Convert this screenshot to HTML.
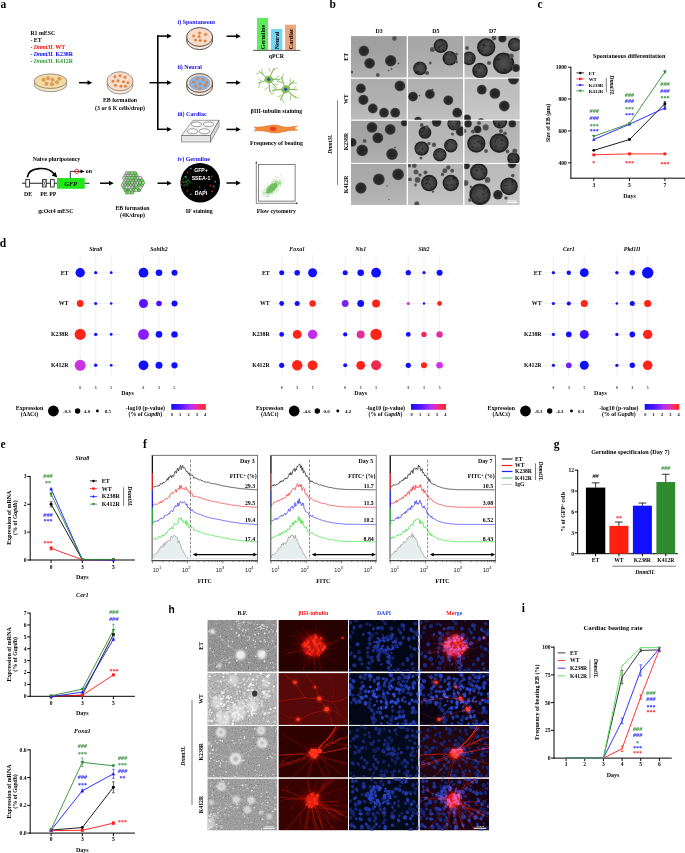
<!DOCTYPE html>
<html><head><meta charset="utf-8"><title>Figure</title>
<style>
html,body{margin:0;padding:0;background:#fff;}
body{width:685px;height:853px;overflow:hidden;font-family:"Liberation Serif",serif;}
svg{display:block;}
text{font-family:"Liberation Serif",serif;}
</style></head>
<body>
<svg width="685" height="853" viewBox="0 0 685 853">
<defs>
<filter id="bblur" x="-20%" y="-20%" width="140%" height="140%"><feGaussianBlur stdDeviation="0.55"/></filter>
<filter id="bblur2" x="-20%" y="-20%" width="140%" height="140%"><feGaussianBlur stdDeviation="0.75"/></filter>
<radialGradient id="sphS" cx="50%" cy="50%" r="50%"><stop offset="0" stop-color="#222"/><stop offset="0.75" stop-color="#2b2b2b"/><stop offset="1" stop-color="#4a4a4a"/></radialGradient>
<radialGradient id="sphL" cx="50%" cy="50%" r="50%"><stop offset="0" stop-color="#3e3e3e"/><stop offset="0.7" stop-color="#303030"/><stop offset="0.9" stop-color="#1c1c1c"/><stop offset="1" stop-color="#3a3a3a"/></radialGradient>
<radialGradient id="sphXL" cx="50%" cy="50%" r="50%"><stop offset="0" stop-color="#505050"/><stop offset="0.7" stop-color="#3c3c3c"/><stop offset="0.9" stop-color="#1e1e1e"/><stop offset="1" stop-color="#3a3a3a"/></radialGradient>
<radialGradient id="sphT" cx="50%" cy="50%" r="50%"><stop offset="0" stop-color="#484848"/><stop offset="1" stop-color="#5c5c5c"/></radialGradient>
<linearGradient id="bgv" x1="0" y1="0" x2="0" y2="1"><stop offset="0" stop-color="#000" stop-opacity="0.05"/><stop offset="1" stop-color="#fff" stop-opacity="0.10"/></linearGradient>
<clipPath id="bc00"><rect x="351.00" y="36.10" width="55.80" height="41.60"/></clipPath>
<clipPath id="bc01"><rect x="407.90" y="36.10" width="55.30" height="41.60"/></clipPath>
<clipPath id="bc02"><rect x="464.30" y="36.10" width="55.50" height="41.60"/></clipPath>
<clipPath id="bc10"><rect x="351.00" y="78.60" width="55.80" height="41.10"/></clipPath>
<clipPath id="bc11"><rect x="407.90" y="78.60" width="55.30" height="41.10"/></clipPath>
<clipPath id="bc12"><rect x="464.30" y="78.60" width="55.50" height="41.10"/></clipPath>
<clipPath id="bc20"><rect x="351.00" y="120.60" width="55.80" height="42.30"/></clipPath>
<clipPath id="bc21"><rect x="407.90" y="120.60" width="55.30" height="42.30"/></clipPath>
<clipPath id="bc22"><rect x="464.30" y="120.60" width="55.50" height="42.30"/></clipPath>
<clipPath id="bc30"><rect x="351.00" y="163.80" width="55.80" height="41.30"/></clipPath>
<clipPath id="bc31"><rect x="407.90" y="163.80" width="55.30" height="41.30"/></clipPath>
<clipPath id="bc32"><rect x="464.30" y="163.80" width="55.50" height="41.30"/></clipPath>
<linearGradient id="pgrad" x1="0" y1="0" x2="1" y2="0"><stop offset="0" stop-color="#1010ff"/><stop offset="0.3" stop-color="#5a18ff"/><stop offset="0.55" stop-color="#b030f8"/><stop offset="0.72" stop-color="#e030b0"/><stop offset="0.88" stop-color="#ff2848"/><stop offset="1" stop-color="#ff2418"/></linearGradient>
<filter id="hblur0" x="-30%" y="-30%" width="160%" height="160%"><feGaussianBlur stdDeviation="0.5"/></filter>
<filter id="hblur3" x="-30%" y="-30%" width="160%" height="160%"><feGaussianBlur stdDeviation="0.8"/></filter>
<filter id="hblur1" x="-40%" y="-40%" width="180%" height="180%"><feGaussianBlur stdDeviation="1.1"/></filter>
<filter id="hblur2" x="-50%" y="-50%" width="200%" height="200%"><feGaussianBlur stdDeviation="3"/></filter>
<filter id="hsoft" x="-5%" y="-5%" width="110%" height="110%"><feGaussianBlur stdDeviation="0.45"/></filter>
<filter id="grain" x="0" y="0" width="100%" height="100%"><feTurbulence type="fractalNoise" baseFrequency="0.85" numOctaves="2" seed="4" result="n"/><feColorMatrix in="n" type="matrix" values="1.7 0 0 0 -0.32  1.7 0 0 0 -0.32  1.7 0 0 0 -0.32  0 0 0 0 1"/></filter>
<filter id="rgrain" x="0" y="0" width="100%" height="100%"><feTurbulence type="fractalNoise" baseFrequency="0.9" numOctaves="1" seed="9" result="n"/><feColorMatrix in="n" type="matrix" values="0.5 0 0 0 0  0 0 0 0 0  0 0 0 0 0  0 0 0 0 0.55"/></filter>
<clipPath id="hclip"><rect x="0" y="0" width="69.6" height="51.8"/></clipPath>
<g id="hred0" filter="url(#hsoft)"><g fill="none" stroke="#f02412" stroke-linecap="round" stroke-linejoin="round" opacity="0.6"><path d="M16.9 31.7 L15.4 33.7 L13.6 35.4 L11.7 37.0 L9.8 38.7" stroke-width="0.13"/><path d="M9.6 33.6 L7.3 32.6 L5.0 31.8" stroke-width="0.13"/><path d="M26.3 28.3 L24.0 29.2 L21.6 29.9 L19.2 30.7 L16.9 31.7 L14.5 32.3 L12.0 32.9 L9.6 33.6 L7.2 34.1 L4.7 34.3" stroke-width="0.22"/><path d="M22.8 19.1 L21.6 17.0 L20.3 14.8 L19.6 12.4 L18.6 10.1" stroke-width="0.20"/><path d="M15.9 16.3 L13.8 17.7 L11.7 19.0" stroke-width="0.20"/><path d="M27.3 21.4 L25.0 20.4 L22.8 19.1 L20.5 18.1 L18.3 17.0 L15.9 16.3 L13.5 15.7 L11.0 15.2" stroke-width="0.33"/><path d="M35.5 35.0 L35.4 37.5 L35.6 40.0 L36.1 42.4 L37.0 44.7 L38.2 46.9" stroke-width="0.39"/><path d="M21.2 24.4 L19.7 22.4 L18.5 20.1 L17.7 17.8" stroke-width="0.22"/><path d="M26.0 25.7 L23.6 25.0 L21.2 24.4 L18.7 23.8 L16.3 23.4 L13.8 23.4" stroke-width="0.36"/><path d="M22.6 15.2 L21.9 12.8 L21.2 10.4" stroke-width="0.19"/><path d="M28.4 19.9 L26.7 18.1 L24.6 16.7 L22.6 15.2 L21.0 13.3 L19.1 11.6" stroke-width="0.32"/><path d="M37.5 9.7 L36.4 7.5 L35.2 5.2 L34.5 2.8" stroke-width="0.13"/><path d="M36.1 17.1 L36.8 14.7 L37.2 12.2 L37.5 9.7 L37.7 7.2 L37.7 4.7 L38.2 2.3 L38.9 -0.1" stroke-width="0.22"/><path d="M43.9 27.3 L46.3 27.9 L48.8 28.4 L51.3 28.6 L53.7 28.3 L56.2 28.2 L58.7 27.9" stroke-width="0.30"/><path d="M44.0 25.6 L46.4 24.9 L48.9 24.7 L51.3 24.2 L53.8 23.7 L56.2 22.9 L58.3 21.6" stroke-width="0.39"/><path d="M32.2 34.5 L31.8 37.0 L31.0 39.4 L30.6 41.9 L30.1 44.3 L29.7 46.8" stroke-width="0.30"/><path d="M44.0 25.1 L46.4 25.0 L48.9 24.4 L51.3 23.9 L53.8 23.6" stroke-width="0.35"/><path d="M53.7 40.8 L56.2 40.5 L58.7 40.7" stroke-width="0.15"/><path d="M41.4 32.3 L43.4 33.8 L45.4 35.3 L47.2 37.0 L49.3 38.4 L51.4 39.8 L53.7 40.8 L56.0 41.8" stroke-width="0.24"/><path d="M30.9 34.0 L29.9 36.3 L28.7 38.5 L27.7 40.8 L26.6 43.0 L25.8 45.4 L25.3 47.9 L24.7 50.3 L24.0 52.7" stroke-width="0.42"/><path d="M26.1 27.0 L23.6 27.2 L21.1 27.7 L18.6 27.9 L16.2 28.5 L13.8 29.2 L11.4 29.8 L8.9 30.4 L6.5 31.0 L4.2 31.8" stroke-width="0.26"/><path d="M30.8 18.1 L30.0 15.7 L28.8 13.5 L27.4 11.4 L25.8 9.5 L23.9 7.9" stroke-width="0.26"/><path d="M29.2 32.9 L27.4 34.6 L25.8 36.5 L24.4 38.6 L23.2 40.8 L22.4 43.1 L21.9 45.6" stroke-width="0.25"/><path d="M36.4 34.9 L36.5 37.4 L36.6 39.9 L36.6 42.4 L36.3 44.9 L36.4 47.4 L36.0 49.8 L35.6 52.3 L35.3 54.8" stroke-width="0.39"/><path d="M27.0 30.0 L24.5 30.3 L22.0 30.6 L19.6 31.0 L17.1 31.5 L14.6 31.9 L12.2 32.5 L9.8 32.9" stroke-width="0.43"/><path d="M40.0 35.0 L40.6 37.4 L41.1 39.9 L41.5 42.3 L41.6 44.8 L41.9 47.3 L41.9 49.8" stroke-width="0.43"/><path d="M44.0 24.0 L46.5 23.7 L49.0 23.5 L51.4 22.9 L53.8 22.2 L56.1 21.3 L58.5 20.4 L60.8 19.5 L63.2 18.9" stroke-width="0.31"/></g><circle cx="35.0" cy="26.0" r="13.5" fill="#a00c04" opacity="0.55" filter="url(#hblur2)"/><circle cx="35.0" cy="26.0" r="10.5" fill="#c8160a" opacity="0.8" filter="url(#hblur1)"/><circle cx="27.8" cy="23.7" r="1.0" fill="#c81408" opacity="0.8"/><circle cx="26.4" cy="25.9" r="1.4" fill="#ff2a14" opacity="0.8"/><circle cx="25.0" cy="26.5" r="1.5" fill="#c81408" opacity="0.8"/><circle cx="29.4" cy="23.4" r="1.3" fill="#ff3a20" opacity="0.8"/><circle cx="36.5" cy="27.0" r="1.4" fill="#ff2a14" opacity="0.8"/><circle cx="34.5" cy="23.1" r="1.3" fill="#c81408" opacity="0.8"/><circle cx="45.3" cy="27.6" r="1.6" fill="#c81408" opacity="0.8"/><circle cx="39.8" cy="20.5" r="1.2" fill="#e81c0c" opacity="0.8"/><circle cx="46.3" cy="26.1" r="1.3" fill="#ff3a20" opacity="0.8"/><circle cx="37.2" cy="28.7" r="1.5" fill="#c81408" opacity="0.8"/><circle cx="30.8" cy="25.9" r="1.1" fill="#e81c0c" opacity="0.8"/><circle cx="28.1" cy="26.7" r="1.2" fill="#ff3a20" opacity="0.8"/><circle cx="26.1" cy="30.9" r="1.3" fill="#c81408" opacity="0.8"/><circle cx="33.0" cy="30.6" r="1.4" fill="#c81408" opacity="0.8"/><circle cx="36.4" cy="20.8" r="1.4" fill="#c81408" opacity="0.8"/><circle cx="35.9" cy="33.6" r="1.2" fill="#c81408" opacity="0.8"/><circle cx="40.0" cy="35.0" r="1.8" fill="#e81c0c" opacity="0.8"/><circle cx="24.4" cy="24.9" r="1.7" fill="#e81c0c" opacity="0.8"/><circle cx="31.2" cy="33.7" r="1.3" fill="#ff3a20" opacity="0.8"/><circle cx="30.9" cy="27.0" r="1.4" fill="#ff3a20" opacity="0.8"/><circle cx="31.4" cy="29.4" r="1.4" fill="#ff3a20" opacity="0.8"/><circle cx="42.3" cy="26.6" r="0.8" fill="#ff3a20" opacity="0.8"/><circle cx="46.0" cy="27.2" r="0.8" fill="#c81408" opacity="0.8"/><circle cx="28.9" cy="32.7" r="1.6" fill="#e81c0c" opacity="0.8"/><circle cx="36.8" cy="15.6" r="1.8" fill="#e81c0c" opacity="0.8"/><circle cx="29.4" cy="21.6" r="1.2" fill="#ff2a14" opacity="0.8"/><circle cx="41.9" cy="17.5" r="0.8" fill="#ff2a14" opacity="0.8"/><circle cx="39.1" cy="33.2" r="1.3" fill="#ff2a14" opacity="0.8"/><circle cx="43.0" cy="32.5" r="0.9" fill="#ff2a14" opacity="0.8"/><circle cx="43.5" cy="31.9" r="0.8" fill="#c81408" opacity="0.8"/><circle cx="29.8" cy="22.0" r="1.4" fill="#ff2a14" opacity="0.8"/><circle cx="44.5" cy="29.6" r="1.9" fill="#ff3a20" opacity="0.8"/><circle cx="38.7" cy="27.4" r="0.9" fill="#ff3a20" opacity="0.8"/><circle cx="42.1" cy="19.8" r="1.2" fill="#c81408" opacity="0.8"/><circle cx="35.8" cy="29.6" r="1.6" fill="#ff2a14" opacity="0.8"/><circle cx="43.2" cy="24.3" r="1.6" fill="#e81c0c" opacity="0.8"/><circle cx="33.0" cy="21.0" r="1.7" fill="#c81408" opacity="0.8"/><circle cx="35.1" cy="20.4" r="1.7" fill="#ff2a14" opacity="0.8"/><circle cx="35.8" cy="26.9" r="0.9" fill="#c81408" opacity="0.8"/><circle cx="26.5" cy="23.4" r="1.0" fill="#ff2a14" opacity="0.8"/><circle cx="42.9" cy="18.3" r="1.3" fill="#ff2a14" opacity="0.8"/><circle cx="32.5" cy="31.8" r="1.5" fill="#c81408" opacity="0.8"/><circle cx="46.3" cy="27.5" r="1.9" fill="#ff2a14" opacity="0.8"/><circle cx="38.5" cy="25.4" r="1.3" fill="#ff3a20" opacity="0.8"/><circle cx="26.7" cy="25.8" r="0.9" fill="#ff2a14" opacity="0.8"/><circle cx="33.0" cy="34.6" r="1.6" fill="#e81c0c" opacity="0.8"/><circle cx="36.1" cy="21.3" r="1.8" fill="#ff3a20" opacity="0.8"/><circle cx="35.3" cy="22.8" r="1.0" fill="#ff3a20" opacity="0.8"/><circle cx="29.1" cy="32.7" r="1.8" fill="#e81c0c" opacity="0.8"/><circle cx="38.1" cy="16.3" r="1.2" fill="#e81c0c" opacity="0.8"/><circle cx="42.1" cy="32.6" r="1.7" fill="#c81408" opacity="0.8"/><circle cx="34.2" cy="17.5" r="1.4" fill="#c81408" opacity="0.8"/><circle cx="38.9" cy="29.8" r="1.4" fill="#c81408" opacity="0.8"/><circle cx="36.4" cy="24.1" r="1.7" fill="#ff2a14" opacity="0.8"/><circle cx="32.7" cy="18.6" r="0.8" fill="#ff2a14" opacity="0.8"/><circle cx="39.6" cy="19.6" r="1.5" fill="#c81408" opacity="0.8"/><circle cx="37.3" cy="29.4" r="1.9" fill="#c81408" opacity="0.8"/><circle cx="27.7" cy="24.9" r="1.9" fill="#ff2a14" opacity="0.8"/><circle cx="37.4" cy="17.8" r="1.7" fill="#ff3a20" opacity="0.8"/><circle cx="32.4" cy="24.4" r="0.8" fill="#e81c0c" opacity="0.8"/><circle cx="40.4" cy="31.0" r="1.4" fill="#ff2a14" opacity="0.8"/><circle cx="26.0" cy="22.5" r="0.9" fill="#ff3a20" opacity="0.8"/><circle cx="32.5" cy="17.5" r="1.7" fill="#c81408" opacity="0.8"/><circle cx="27.5" cy="24.8" r="1.8" fill="#ff2a14" opacity="0.8"/><circle cx="45.5" cy="23.1" r="0.8" fill="#e81c0c" opacity="0.8"/><circle cx="28.1" cy="33.6" r="1.2" fill="#e81c0c" opacity="0.8"/><circle cx="41.0" cy="23.4" r="1.7" fill="#ff2a14" opacity="0.8"/><circle cx="39.7" cy="28.7" r="1.6" fill="#ff2a14" opacity="0.8"/><circle cx="33.9" cy="31.5" r="1.5" fill="#ff2a14" opacity="0.8"/><circle cx="38.3" cy="23.8" r="1.0" fill="#ff2a14" opacity="0.8"/><circle cx="64.2" cy="18" r="1.3" fill="#e02010"/></g>
<g id="hdapi0" filter="url(#hsoft)"><ellipse cx="18.9" cy="28.1" rx="2.2" ry="1.8" fill="rgb(20,33,103)" transform="rotate(164 18.9 28.1)"/><ellipse cx="49.3" cy="49.7" rx="2.1" ry="2.1" fill="rgb(20,34,106)" transform="rotate(169 49.3 49.7)"/><ellipse cx="25.7" cy="27.6" rx="2.4" ry="2.3" fill="rgb(19,33,101)" transform="rotate(155 25.7 27.6)"/><ellipse cx="58.6" cy="51.4" rx="2.3" ry="2.3" fill="rgb(19,32,101)" transform="rotate(119 58.6 51.4)"/><ellipse cx="64.6" cy="48.6" rx="1.6" ry="1.2" fill="rgb(29,48,142)" transform="rotate(91 64.6 48.6)"/><ellipse cx="3.8" cy="12.5" rx="2.0" ry="1.5" fill="rgb(16,28,87)" transform="rotate(56 3.8 12.5)"/><ellipse cx="65.8" cy="29.2" rx="2.1" ry="1.8" fill="rgb(31,50,149)" transform="rotate(15 65.8 29.2)"/><ellipse cx="10.1" cy="32.2" rx="2.2" ry="2.2" fill="rgb(18,30,94)" transform="rotate(4 10.1 32.2)"/><ellipse cx="65.1" cy="12.0" rx="1.6" ry="1.3" fill="rgb(26,44,131)" transform="rotate(23 65.1 12.0)"/><ellipse cx="24.6" cy="9.0" rx="1.7" ry="1.5" fill="rgb(28,45,136)" transform="rotate(141 24.6 9.0)"/><ellipse cx="68.0" cy="10.6" rx="1.6" ry="1.3" fill="rgb(19,32,100)" transform="rotate(14 68.0 10.6)"/><ellipse cx="18.0" cy="4.1" rx="1.9" ry="1.3" fill="rgb(20,34,104)" transform="rotate(151 18.0 4.1)"/><ellipse cx="7.1" cy="0.8" rx="2.4" ry="1.8" fill="rgb(18,30,94)" transform="rotate(7 7.1 0.8)"/><ellipse cx="0.3" cy="27.3" rx="1.6" ry="1.6" fill="rgb(18,30,95)" transform="rotate(127 0.3 27.3)"/><ellipse cx="20.7" cy="19.0" rx="2.4" ry="2.0" fill="rgb(22,37,113)" transform="rotate(95 20.7 19.0)"/><ellipse cx="40.3" cy="16.3" rx="2.3" ry="1.5" fill="rgb(21,35,106)" transform="rotate(179 40.3 16.3)"/><ellipse cx="51.6" cy="12.6" rx="2.1" ry="1.4" fill="rgb(28,45,136)" transform="rotate(46 51.6 12.6)"/><ellipse cx="34.6" cy="19.1" rx="1.7" ry="1.1" fill="rgb(17,30,93)" transform="rotate(153 34.6 19.1)"/><ellipse cx="51.5" cy="23.4" rx="2.3" ry="2.2" fill="rgb(27,45,135)" transform="rotate(58 51.5 23.4)"/><ellipse cx="19.3" cy="48.2" rx="2.4" ry="1.7" fill="rgb(23,38,116)" transform="rotate(10 19.3 48.2)"/><ellipse cx="54.3" cy="17.9" rx="1.8" ry="1.5" fill="rgb(30,49,145)" transform="rotate(82 54.3 17.9)"/><ellipse cx="47.0" cy="26.1" rx="2.3" ry="1.7" fill="rgb(19,32,99)" transform="rotate(103 47.0 26.1)"/><ellipse cx="45.7" cy="0.6" rx="1.6" ry="1.1" fill="rgb(17,28,89)" transform="rotate(141 45.7 0.6)"/><ellipse cx="33.5" cy="0.1" rx="1.8" ry="1.5" fill="rgb(25,42,127)" transform="rotate(88 33.5 0.1)"/><ellipse cx="68.1" cy="51.2" rx="2.3" ry="1.6" fill="rgb(20,33,102)" transform="rotate(25 68.1 51.2)"/><ellipse cx="54.1" cy="44.3" rx="1.9" ry="1.7" fill="rgb(22,37,113)" transform="rotate(114 54.1 44.3)"/><ellipse cx="63.4" cy="43.8" rx="2.1" ry="1.5" fill="rgb(28,46,139)" transform="rotate(134 63.4 43.8)"/><ellipse cx="29.2" cy="8.2" rx="2.2" ry="1.7" fill="rgb(29,48,144)" transform="rotate(172 29.2 8.2)"/><ellipse cx="30.4" cy="33.4" rx="2.5" ry="2.1" fill="rgb(18,31,97)" transform="rotate(115 30.4 33.4)"/><ellipse cx="58.6" cy="39.4" rx="2.5" ry="1.9" fill="rgb(27,45,135)" transform="rotate(79 58.6 39.4)"/><ellipse cx="5.1" cy="7.8" rx="2.3" ry="1.6" fill="rgb(23,38,116)" transform="rotate(98 5.1 7.8)"/><ellipse cx="27.6" cy="13.5" rx="1.8" ry="1.7" fill="rgb(18,30,94)" transform="rotate(173 27.6 13.5)"/><ellipse cx="23.6" cy="40.9" rx="1.9" ry="1.6" fill="rgb(24,40,121)" transform="rotate(93 23.6 40.9)"/><ellipse cx="37.1" cy="33.5" rx="2.0" ry="1.5" fill="rgb(22,36,111)" transform="rotate(92 37.1 33.5)"/><ellipse cx="69.3" cy="23.9" rx="1.8" ry="1.4" fill="rgb(19,32,98)" transform="rotate(115 69.3 23.9)"/><ellipse cx="40.6" cy="51.2" rx="1.8" ry="1.5" fill="rgb(29,47,142)" transform="rotate(49 40.6 51.2)"/><ellipse cx="39.4" cy="41.9" rx="2.4" ry="2.4" fill="rgb(31,50,150)" transform="rotate(156 39.4 41.9)"/><ellipse cx="0.7" cy="50.3" rx="1.7" ry="1.7" fill="rgb(29,47,141)" transform="rotate(102 0.7 50.3)"/><ellipse cx="66.3" cy="3.7" rx="2.0" ry="1.7" fill="rgb(24,40,122)" transform="rotate(19 66.3 3.7)"/><ellipse cx="14.4" cy="14.5" rx="1.6" ry="1.2" fill="rgb(29,48,143)" transform="rotate(122 14.4 14.5)"/><ellipse cx="22.4" cy="15.3" rx="2.5" ry="2.4" fill="rgb(17,29,92)" transform="rotate(65 22.4 15.3)"/><ellipse cx="24.4" cy="30.8" rx="2.0" ry="1.5" fill="rgb(23,39,117)" transform="rotate(79 24.4 30.8)"/><ellipse cx="11.5" cy="6.2" rx="2.2" ry="2.1" fill="rgb(22,37,114)" transform="rotate(156 11.5 6.2)"/><ellipse cx="49.7" cy="9.6" rx="2.0" ry="2.0" fill="rgb(17,29,91)" transform="rotate(140 49.7 9.6)"/><ellipse cx="55.1" cy="9.0" rx="1.8" ry="1.4" fill="rgb(21,36,110)" transform="rotate(58 55.1 9.0)"/><ellipse cx="32.5" cy="44.5" rx="1.6" ry="1.1" fill="rgb(29,47,141)" transform="rotate(130 32.5 44.5)"/><ellipse cx="13.0" cy="44.1" rx="1.7" ry="1.7" fill="rgb(21,35,107)" transform="rotate(26 13.0 44.1)"/><ellipse cx="41.9" cy="45.1" rx="1.8" ry="1.4" fill="rgb(30,50,148)" transform="rotate(78 41.9 45.1)"/><ellipse cx="19.1" cy="36.6" rx="1.8" ry="1.6" fill="rgb(22,37,112)" transform="rotate(86 19.1 36.6)"/><ellipse cx="44.1" cy="28.2" rx="2.1" ry="1.8" fill="rgb(23,39,118)" transform="rotate(69 44.1 28.2)"/><ellipse cx="55.2" cy="51.6" rx="2.2" ry="1.9" fill="rgb(17,29,92)" transform="rotate(10 55.2 51.6)"/><ellipse cx="28.8" cy="30.5" rx="2.1" ry="1.6" fill="rgb(23,38,116)" transform="rotate(153 28.8 30.5)"/><ellipse cx="2.0" cy="33.7" rx="2.2" ry="1.7" fill="rgb(22,36,111)" transform="rotate(115 2.0 33.7)"/><ellipse cx="1.0" cy="16.7" rx="2.4" ry="2.0" fill="rgb(22,37,112)" transform="rotate(75 1.0 16.7)"/><ellipse cx="44.9" cy="50.9" rx="2.4" ry="1.5" fill="rgb(23,38,116)" transform="rotate(128 44.9 50.9)"/><ellipse cx="43.4" cy="15.3" rx="2.4" ry="2.0" fill="rgb(29,47,142)" transform="rotate(73 43.4 15.3)"/><ellipse cx="22.5" cy="37.9" rx="2.3" ry="1.9" fill="rgb(23,39,118)" transform="rotate(160 22.5 37.9)"/><ellipse cx="11.2" cy="39.0" rx="2.4" ry="2.4" fill="rgb(22,37,114)" transform="rotate(22 11.2 39.0)"/><ellipse cx="20.4" cy="43.1" rx="2.2" ry="1.8" fill="rgb(22,37,112)" transform="rotate(35 20.4 43.1)"/><ellipse cx="40.5" cy="38.8" rx="2.1" ry="1.5" fill="rgb(24,40,120)" transform="rotate(110 40.5 38.8)"/><ellipse cx="5.8" cy="36.6" rx="1.9" ry="1.7" fill="rgb(30,49,145)" transform="rotate(15 5.8 36.6)"/><ellipse cx="33.0" cy="8.3" rx="2.2" ry="2.2" fill="rgb(22,37,113)" transform="rotate(123 33.0 8.3)"/><ellipse cx="8.7" cy="24.3" rx="2.2" ry="2.0" fill="rgb(27,45,135)" transform="rotate(166 8.7 24.3)"/><ellipse cx="18.7" cy="32.7" rx="1.7" ry="1.4" fill="rgb(26,43,130)" transform="rotate(88 18.7 32.7)"/><ellipse cx="29.3" cy="37.0" rx="2.2" ry="1.9" fill="rgb(30,50,148)" transform="rotate(102 29.3 37.0)"/><ellipse cx="46.7" cy="21.8" rx="1.9" ry="1.3" fill="rgb(21,36,110)" transform="rotate(12 46.7 21.8)"/><ellipse cx="54.0" cy="5.6" rx="2.5" ry="2.1" fill="rgb(29,47,141)" transform="rotate(21 54.0 5.6)"/><ellipse cx="59.9" cy="18.9" rx="2.4" ry="1.7" fill="rgb(30,50,148)" transform="rotate(95 59.9 18.9)"/><ellipse cx="39.7" cy="47.9" rx="1.8" ry="1.7" fill="rgb(30,50,149)" transform="rotate(167 39.7 47.9)"/><ellipse cx="62.8" cy="35.8" rx="2.2" ry="2.1" fill="rgb(17,29,90)" transform="rotate(5 62.8 35.8)"/><ellipse cx="68.3" cy="14.1" rx="2.4" ry="2.3" fill="rgb(26,43,129)" transform="rotate(144 68.3 14.1)"/><ellipse cx="36.1" cy="3.3" rx="2.3" ry="1.6" fill="rgb(22,36,111)" transform="rotate(52 36.1 3.3)"/><ellipse cx="42.4" cy="8.6" rx="2.1" ry="2.1" fill="rgb(23,38,115)" transform="rotate(58 42.4 8.6)"/><ellipse cx="43.5" cy="38.3" rx="2.4" ry="1.9" fill="rgb(18,31,97)" transform="rotate(175 43.5 38.3)"/><ellipse cx="69.6" cy="31.3" rx="1.9" ry="1.3" fill="rgb(21,35,107)" transform="rotate(153 69.6 31.3)"/><ellipse cx="62.2" cy="9.8" rx="2.2" ry="1.7" fill="rgb(31,50,149)" transform="rotate(63 62.2 9.8)"/><ellipse cx="21.1" cy="5.2" rx="1.8" ry="1.2" fill="rgb(23,39,117)" transform="rotate(43 21.1 5.2)"/><ellipse cx="61.6" cy="27.2" rx="2.0" ry="1.4" fill="rgb(21,36,110)" transform="rotate(70 61.6 27.2)"/><ellipse cx="47.8" cy="18.6" rx="1.9" ry="1.5" fill="rgb(17,30,93)" transform="rotate(44 47.8 18.6)"/><ellipse cx="29.8" cy="40.1" rx="2.0" ry="1.5" fill="rgb(29,48,142)" transform="rotate(32 29.8 40.1)"/><ellipse cx="20.3" cy="13.0" rx="1.9" ry="1.5" fill="rgb(29,48,143)" transform="rotate(6 20.3 13.0)"/><ellipse cx="0.9" cy="2.8" rx="2.4" ry="2.3" fill="rgb(21,35,107)" transform="rotate(159 0.9 2.8)"/><ellipse cx="5.4" cy="45.4" rx="2.2" ry="2.0" fill="rgb(26,42,128)" transform="rotate(12 5.4 45.4)"/><ellipse cx="21.0" cy="23.7" rx="2.2" ry="2.1" fill="rgb(22,37,113)" transform="rotate(18 21.0 23.7)"/><ellipse cx="64.8" cy="17.9" rx="2.0" ry="2.0" fill="rgb(23,38,115)" transform="rotate(49 64.8 17.9)"/><ellipse cx="36.4" cy="30.5" rx="1.3" ry="1.3" fill="rgb(28,46,138)" transform="rotate(107 36.4 30.5)"/><ellipse cx="30.2" cy="20.0" rx="1.2" ry="0.9" fill="rgb(34,55,162)" transform="rotate(163 30.2 20.0)"/><ellipse cx="40.6" cy="29.1" rx="1.3" ry="0.9" fill="rgb(32,53,157)" transform="rotate(172 40.6 29.1)"/><ellipse cx="37.1" cy="17.4" rx="1.4" ry="1.3" fill="rgb(29,48,142)" transform="rotate(98 37.1 17.4)"/><ellipse cx="33.1" cy="29.4" rx="1.8" ry="1.4" fill="rgb(29,47,141)" transform="rotate(50 33.1 29.4)"/><ellipse cx="35.8" cy="21.0" rx="1.4" ry="1.0" fill="rgb(34,56,165)" transform="rotate(87 35.8 21.0)"/><ellipse cx="38.8" cy="27.3" rx="1.8" ry="1.5" fill="rgb(27,45,136)" transform="rotate(85 38.8 27.3)"/><ellipse cx="29.0" cy="26.1" rx="1.5" ry="1.5" fill="rgb(36,59,174)" transform="rotate(133 29.0 26.1)"/><ellipse cx="36.9" cy="29.9" rx="1.8" ry="1.5" fill="rgb(29,48,144)" transform="rotate(114 36.9 29.9)"/><ellipse cx="42.5" cy="29.7" rx="1.3" ry="1.0" fill="rgb(35,57,169)" transform="rotate(167 42.5 29.7)"/><ellipse cx="34.4" cy="18.1" rx="1.6" ry="1.2" fill="rgb(37,60,175)" transform="rotate(16 34.4 18.1)"/><ellipse cx="42.3" cy="18.4" rx="1.4" ry="1.0" fill="rgb(29,47,140)" transform="rotate(42 42.3 18.4)"/><ellipse cx="30.0" cy="21.9" rx="1.8" ry="1.4" fill="rgb(30,49,147)" transform="rotate(72 30.0 21.9)"/><ellipse cx="26.2" cy="26.6" rx="1.8" ry="1.7" fill="rgb(35,57,168)" transform="rotate(100 26.2 26.6)"/><ellipse cx="39.2" cy="28.6" rx="1.4" ry="1.4" fill="rgb(31,51,151)" transform="rotate(87 39.2 28.6)"/><ellipse cx="39.8" cy="29.2" rx="1.2" ry="1.2" fill="rgb(37,60,175)" transform="rotate(102 39.8 29.2)"/><ellipse cx="47.1" cy="22.5" rx="1.5" ry="1.2" fill="rgb(32,52,154)" transform="rotate(1 47.1 22.5)"/><ellipse cx="34.4" cy="20.9" rx="1.3" ry="1.2" fill="rgb(36,59,173)" transform="rotate(7 34.4 20.9)"/><ellipse cx="45.4" cy="22.2" rx="1.6" ry="1.5" fill="rgb(36,59,173)" transform="rotate(164 45.4 22.2)"/><ellipse cx="28.6" cy="27.0" rx="1.4" ry="1.2" fill="rgb(37,59,174)" transform="rotate(101 28.6 27.0)"/><ellipse cx="48.9" cy="27.5" rx="1.3" ry="0.9" fill="rgb(36,59,174)" transform="rotate(13 48.9 27.5)"/><ellipse cx="44.0" cy="28.5" rx="1.7" ry="1.2" fill="rgb(37,60,175)" transform="rotate(104 44.0 28.5)"/><ellipse cx="31.3" cy="20.6" rx="1.6" ry="1.5" fill="rgb(35,57,167)" transform="rotate(149 31.3 20.6)"/><ellipse cx="43.5" cy="25.7" rx="1.4" ry="1.0" fill="rgb(29,48,142)" transform="rotate(21 43.5 25.7)"/><ellipse cx="38.8" cy="30.6" rx="1.2" ry="1.0" fill="rgb(31,51,151)" transform="rotate(174 38.8 30.6)"/><ellipse cx="42.7" cy="33.0" rx="1.2" ry="1.1" fill="rgb(28,47,139)" transform="rotate(125 42.7 33.0)"/><ellipse cx="34.9" cy="31.9" rx="1.7" ry="1.6" fill="rgb(26,44,131)" transform="rotate(123 34.9 31.9)"/><ellipse cx="37.3" cy="30.7" rx="1.2" ry="1.0" fill="rgb(37,61,178)" transform="rotate(51 37.3 30.7)"/><ellipse cx="34.9" cy="30.0" rx="1.2" ry="1.2" fill="rgb(31,51,151)" transform="rotate(9 34.9 30.0)"/><ellipse cx="39.1" cy="33.8" rx="1.4" ry="1.0" fill="rgb(32,52,155)" transform="rotate(141 39.1 33.8)"/><ellipse cx="25.5" cy="22.2" rx="1.4" ry="1.1" fill="rgb(29,47,141)" transform="rotate(158 25.5 22.2)"/><ellipse cx="31.3" cy="32.3" rx="1.7" ry="1.7" fill="rgb(27,44,133)" transform="rotate(142 31.3 32.3)"/><ellipse cx="32.3" cy="29.0" rx="1.5" ry="1.1" fill="rgb(34,56,164)" transform="rotate(175 32.3 29.0)"/><ellipse cx="42.5" cy="18.4" rx="1.7" ry="1.4" fill="rgb(31,51,151)" transform="rotate(162 42.5 18.4)"/><ellipse cx="40.6" cy="36.0" rx="1.6" ry="1.2" fill="rgb(34,56,164)" transform="rotate(154 40.6 36.0)"/><ellipse cx="30.7" cy="35.4" rx="1.2" ry="1.0" fill="rgb(27,44,133)" transform="rotate(45 30.7 35.4)"/><ellipse cx="48.1" cy="25.9" rx="1.2" ry="1.1" fill="rgb(28,46,139)" transform="rotate(128 48.1 25.9)"/><ellipse cx="26.1" cy="27.1" rx="1.3" ry="1.3" fill="rgb(29,48,144)" transform="rotate(103 26.1 27.1)"/><ellipse cx="27.5" cy="28.8" rx="1.3" ry="1.0" fill="rgb(29,47,141)" transform="rotate(120 27.5 28.8)"/><ellipse cx="46.1" cy="20.8" rx="1.7" ry="1.1" fill="rgb(34,55,162)" transform="rotate(156 46.1 20.8)"/><ellipse cx="34.2" cy="15.3" rx="1.3" ry="0.9" fill="rgb(27,44,133)" transform="rotate(63 34.2 15.3)"/><ellipse cx="29.1" cy="18.3" rx="1.6" ry="1.1" fill="rgb(38,61,179)" transform="rotate(24 29.1 18.3)"/><ellipse cx="33.7" cy="26.2" rx="1.2" ry="0.9" fill="rgb(31,50,149)" transform="rotate(0 33.7 26.2)"/><ellipse cx="32.7" cy="28.6" rx="1.2" ry="1.0" fill="rgb(37,60,177)" transform="rotate(69 32.7 28.6)"/><ellipse cx="33.6" cy="26.4" rx="1.7" ry="1.1" fill="rgb(36,59,173)" transform="rotate(119 33.6 26.4)"/><ellipse cx="28.6" cy="22.6" rx="1.5" ry="1.4" fill="rgb(26,44,131)" transform="rotate(39 28.6 22.6)"/><ellipse cx="39.0" cy="36.9" rx="1.6" ry="1.3" fill="rgb(36,59,173)" transform="rotate(174 39.0 36.9)"/><ellipse cx="39.4" cy="19.3" rx="1.5" ry="1.2" fill="rgb(26,43,128)" transform="rotate(127 39.4 19.3)"/><ellipse cx="29.3" cy="25.0" rx="1.8" ry="1.4" fill="rgb(33,54,158)" transform="rotate(136 29.3 25.0)"/><ellipse cx="29.3" cy="35.2" rx="1.4" ry="1.0" fill="rgb(38,61,179)" transform="rotate(85 29.3 35.2)"/><ellipse cx="43.6" cy="22.3" rx="1.3" ry="0.9" fill="rgb(35,56,166)" transform="rotate(80 43.6 22.3)"/><ellipse cx="29.5" cy="35.9" rx="1.6" ry="1.3" fill="rgb(31,51,153)" transform="rotate(131 29.5 35.9)"/><ellipse cx="30.6" cy="29.8" rx="1.7" ry="1.5" fill="rgb(30,49,145)" transform="rotate(85 30.6 29.8)"/><ellipse cx="27.6" cy="22.2" rx="1.3" ry="1.2" fill="rgb(38,61,179)" transform="rotate(177 27.6 22.2)"/><ellipse cx="39.0" cy="20.0" rx="1.8" ry="1.7" fill="rgb(34,55,163)" transform="rotate(58 39.0 20.0)"/></g>
<g id="hred1" filter="url(#hsoft)"><g fill="none" stroke="#f02412" stroke-linecap="round" stroke-linejoin="round" opacity="0.8"><path d="M6.9 1.8 L11.7 6.3 L16.7 9.4" stroke-width="0.50"/><path d="M16.6 9.1 L20.2 15.1 L24.2 21.1 L26.4 24.4" stroke-width="0.43"/><path d="M-0.3 28.3 L10.2 26.7 L20.1 25.6 L25.7 24.6 L33.6 25.3 L41.2 25.3" stroke-width="0.50"/><path d="M41.1 25.7 L46.7 27.1 L53.3 29.0 L62.2 27.4 L69.2 23.9" stroke-width="0.43"/><path d="M41.0 25.6 L38.2 19.3 L36.9 13.8 L32.1 7.6 L27.9 2.1" stroke-width="0.37"/><path d="M40.9 25.4 L44.6 30.7 L48.3 36.3" stroke-width="0.62"/><path d="M48.2 36.3 L51.0 42.3 L53.7 49.7 L54.7 51.5" stroke-width="0.43"/><path d="M19.3 46.5 L27.3 43.2 L36.3 39.4 L43.7 37.8 L48.4 36.3" stroke-width="0.43"/><path d="M19.8 46.1 L15.3 49.4 L11.1 51.7" stroke-width="0.37"/><path d="M48.5 36.2 L55.9 38.0 L63.4 42.8 L69.4 47.1" stroke-width="0.31"/><path d="M53.4 29.0 L57.9 34.3 L59.9 40.3" stroke-width="0.25"/><path d="M3.2 40.2 L9.8 43.7 L19.3 45.9" stroke-width="0.25"/><path d="M50.1 -0.3 L51.8 8.1 L55.7 15.9 L53.4 28.8" stroke-width="0.22"/></g><circle cx="16.6" cy="9.2" r="2.8" fill="#ff3018" opacity="0.5" filter="url(#hblur1)"/><circle cx="16.6" cy="9.2" r="1.6" fill="#ff3a20"/><circle cx="40.9" cy="25.5" r="3.2" fill="#ff3018" opacity="0.5" filter="url(#hblur1)"/><circle cx="40.9" cy="25.5" r="2.0" fill="#ff3a20"/><circle cx="48.3" cy="36.1" r="3.5" fill="#ff3018" opacity="0.5" filter="url(#hblur1)"/><circle cx="48.3" cy="36.1" r="2.3" fill="#ff3a20"/><circle cx="19.7" cy="46.2" r="2.8" fill="#ff3018" opacity="0.5" filter="url(#hblur1)"/><circle cx="19.7" cy="46.2" r="1.6" fill="#ff3a20"/><circle cx="36.6" cy="14" r="2.2" fill="#ff3018" opacity="0.5" filter="url(#hblur1)"/><circle cx="36.6" cy="14" r="1.0" fill="#ff3a20"/></g>
<g id="hdapi1" filter="url(#hsoft)"><ellipse cx="35.2" cy="23.5" rx="2.4" ry="2.4" fill="rgb(27,45,135)" transform="rotate(47 35.2 23.5)"/><ellipse cx="38.8" cy="19.9" rx="2.0" ry="1.6" fill="rgb(36,58,170)" transform="rotate(40 38.8 19.9)"/><ellipse cx="58.1" cy="8.3" rx="1.8" ry="1.2" fill="rgb(28,46,139)" transform="rotate(136 58.1 8.3)"/><ellipse cx="31.3" cy="39.5" rx="2.2" ry="1.6" fill="rgb(34,55,162)" transform="rotate(66 31.3 39.5)"/><ellipse cx="42.2" cy="46.9" rx="1.9" ry="1.8" fill="rgb(25,42,127)" transform="rotate(29 42.2 46.9)"/><ellipse cx="20.1" cy="18.5" rx="1.7" ry="1.4" fill="rgb(43,70,203)" transform="rotate(86 20.1 18.5)"/><ellipse cx="21.2" cy="6.8" rx="1.7" ry="1.3" fill="rgb(24,40,121)" transform="rotate(118 21.2 6.8)"/><ellipse cx="5.2" cy="26.6" rx="2.4" ry="2.0" fill="rgb(28,46,137)" transform="rotate(94 5.2 26.6)"/><ellipse cx="20.7" cy="30.0" rx="2.3" ry="1.6" fill="rgb(20,34,104)" transform="rotate(70 20.7 30.0)"/><ellipse cx="66.9" cy="51.5" rx="1.7" ry="1.3" fill="rgb(38,62,182)" transform="rotate(38 66.9 51.5)"/><ellipse cx="54.2" cy="17.1" rx="2.4" ry="2.1" fill="rgb(29,47,141)" transform="rotate(59 54.2 17.1)"/><ellipse cx="26.7" cy="46.5" rx="1.8" ry="1.3" fill="rgb(24,40,122)" transform="rotate(54 26.7 46.5)"/><ellipse cx="17.1" cy="23.2" rx="1.9" ry="1.7" fill="rgb(41,67,194)" transform="rotate(17 17.1 23.2)"/><ellipse cx="38.8" cy="49.7" rx="1.7" ry="1.2" fill="rgb(28,46,137)" transform="rotate(28 38.8 49.7)"/><ellipse cx="50.9" cy="43.5" rx="2.1" ry="1.9" fill="rgb(38,62,182)" transform="rotate(75 50.9 43.5)"/><ellipse cx="24.3" cy="18.1" rx="2.2" ry="1.5" fill="rgb(33,55,161)" transform="rotate(163 24.3 18.1)"/><ellipse cx="60.5" cy="30.3" rx="1.8" ry="1.6" fill="rgb(39,63,184)" transform="rotate(78 60.5 30.3)"/><ellipse cx="50.1" cy="5.1" rx="2.3" ry="2.1" fill="rgb(27,45,136)" transform="rotate(92 50.1 5.1)"/><ellipse cx="4.3" cy="22.1" rx="1.6" ry="1.4" fill="rgb(23,38,115)" transform="rotate(174 4.3 22.1)"/><ellipse cx="21.4" cy="13.8" rx="1.7" ry="1.3" fill="rgb(40,66,191)" transform="rotate(2 21.4 13.8)"/><ellipse cx="56.8" cy="47.7" rx="1.8" ry="1.6" fill="rgb(27,45,134)" transform="rotate(20 56.8 47.7)"/><ellipse cx="15.6" cy="5.2" rx="2.2" ry="1.8" fill="rgb(23,38,115)" transform="rotate(174 15.6 5.2)"/><ellipse cx="13.1" cy="9.5" rx="1.8" ry="1.6" fill="rgb(20,33,102)" transform="rotate(1 13.1 9.5)"/><ellipse cx="50.4" cy="19.8" rx="2.1" ry="1.6" fill="rgb(26,43,129)" transform="rotate(78 50.4 19.8)"/><ellipse cx="68.1" cy="1.0" rx="2.4" ry="1.9" fill="rgb(23,38,117)" transform="rotate(28 68.1 1.0)"/><ellipse cx="37.3" cy="6.9" rx="2.3" ry="1.7" fill="rgb(30,50,148)" transform="rotate(122 37.3 6.9)"/><ellipse cx="59.1" cy="19.7" rx="2.1" ry="1.5" fill="rgb(25,42,127)" transform="rotate(151 59.1 19.7)"/><ellipse cx="16.7" cy="30.2" rx="2.4" ry="2.1" fill="rgb(37,60,175)" transform="rotate(117 16.7 30.2)"/><ellipse cx="60.7" cy="0.8" rx="2.0" ry="1.7" fill="rgb(27,45,134)" transform="rotate(89 60.7 0.8)"/><ellipse cx="29.2" cy="5.0" rx="2.4" ry="1.9" fill="rgb(31,51,152)" transform="rotate(171 29.2 5.0)"/><ellipse cx="64.8" cy="49.1" rx="1.9" ry="1.9" fill="rgb(37,60,175)" transform="rotate(10 64.8 49.1)"/><ellipse cx="29.7" cy="10.1" rx="2.3" ry="1.5" fill="rgb(26,43,131)" transform="rotate(100 29.7 10.1)"/><ellipse cx="53.7" cy="38.2" rx="2.1" ry="1.8" fill="rgb(22,36,111)" transform="rotate(154 53.7 38.2)"/><ellipse cx="55.2" cy="24.4" rx="1.7" ry="1.2" fill="rgb(31,51,151)" transform="rotate(8 55.2 24.4)"/><ellipse cx="37.8" cy="30.6" rx="2.2" ry="2.0" fill="rgb(22,37,113)" transform="rotate(73 37.8 30.6)"/><ellipse cx="49.0" cy="26.9" rx="2.4" ry="1.6" fill="rgb(35,56,166)" transform="rotate(94 49.0 26.9)"/><ellipse cx="11.6" cy="3.9" rx="1.9" ry="1.8" fill="rgb(34,56,166)" transform="rotate(155 11.6 3.9)"/><ellipse cx="57.1" cy="13.2" rx="2.4" ry="1.9" fill="rgb(34,56,165)" transform="rotate(52 57.1 13.2)"/><ellipse cx="47.4" cy="15.8" rx="1.9" ry="1.6" fill="rgb(38,61,179)" transform="rotate(94 47.4 15.8)"/><ellipse cx="69.3" cy="20.7" rx="2.2" ry="1.9" fill="rgb(43,70,204)" transform="rotate(157 69.3 20.7)"/><ellipse cx="25.1" cy="40.9" rx="1.9" ry="1.7" fill="rgb(23,39,118)" transform="rotate(134 25.1 40.9)"/><ellipse cx="4.6" cy="8.0" rx="2.2" ry="2.1" fill="rgb(33,54,159)" transform="rotate(26 4.6 8.0)"/><ellipse cx="36.2" cy="34.4" rx="2.1" ry="1.9" fill="rgb(22,37,113)" transform="rotate(5 36.2 34.4)"/><ellipse cx="43.7" cy="37.7" rx="1.9" ry="1.5" fill="rgb(23,39,118)" transform="rotate(68 43.7 37.7)"/><ellipse cx="49.8" cy="9.8" rx="2.0" ry="1.8" fill="rgb(24,40,121)" transform="rotate(150 49.8 9.8)"/><ellipse cx="11.6" cy="19.7" rx="2.0" ry="1.4" fill="rgb(20,34,105)" transform="rotate(76 11.6 19.7)"/><ellipse cx="29.8" cy="22.9" rx="2.0" ry="1.4" fill="rgb(22,37,114)" transform="rotate(154 29.8 22.9)"/><ellipse cx="52.0" cy="12.8" rx="2.3" ry="1.5" fill="rgb(23,39,118)" transform="rotate(27 52.0 12.8)"/><ellipse cx="25.4" cy="7.6" rx="2.2" ry="1.6" fill="rgb(31,52,153)" transform="rotate(89 25.4 7.6)"/><ellipse cx="66.6" cy="39.0" rx="2.3" ry="2.1" fill="rgb(23,38,115)" transform="rotate(57 66.6 39.0)"/><ellipse cx="32.3" cy="28.5" rx="1.9" ry="1.5" fill="rgb(39,64,187)" transform="rotate(83 32.3 28.5)"/><ellipse cx="3.7" cy="14.6" rx="1.9" ry="1.8" fill="rgb(28,47,140)" transform="rotate(161 3.7 14.6)"/><ellipse cx="34.2" cy="17.7" rx="1.6" ry="1.6" fill="rgb(20,33,103)" transform="rotate(67 34.2 17.7)"/><ellipse cx="20.3" cy="33.8" rx="2.1" ry="1.9" fill="rgb(22,37,112)" transform="rotate(67 20.3 33.8)"/><ellipse cx="44.3" cy="6.2" rx="2.0" ry="1.8" fill="rgb(31,51,152)" transform="rotate(92 44.3 6.2)"/><ellipse cx="16.7" cy="1.7" rx="2.2" ry="1.5" fill="rgb(30,49,146)" transform="rotate(1 16.7 1.7)"/><ellipse cx="23.9" cy="45.1" rx="2.4" ry="2.4" fill="rgb(26,43,129)" transform="rotate(46 23.9 45.1)"/><ellipse cx="0.0" cy="1.3" rx="1.8" ry="1.5" fill="rgb(41,66,192)" transform="rotate(149 0.0 1.3)"/><ellipse cx="10.6" cy="28.3" rx="2.4" ry="2.3" fill="rgb(31,51,151)" transform="rotate(70 10.6 28.3)"/><ellipse cx="22.8" cy="37.0" rx="2.4" ry="2.1" fill="rgb(25,42,127)" transform="rotate(53 22.8 37.0)"/><ellipse cx="50.9" cy="33.9" rx="1.8" ry="1.4" fill="rgb(34,55,162)" transform="rotate(82 50.9 33.9)"/><ellipse cx="33.5" cy="44.5" rx="2.1" ry="1.6" fill="rgb(35,57,168)" transform="rotate(69 33.5 44.5)"/><ellipse cx="68.8" cy="6.7" rx="1.6" ry="1.2" fill="rgb(27,44,133)" transform="rotate(160 68.8 6.7)"/><ellipse cx="45.1" cy="20.9" rx="1.8" ry="1.3" fill="rgb(39,63,184)" transform="rotate(156 45.1 20.9)"/><ellipse cx="59.5" cy="4.4" rx="2.1" ry="1.9" fill="rgb(43,69,202)" transform="rotate(101 59.5 4.4)"/><ellipse cx="63.5" cy="38.9" rx="2.4" ry="1.7" fill="rgb(28,46,138)" transform="rotate(137 63.5 38.9)"/><ellipse cx="35.4" cy="12.3" rx="2.1" ry="2.1" fill="rgb(27,44,133)" transform="rotate(7 35.4 12.3)"/><ellipse cx="57.3" cy="51.4" rx="2.4" ry="2.1" fill="rgb(35,56,166)" transform="rotate(12 57.3 51.4)"/><ellipse cx="21.3" cy="2.9" rx="2.5" ry="2.1" fill="rgb(39,63,184)" transform="rotate(38 21.3 2.9)"/><ellipse cx="53.9" cy="51.3" rx="2.1" ry="1.7" fill="rgb(21,36,110)" transform="rotate(86 53.9 51.3)"/><ellipse cx="41.9" cy="1.8" rx="2.4" ry="2.1" fill="rgb(38,62,180)" transform="rotate(35 41.9 1.8)"/><ellipse cx="37.7" cy="43.1" rx="2.4" ry="1.7" fill="rgb(27,44,132)" transform="rotate(32 37.7 43.1)"/><ellipse cx="1.0" cy="17.1" rx="2.1" ry="1.4" fill="rgb(43,69,201)" transform="rotate(113 1.0 17.1)"/><ellipse cx="54.8" cy="43.2" rx="2.5" ry="1.6" fill="rgb(40,64,187)" transform="rotate(117 54.8 43.2)"/><ellipse cx="56.3" cy="28.6" rx="1.7" ry="1.5" fill="rgb(28,46,137)" transform="rotate(145 56.3 28.6)"/><ellipse cx="32.4" cy="50.7" rx="1.9" ry="1.6" fill="rgb(29,47,141)" transform="rotate(102 32.4 50.7)"/><ellipse cx="63.0" cy="27.0" rx="1.6" ry="1.4" fill="rgb(43,70,203)" transform="rotate(83 63.0 27.0)"/><ellipse cx="24.8" cy="49.1" rx="2.2" ry="2.1" fill="rgb(24,40,122)" transform="rotate(43 24.8 49.1)"/><ellipse cx="48.8" cy="50.8" rx="1.8" ry="1.2" fill="rgb(41,66,191)" transform="rotate(115 48.8 50.8)"/><ellipse cx="1.6" cy="12.5" rx="2.4" ry="2.3" fill="rgb(35,57,168)" transform="rotate(120 1.6 12.5)"/><ellipse cx="25.7" cy="32.0" rx="1.7" ry="1.1" fill="rgb(41,66,194)" transform="rotate(152 25.7 32.0)"/><ellipse cx="65.8" cy="28.2" rx="2.0" ry="1.9" fill="rgb(28,46,138)" transform="rotate(164 65.8 28.2)"/><ellipse cx="43.8" cy="14.3" rx="1.6" ry="1.3" fill="rgb(38,62,181)" transform="rotate(177 43.8 14.3)"/><ellipse cx="49.9" cy="39.0" rx="2.0" ry="1.9" fill="rgb(25,41,125)" transform="rotate(91 49.9 39.0)"/><ellipse cx="0.9" cy="20.8" rx="2.0" ry="1.8" fill="rgb(42,68,197)" transform="rotate(104 0.9 20.8)"/><ellipse cx="2.5" cy="29.7" rx="1.7" ry="1.4" fill="rgb(23,38,115)" transform="rotate(66 2.5 29.7)"/><ellipse cx="40.0" cy="13.5" rx="1.7" ry="1.4" fill="rgb(31,52,153)" transform="rotate(138 40.0 13.5)"/><ellipse cx="63.9" cy="3.2" rx="1.8" ry="1.2" fill="rgb(42,68,198)" transform="rotate(161 63.9 3.2)"/><ellipse cx="61.5" cy="51.5" rx="2.3" ry="1.7" fill="rgb(40,65,191)" transform="rotate(139 61.5 51.5)"/><ellipse cx="54.2" cy="8.0" rx="2.1" ry="1.6" fill="rgb(25,41,124)" transform="rotate(26 54.2 8.0)"/><ellipse cx="7.4" cy="28.9" rx="2.5" ry="1.7" fill="rgb(27,44,132)" transform="rotate(96 7.4 28.9)"/><ellipse cx="43.3" cy="44.0" rx="2.0" ry="1.5" fill="rgb(20,34,106)" transform="rotate(108 43.3 44.0)"/><ellipse cx="12.1" cy="15.8" rx="1.9" ry="1.6" fill="rgb(33,53,157)" transform="rotate(12 12.1 15.8)"/><ellipse cx="28.0" cy="28.0" rx="1.6" ry="1.1" fill="rgb(31,50,149)" transform="rotate(87 28.0 28.0)"/><ellipse cx="53.4" cy="26.9" rx="2.0" ry="1.4" fill="rgb(38,62,182)" transform="rotate(92 53.4 26.9)"/><ellipse cx="56.4" cy="4.0" rx="2.5" ry="2.2" fill="rgb(28,46,139)" transform="rotate(1 56.4 4.0)"/><ellipse cx="65.0" cy="10.1" rx="2.4" ry="2.3" fill="rgb(33,53,158)" transform="rotate(158 65.0 10.1)"/><ellipse cx="64.3" cy="14.3" rx="2.5" ry="1.7" fill="rgb(36,59,174)" transform="rotate(70 64.3 14.3)"/><ellipse cx="16.8" cy="18.2" rx="2.1" ry="1.8" fill="rgb(33,54,160)" transform="rotate(152 16.8 18.2)"/><ellipse cx="43.5" cy="33.5" rx="1.6" ry="1.2" fill="rgb(32,52,155)" transform="rotate(122 43.5 33.5)"/><ellipse cx="64.2" cy="35.0" rx="2.2" ry="2.0" fill="rgb(35,57,169)" transform="rotate(154 64.2 35.0)"/><ellipse cx="30.1" cy="35.3" rx="1.8" ry="1.2" fill="rgb(33,54,160)" transform="rotate(169 30.1 35.3)"/><ellipse cx="43.1" cy="28.4" rx="2.2" ry="1.8" fill="rgb(42,68,198)" transform="rotate(13 43.1 28.4)"/><ellipse cx="40.5" cy="10.1" rx="1.7" ry="1.7" fill="rgb(26,43,128)" transform="rotate(86 40.5 10.1)"/><ellipse cx="28.1" cy="38.8" rx="1.6" ry="1.5" fill="rgb(27,45,134)" transform="rotate(41 28.1 38.8)"/><ellipse cx="25.0" cy="21.1" rx="1.8" ry="1.8" fill="rgb(39,63,185)" transform="rotate(106 25.0 21.1)"/><ellipse cx="61.9" cy="21.1" rx="2.0" ry="1.8" fill="rgb(29,48,144)" transform="rotate(110 61.9 21.1)"/><ellipse cx="9.5" cy="22.1" rx="1.7" ry="1.5" fill="rgb(25,42,127)" transform="rotate(33 9.5 22.1)"/><ellipse cx="47.2" cy="45.2" rx="2.1" ry="1.7" fill="rgb(36,58,170)" transform="rotate(163 47.2 45.2)"/><ellipse cx="30.2" cy="14.8" rx="2.3" ry="2.1" fill="rgb(29,47,141)" transform="rotate(89 30.2 14.8)"/><ellipse cx="69.5" cy="23.8" rx="1.8" ry="1.2" fill="rgb(27,45,134)" transform="rotate(7 69.5 23.8)"/><ellipse cx="12.9" cy="24.5" rx="2.4" ry="1.9" fill="rgb(41,67,195)" transform="rotate(34 12.9 24.5)"/><ellipse cx="0.4" cy="5.6" rx="1.8" ry="1.7" fill="rgb(32,53,156)" transform="rotate(5 0.4 5.6)"/><ellipse cx="53.5" cy="0.9" rx="2.0" ry="1.9" fill="rgb(29,48,144)" transform="rotate(81 53.5 0.9)"/><ellipse cx="41.6" cy="51.1" rx="2.2" ry="1.8" fill="rgb(27,45,135)" transform="rotate(177 41.6 51.1)"/><ellipse cx="69.1" cy="28.4" rx="2.4" ry="2.4" fill="rgb(33,54,159)" transform="rotate(75 69.1 28.4)"/><ellipse cx="14.1" cy="13.4" rx="2.2" ry="1.8" fill="rgb(36,58,170)" transform="rotate(153 14.1 13.4)"/><ellipse cx="21.5" cy="25.9" rx="2.0" ry="1.7" fill="rgb(21,35,108)" transform="rotate(28 21.5 25.9)"/><ellipse cx="34.5" cy="5.5" rx="1.7" ry="1.2" fill="rgb(39,64,186)" transform="rotate(163 34.5 5.5)"/><ellipse cx="59.9" cy="15.1" rx="2.3" ry="1.6" fill="rgb(39,63,184)" transform="rotate(116 59.9 15.1)"/><ellipse cx="42.2" cy="12.6" rx="1.5" ry="1.2" fill="rgb(50,80,230)" transform="rotate(119 42.2 12.6)"/><ellipse cx="35.7" cy="9.6" rx="1.5" ry="1.2" fill="rgb(36,58,171)" transform="rotate(31 35.7 9.6)"/><ellipse cx="25.4" cy="21.1" rx="1.6" ry="1.1" fill="rgb(46,75,216)" transform="rotate(99 25.4 21.1)"/><ellipse cx="37.8" cy="31.4" rx="1.3" ry="1.1" fill="rgb(47,76,220)" transform="rotate(118 37.8 31.4)"/><ellipse cx="45.3" cy="22.8" rx="1.6" ry="1.4" fill="rgb(48,77,223)" transform="rotate(77 45.3 22.8)"/><ellipse cx="25.8" cy="23.4" rx="1.3" ry="1.3" fill="rgb(50,80,230)" transform="rotate(120 25.8 23.4)"/><ellipse cx="46.6" cy="29.6" rx="1.6" ry="1.6" fill="rgb(46,74,214)" transform="rotate(54 46.6 29.6)"/><ellipse cx="42.3" cy="7.9" rx="1.5" ry="1.1" fill="rgb(35,57,168)" transform="rotate(1 42.3 7.9)"/><ellipse cx="43.8" cy="21.1" rx="1.3" ry="1.0" fill="rgb(43,69,201)" transform="rotate(137 43.8 21.1)"/><ellipse cx="41.0" cy="15.9" rx="1.7" ry="1.4" fill="rgb(38,62,181)" transform="rotate(60 41.0 15.9)"/><ellipse cx="32.3" cy="34.0" rx="1.3" ry="1.0" fill="rgb(50,80,230)" transform="rotate(17 32.3 34.0)"/><ellipse cx="29.2" cy="11.0" rx="1.7" ry="1.4" fill="rgb(50,80,230)" transform="rotate(152 29.2 11.0)"/><ellipse cx="34.7" cy="20.4" rx="1.6" ry="1.2" fill="rgb(50,80,230)" transform="rotate(156 34.7 20.4)"/><ellipse cx="37.4" cy="29.4" rx="1.6" ry="1.4" fill="rgb(50,80,230)" transform="rotate(146 37.4 29.4)"/><ellipse cx="53.1" cy="12.7" rx="1.3" ry="1.1" fill="rgb(38,62,180)" transform="rotate(80 53.1 12.7)"/><ellipse cx="49.5" cy="15.8" rx="1.4" ry="0.9" fill="rgb(37,60,177)" transform="rotate(94 49.5 15.8)"/><ellipse cx="29.4" cy="10.9" rx="1.3" ry="1.1" fill="rgb(44,71,207)" transform="rotate(127 29.4 10.9)"/><ellipse cx="36.9" cy="26.4" rx="1.3" ry="1.2" fill="rgb(39,63,183)" transform="rotate(110 36.9 26.4)"/><ellipse cx="28.1" cy="16.5" rx="1.6" ry="1.3" fill="rgb(48,77,223)" transform="rotate(70 28.1 16.5)"/><ellipse cx="52.0" cy="11.1" rx="1.1" ry="0.8" fill="rgb(38,62,180)" transform="rotate(168 52.0 11.1)"/><ellipse cx="32.6" cy="35.8" rx="1.2" ry="0.9" fill="rgb(47,75,217)" transform="rotate(20 32.6 35.8)"/><ellipse cx="47.0" cy="30.1" rx="1.5" ry="1.2" fill="rgb(45,73,212)" transform="rotate(76 47.0 30.1)"/><ellipse cx="37.3" cy="34.2" rx="1.5" ry="1.3" fill="rgb(49,79,229)" transform="rotate(134 37.3 34.2)"/><ellipse cx="48.2" cy="29.9" rx="1.3" ry="1.0" fill="rgb(40,64,188)" transform="rotate(46 48.2 29.9)"/><ellipse cx="48.3" cy="16.1" rx="1.4" ry="1.1" fill="rgb(50,80,230)" transform="rotate(49 48.3 16.1)"/><ellipse cx="49.5" cy="27.8" rx="1.5" ry="1.3" fill="rgb(42,68,199)" transform="rotate(61 49.5 27.8)"/><ellipse cx="27.4" cy="23.9" rx="1.6" ry="1.3" fill="rgb(50,80,230)" transform="rotate(25 27.4 23.9)"/><ellipse cx="50.8" cy="16.8" rx="1.7" ry="1.2" fill="rgb(49,79,228)" transform="rotate(113 50.8 16.8)"/><ellipse cx="23.8" cy="22.7" rx="1.3" ry="1.0" fill="rgb(44,71,206)" transform="rotate(73 23.8 22.7)"/><ellipse cx="41.7" cy="29.4" rx="1.3" ry="1.1" fill="rgb(48,77,223)" transform="rotate(155 41.7 29.4)"/></g>
<g id="hred2" filter="url(#hsoft)"><g fill="none" stroke="#f02412" stroke-linecap="round" stroke-linejoin="round" opacity="0.95"><path d="M47.5 19.5 L49.4 17.2 L51.0 14.7 L52.5 12.1 L54.1 9.5 L55.7 7.0" stroke-width="0.37"/><path d="M53.0 17.1 L54.2 14.4 L55.2 11.6 L56.4 8.8" stroke-width="0.37"/><path d="M39.3 23.1 L42.0 21.8 L44.7 20.7 L47.5 19.5 L50.2 18.2 L53.0 17.1 L55.7 15.9 L58.4 14.5 L61.1 13.1 L63.8 11.9" stroke-width="0.61"/><path d="M37.4 25.5 L39.3 23.1 L41.3 21.0 L43.4 18.8 L45.6 16.7 L47.7 14.7 L49.7 12.4 L51.6 10.1 L53.4 7.7 L55.0 5.1 L56.6 2.6 L58.0 -0.0 L59.7 -2.5 L61.4 -5.0" stroke-width="1.02"/><path d="M37.5 25.6 L39.5 23.4 L41.5 21.1 L43.5 18.9 L45.6 16.7 L47.8 14.7 L49.9 12.5 L51.8 10.2 L53.9 8.1 L55.9 5.9 L57.9 3.6 L59.9 1.3 L61.7 -1.0 L63.5 -3.5" stroke-width="0.68"/><path d="M65.1 22.9 L67.0 20.6 L69.0 18.3" stroke-width="0.46"/><path d="M38.6 27.5 L41.6 27.2 L44.5 26.9 L47.5 26.5 L50.4 25.8 L53.4 25.3 L56.3 24.7 L59.2 24.0 L62.2 23.3 L65.1 22.9 L68.1 22.4 L71.1 22.2 L74.1 21.8" stroke-width="0.77"/><path d="M53.9 17.6 L56.9 17.7 L59.9 18.2 L62.8 18.5 L65.8 18.8 L68.8 19.2" stroke-width="0.31"/><path d="M38.2 26.5 L40.8 24.9 L43.4 23.4 L46.1 22.1 L48.7 20.6 L51.3 19.1 L53.9 17.6 L56.6 16.4 L59.3 14.9 L62.0 13.7 L64.8 12.6 L67.6 11.7 L70.5 10.9" stroke-width="0.51"/><path d="M14.6 28.6 L12.0 30.0 L9.5 31.6 L6.9 33.2 L4.5 35.0 L2.0 36.7" stroke-width="0.41"/><path d="M32.6 28.2 L29.6 28.3 L26.6 28.4 L23.6 28.2 L20.6 28.1 L17.6 28.4 L14.6 28.6 L11.6 28.6 L8.6 28.8 L5.7 29.0 L2.7 29.3 L-0.3 29.5 L-3.3 29.9" stroke-width="0.68"/><path d="M32.7 28.8 L29.9 29.7 L27.1 30.8 L24.3 31.9 L21.6 33.2 L18.8 34.2 L15.9 35.0 L13.1 36.1 L10.2 36.9 L7.3 37.6 L4.4 38.4 L1.5 39.4 L-1.2 40.6" stroke-width="0.59"/><path d="M10.9 38.4 L8.1 37.1 L5.5 35.6 L2.9 34.3" stroke-width="0.26"/><path d="M33.1 29.6 L30.5 31.0 L27.8 32.3 L25.1 33.6 L22.2 34.6 L19.4 35.5 L16.6 36.6 L13.7 37.6 L10.9 38.4 L7.9 39.1 L5.1 40.1 L2.3 41.2 L-0.5 42.3" stroke-width="0.42"/><path d="M33.8 30.3 L32.0 32.7 L30.0 35.0 L27.9 37.1 L25.9 39.3 L23.9 41.5 L21.8 43.7 L19.8 45.9 L17.5 47.8 L15.3 49.9 L13.0 51.8 L10.6 53.6" stroke-width="0.38"/><path d="M34.9 30.8 L34.4 33.8 L33.8 36.7 L33.0 39.6 L32.4 42.5 L31.9 45.5 L31.1 48.4 L30.6 51.4 L30.1 54.3" stroke-width="0.34"/><path d="M44.1 47.1 L47.0 48.0 L49.8 48.9" stroke-width="0.20"/><path d="M36.7 30.7 L37.7 33.5 L38.9 36.3 L40.2 39.0 L41.3 41.8 L42.7 44.4 L44.1 47.1 L45.8 49.6 L47.3 52.2" stroke-width="0.34"/><path d="M38.1 29.6 L40.5 31.3 L43.0 33.1 L45.5 34.6 L47.9 36.4 L50.2 38.3 L52.6 40.2 L55.2 41.8 L57.6 43.6 L59.9 45.4 L62.1 47.5" stroke-width="0.30"/><path d="M44.1 30.9 L45.2 33.7 L46.1 36.5 L47.3 39.3 L48.5 42.0 L49.8 44.8 L50.8 47.6 L51.6 50.5" stroke-width="0.23"/><path d="M61.3 35.9 L63.4 38.1 L65.6 40.1 L67.7 42.2" stroke-width="0.23"/><path d="M38.5 28.6 L41.3 29.7 L44.1 30.9 L46.9 32.0 L49.7 33.0 L52.6 33.7 L55.5 34.4 L58.4 35.2 L61.3 35.9 L64.2 36.7 L67.2 37.3 L70.1 37.9 L73.1 38.1" stroke-width="0.38"/><path d="M33.0 26.4 L30.5 24.8 L28.0 23.1 L25.5 21.5 L23.0 19.8 L20.5 18.2 L18.0 16.4 L15.5 14.8 L12.9 13.3 L10.3 11.9 L7.7 10.3 L5.3 8.5" stroke-width="0.26"/><path d="M34.4 30.6 L33.2 33.4 L32.4 36.3 L31.5 39.2 L30.6 42.0 L29.8 44.9 L28.9 47.8 L27.9 50.6 L27.1 53.5 L26.2 56.4" stroke-width="0.26"/></g><circle cx="35.6" cy="27.9" r="7" fill="#a00c04" opacity="0.6" filter="url(#hblur2)"/><circle cx="35.6" cy="27.9" r="4.6" fill="#ff2c18" filter="url(#hblur1)"/><circle cx="37.3" cy="24.1" r="1.2" fill="#ff3a22"/><circle cx="35.9" cy="30.0" r="0.7" fill="#ff3a22"/><circle cx="35.7" cy="31.2" r="1.3" fill="#ff3a22"/><circle cx="38.4" cy="29.3" r="1.1" fill="#ff3a22"/><circle cx="37.0" cy="31.7" r="1.0" fill="#ff3a22"/><circle cx="35.7" cy="31.8" r="0.7" fill="#ff3a22"/><circle cx="35.6" cy="23.7" r="0.8" fill="#ff3a22"/><circle cx="33.8" cy="28.8" r="1.4" fill="#ff3a22"/><circle cx="34.5" cy="27.8" r="0.9" fill="#ff3a22"/><circle cx="37.5" cy="25.3" r="1.3" fill="#ff3a22"/><circle cx="33.2" cy="23.8" r="1.1" fill="#ff3a22"/><circle cx="39.9" cy="26.5" r="1.1" fill="#ff3a22"/><circle cx="34.9" cy="24.6" r="1.3" fill="#ff3a22"/><circle cx="31.3" cy="26.6" r="1.2" fill="#ff3a22"/><circle cx="33.2" cy="28.3" r="0.9" fill="#ff3a22"/><circle cx="32.9" cy="24.7" r="1.1" fill="#ff3a22"/><circle cx="41.5" cy="25" r="2.2" fill="#ff3018"/></g>
<g id="hdapi2" filter="url(#hsoft)"><ellipse cx="10.1" cy="25.4" rx="2.3" ry="2.1" fill="rgb(21,35,108)" transform="rotate(109 10.1 25.4)"/><ellipse cx="35.2" cy="50.2" rx="2.4" ry="2.1" fill="rgb(25,42,126)" transform="rotate(87 35.2 50.2)"/><ellipse cx="56.5" cy="40.9" rx="2.0" ry="1.6" fill="rgb(23,38,116)" transform="rotate(138 56.5 40.9)"/><ellipse cx="47.3" cy="8.1" rx="1.9" ry="1.5" fill="rgb(18,31,96)" transform="rotate(73 47.3 8.1)"/><ellipse cx="63.6" cy="22.5" rx="2.2" ry="1.8" fill="rgb(27,44,133)" transform="rotate(19 63.6 22.5)"/><ellipse cx="40.6" cy="5.2" rx="1.8" ry="1.5" fill="rgb(23,38,116)" transform="rotate(71 40.6 5.2)"/><ellipse cx="21.4" cy="43.6" rx="2.0" ry="1.4" fill="rgb(21,35,107)" transform="rotate(171 21.4 43.6)"/><ellipse cx="8.6" cy="4.4" rx="2.2" ry="1.8" fill="rgb(18,31,95)" transform="rotate(139 8.6 4.4)"/><ellipse cx="22.7" cy="18.1" rx="2.5" ry="2.0" fill="rgb(20,33,103)" transform="rotate(29 22.7 18.1)"/><ellipse cx="34.2" cy="25.1" rx="2.3" ry="2.0" fill="rgb(24,40,122)" transform="rotate(119 34.2 25.1)"/><ellipse cx="12.6" cy="0.1" rx="2.4" ry="1.8" fill="rgb(16,27,86)" transform="rotate(105 12.6 0.1)"/><ellipse cx="24.9" cy="15.7" rx="1.7" ry="1.4" fill="rgb(23,38,116)" transform="rotate(85 24.9 15.7)"/><ellipse cx="37.5" cy="29.0" rx="1.9" ry="1.7" fill="rgb(16,28,89)" transform="rotate(62 37.5 29.0)"/><ellipse cx="49.8" cy="22.9" rx="1.6" ry="1.3" fill="rgb(23,38,116)" transform="rotate(66 49.8 22.9)"/><ellipse cx="26.7" cy="33.5" rx="1.7" ry="1.7" fill="rgb(27,44,133)" transform="rotate(40 26.7 33.5)"/><ellipse cx="63.1" cy="34.3" rx="1.9" ry="1.4" fill="rgb(21,35,107)" transform="rotate(49 63.1 34.3)"/><ellipse cx="1.9" cy="15.5" rx="1.6" ry="1.4" fill="rgb(16,28,88)" transform="rotate(31 1.9 15.5)"/><ellipse cx="67.1" cy="49.9" rx="1.8" ry="1.3" fill="rgb(25,41,124)" transform="rotate(119 67.1 49.9)"/><ellipse cx="20.8" cy="11.0" rx="1.9" ry="1.5" fill="rgb(18,30,94)" transform="rotate(44 20.8 11.0)"/><ellipse cx="0.4" cy="6.4" rx="2.1" ry="2.0" fill="rgb(23,38,116)" transform="rotate(5 0.4 6.4)"/><ellipse cx="5.0" cy="50.9" rx="2.3" ry="1.7" fill="rgb(20,34,104)" transform="rotate(112 5.0 50.9)"/><ellipse cx="65.9" cy="17.5" rx="1.6" ry="1.6" fill="rgb(24,41,123)" transform="rotate(144 65.9 17.5)"/><ellipse cx="1.9" cy="47.4" rx="1.8" ry="1.2" fill="rgb(16,28,88)" transform="rotate(93 1.9 47.4)"/><ellipse cx="43.2" cy="46.8" rx="2.2" ry="1.8" fill="rgb(16,27,86)" transform="rotate(34 43.2 46.8)"/><ellipse cx="56.0" cy="34.8" rx="2.0" ry="1.7" fill="rgb(26,44,131)" transform="rotate(49 56.0 34.8)"/><ellipse cx="46.6" cy="36.3" rx="2.2" ry="2.1" fill="rgb(15,26,82)" transform="rotate(146 46.6 36.3)"/><ellipse cx="32.1" cy="49.4" rx="1.7" ry="1.5" fill="rgb(25,42,126)" transform="rotate(34 32.1 49.4)"/><ellipse cx="6.9" cy="21.1" rx="2.4" ry="1.7" fill="rgb(20,33,102)" transform="rotate(28 6.9 21.1)"/><ellipse cx="25.8" cy="25.1" rx="2.5" ry="2.4" fill="rgb(17,30,93)" transform="rotate(28 25.8 25.1)"/><ellipse cx="58.5" cy="3.9" rx="2.2" ry="2.1" fill="rgb(19,32,100)" transform="rotate(86 58.5 3.9)"/><ellipse cx="28.8" cy="23.1" rx="2.3" ry="2.3" fill="rgb(17,30,93)" transform="rotate(17 28.8 23.1)"/><ellipse cx="48.6" cy="32.4" rx="2.4" ry="1.7" fill="rgb(20,34,104)" transform="rotate(6 48.6 32.4)"/><ellipse cx="35.2" cy="19.0" rx="1.8" ry="1.4" fill="rgb(25,41,124)" transform="rotate(94 35.2 19.0)"/><ellipse cx="68.8" cy="42.2" rx="2.3" ry="2.3" fill="rgb(22,37,113)" transform="rotate(101 68.8 42.2)"/><ellipse cx="46.3" cy="4.3" rx="2.2" ry="1.9" fill="rgb(19,32,99)" transform="rotate(127 46.3 4.3)"/><ellipse cx="13.2" cy="22.2" rx="2.2" ry="1.7" fill="rgb(24,41,123)" transform="rotate(148 13.2 22.2)"/><ellipse cx="30.2" cy="7.2" rx="2.2" ry="2.1" fill="rgb(19,32,100)" transform="rotate(118 30.2 7.2)"/><ellipse cx="58.6" cy="46.0" rx="2.5" ry="2.0" fill="rgb(20,34,106)" transform="rotate(94 58.6 46.0)"/><ellipse cx="17.9" cy="37.1" rx="2.0" ry="1.8" fill="rgb(22,36,111)" transform="rotate(126 17.9 37.1)"/><ellipse cx="63.5" cy="4.7" rx="1.9" ry="1.3" fill="rgb(24,40,121)" transform="rotate(56 63.5 4.7)"/><ellipse cx="43.2" cy="33.9" rx="1.8" ry="1.4" fill="rgb(21,35,107)" transform="rotate(64 43.2 33.9)"/><ellipse cx="20.1" cy="7.2" rx="1.9" ry="1.5" fill="rgb(19,33,101)" transform="rotate(90 20.1 7.2)"/><ellipse cx="63.5" cy="9.5" rx="1.9" ry="1.6" fill="rgb(23,39,118)" transform="rotate(134 63.5 9.5)"/><ellipse cx="63.6" cy="41.5" rx="1.7" ry="1.2" fill="rgb(23,38,115)" transform="rotate(65 63.6 41.5)"/><ellipse cx="14.4" cy="50.4" rx="1.9" ry="1.3" fill="rgb(20,33,102)" transform="rotate(171 14.4 50.4)"/><ellipse cx="24.8" cy="30.5" rx="1.7" ry="1.4" fill="rgb(19,32,98)" transform="rotate(122 24.8 30.5)"/><ellipse cx="69.0" cy="47.1" rx="1.6" ry="1.5" fill="rgb(17,29,92)" transform="rotate(113 69.0 47.1)"/><ellipse cx="29.9" cy="14.8" rx="1.7" ry="1.3" fill="rgb(20,34,105)" transform="rotate(73 29.9 14.8)"/><ellipse cx="27.3" cy="42.6" rx="2.1" ry="1.6" fill="rgb(24,40,120)" transform="rotate(130 27.3 42.6)"/><ellipse cx="15.9" cy="2.1" rx="2.1" ry="1.7" fill="rgb(17,29,90)" transform="rotate(13 15.9 2.1)"/><ellipse cx="7.6" cy="10.8" rx="2.4" ry="2.2" fill="rgb(20,34,104)" transform="rotate(147 7.6 10.8)"/><ellipse cx="9.5" cy="38.2" rx="2.4" ry="1.6" fill="rgb(20,33,103)" transform="rotate(48 9.5 38.2)"/><ellipse cx="61.8" cy="50.5" rx="2.2" ry="2.0" fill="rgb(20,34,105)" transform="rotate(95 61.8 50.5)"/><ellipse cx="57.8" cy="49.3" rx="2.3" ry="1.6" fill="rgb(26,43,130)" transform="rotate(55 57.8 49.3)"/><ellipse cx="32.7" cy="45.4" rx="2.2" ry="1.7" fill="rgb(17,29,92)" transform="rotate(139 32.7 45.4)"/><ellipse cx="4.6" cy="13.0" rx="1.9" ry="1.4" fill="rgb(25,41,124)" transform="rotate(71 4.6 13.0)"/><ellipse cx="35.0" cy="35.9" rx="2.3" ry="2.0" fill="rgb(15,26,84)" transform="rotate(102 35.0 35.9)"/><ellipse cx="27.3" cy="2.8" rx="2.1" ry="2.0" fill="rgb(22,37,113)" transform="rotate(20 27.3 2.8)"/><ellipse cx="58.0" cy="10.9" rx="2.3" ry="1.9" fill="rgb(26,44,132)" transform="rotate(133 58.0 10.9)"/><ellipse cx="62.4" cy="29.1" rx="2.3" ry="2.1" fill="rgb(25,42,126)" transform="rotate(29 62.4 29.1)"/><ellipse cx="24.8" cy="39.6" rx="2.4" ry="1.6" fill="rgb(21,36,109)" transform="rotate(70 24.8 39.6)"/><ellipse cx="15.0" cy="41.2" rx="2.2" ry="1.8" fill="rgb(26,42,128)" transform="rotate(32 15.0 41.2)"/><ellipse cx="23.5" cy="50.9" rx="1.7" ry="1.5" fill="rgb(19,32,100)" transform="rotate(24 23.5 50.9)"/><ellipse cx="30.8" cy="4.2" rx="2.3" ry="2.1" fill="rgb(20,34,104)" transform="rotate(70 30.8 4.2)"/><ellipse cx="17.2" cy="22.2" rx="2.0" ry="1.4" fill="rgb(17,30,93)" transform="rotate(77 17.2 22.2)"/><ellipse cx="66.7" cy="11.0" rx="2.3" ry="2.2" fill="rgb(17,29,91)" transform="rotate(22 66.7 11.0)"/><ellipse cx="53.4" cy="37.3" rx="2.1" ry="2.0" fill="rgb(16,28,88)" transform="rotate(17 53.4 37.3)"/><ellipse cx="24.7" cy="47.3" rx="1.8" ry="1.5" fill="rgb(16,28,87)" transform="rotate(129 24.7 47.3)"/><ellipse cx="67.7" cy="25.8" rx="1.6" ry="1.2" fill="rgb(23,38,115)" transform="rotate(87 67.7 25.8)"/><ellipse cx="15.8" cy="34.4" rx="1.7" ry="1.3" fill="rgb(25,42,127)" transform="rotate(49 15.8 34.4)"/><ellipse cx="14.8" cy="15.8" rx="2.2" ry="1.6" fill="rgb(22,36,111)" transform="rotate(53 14.8 15.8)"/><ellipse cx="48.5" cy="28.4" rx="2.3" ry="1.7" fill="rgb(18,31,97)" transform="rotate(123 48.5 28.4)"/><ellipse cx="69.5" cy="21.3" rx="2.0" ry="1.6" fill="rgb(17,30,93)" transform="rotate(85 69.5 21.3)"/><ellipse cx="35.6" cy="3.3" rx="1.8" ry="1.4" fill="rgb(17,29,90)" transform="rotate(118 35.6 3.3)"/><ellipse cx="63.6" cy="26.3" rx="2.1" ry="1.5" fill="rgb(19,32,99)" transform="rotate(129 63.6 26.3)"/><ellipse cx="39.9" cy="39.9" rx="1.7" ry="1.2" fill="rgb(24,41,123)" transform="rotate(41 39.9 39.9)"/><ellipse cx="52.0" cy="0.9" rx="2.4" ry="2.3" fill="rgb(25,42,126)" transform="rotate(17 52.0 0.9)"/><ellipse cx="50.2" cy="45.3" rx="1.7" ry="1.4" fill="rgb(24,40,121)" transform="rotate(98 50.2 45.3)"/><ellipse cx="58.8" cy="21.9" rx="1.8" ry="1.7" fill="rgb(20,34,105)" transform="rotate(44 58.8 21.9)"/><ellipse cx="16.0" cy="9.0" rx="1.8" ry="1.4" fill="rgb(19,32,100)" transform="rotate(134 16.0 9.0)"/><ellipse cx="52.5" cy="26.8" rx="1.8" ry="1.6" fill="rgb(26,43,129)" transform="rotate(108 52.5 26.8)"/><ellipse cx="6.2" cy="27.0" rx="2.0" ry="1.8" fill="rgb(22,37,112)" transform="rotate(27 6.2 27.0)"/><ellipse cx="12.8" cy="32.2" rx="1.7" ry="1.4" fill="rgb(25,41,125)" transform="rotate(114 12.8 32.2)"/><ellipse cx="60.9" cy="14.9" rx="1.9" ry="1.4" fill="rgb(20,33,103)" transform="rotate(11 60.9 14.9)"/><ellipse cx="54.9" cy="2.0" rx="1.7" ry="1.3" fill="rgb(22,37,114)" transform="rotate(22 54.9 2.0)"/><ellipse cx="55.5" cy="47.2" rx="1.7" ry="1.5" fill="rgb(16,28,89)" transform="rotate(7 55.5 47.2)"/><ellipse cx="0.1" cy="33.9" rx="1.9" ry="1.5" fill="rgb(15,26,82)" transform="rotate(89 0.1 33.9)"/><ellipse cx="65.2" cy="30.1" rx="1.9" ry="1.5" fill="rgb(18,30,94)" transform="rotate(2 65.2 30.1)"/><ellipse cx="40.3" cy="11.9" rx="2.0" ry="1.9" fill="rgb(17,30,93)" transform="rotate(0 40.3 11.9)"/><ellipse cx="45.7" cy="45.0" rx="1.6" ry="1.6" fill="rgb(21,36,110)" transform="rotate(92 45.7 45.0)"/><ellipse cx="0.3" cy="20.9" rx="2.3" ry="1.7" fill="rgb(21,36,110)" transform="rotate(159 0.3 20.9)"/><ellipse cx="3.8" cy="37.6" rx="2.2" ry="1.8" fill="rgb(24,40,122)" transform="rotate(40 3.8 37.6)"/><ellipse cx="43.9" cy="49.9" rx="1.7" ry="1.3" fill="rgb(26,43,131)" transform="rotate(155 43.9 49.9)"/><ellipse cx="58.6" cy="37.1" rx="1.9" ry="1.7" fill="rgb(24,40,120)" transform="rotate(72 58.6 37.1)"/><ellipse cx="68.5" cy="6.1" rx="2.0" ry="1.8" fill="rgb(27,44,133)" transform="rotate(35 68.5 6.1)"/><ellipse cx="36.3" cy="14.7" rx="1.7" ry="1.7" fill="rgb(20,34,104)" transform="rotate(74 36.3 14.7)"/><ellipse cx="37.2" cy="45.5" rx="2.3" ry="2.1" fill="rgb(17,30,93)" transform="rotate(174 37.2 45.5)"/><ellipse cx="38.7" cy="18.6" rx="2.5" ry="2.4" fill="rgb(18,31,96)" transform="rotate(157 38.7 18.6)"/><ellipse cx="29.1" cy="36.4" rx="1.6" ry="1.6" fill="rgb(26,44,131)" transform="rotate(66 29.1 36.4)"/><ellipse cx="42.9" cy="14.6" rx="2.5" ry="1.9" fill="rgb(17,29,91)" transform="rotate(89 42.9 14.6)"/><ellipse cx="40.3" cy="23.4" rx="1.2" ry="0.8" fill="rgb(23,38,115)" transform="rotate(73 40.3 23.4)"/><ellipse cx="35.3" cy="26.1" rx="1.4" ry="1.2" fill="rgb(30,49,146)" transform="rotate(118 35.3 26.1)"/><ellipse cx="41.0" cy="22.7" rx="1.5" ry="1.1" fill="rgb(27,45,134)" transform="rotate(152 41.0 22.7)"/><ellipse cx="38.6" cy="22.2" rx="1.1" ry="0.9" fill="rgb(25,42,126)" transform="rotate(0 38.6 22.2)"/><ellipse cx="44.6" cy="29.4" rx="1.4" ry="1.3" fill="rgb(24,40,121)" transform="rotate(7 44.6 29.4)"/><ellipse cx="38.3" cy="23.0" rx="1.4" ry="1.2" fill="rgb(27,45,134)" transform="rotate(76 38.3 23.0)"/><ellipse cx="39.5" cy="23.6" rx="1.6" ry="1.1" fill="rgb(29,48,144)" transform="rotate(100 39.5 23.6)"/><ellipse cx="45.9" cy="24.7" rx="1.5" ry="1.0" fill="rgb(30,50,147)" transform="rotate(41 45.9 24.7)"/><ellipse cx="40.2" cy="22.6" rx="1.3" ry="0.9" fill="rgb(25,41,123)" transform="rotate(64 40.2 22.6)"/><ellipse cx="40.6" cy="28.6" rx="1.2" ry="1.1" fill="rgb(26,44,131)" transform="rotate(19 40.6 28.6)"/><ellipse cx="39.7" cy="21.7" rx="1.2" ry="1.2" fill="rgb(31,50,150)" transform="rotate(132 39.7 21.7)"/><ellipse cx="45.4" cy="24.4" rx="1.1" ry="0.9" fill="rgb(30,49,147)" transform="rotate(47 45.4 24.4)"/><ellipse cx="40.5" cy="27.8" rx="1.5" ry="1.4" fill="rgb(25,41,125)" transform="rotate(142 40.5 27.8)"/><ellipse cx="38.8" cy="23.6" rx="1.7" ry="1.4" fill="rgb(31,50,149)" transform="rotate(33 38.8 23.6)"/><ellipse cx="43.2" cy="28.9" rx="1.2" ry="1.1" fill="rgb(27,45,136)" transform="rotate(60 43.2 28.9)"/><ellipse cx="40.9" cy="23.0" rx="1.4" ry="1.2" fill="rgb(30,49,146)" transform="rotate(35 40.9 23.0)"/><ellipse cx="44.1" cy="23.3" rx="1.4" ry="1.3" fill="rgb(29,48,143)" transform="rotate(123 44.1 23.3)"/><ellipse cx="43.3" cy="29.8" rx="1.1" ry="0.9" fill="rgb(28,47,140)" transform="rotate(13 43.3 29.8)"/><ellipse cx="45.2" cy="28.1" rx="1.7" ry="1.2" fill="rgb(31,51,150)" transform="rotate(162 45.2 28.1)"/><ellipse cx="43.1" cy="27.3" rx="1.7" ry="1.5" fill="rgb(29,48,144)" transform="rotate(2 43.1 27.3)"/><ellipse cx="42.6" cy="28.4" rx="1.3" ry="1.1" fill="rgb(30,49,146)" transform="rotate(142 42.6 28.4)"/><ellipse cx="44.1" cy="21.7" rx="1.2" ry="1.1" fill="rgb(27,44,132)" transform="rotate(46 44.1 21.7)"/></g>
<g id="hred3" filter="url(#hsoft)"><g fill="none" stroke="#f02412" stroke-linecap="round" stroke-linejoin="round" opacity="0.9"><path d="M47.1 25.5 L48.6 28.1 L49.7 30.9 L51.0 33.6 L52.5 36.1 L54.4 38.5 L56.0 41.0 L57.7 43.5" stroke-width="0.15"/><path d="M56.0 26.6 L58.7 25.4 L61.3 23.9 L63.9 22.4 L66.6 21.1 L69.3 19.8" stroke-width="0.15"/><path d="M67.9 28.0 L70.3 29.7 L72.5 31.8" stroke-width="0.15"/><path d="M38.5 22.9 L41.4 23.6 L44.2 24.5 L47.1 25.5 L50.0 26.2 L53.0 26.6 L56.0 26.6 L58.9 27.0 L61.9 27.5 L64.9 27.6 L67.9 28.0 L70.9 28.0 L73.8 28.3" stroke-width="0.26"/><path d="M28.6 -0.7 L26.2 -2.5 L24.0 -4.6" stroke-width="0.29"/><path d="M32.5 16.8 L32.0 13.9 L31.1 11.0 L30.3 8.1 L29.8 5.1 L29.4 2.2 L28.6 -0.7 L27.4 -3.4" stroke-width="0.49"/><path d="M33.7 32.7 L36.0 34.5 L38.1 36.7 L40.1 39.0 L41.8 41.4 L43.9 43.5 L45.8 45.9 L47.5 48.3 L49.5 50.6" stroke-width="0.21"/><path d="M34.5 41.6 L36.3 44.0 L37.8 46.5 L39.4 49.1 L41.3 51.5 L43.3 53.6 L45.5 55.7" stroke-width="0.21"/><path d="M33.3 26.7 L33.3 29.7 L33.7 32.7 L34.2 35.6 L34.3 38.6 L34.5 41.6 L35.0 44.6 L35.5 47.5 L36.1 50.5 L37.0 53.3 L38.0 56.1 L39.1 59.0 L40.3 61.7" stroke-width="0.34"/><path d="M44.9 29.9 L47.9 29.9 L50.9 30.2 L53.9 30.4 L56.9 31.0 L59.8 31.6 L62.7 32.4" stroke-width="0.29"/><path d="M55.0 36.5 L57.9 36.0 L60.9 35.8 L63.9 35.4" stroke-width="0.29"/><path d="M37.8 24.4 L40.1 26.3 L42.5 28.1 L44.9 29.9 L47.4 31.6 L50.0 33.1 L52.5 34.8 L55.0 36.5 L57.3 38.4 L59.8 40.0 L62.0 42.0" stroke-width="0.48"/><path d="M38.2 23.7 L41.0 24.8 L43.8 25.9 L46.7 26.5 L49.5 27.6 L52.2 29.0 L54.7 30.6 L57.3 32.1 L59.7 33.8 L62.1 35.7 L64.6 37.4" stroke-width="0.41"/><path d="M36.4 25.9 L37.9 28.4 L39.3 31.1 L40.3 33.9 L41.3 36.7 L42.0 39.7 L42.5 42.6 L43.3 45.5 L44.1 48.4" stroke-width="0.41"/><path d="M37.7 24.5 L40.4 25.9 L43.0 27.3 L45.7 28.8 L48.5 29.8 L51.3 30.8 L54.2 31.5 L57.2 32.1 L60.0 32.9 L63.0 33.4 L66.0 33.3 L69.0 33.7" stroke-width="0.36"/><path d="M28.9 20.0 L26.0 19.1 L23.1 18.5 L20.1 18.4 L17.1 18.6 L14.1 19.1 L11.3 20.0 L8.3 20.5 L5.5 21.4 L2.6 22.4" stroke-width="0.22"/><path d="M35.1 16.9 L35.9 14.0 L36.4 11.1 L36.9 8.1 L37.8 5.3 L38.6 2.4 L39.3 -0.5 L40.0 -3.5 L41.0 -6.3 L42.0 -9.1 L43.0 -11.9 L43.7 -14.9 L44.0 -17.8" stroke-width="0.29"/><path d="M37.6 24.8 L39.6 26.9 L41.5 29.3 L43.3 31.7 L45.3 33.9 L47.5 36.0 L49.3 38.4 L51.0 40.9" stroke-width="0.45"/><path d="M59.4 22.7 L61.4 20.5 L63.2 18.1" stroke-width="0.25"/><path d="M38.5 22.9 L41.4 23.2 L44.4 23.5 L47.4 23.3 L50.4 23.2 L53.4 23.2 L56.4 23.2 L59.4 22.7" stroke-width="0.42"/><path d="M31.8 26.4 L31.0 29.3 L30.3 32.2 L29.3 35.0 L28.7 37.9 L28.0 40.9 L27.7 43.8 L26.9 46.8 L26.2 49.7" stroke-width="0.40"/><path d="M52.6 47.2 L55.3 48.6 L58.0 50.0" stroke-width="0.25"/><path d="M35.9 26.1 L37.5 28.7 L39.4 31.0 L41.4 33.2 L43.4 35.5 L45.4 37.7 L47.5 39.9 L49.2 42.3 L51.1 44.7 L52.6 47.2 L54.1 49.8 L55.3 52.6 L56.6 55.3" stroke-width="0.42"/><path d="M23.1 18.5 L20.7 20.3 L18.4 22.2 L16.3 24.3 L14.5 26.7 L12.6 29.1" stroke-width="0.25"/><path d="M9.3 12.8 L8.5 9.9 L7.6 7.0" stroke-width="0.25"/><path d="M28.9 20.0 L26.0 19.4 L23.1 18.5 L20.4 17.2 L17.5 16.3 L14.7 15.2 L11.9 14.1 L9.3 12.8 L6.4 11.8 L3.6 10.9" stroke-width="0.42"/><path d="M38.2 23.6 L41.0 24.8 L43.5 26.4 L45.7 28.4 L47.7 30.7 L49.3 33.2 L51.1 35.6 L53.2 37.7 L55.6 39.6" stroke-width="0.49"/><path d="M38.3 20.0 L41.1 18.8 L43.7 17.4 L46.3 16.0 L49.1 14.9 L51.8 13.5 L54.7 12.6 L57.6 12.0 L60.6 11.6 L63.5 10.8 L66.3 9.8 L69.1 8.7 L72.0 7.9" stroke-width="0.22"/><path d="M48.7 4.6 L48.5 1.6 L48.6 -1.4" stroke-width="0.20"/><path d="M36.6 17.7 L38.2 15.1 L40.0 12.8 L42.1 10.6 L44.3 8.6 L46.6 6.7 L48.7 4.6 L51.1 2.7" stroke-width="0.33"/><path d="M36.9 18.0 L39.2 16.0 L41.4 14.0 L43.5 11.8 L45.6 9.7 L47.9 7.8 L50.0 5.6 L51.9 3.3 L54.0 1.1 L56.2 -0.8" stroke-width="0.32"/><path d="M14.0 30.2 L11.0 30.6 L8.1 30.9" stroke-width="0.11"/><path d="M25.7 20.9 L23.1 22.4 L20.7 24.3 L18.4 26.1 L16.1 28.0 L14.0 30.2" stroke-width="0.19"/><path d="M28.6 21.3 L25.7 20.9 L22.7 20.7 L19.7 20.9 L16.7 21.1 L13.7 21.3 L10.7 21.0 L7.7 20.7" stroke-width="0.31"/><path d="M43.6 8.8 L46.1 7.1 L48.5 5.4 L50.9 3.6 L53.2 1.6 L55.3 -0.5" stroke-width="0.11"/><path d="M43.5 11.8 L43.6 8.8 L44.2 5.9 L44.9 3.0 L45.1 -0.0 L45.2 -3.0 L44.9 -6.0 L44.3 -9.0 L43.8 -11.9" stroke-width="0.19"/><path d="M45.6 9.6 L44.9 6.7 L43.8 3.9 L42.9 1.1 L41.5 -1.6 L40.3 -4.3 L39.5 -7.2 L38.4 -10.0" stroke-width="0.19"/><path d="M52.5 3.9 L52.9 0.9 L53.8 -1.9 L54.6 -4.8 L55.5 -7.7 L56.8 -10.4" stroke-width="0.19"/><path d="M57.1 0.1 L60.1 0.2 L63.1 0.2 L66.1 -0.2 L69.1 -0.3" stroke-width="0.19"/><path d="M60.7 -9.6 L62.1 -12.3 L63.7 -14.8" stroke-width="0.11"/><path d="M61.7 -3.7 L61.4 -6.7 L60.7 -9.6" stroke-width="0.19"/><path d="M37.4 18.4 L39.4 16.2 L41.4 14.0 L43.5 11.8 L45.6 9.6 L47.8 7.7 L50.0 5.7 L52.5 3.9 L54.7 1.9 L57.1 0.1 L59.5 -1.7 L61.7 -3.7 L63.8 -5.9 L65.6 -8.3 L67.2 -10.8" stroke-width="0.32"/><path d="M34.2 26.7 L34.5 29.7 L34.7 32.6 L35.0 35.6 L35.5 38.6 L36.3 41.5 L37.0 44.4 L37.7 47.3 L38.6 50.2 L39.5 53.0 L40.6 55.8" stroke-width="0.50"/><path d="M35.4 26.4 L36.5 29.2 L37.8 31.9 L38.9 34.6 L39.9 37.5 L40.8 40.4 L41.8 43.2 L42.8 46.0 L43.9 48.8 L45.0 51.6 L46.2 54.3 L47.6 57.0" stroke-width="0.50"/><path d="M32.7 26.6 L32.1 29.6 L31.5 32.5 L30.7 35.4 L30.1 38.3 L29.4 41.3 L28.8 44.2 L28.3 47.1 L27.9 50.1 L27.4 53.1 L26.9 56.0" stroke-width="0.43"/><path d="M38.1 23.9 L40.8 25.2 L43.4 26.6 L46.2 27.9 L48.8 29.3 L51.5 30.5 L54.2 31.8 L57.0 33.0 L59.7 34.3 L62.5 35.5 L65.2 36.8 L67.8 38.3 L70.5 39.6 L73.2 40.8" stroke-width="0.43"/><path d="M22.1 34.2 L22.0 37.2 L22.2 40.1 L22.4 43.1 L22.4 46.1 L22.3 49.1 L22.4 52.1" stroke-width="0.26"/><path d="M30.3 25.4 L28.2 27.6 L26.0 29.6 L24.0 31.8 L22.1 34.2 L20.1 36.5 L18.4 38.9 L16.5 41.2 L14.5 43.5 L12.6 45.8 L10.7 48.1 L8.9 50.5 L7.2 53.0" stroke-width="0.43"/><path d="M52.3 -4.2 L54.9 -5.7 L57.5 -7.2" stroke-width="0.22"/><path d="M54.1 -6.6 L57.1 -7.0 L60.0 -7.5" stroke-width="0.22"/><path d="M36.7 17.8 L38.5 15.4 L40.3 13.0 L42.3 10.7 L44.1 8.3 L45.8 5.9 L47.5 3.4 L49.0 0.8 L50.7 -1.7 L52.3 -4.2 L54.1 -6.6" stroke-width="0.37"/><path d="M28.7 20.9 L25.7 20.4 L22.7 20.0 L19.7 19.8 L16.7 19.7 L13.7 19.6 L10.8 19.4 L7.8 19.2 L4.8 18.8 L1.8 18.6 L-1.2 18.4 L-4.2 18.5 L-7.2 18.6" stroke-width="0.37"/></g><circle cx="33.6" cy="21.7" r="10" fill="#a00c04" opacity="0.6" filter="url(#hblur2)"/><circle cx="33.6" cy="21.7" r="6.3" fill="#f02412" opacity="0.9" filter="url(#hblur1)"/><circle cx="33.1" cy="23.8" r="0.8" fill="#ff2a14" opacity="0.85"/><circle cx="31.5" cy="26.1" r="0.8" fill="#ff2a14" opacity="0.85"/><circle cx="30.1" cy="23.0" r="1.1" fill="#e01c0c" opacity="0.85"/><circle cx="30.6" cy="19.2" r="1.0" fill="#e01c0c" opacity="0.85"/><circle cx="32.7" cy="29.1" r="0.7" fill="#ff3a22" opacity="0.85"/><circle cx="34.1" cy="27.3" r="1.1" fill="#ff3a22" opacity="0.85"/><circle cx="38.7" cy="17.1" r="1.4" fill="#e01c0c" opacity="0.85"/><circle cx="30.5" cy="28.3" r="1.0" fill="#ff3a22" opacity="0.85"/><circle cx="38.4" cy="25.5" r="1.3" fill="#ff3a22" opacity="0.85"/><circle cx="33.1" cy="28.1" r="1.1" fill="#ff3a22" opacity="0.85"/><circle cx="33.5" cy="26.3" r="0.7" fill="#ff2a14" opacity="0.85"/><circle cx="31.2" cy="23.1" r="1.3" fill="#ff3a22" opacity="0.85"/><circle cx="31.0" cy="17.4" r="1.2" fill="#e01c0c" opacity="0.85"/><circle cx="29.7" cy="18.0" r="1.1" fill="#e01c0c" opacity="0.85"/><circle cx="33.3" cy="26.0" r="0.9" fill="#e01c0c" opacity="0.85"/><circle cx="32.6" cy="21.5" r="0.7" fill="#ff2a14" opacity="0.85"/><circle cx="32.4" cy="23.9" r="0.8" fill="#ff2a14" opacity="0.85"/><circle cx="36.8" cy="24.0" r="1.3" fill="#ff2a14" opacity="0.85"/><circle cx="33.4" cy="15.5" r="1.3" fill="#ff2a14" opacity="0.85"/><circle cx="30.1" cy="25.7" r="1.3" fill="#e01c0c" opacity="0.85"/><circle cx="31.9" cy="22.0" r="1.1" fill="#e01c0c" opacity="0.85"/><circle cx="34.4" cy="15.8" r="1.2" fill="#ff2a14" opacity="0.85"/><circle cx="38.9" cy="16.6" r="0.9" fill="#ff3a22" opacity="0.85"/><circle cx="35.6" cy="20.8" r="0.8" fill="#ff3a22" opacity="0.85"/><circle cx="38.2" cy="19.5" r="1.2" fill="#e01c0c" opacity="0.85"/><circle cx="28.3" cy="26.0" r="1.2" fill="#ff2a14" opacity="0.85"/><circle cx="37.0" cy="23.6" r="1.4" fill="#ff2a14" opacity="0.85"/><circle cx="36.1" cy="24.8" r="1.0" fill="#ff3a22" opacity="0.85"/><circle cx="32.9" cy="27.8" r="1.2" fill="#e01c0c" opacity="0.85"/><circle cx="36.8" cy="20.8" r="1.2" fill="#ff3a22" opacity="0.85"/><circle cx="39.2" cy="19.3" r="0.8" fill="#ff2a14" opacity="0.85"/><circle cx="33.4" cy="17.4" r="0.7" fill="#e01c0c" opacity="0.85"/><circle cx="35.5" cy="20.2" r="1.1" fill="#ff2a14" opacity="0.85"/><circle cx="34.7" cy="18.5" r="0.8" fill="#e01c0c" opacity="0.85"/><circle cx="34.0" cy="26.6" r="0.9" fill="#e01c0c" opacity="0.85"/><circle cx="31.5" cy="27.2" r="1.0" fill="#ff3a22" opacity="0.85"/><circle cx="35.2" cy="14.6" r="1.1" fill="#e01c0c" opacity="0.85"/><circle cx="32.1" cy="17.7" r="1.1" fill="#e01c0c" opacity="0.85"/><circle cx="39.4" cy="17.0" r="1.3" fill="#ff3a22" opacity="0.85"/><circle cx="38.6" cy="22.3" r="1.1" fill="#e01c0c" opacity="0.85"/></g>
<g id="hdapi3" filter="url(#hsoft)"><ellipse cx="34.5" cy="44.4" rx="1.7" ry="1.4" fill="rgb(26,42,128)" transform="rotate(14 34.5 44.4)"/><ellipse cx="6.2" cy="19.6" rx="2.3" ry="1.6" fill="rgb(31,52,153)" transform="rotate(156 6.2 19.6)"/><ellipse cx="3.4" cy="33.7" rx="2.5" ry="2.4" fill="rgb(20,34,104)" transform="rotate(100 3.4 33.7)"/><ellipse cx="13.2" cy="16.0" rx="1.7" ry="1.3" fill="rgb(24,40,121)" transform="rotate(60 13.2 16.0)"/><ellipse cx="57.0" cy="2.8" rx="2.3" ry="1.7" fill="rgb(35,57,168)" transform="rotate(98 57.0 2.8)"/><ellipse cx="56.5" cy="24.6" rx="2.0" ry="1.6" fill="rgb(22,36,111)" transform="rotate(20 56.5 24.6)"/><ellipse cx="43.6" cy="46.7" rx="1.8" ry="1.7" fill="rgb(31,51,152)" transform="rotate(14 43.6 46.7)"/><ellipse cx="16.0" cy="23.1" rx="1.8" ry="1.6" fill="rgb(23,39,118)" transform="rotate(50 16.0 23.1)"/><ellipse cx="11.6" cy="40.5" rx="2.4" ry="1.6" fill="rgb(34,56,165)" transform="rotate(16 11.6 40.5)"/><ellipse cx="1.4" cy="39.2" rx="2.1" ry="1.8" fill="rgb(21,36,109)" transform="rotate(72 1.4 39.2)"/><ellipse cx="24.3" cy="29.7" rx="1.9" ry="1.9" fill="rgb(24,39,119)" transform="rotate(151 24.3 29.7)"/><ellipse cx="13.0" cy="48.3" rx="2.4" ry="2.1" fill="rgb(31,51,151)" transform="rotate(98 13.0 48.3)"/><ellipse cx="22.1" cy="23.6" rx="2.0" ry="1.8" fill="rgb(22,38,115)" transform="rotate(112 22.1 23.6)"/><ellipse cx="65.3" cy="30.9" rx="1.8" ry="1.5" fill="rgb(18,30,94)" transform="rotate(5 65.3 30.9)"/><ellipse cx="22.4" cy="11.9" rx="2.5" ry="1.8" fill="rgb(26,43,130)" transform="rotate(154 22.4 11.9)"/><ellipse cx="63.4" cy="37.2" rx="1.7" ry="1.5" fill="rgb(32,52,153)" transform="rotate(130 63.4 37.2)"/><ellipse cx="43.8" cy="28.7" rx="1.8" ry="1.4" fill="rgb(27,44,133)" transform="rotate(51 43.8 28.7)"/><ellipse cx="64.2" cy="6.6" rx="2.3" ry="2.1" fill="rgb(20,34,105)" transform="rotate(129 64.2 6.6)"/><ellipse cx="25.7" cy="42.1" rx="2.3" ry="1.7" fill="rgb(20,34,104)" transform="rotate(140 25.7 42.1)"/><ellipse cx="45.7" cy="32.1" rx="1.8" ry="1.5" fill="rgb(18,30,94)" transform="rotate(73 45.7 32.1)"/><ellipse cx="45.7" cy="24.5" rx="1.6" ry="1.5" fill="rgb(28,47,139)" transform="rotate(73 45.7 24.5)"/><ellipse cx="38.9" cy="22.2" rx="1.9" ry="1.5" fill="rgb(30,49,146)" transform="rotate(135 38.9 22.2)"/><ellipse cx="66.0" cy="14.1" rx="2.1" ry="1.5" fill="rgb(21,36,110)" transform="rotate(68 66.0 14.1)"/><ellipse cx="17.8" cy="16.3" rx="2.4" ry="2.4" fill="rgb(30,49,145)" transform="rotate(106 17.8 16.3)"/><ellipse cx="11.0" cy="31.9" rx="1.8" ry="1.7" fill="rgb(23,39,118)" transform="rotate(24 11.0 31.9)"/><ellipse cx="40.2" cy="3.5" rx="2.0" ry="1.9" fill="rgb(32,53,156)" transform="rotate(13 40.2 3.5)"/><ellipse cx="17.5" cy="45.8" rx="2.1" ry="1.5" fill="rgb(31,51,152)" transform="rotate(55 17.5 45.8)"/><ellipse cx="18.8" cy="34.7" rx="2.3" ry="2.3" fill="rgb(19,32,99)" transform="rotate(163 18.8 34.7)"/><ellipse cx="28.7" cy="8.3" rx="2.2" ry="1.8" fill="rgb(35,57,167)" transform="rotate(50 28.7 8.3)"/><ellipse cx="17.3" cy="30.0" rx="2.4" ry="2.1" fill="rgb(30,50,149)" transform="rotate(171 17.3 30.0)"/><ellipse cx="20.7" cy="41.0" rx="2.4" ry="1.9" fill="rgb(25,42,126)" transform="rotate(47 20.7 41.0)"/><ellipse cx="1.5" cy="22.5" rx="1.8" ry="1.4" fill="rgb(22,36,111)" transform="rotate(114 1.5 22.5)"/><ellipse cx="44.0" cy="38.1" rx="2.5" ry="2.3" fill="rgb(33,54,159)" transform="rotate(65 44.0 38.1)"/><ellipse cx="7.2" cy="2.6" rx="1.8" ry="1.5" fill="rgb(27,45,136)" transform="rotate(144 7.2 2.6)"/><ellipse cx="31.6" cy="30.6" rx="1.9" ry="1.6" fill="rgb(23,39,119)" transform="rotate(82 31.6 30.6)"/><ellipse cx="32.2" cy="3.1" rx="2.1" ry="1.4" fill="rgb(23,38,115)" transform="rotate(126 32.2 3.1)"/><ellipse cx="36.3" cy="48.9" rx="2.5" ry="1.9" fill="rgb(35,58,170)" transform="rotate(99 36.3 48.9)"/><ellipse cx="22.0" cy="8.6" rx="2.4" ry="2.2" fill="rgb(18,31,97)" transform="rotate(68 22.0 8.6)"/><ellipse cx="2.6" cy="46.6" rx="2.4" ry="2.2" fill="rgb(26,43,130)" transform="rotate(9 2.6 46.6)"/><ellipse cx="35.3" cy="37.0" rx="1.9" ry="1.3" fill="rgb(20,35,106)" transform="rotate(156 35.3 37.0)"/><ellipse cx="3.7" cy="13.2" rx="1.8" ry="1.6" fill="rgb(30,49,147)" transform="rotate(107 3.7 13.2)"/><ellipse cx="34.2" cy="6.0" rx="1.8" ry="1.2" fill="rgb(26,43,129)" transform="rotate(125 34.2 6.0)"/><ellipse cx="61.6" cy="30.5" rx="2.1" ry="2.1" fill="rgb(18,31,96)" transform="rotate(14 61.6 30.5)"/><ellipse cx="58.5" cy="33.6" rx="2.0" ry="1.9" fill="rgb(27,44,133)" transform="rotate(89 58.5 33.6)"/><ellipse cx="61.6" cy="39.9" rx="1.7" ry="1.6" fill="rgb(34,56,164)" transform="rotate(54 61.6 39.9)"/><ellipse cx="61.4" cy="14.7" rx="2.4" ry="1.7" fill="rgb(25,42,127)" transform="rotate(57 61.4 14.7)"/><ellipse cx="14.9" cy="8.0" rx="2.2" ry="2.1" fill="rgb(31,51,150)" transform="rotate(74 14.9 8.0)"/><ellipse cx="49.7" cy="41.9" rx="2.1" ry="1.7" fill="rgb(33,54,159)" transform="rotate(61 49.7 41.9)"/><ellipse cx="24.6" cy="35.6" rx="2.3" ry="1.9" fill="rgb(23,38,115)" transform="rotate(39 24.6 35.6)"/><ellipse cx="31.0" cy="47.8" rx="2.0" ry="1.4" fill="rgb(18,30,94)" transform="rotate(109 31.0 47.8)"/><ellipse cx="49.7" cy="27.2" rx="1.9" ry="1.6" fill="rgb(21,36,109)" transform="rotate(49 49.7 27.2)"/><ellipse cx="68.2" cy="35.0" rx="2.0" ry="1.6" fill="rgb(26,42,128)" transform="rotate(97 68.2 35.0)"/><ellipse cx="61.8" cy="51.3" rx="2.3" ry="2.2" fill="rgb(27,45,136)" transform="rotate(110 61.8 51.3)"/><ellipse cx="49.4" cy="22.6" rx="1.7" ry="1.5" fill="rgb(18,31,97)" transform="rotate(64 49.4 22.6)"/><ellipse cx="19.7" cy="48.7" rx="2.3" ry="2.0" fill="rgb(25,42,126)" transform="rotate(77 19.7 48.7)"/><ellipse cx="25.0" cy="48.5" rx="2.0" ry="1.7" fill="rgb(22,37,112)" transform="rotate(126 25.0 48.5)"/><ellipse cx="64.8" cy="34.1" rx="2.3" ry="1.7" fill="rgb(19,32,99)" transform="rotate(26 64.8 34.1)"/><ellipse cx="10.5" cy="23.7" rx="2.4" ry="2.4" fill="rgb(28,47,140)" transform="rotate(129 10.5 23.7)"/><ellipse cx="22.1" cy="16.6" rx="2.5" ry="2.2" fill="rgb(19,33,102)" transform="rotate(106 22.1 16.6)"/><ellipse cx="68.6" cy="27.6" rx="2.0" ry="1.4" fill="rgb(33,54,160)" transform="rotate(80 68.6 27.6)"/><ellipse cx="51.3" cy="7.4" rx="1.7" ry="1.4" fill="rgb(19,32,101)" transform="rotate(15 51.3 7.4)"/><ellipse cx="29.4" cy="23.0" rx="1.7" ry="1.5" fill="rgb(35,58,169)" transform="rotate(19 29.4 23.0)"/><ellipse cx="68.8" cy="49.3" rx="2.0" ry="1.4" fill="rgb(22,37,113)" transform="rotate(159 68.8 49.3)"/><ellipse cx="3.7" cy="8.2" rx="1.8" ry="1.5" fill="rgb(29,47,142)" transform="rotate(84 3.7 8.2)"/><ellipse cx="46.7" cy="0.8" rx="2.0" ry="1.5" fill="rgb(30,50,148)" transform="rotate(19 46.7 0.8)"/><ellipse cx="64.3" cy="45.0" rx="1.7" ry="1.1" fill="rgb(21,36,109)" transform="rotate(78 64.3 45.0)"/><ellipse cx="57.9" cy="45.7" rx="1.6" ry="1.5" fill="rgb(34,56,164)" transform="rotate(84 57.9 45.7)"/><ellipse cx="47.0" cy="10.3" rx="2.2" ry="1.7" fill="rgb(30,49,146)" transform="rotate(162 47.0 10.3)"/><ellipse cx="58.8" cy="21.7" rx="2.5" ry="1.7" fill="rgb(33,53,158)" transform="rotate(76 58.8 21.7)"/><ellipse cx="54.1" cy="13.4" rx="1.8" ry="1.5" fill="rgb(27,44,133)" transform="rotate(126 54.1 13.4)"/><ellipse cx="46.1" cy="18.1" rx="2.2" ry="1.6" fill="rgb(19,32,98)" transform="rotate(5 46.1 18.1)"/><ellipse cx="3.6" cy="2.5" rx="1.8" ry="1.8" fill="rgb(31,51,151)" transform="rotate(121 3.6 2.5)"/><ellipse cx="20.3" cy="30.9" rx="2.0" ry="1.7" fill="rgb(35,56,166)" transform="rotate(41 20.3 30.9)"/><ellipse cx="55.1" cy="0.4" rx="2.1" ry="1.9" fill="rgb(21,36,110)" transform="rotate(75 55.1 0.4)"/><ellipse cx="26.8" cy="39.1" rx="1.8" ry="1.3" fill="rgb(27,45,134)" transform="rotate(56 26.8 39.1)"/><ellipse cx="14.7" cy="4.9" rx="1.7" ry="1.7" fill="rgb(28,46,137)" transform="rotate(21 14.7 4.9)"/><ellipse cx="65.1" cy="23.0" rx="2.2" ry="1.7" fill="rgb(19,32,99)" transform="rotate(30 65.1 23.0)"/><ellipse cx="34.9" cy="33.9" rx="2.4" ry="2.3" fill="rgb(31,50,149)" transform="rotate(3 34.9 33.9)"/><ellipse cx="7.3" cy="40.1" rx="1.7" ry="1.1" fill="rgb(32,52,155)" transform="rotate(109 7.3 40.1)"/><ellipse cx="35.9" cy="41.5" rx="2.5" ry="1.8" fill="rgb(18,30,94)" transform="rotate(104 35.9 41.5)"/><ellipse cx="68.5" cy="5.1" rx="1.7" ry="1.3" fill="rgb(22,37,112)" transform="rotate(57 68.5 5.1)"/><ellipse cx="6.9" cy="30.4" rx="1.6" ry="1.5" fill="rgb(24,41,123)" transform="rotate(159 6.9 30.4)"/><ellipse cx="5.6" cy="48.3" rx="2.0" ry="1.5" fill="rgb(32,53,157)" transform="rotate(45 5.6 48.3)"/><ellipse cx="22.9" cy="51.6" rx="2.1" ry="1.7" fill="rgb(30,49,145)" transform="rotate(39 22.9 51.6)"/><ellipse cx="29.0" cy="34.2" rx="2.1" ry="1.8" fill="rgb(19,32,99)" transform="rotate(12 29.0 34.2)"/><ellipse cx="1.5" cy="31.1" rx="2.3" ry="1.8" fill="rgb(21,36,110)" transform="rotate(102 1.5 31.1)"/><ellipse cx="11.8" cy="35.2" rx="2.4" ry="1.6" fill="rgb(34,56,165)" transform="rotate(7 11.8 35.2)"/><ellipse cx="50.8" cy="11.4" rx="2.0" ry="2.0" fill="rgb(31,50,149)" transform="rotate(5 50.8 11.4)"/><ellipse cx="27.5" cy="45.7" rx="1.7" ry="1.5" fill="rgb(33,53,158)" transform="rotate(66 27.5 45.7)"/><ellipse cx="56.1" cy="38.9" rx="2.2" ry="2.2" fill="rgb(36,59,172)" transform="rotate(150 56.1 38.9)"/><ellipse cx="53.0" cy="3.8" rx="1.8" ry="1.4" fill="rgb(32,52,154)" transform="rotate(37 53.0 3.8)"/><ellipse cx="34.1" cy="20.0" rx="2.3" ry="1.8" fill="rgb(22,37,112)" transform="rotate(72 34.1 20.0)"/><ellipse cx="43.5" cy="13.6" rx="2.1" ry="2.1" fill="rgb(32,52,155)" transform="rotate(25 43.5 13.6)"/><ellipse cx="22.8" cy="1.1" rx="2.1" ry="1.4" fill="rgb(20,34,104)" transform="rotate(113 22.8 1.1)"/><ellipse cx="50.3" cy="37.1" rx="1.7" ry="1.3" fill="rgb(24,39,119)" transform="rotate(86 50.3 37.1)"/><ellipse cx="6.7" cy="25.9" rx="2.3" ry="1.9" fill="rgb(23,39,118)" transform="rotate(69 6.7 25.9)"/><ellipse cx="50.1" cy="0.7" rx="2.1" ry="2.1" fill="rgb(29,47,142)" transform="rotate(12 50.1 0.7)"/><ellipse cx="40.8" cy="25.0" rx="1.7" ry="1.4" fill="rgb(22,37,114)" transform="rotate(18 40.8 25.0)"/><ellipse cx="43.2" cy="35.0" rx="1.8" ry="1.7" fill="rgb(19,32,99)" transform="rotate(94 43.2 35.0)"/><ellipse cx="25.8" cy="15.7" rx="2.2" ry="2.0" fill="rgb(26,44,131)" transform="rotate(73 25.8 15.7)"/><ellipse cx="26.6" cy="4.2" rx="2.2" ry="1.5" fill="rgb(18,30,94)" transform="rotate(30 26.6 4.2)"/><ellipse cx="57.2" cy="14.8" rx="2.4" ry="2.1" fill="rgb(33,55,161)" transform="rotate(114 57.2 14.8)"/><ellipse cx="67.0" cy="10.3" rx="2.0" ry="1.8" fill="rgb(18,30,94)" transform="rotate(168 67.0 10.3)"/><ellipse cx="62.6" cy="25.5" rx="2.0" ry="1.9" fill="rgb(32,52,155)" transform="rotate(168 62.6 25.5)"/><ellipse cx="4.8" cy="36.5" rx="1.8" ry="1.4" fill="rgb(19,33,101)" transform="rotate(67 4.8 36.5)"/><ellipse cx="7.8" cy="11.0" rx="2.4" ry="1.7" fill="rgb(26,43,130)" transform="rotate(64 7.8 11.0)"/><ellipse cx="35.6" cy="30.4" rx="1.9" ry="1.4" fill="rgb(31,51,153)" transform="rotate(109 35.6 30.4)"/><ellipse cx="25.2" cy="20.1" rx="1.9" ry="1.9" fill="rgb(19,32,99)" transform="rotate(81 25.2 20.1)"/><ellipse cx="52.9" cy="34.8" rx="1.6" ry="1.2" fill="rgb(25,41,124)" transform="rotate(128 52.9 34.8)"/><ellipse cx="39.4" cy="16.4" rx="2.5" ry="2.2" fill="rgb(22,37,113)" transform="rotate(75 39.4 16.4)"/><ellipse cx="34.1" cy="24.2" rx="1.5" ry="1.2" fill="rgb(33,53,158)" transform="rotate(119 34.1 24.2)"/><ellipse cx="25.7" cy="23.9" rx="1.2" ry="1.1" fill="rgb(43,70,202)" transform="rotate(35 25.7 23.9)"/><ellipse cx="38.7" cy="14.4" rx="1.6" ry="1.3" fill="rgb(35,57,169)" transform="rotate(76 38.7 14.4)"/><ellipse cx="24.4" cy="10.5" rx="1.8" ry="1.2" fill="rgb(43,69,202)" transform="rotate(12 24.4 10.5)"/><ellipse cx="35.9" cy="12.5" rx="1.1" ry="1.0" fill="rgb(38,61,179)" transform="rotate(147 35.9 12.5)"/><ellipse cx="21.5" cy="20.7" rx="1.6" ry="1.6" fill="rgb(42,68,197)" transform="rotate(112 21.5 20.7)"/><ellipse cx="35.3" cy="19.6" rx="1.5" ry="1.3" fill="rgb(30,50,148)" transform="rotate(139 35.3 19.6)"/><ellipse cx="31.1" cy="25.4" rx="1.5" ry="1.3" fill="rgb(38,61,179)" transform="rotate(25 31.1 25.4)"/><ellipse cx="37.8" cy="12.6" rx="1.2" ry="1.1" fill="rgb(38,62,181)" transform="rotate(101 37.8 12.6)"/><ellipse cx="22.1" cy="17.4" rx="1.6" ry="1.3" fill="rgb(32,52,155)" transform="rotate(122 22.1 17.4)"/><ellipse cx="26.4" cy="12.9" rx="1.4" ry="1.1" fill="rgb(36,58,171)" transform="rotate(84 26.4 12.9)"/><ellipse cx="25.4" cy="10.0" rx="1.2" ry="1.1" fill="rgb(32,52,154)" transform="rotate(152 25.4 10.0)"/><ellipse cx="40.6" cy="19.3" rx="1.4" ry="1.3" fill="rgb(36,59,172)" transform="rotate(86 40.6 19.3)"/><ellipse cx="41.0" cy="18.3" rx="1.6" ry="1.6" fill="rgb(40,64,187)" transform="rotate(157 41.0 18.3)"/><ellipse cx="40.8" cy="16.0" rx="1.2" ry="0.9" fill="rgb(37,60,176)" transform="rotate(44 40.8 16.0)"/><ellipse cx="21.3" cy="17.5" rx="1.7" ry="1.6" fill="rgb(43,70,202)" transform="rotate(90 21.3 17.5)"/><ellipse cx="22.0" cy="13.7" rx="1.2" ry="0.8" fill="rgb(41,66,192)" transform="rotate(14 22.0 13.7)"/><ellipse cx="35.6" cy="17.6" rx="1.7" ry="1.7" fill="rgb(40,64,187)" transform="rotate(53 35.6 17.6)"/><ellipse cx="22.5" cy="15.3" rx="1.7" ry="1.6" fill="rgb(38,62,182)" transform="rotate(115 22.5 15.3)"/><ellipse cx="31.0" cy="11.0" rx="1.4" ry="1.0" fill="rgb(36,59,172)" transform="rotate(74 31.0 11.0)"/><ellipse cx="35.8" cy="16.7" rx="1.7" ry="1.6" fill="rgb(41,66,193)" transform="rotate(10 35.8 16.7)"/><ellipse cx="27.7" cy="24.2" rx="1.7" ry="1.3" fill="rgb(36,58,171)" transform="rotate(92 27.7 24.2)"/><ellipse cx="25.2" cy="8.1" rx="1.4" ry="1.4" fill="rgb(42,67,196)" transform="rotate(60 25.2 8.1)"/><ellipse cx="22.6" cy="13.9" rx="1.5" ry="1.1" fill="rgb(32,53,157)" transform="rotate(102 22.6 13.9)"/><ellipse cx="39.9" cy="12.2" rx="1.6" ry="1.1" fill="rgb(39,64,186)" transform="rotate(178 39.9 12.2)"/><ellipse cx="40.4" cy="17.6" rx="1.1" ry="0.9" fill="rgb(31,51,152)" transform="rotate(50 40.4 17.6)"/><ellipse cx="26.4" cy="24.9" rx="1.2" ry="0.9" fill="rgb(40,65,191)" transform="rotate(159 26.4 24.9)"/><ellipse cx="35.5" cy="23.2" rx="1.1" ry="0.9" fill="rgb(41,67,195)" transform="rotate(175 35.5 23.2)"/><ellipse cx="30.1" cy="11.3" rx="1.6" ry="1.4" fill="rgb(42,67,196)" transform="rotate(56 30.1 11.3)"/><ellipse cx="18.6" cy="17.4" rx="1.3" ry="1.0" fill="rgb(31,51,151)" transform="rotate(93 18.6 17.4)"/><ellipse cx="28.0" cy="9.0" rx="1.3" ry="1.3" fill="rgb(31,51,151)" transform="rotate(122 28.0 9.0)"/><ellipse cx="41.8" cy="19.7" rx="1.2" ry="0.8" fill="rgb(42,67,196)" transform="rotate(55 41.8 19.7)"/><ellipse cx="24.4" cy="12.1" rx="1.4" ry="1.2" fill="rgb(32,52,154)" transform="rotate(77 24.4 12.1)"/><ellipse cx="28.2" cy="21.0" rx="1.1" ry="1.0" fill="rgb(37,61,178)" transform="rotate(21 28.2 21.0)"/><ellipse cx="27.7" cy="25.4" rx="1.7" ry="1.5" fill="rgb(32,52,153)" transform="rotate(123 27.7 25.4)"/><ellipse cx="35.3" cy="17.1" rx="1.3" ry="1.2" fill="rgb(42,67,196)" transform="rotate(178 35.3 17.1)"/><ellipse cx="28.8" cy="21.7" rx="1.7" ry="1.6" fill="rgb(43,70,203)" transform="rotate(169 28.8 21.7)"/><ellipse cx="19.4" cy="14.6" rx="1.7" ry="1.2" fill="rgb(31,50,150)" transform="rotate(31 19.4 14.6)"/><ellipse cx="31.0" cy="8.5" rx="1.5" ry="1.4" fill="rgb(35,57,168)" transform="rotate(23 31.0 8.5)"/><ellipse cx="21.6" cy="18.2" rx="1.5" ry="1.0" fill="rgb(42,68,199)" transform="rotate(149 21.6 18.2)"/><ellipse cx="39.2" cy="15.6" rx="1.3" ry="0.9" fill="rgb(41,66,191)" transform="rotate(136 39.2 15.6)"/><ellipse cx="30.5" cy="27.5" rx="1.4" ry="1.1" fill="rgb(31,50,150)" transform="rotate(4 30.5 27.5)"/><ellipse cx="25.2" cy="9.0" rx="1.6" ry="1.4" fill="rgb(38,62,182)" transform="rotate(50 25.2 9.0)"/><ellipse cx="22.3" cy="12.9" rx="1.7" ry="1.4" fill="rgb(40,64,187)" transform="rotate(116 22.3 12.9)"/><ellipse cx="36.6" cy="10.3" rx="1.1" ry="1.0" fill="rgb(44,70,205)" transform="rotate(133 36.6 10.3)"/><ellipse cx="37.1" cy="22.2" rx="1.3" ry="1.1" fill="rgb(29,48,143)" transform="rotate(58 37.1 22.2)"/><ellipse cx="38.8" cy="24.8" rx="1.7" ry="1.4" fill="rgb(36,58,171)" transform="rotate(54 38.8 24.8)"/><ellipse cx="31.5" cy="9.4" rx="1.6" ry="1.3" fill="rgb(44,70,204)" transform="rotate(32 31.5 9.4)"/><ellipse cx="20.2" cy="19.9" rx="1.5" ry="1.4" fill="rgb(42,68,198)" transform="rotate(76 20.2 19.9)"/><ellipse cx="23.7" cy="19.2" rx="1.6" ry="1.3" fill="rgb(38,62,181)" transform="rotate(56 23.7 19.2)"/><ellipse cx="24.0" cy="22.8" rx="1.1" ry="0.9" fill="rgb(36,58,171)" transform="rotate(55 24.0 22.8)"/><ellipse cx="26.0" cy="28.0" rx="1.4" ry="1.0" fill="rgb(43,69,201)" transform="rotate(53 26.0 28.0)"/><ellipse cx="40.2" cy="14.0" rx="1.3" ry="1.2" fill="rgb(36,58,171)" transform="rotate(103 40.2 14.0)"/><ellipse cx="36.6" cy="19.4" rx="1.2" ry="1.1" fill="rgb(41,66,191)" transform="rotate(54 36.6 19.4)"/><ellipse cx="26.9" cy="17.4" rx="1.4" ry="1.2" fill="rgb(44,70,204)" transform="rotate(77 26.9 17.4)"/></g>
</defs>
<rect x="0" y="0" width="685" height="853" fill="#ffffff"/>
<g opacity="0.999">
<text x="0.6" y="8.0" text-anchor="start" fill="#000" style='font-family:"Liberation Serif",serif;font-size:11.5px;font-weight:bold;' >a</text>
<text x="30.4" y="34.7" text-anchor="start" fill="#000" style='font-family:"Liberation Serif",serif;font-size:5.85px;font-weight:bold;' >R1 mESC</text>
<text x="30.4" y="41.7" text-anchor="start" fill="#000" style='font-family:"Liberation Serif",serif;font-size:5.85px;font-weight:bold;' >- ET</text>
<text x="30.4" y="48.8" style='font-family:"Liberation Serif",serif;font-size:5.85px;font-weight:bold;'><tspan fill="#000">- </tspan><tspan fill="#ff0000" font-style="italic">Dnmt3L</tspan><tspan fill="#ff0000"> WT</tspan></text>
<text x="30.4" y="55.8" style='font-family:"Liberation Serif",serif;font-size:5.85px;font-weight:bold;'><tspan fill="#000">- </tspan><tspan fill="#0000ff" font-style="italic">Dnmt3L</tspan><tspan fill="#0000ff"> K238R</tspan></text>
<text x="30.4" y="62.8" style='font-family:"Liberation Serif",serif;font-size:5.85px;font-weight:bold;'><tspan fill="#000">- </tspan><tspan fill="#2e9a3c" font-style="italic">Dnmt3L</tspan><tspan fill="#2e9a3c"> K412R</tspan></text>
<ellipse cx="50.5" cy="84.4" rx="16.3" ry="7.3" fill="#f7e8c2" stroke="#555" stroke-width="0.6"/>
<ellipse cx="50.5" cy="81.2" rx="16.3" ry="7.3" fill="#f3dba6" stroke="#555" stroke-width="0.6"/>
<circle cx="43.50" cy="79.70" r="1.80" fill="#e0a052" stroke="#c06a28" stroke-width="0.25" />
<circle cx="48.00" cy="78.20" r="1.80" fill="#e0a052" stroke="#c06a28" stroke-width="0.25" />
<circle cx="52.50" cy="79.70" r="1.80" fill="#e0a052" stroke="#c06a28" stroke-width="0.25" />
<circle cx="57.00" cy="82.20" r="1.80" fill="#e0a052" stroke="#c06a28" stroke-width="0.25" />
<circle cx="46.50" cy="83.70" r="1.80" fill="#e0a052" stroke="#c06a28" stroke-width="0.25" />
<circle cx="52.00" cy="84.20" r="1.80" fill="#e0a052" stroke="#c06a28" stroke-width="0.25" />
<circle cx="59.50" cy="78.70" r="1.80" fill="#e0a052" stroke="#c06a28" stroke-width="0.25" />
<line x1="79" y1="82.7" x2="88.0" y2="82.7" stroke="#000" stroke-width="1.5"/>
<polygon points="92.3,82.7 87.5,80.3 87.5,85.10000000000001" fill="#000"/>
<ellipse cx="120" cy="84.5" rx="13" ry="9.6" fill="#fbeadc" stroke="#555" stroke-width="0.6"/>
<ellipse cx="120" cy="81.3" rx="13" ry="9.6" fill="#f8dcc8" stroke="#555" stroke-width="0.6"/>
<circle cx="115.00" cy="76.80" r="1.30" fill="#e58345" stroke="#c06a28" stroke-width="0.25" />
<circle cx="120.00" cy="75.80" r="1.30" fill="#e58345" stroke="#c06a28" stroke-width="0.25" />
<circle cx="125.00" cy="77.30" r="1.30" fill="#e58345" stroke="#c06a28" stroke-width="0.25" />
<circle cx="113.00" cy="81.30" r="1.30" fill="#e58345" stroke="#c06a28" stroke-width="0.25" />
<circle cx="118.00" cy="80.80" r="1.30" fill="#e58345" stroke="#c06a28" stroke-width="0.25" />
<circle cx="123.50" cy="81.80" r="1.30" fill="#e58345" stroke="#c06a28" stroke-width="0.25" />
<circle cx="128.00" cy="82.80" r="1.30" fill="#e58345" stroke="#c06a28" stroke-width="0.25" />
<circle cx="115.50" cy="85.30" r="1.30" fill="#e58345" stroke="#c06a28" stroke-width="0.25" />
<circle cx="121.00" cy="86.30" r="1.30" fill="#e58345" stroke="#c06a28" stroke-width="0.25" />
<circle cx="125.50" cy="86.30" r="1.30" fill="#e58345" stroke="#c06a28" stroke-width="0.25" />
<text x="120" y="101.8" text-anchor="middle" fill="#000" style='font-family:"Liberation Serif",serif;font-size:5.85px;font-weight:bold;' >EB formation</text>
<text x="120" y="109.6" text-anchor="middle" fill="#000" style='font-family:"Liberation Serif",serif;font-size:5.85px;font-weight:bold;' >(3 or 6 K cells/drop)</text>
<line x1="149.5" y1="82.7" x2="157.8" y2="82.7" stroke="#000" stroke-width="1.5" />
<line x1="157.8" y1="35.3" x2="157.8" y2="130.05" stroke="#000" stroke-width="1.6" />
<line x1="157.2" y1="36.1" x2="167.5" y2="36.1" stroke="#000" stroke-width="1.5"/>
<polygon points="171.8,36.1 167.0,33.7 167.0,38.5" fill="#000"/>
<line x1="157.2" y1="82.7" x2="167.5" y2="82.7" stroke="#000" stroke-width="1.5"/>
<polygon points="171.8,82.7 167.0,80.3 167.0,85.10000000000001" fill="#000"/>
<line x1="157.2" y1="129.3" x2="167.5" y2="129.3" stroke="#000" stroke-width="1.5"/>
<polygon points="171.8,129.3 167.0,126.9 167.0,131.70000000000002" fill="#000"/>
<text x="177.5" y="24.4" text-anchor="start" fill="#1a10ee" style='font-family:"Liberation Serif",serif;font-size:6.0px;font-weight:bold;' >i) Spontaneous</text>
<ellipse cx="199.6" cy="40.2" rx="13.0" ry="9.4" fill="#fbeadc" stroke="#1a1a1a" stroke-width="0.75"/>
<ellipse cx="199.6" cy="37.0" rx="13.0" ry="9.4" fill="#f8dcc8" stroke="#1a1a1a" stroke-width="0.75"/>
<circle cx="193.60" cy="36.00" r="1.30" fill="#e58345" stroke="#c06a28" stroke-width="0.25" />
<circle cx="199.60" cy="33.00" r="1.30" fill="#e58345" stroke="#c06a28" stroke-width="0.25" />
<circle cx="205.60" cy="34.50" r="1.30" fill="#e58345" stroke="#c06a28" stroke-width="0.25" />
<circle cx="195.60" cy="40.00" r="1.30" fill="#e58345" stroke="#c06a28" stroke-width="0.25" />
<circle cx="200.10" cy="40.50" r="1.30" fill="#e58345" stroke="#c06a28" stroke-width="0.25" />
<circle cx="205.10" cy="41.00" r="1.30" fill="#e58345" stroke="#c06a28" stroke-width="0.25" />
<circle cx="199.10" cy="36.50" r="1.30" fill="#e58345" stroke="#c06a28" stroke-width="0.25" />
<line x1="226.5" y1="36.2" x2="236.5" y2="36.2" stroke="#000" stroke-width="1.5"/>
<polygon points="240.8,36.2 236.0,33.800000000000004 236.0,38.6" fill="#000"/>
<rect x="257" y="17.9" width="11" height="32.3" fill="#5cec5c" stroke="none" stroke-width="1" />
<rect x="271" y="29" width="11.3" height="21.2" fill="#74d6f2" stroke="none" stroke-width="1" />
<rect x="285.1" y="24.7" width="10.9" height="25.5" fill="#eba67e" stroke="none" stroke-width="1" />
<line x1="253" y1="50.4" x2="300.3" y2="50.4" stroke="#333" stroke-width="0.8" />
<text x="264.6" y="49.2" text-anchor="start" fill="#000" style='font-family:"Liberation Serif",serif;font-size:6.0px;font-weight:bold;' transform="rotate(-90 264.6 49.2)" >Germline</text>
<text x="278.7" y="49.2" text-anchor="start" fill="#000" style='font-family:"Liberation Serif",serif;font-size:6.0px;font-weight:bold;' transform="rotate(-90 278.7 49.2)" >Neural</text>
<text x="292.6" y="49.2" text-anchor="start" fill="#000" style='font-family:"Liberation Serif",serif;font-size:6.0px;font-weight:bold;' transform="rotate(-90 292.6 49.2)" >Cardiac</text>
<text x="276.3" y="58.2" text-anchor="middle" fill="#000" style='font-family:"Liberation Serif",serif;font-size:5.85px;font-weight:bold;' >qPCR</text>
<text x="177.5" y="69.3" text-anchor="start" fill="#1a10ee" style='font-family:"Liberation Serif",serif;font-size:6.0px;font-weight:bold;' >ii) Neural</text>
<ellipse cx="199.6" cy="86.2" rx="13.0" ry="9.4" fill="#fbeadc" stroke="#1a1a1a" stroke-width="0.75"/>
<ellipse cx="199.6" cy="83.0" rx="13.0" ry="9.4" fill="#f8dcc8" stroke="#1a1a1a" stroke-width="0.75"/>
<ellipse cx="199.6" cy="83.0" rx="10.8" ry="7.6000000000000005" fill="#8ab4e0" stroke="none"/>
<circle cx="193.60" cy="82.00" r="1.30" fill="#e58345" stroke="#c06a28" stroke-width="0.25" />
<circle cx="197.60" cy="78.50" r="1.30" fill="#e58345" stroke="#c06a28" stroke-width="0.25" />
<circle cx="203.10" cy="79.50" r="1.30" fill="#e58345" stroke="#c06a28" stroke-width="0.25" />
<circle cx="195.60" cy="86.00" r="1.30" fill="#e58345" stroke="#c06a28" stroke-width="0.25" />
<circle cx="200.10" cy="84.00" r="1.30" fill="#e58345" stroke="#c06a28" stroke-width="0.25" />
<circle cx="205.10" cy="85.50" r="1.30" fill="#e58345" stroke="#c06a28" stroke-width="0.25" />
<circle cx="199.60" cy="88.50" r="1.30" fill="#e58345" stroke="#c06a28" stroke-width="0.25" />
<circle cx="206.60" cy="82.50" r="1.30" fill="#e58345" stroke="#c06a28" stroke-width="0.25" />
<line x1="226.5" y1="82.7" x2="236.5" y2="82.7" stroke="#000" stroke-width="1.5"/>
<polygon points="240.8,82.7 236.0,80.3 236.0,85.10000000000001" fill="#000"/>
<g transform="translate(268.8 79.5) rotate(10) scale(1.1)" stroke="#78b446" fill="none" stroke-linecap="round"><path d="M0 0 L-10 -6" stroke-width="0.8"/><path d="M-6 -3.5 L-8 -8" stroke-width="0.5"/><path d="M-8 -5 L-12 -3" stroke-width="0.5"/><path d="M0 0 L-9 5" stroke-width="0.8"/><path d="M-5 3 L-9 1.5" stroke-width="0.5"/><path d="M-7 4 L-8 9" stroke-width="0.5"/><path d="M0 0 L3 -11" stroke-width="0.8"/><path d="M1.5 -6 L-2 -10" stroke-width="0.5"/><path d="M2.5 -9 L6 -12" stroke-width="0.5"/><path d="M0 0 L10 -2" stroke-width="0.8"/><path d="M5 -1 L9 -5" stroke-width="0.5"/><path d="M7 -1.5 L11 1" stroke-width="0.5"/><path d="M0 0 L3 11" stroke-width="0.8"/><path d="M1.5 6 L-2 10" stroke-width="0.5"/><path d="M2.5 9 L5 13" stroke-width="0.5"/><path d="M0 0 L8 6" stroke-width="0.8"/><path d="M5 4 L9 3" stroke-width="0.5"/><ellipse cx="0" cy="0" rx="3.6" ry="3.0" fill="#8cc65a" stroke="#6aaa3a" stroke-width="0.5"/><circle cx="0" cy="0" r="1.5" fill="#2f4f9a" stroke="none"/></g>
<g transform="translate(285.6 89.3) rotate(-35) scale(1.15)" stroke="#78b446" fill="none" stroke-linecap="round"><path d="M0 0 L-10 -6" stroke-width="0.8"/><path d="M-6 -3.5 L-8 -8" stroke-width="0.5"/><path d="M-8 -5 L-12 -3" stroke-width="0.5"/><path d="M0 0 L-9 5" stroke-width="0.8"/><path d="M-5 3 L-9 1.5" stroke-width="0.5"/><path d="M-7 4 L-8 9" stroke-width="0.5"/><path d="M0 0 L3 -11" stroke-width="0.8"/><path d="M1.5 -6 L-2 -10" stroke-width="0.5"/><path d="M2.5 -9 L6 -12" stroke-width="0.5"/><path d="M0 0 L10 -2" stroke-width="0.8"/><path d="M5 -1 L9 -5" stroke-width="0.5"/><path d="M7 -1.5 L11 1" stroke-width="0.5"/><path d="M0 0 L3 11" stroke-width="0.8"/><path d="M1.5 6 L-2 10" stroke-width="0.5"/><path d="M2.5 9 L5 13" stroke-width="0.5"/><path d="M0 0 L8 6" stroke-width="0.8"/><path d="M5 4 L9 3" stroke-width="0.5"/><ellipse cx="0" cy="0" rx="3.6" ry="3.0" fill="#8cc65a" stroke="#6aaa3a" stroke-width="0.5"/><circle cx="0" cy="0" r="1.5" fill="#2f4f9a" stroke="none"/></g>
<text x="276.5" y="113" text-anchor="middle" fill="#000" style='font-family:"Liberation Serif",serif;font-size:5.85px;font-weight:bold;' >βIII-tubulin staining</text>
<text x="177.5" y="115.7" text-anchor="start" fill="#1a10ee" style='font-family:"Liberation Serif",serif;font-size:6.0px;font-weight:bold;' >iii) Cardiac</text>
<g stroke="#444" stroke-width="0.5" stroke-linejoin="round"><polygon points="181.5,135.5 193,120.3 219,120.3 210.5,135.5" fill="#f2f2f2"/><polygon points="181.5,135.5 210.5,135.5 210.5,142 181.5,142" fill="#e6e6e6"/><polygon points="210.5,135.5 219,120.3 219,126.5 210.5,142" fill="#d8d8d8"/><ellipse cx="196.5" cy="124.3" rx="5" ry="2.3" fill="#fbfbfb"/><ellipse cx="208.5" cy="124.3" rx="5" ry="2.3" fill="#fbfbfb"/><ellipse cx="192.5" cy="131.3" rx="5.3" ry="2.5" fill="#fbfbfb"/><ellipse cx="204.5" cy="131.3" rx="5.3" ry="2.5" fill="#fbfbfb"/></g>
<line x1="226.5" y1="129.4" x2="236.5" y2="129.4" stroke="#000" stroke-width="1.5"/>
<polygon points="240.8,129.4 236.0,127.0 236.0,131.8" fill="#000"/>
<path d="M254,127.2 C260,127.5 264,126.5 268,125.8 C272,124.6 278,124.6 282,126.6 C287,128 292,126.6 297.5,126 C294,127.6 293.5,128.6 297.5,130.2 C291,130 287,131 282,132 C277,133.6 271,133 267,131.6 C262,130.6 258,130.6 254,131 C256.5,129.6 256.5,128.6 254,127.2 Z" fill="#f08a3c" stroke="#e0641e" stroke-width="0.5"/>
<ellipse cx="273" cy="128.8" rx="3.3" ry="2.1" fill="#e8401c"/>
<text x="276.5" y="144.6" text-anchor="middle" fill="#000" style='font-family:"Liberation Serif",serif;font-size:5.85px;font-weight:bold;' >Frequency of beating</text>
<text x="177.5" y="160.5" text-anchor="start" fill="#1a10ee" style='font-family:"Liberation Serif",serif;font-size:6.0px;font-weight:bold;' >iv) Germline</text>
<circle cx="200.20" cy="182.80" r="19.80" fill="#000" stroke="none" stroke-width="1" />
<rect x="186.8" y="171.7" width="1.4" height="1.4" fill="#e02424" stroke="none" stroke-width="1" />
<rect x="210.9" y="175.7" width="1.4" height="1.4" fill="#e02424" stroke="none" stroke-width="1" />
<rect x="198.9" y="186.4" width="1.4" height="1.4" fill="#e02424" stroke="none" stroke-width="1" />
<rect x="186.8" y="190.1" width="1.4" height="1.4" fill="#e02424" stroke="none" stroke-width="1" />
<rect x="210.0" y="184.9" width="1.4" height="1.4" fill="#e02424" stroke="none" stroke-width="1" />
<rect x="211.3" y="190.6" width="1.4" height="1.4" fill="#e02424" stroke="none" stroke-width="1" />
<rect x="182.4" y="181.4" width="1.4" height="1.4" fill="#e02424" stroke="none" stroke-width="1" />
<rect x="202.1" y="194.5" width="1.4" height="1.4" fill="#e02424" stroke="none" stroke-width="1" />
<rect x="195.1" y="178.7" width="1.4" height="1.4" fill="#e02424" stroke="none" stroke-width="1" />
<rect x="185.1" y="176.1" width="1.4" height="1.4" fill="#5aa0e0" stroke="none" stroke-width="1" />
<rect x="214.4" y="180.9" width="1.4" height="1.4" fill="#5aa0e0" stroke="none" stroke-width="1" />
<rect x="190.1" y="193.6" width="1.4" height="1.4" fill="#5aa0e0" stroke="none" stroke-width="1" />
<rect x="204.3" y="189.3" width="1.4" height="1.4" fill="#5aa0e0" stroke="none" stroke-width="1" />
<rect x="196.7" y="190.1" width="1.4" height="1.4" fill="#5aa0e0" stroke="none" stroke-width="1" />
<rect x="213.1" y="185.8" width="1.4" height="1.4" fill="#5aa0e0" stroke="none" stroke-width="1" />
<rect x="190.1" y="167.8" width="1.4" height="1.4" fill="#5aa0e0" stroke="none" stroke-width="1" />
<rect x="186.8" y="185.3" width="0.9" height="0.9" fill="#2fa52f" stroke="none" stroke-width="1" />
<rect x="184.2" y="184.6" width="0.9" height="0.9" fill="#2fa52f" stroke="none" stroke-width="1" />
<rect x="185.9" y="181.3" width="0.9" height="0.9" fill="#2fa52f" stroke="none" stroke-width="1" />
<rect x="191.5" y="182.4" width="0.9" height="0.9" fill="#2fa52f" stroke="none" stroke-width="1" />
<rect x="186.5" y="183.9" width="0.9" height="0.9" fill="#2fa52f" stroke="none" stroke-width="1" />
<rect x="189.5" y="181.9" width="0.9" height="0.9" fill="#2fa52f" stroke="none" stroke-width="1" />
<rect x="188.1" y="179.5" width="0.9" height="0.9" fill="#2fa52f" stroke="none" stroke-width="1" />
<rect x="185.6" y="180.9" width="0.9" height="0.9" fill="#2fa52f" stroke="none" stroke-width="1" />
<rect x="183.1" y="178.1" width="0.9" height="0.9" fill="#2fa52f" stroke="none" stroke-width="1" />
<rect x="182.4" y="181.4" width="0.9" height="0.9" fill="#2fa52f" stroke="none" stroke-width="1" />
<rect x="186.2" y="181.2" width="0.9" height="0.9" fill="#2fa52f" stroke="none" stroke-width="1" />
<rect x="186.8" y="178.5" width="0.9" height="0.9" fill="#2fa52f" stroke="none" stroke-width="1" />
<rect x="186.4" y="182.6" width="0.9" height="0.9" fill="#2fa52f" stroke="none" stroke-width="1" />
<rect x="188.6" y="179.8" width="0.9" height="0.9" fill="#2fa52f" stroke="none" stroke-width="1" />
<rect x="185.6" y="176.8" width="0.9" height="0.9" fill="#2fa52f" stroke="none" stroke-width="1" />
<rect x="185.3" y="176.3" width="0.9" height="0.9" fill="#2fa52f" stroke="none" stroke-width="1" />
<rect x="182.9" y="184.9" width="0.9" height="0.9" fill="#2fa52f" stroke="none" stroke-width="1" />
<rect x="180.9" y="184.1" width="0.9" height="0.9" fill="#2fa52f" stroke="none" stroke-width="1" />
<rect x="187.5" y="181.2" width="0.9" height="0.9" fill="#2fa52f" stroke="none" stroke-width="1" />
<rect x="187.8" y="183.4" width="0.9" height="0.9" fill="#2fa52f" stroke="none" stroke-width="1" />
<rect x="189.3" y="181.4" width="0.9" height="0.9" fill="#2fa52f" stroke="none" stroke-width="1" />
<rect x="185.1" y="180.4" width="0.9" height="0.9" fill="#2fa52f" stroke="none" stroke-width="1" />
<rect x="184.0" y="181.9" width="0.9" height="0.9" fill="#2fa52f" stroke="none" stroke-width="1" />
<rect x="184.6" y="184.8" width="0.9" height="0.9" fill="#2fa52f" stroke="none" stroke-width="1" />
<rect x="181.7" y="179.2" width="0.9" height="0.9" fill="#2fa52f" stroke="none" stroke-width="1" />
<rect x="184.1" y="176.6" width="0.9" height="0.9" fill="#2fa52f" stroke="none" stroke-width="1" />
<text x="201" y="172.3" text-anchor="middle" fill="#fff" style='font-family:"Liberation Sans",serif;font-size:5.2px;font-weight:bold;' >GFP+</text>
<text x="201" y="180.4" text-anchor="middle" fill="#fff" style='font-family:"Liberation Sans",serif;font-size:5.2px;font-weight:bold;' >SSEA-1</text>
<text x="201" y="195.4" text-anchor="middle" fill="#fff" style='font-family:"Liberation Sans",serif;font-size:5.2px;font-weight:bold;' >DAPI</text>
<line x1="226.5" y1="183.0" x2="236.5" y2="183.0" stroke="#000" stroke-width="1.5"/>
<polygon points="240.8,183.0 236.0,180.6 236.0,185.4" fill="#000"/>
<line x1="256.3" y1="162.5" x2="256.3" y2="203.3" stroke="#333" stroke-width="0.6" />
<line x1="256.3" y1="203.3" x2="297" y2="203.3" stroke="#333" stroke-width="0.6" />
<polygon points="256.3,161.2 255.3,163.2 257.3,163.2" fill="#333"/>
<polygon points="298,203.3 296,202.3 296,204.3" fill="#333"/>
<rect x="258.3" y="164.3" width="36.8" height="36.8" fill="#fff" stroke="#333" stroke-width="0.6" />
<ellipse cx="271.8" cy="188.2" rx="7.2" ry="3.4" fill="#6cc05a" opacity="0.9" transform="rotate(-42 271.8 188.2)"/>
<circle cx="272.34" cy="189.29" r="0.42" fill="#6cc05a" stroke="none" stroke-width="1" />
<circle cx="271.22" cy="187.78" r="0.42" fill="#6cc05a" stroke="none" stroke-width="1" />
<circle cx="268.70" cy="190.42" r="0.42" fill="#6cc05a" stroke="none" stroke-width="1" />
<circle cx="277.41" cy="184.35" r="0.42" fill="#6cc05a" stroke="none" stroke-width="1" />
<circle cx="276.86" cy="184.32" r="0.42" fill="#6cc05a" stroke="none" stroke-width="1" />
<circle cx="274.33" cy="186.46" r="0.42" fill="#6cc05a" stroke="none" stroke-width="1" />
<circle cx="267.50" cy="194.81" r="0.42" fill="#6cc05a" stroke="none" stroke-width="1" />
<circle cx="275.22" cy="186.60" r="0.42" fill="#6cc05a" stroke="none" stroke-width="1" />
<circle cx="263.51" cy="190.48" r="0.42" fill="#6cc05a" stroke="none" stroke-width="1" />
<circle cx="268.47" cy="189.84" r="0.42" fill="#6cc05a" stroke="none" stroke-width="1" />
<circle cx="273.64" cy="186.38" r="0.42" fill="#6cc05a" stroke="none" stroke-width="1" />
<circle cx="273.57" cy="184.61" r="0.42" fill="#6cc05a" stroke="none" stroke-width="1" />
<circle cx="274.31" cy="187.11" r="0.42" fill="#6cc05a" stroke="none" stroke-width="1" />
<circle cx="272.61" cy="192.76" r="0.42" fill="#6cc05a" stroke="none" stroke-width="1" />
<circle cx="276.46" cy="187.61" r="0.42" fill="#6cc05a" stroke="none" stroke-width="1" />
<circle cx="269.08" cy="188.44" r="0.42" fill="#6cc05a" stroke="none" stroke-width="1" />
<circle cx="271.08" cy="188.55" r="0.42" fill="#6cc05a" stroke="none" stroke-width="1" />
<circle cx="275.32" cy="185.74" r="0.42" fill="#6cc05a" stroke="none" stroke-width="1" />
<circle cx="269.41" cy="187.46" r="0.42" fill="#6cc05a" stroke="none" stroke-width="1" />
<circle cx="272.40" cy="191.42" r="0.42" fill="#6cc05a" stroke="none" stroke-width="1" />
<circle cx="269.85" cy="190.77" r="0.42" fill="#6cc05a" stroke="none" stroke-width="1" />
<circle cx="271.94" cy="183.50" r="0.42" fill="#6cc05a" stroke="none" stroke-width="1" />
<circle cx="274.69" cy="189.58" r="0.42" fill="#6cc05a" stroke="none" stroke-width="1" />
<circle cx="264.41" cy="194.03" r="0.42" fill="#6cc05a" stroke="none" stroke-width="1" />
<circle cx="270.92" cy="186.51" r="0.42" fill="#6cc05a" stroke="none" stroke-width="1" />
<circle cx="274.35" cy="185.68" r="0.42" fill="#6cc05a" stroke="none" stroke-width="1" />
<circle cx="268.23" cy="194.06" r="0.42" fill="#6cc05a" stroke="none" stroke-width="1" />
<circle cx="276.51" cy="186.79" r="0.42" fill="#6cc05a" stroke="none" stroke-width="1" />
<circle cx="278.57" cy="183.10" r="0.42" fill="#6cc05a" stroke="none" stroke-width="1" />
<circle cx="271.05" cy="184.90" r="0.42" fill="#6cc05a" stroke="none" stroke-width="1" />
<circle cx="273.97" cy="184.33" r="0.42" fill="#6cc05a" stroke="none" stroke-width="1" />
<circle cx="268.93" cy="186.96" r="0.42" fill="#6cc05a" stroke="none" stroke-width="1" />
<circle cx="268.08" cy="190.01" r="0.42" fill="#6cc05a" stroke="none" stroke-width="1" />
<circle cx="274.40" cy="179.56" r="0.42" fill="#6cc05a" stroke="none" stroke-width="1" />
<circle cx="267.37" cy="193.03" r="0.42" fill="#6cc05a" stroke="none" stroke-width="1" />
<circle cx="278.90" cy="183.46" r="0.42" fill="#6cc05a" stroke="none" stroke-width="1" />
<circle cx="261.55" cy="189.89" r="0.42" fill="#6cc05a" stroke="none" stroke-width="1" />
<circle cx="272.80" cy="185.02" r="0.42" fill="#6cc05a" stroke="none" stroke-width="1" />
<circle cx="269.76" cy="193.11" r="0.42" fill="#6cc05a" stroke="none" stroke-width="1" />
<circle cx="276.97" cy="183.94" r="0.42" fill="#6cc05a" stroke="none" stroke-width="1" />
<circle cx="274.14" cy="187.40" r="0.42" fill="#6cc05a" stroke="none" stroke-width="1" />
<circle cx="279.54" cy="183.00" r="0.42" fill="#6cc05a" stroke="none" stroke-width="1" />
<circle cx="275.34" cy="186.64" r="0.42" fill="#6cc05a" stroke="none" stroke-width="1" />
<circle cx="268.51" cy="195.19" r="0.42" fill="#6cc05a" stroke="none" stroke-width="1" />
<circle cx="276.97" cy="185.08" r="0.42" fill="#6cc05a" stroke="none" stroke-width="1" />
<circle cx="264.10" cy="193.36" r="0.42" fill="#6cc05a" stroke="none" stroke-width="1" />
<circle cx="273.03" cy="181.50" r="0.42" fill="#6cc05a" stroke="none" stroke-width="1" />
<circle cx="273.38" cy="189.90" r="0.42" fill="#6cc05a" stroke="none" stroke-width="1" />
<circle cx="269.98" cy="194.85" r="0.42" fill="#6cc05a" stroke="none" stroke-width="1" />
<circle cx="274.42" cy="185.34" r="0.42" fill="#6cc05a" stroke="none" stroke-width="1" />
<circle cx="274.76" cy="187.49" r="0.42" fill="#6cc05a" stroke="none" stroke-width="1" />
<circle cx="274.73" cy="189.05" r="0.42" fill="#6cc05a" stroke="none" stroke-width="1" />
<circle cx="269.41" cy="189.14" r="0.42" fill="#6cc05a" stroke="none" stroke-width="1" />
<circle cx="276.55" cy="183.92" r="0.42" fill="#6cc05a" stroke="none" stroke-width="1" />
<circle cx="270.62" cy="192.22" r="0.42" fill="#6cc05a" stroke="none" stroke-width="1" />
<circle cx="277.45" cy="181.64" r="0.42" fill="#6cc05a" stroke="none" stroke-width="1" />
<circle cx="267.10" cy="192.13" r="0.42" fill="#6cc05a" stroke="none" stroke-width="1" />
<circle cx="271.54" cy="187.54" r="0.42" fill="#6cc05a" stroke="none" stroke-width="1" />
<circle cx="276.35" cy="180.86" r="0.42" fill="#6cc05a" stroke="none" stroke-width="1" />
<circle cx="275.44" cy="180.96" r="0.42" fill="#6cc05a" stroke="none" stroke-width="1" />
<circle cx="270.51" cy="191.35" r="0.42" fill="#6cc05a" stroke="none" stroke-width="1" />
<circle cx="278.13" cy="185.03" r="0.42" fill="#6cc05a" stroke="none" stroke-width="1" />
<circle cx="274.08" cy="186.56" r="0.42" fill="#6cc05a" stroke="none" stroke-width="1" />
<circle cx="273.99" cy="187.97" r="0.42" fill="#6cc05a" stroke="none" stroke-width="1" />
<circle cx="272.30" cy="188.61" r="0.42" fill="#6cc05a" stroke="none" stroke-width="1" />
<circle cx="274.73" cy="185.52" r="0.42" fill="#6cc05a" stroke="none" stroke-width="1" />
<circle cx="276.30" cy="185.81" r="0.42" fill="#6cc05a" stroke="none" stroke-width="1" />
<circle cx="280.68" cy="181.04" r="0.42" fill="#6cc05a" stroke="none" stroke-width="1" />
<circle cx="270.37" cy="188.39" r="0.42" fill="#6cc05a" stroke="none" stroke-width="1" />
<circle cx="273.89" cy="189.14" r="0.42" fill="#6cc05a" stroke="none" stroke-width="1" />
<circle cx="271.85" cy="189.36" r="0.42" fill="#6cc05a" stroke="none" stroke-width="1" />
<circle cx="275.68" cy="176.73" r="0.42" fill="#6cc05a" stroke="none" stroke-width="1" />
<circle cx="268.64" cy="191.87" r="0.42" fill="#6cc05a" stroke="none" stroke-width="1" />
<circle cx="274.42" cy="186.54" r="0.42" fill="#6cc05a" stroke="none" stroke-width="1" />
<circle cx="271.89" cy="190.15" r="0.42" fill="#6cc05a" stroke="none" stroke-width="1" />
<circle cx="272.84" cy="185.65" r="0.42" fill="#6cc05a" stroke="none" stroke-width="1" />
<circle cx="282.32" cy="179.62" r="0.42" fill="#6cc05a" stroke="none" stroke-width="1" />
<circle cx="270.29" cy="189.30" r="0.42" fill="#6cc05a" stroke="none" stroke-width="1" />
<circle cx="271.60" cy="188.21" r="0.42" fill="#6cc05a" stroke="none" stroke-width="1" />
<circle cx="261.45" cy="196.25" r="0.42" fill="#6cc05a" stroke="none" stroke-width="1" />
<circle cx="274.63" cy="182.01" r="0.42" fill="#6cc05a" stroke="none" stroke-width="1" />
<circle cx="273.73" cy="189.38" r="0.42" fill="#6cc05a" stroke="none" stroke-width="1" />
<circle cx="278.04" cy="187.06" r="0.42" fill="#6cc05a" stroke="none" stroke-width="1" />
<circle cx="265.55" cy="192.88" r="0.42" fill="#6cc05a" stroke="none" stroke-width="1" />
<circle cx="272.19" cy="189.78" r="0.42" fill="#6cc05a" stroke="none" stroke-width="1" />
<circle cx="272.67" cy="179.14" r="0.42" fill="#6cc05a" stroke="none" stroke-width="1" />
<circle cx="274.52" cy="181.25" r="0.42" fill="#6cc05a" stroke="none" stroke-width="1" />
<circle cx="272.91" cy="182.60" r="0.42" fill="#6cc05a" stroke="none" stroke-width="1" />
<circle cx="275.01" cy="188.94" r="0.42" fill="#6cc05a" stroke="none" stroke-width="1" />
<circle cx="272.27" cy="188.37" r="0.42" fill="#6cc05a" stroke="none" stroke-width="1" />
<circle cx="275.79" cy="184.98" r="0.42" fill="#6cc05a" stroke="none" stroke-width="1" />
<circle cx="274.51" cy="190.44" r="0.42" fill="#6cc05a" stroke="none" stroke-width="1" />
<circle cx="276.09" cy="183.36" r="0.42" fill="#6cc05a" stroke="none" stroke-width="1" />
<circle cx="281.26" cy="175.97" r="0.42" fill="#6cc05a" stroke="none" stroke-width="1" />
<circle cx="275.63" cy="183.87" r="0.42" fill="#6cc05a" stroke="none" stroke-width="1" />
<circle cx="274.11" cy="188.26" r="0.42" fill="#6cc05a" stroke="none" stroke-width="1" />
<circle cx="274.35" cy="187.83" r="0.42" fill="#6cc05a" stroke="none" stroke-width="1" />
<circle cx="264.48" cy="190.30" r="0.42" fill="#6cc05a" stroke="none" stroke-width="1" />
<circle cx="273.44" cy="183.74" r="0.42" fill="#6cc05a" stroke="none" stroke-width="1" />
<circle cx="266.44" cy="188.62" r="0.42" fill="#6cc05a" stroke="none" stroke-width="1" />
<circle cx="278.48" cy="184.36" r="0.42" fill="#6cc05a" stroke="none" stroke-width="1" />
<circle cx="276.74" cy="180.78" r="0.42" fill="#6cc05a" stroke="none" stroke-width="1" />
<circle cx="270.84" cy="185.58" r="0.42" fill="#6cc05a" stroke="none" stroke-width="1" />
<circle cx="277.85" cy="187.55" r="0.42" fill="#6cc05a" stroke="none" stroke-width="1" />
<circle cx="271.51" cy="193.29" r="0.42" fill="#6cc05a" stroke="none" stroke-width="1" />
<circle cx="276.04" cy="183.76" r="0.42" fill="#6cc05a" stroke="none" stroke-width="1" />
<circle cx="267.17" cy="196.82" r="0.42" fill="#6cc05a" stroke="none" stroke-width="1" />
<circle cx="271.28" cy="186.84" r="0.42" fill="#6cc05a" stroke="none" stroke-width="1" />
<circle cx="274.68" cy="186.82" r="0.42" fill="#6cc05a" stroke="none" stroke-width="1" />
<circle cx="276.71" cy="180.55" r="0.42" fill="#6cc05a" stroke="none" stroke-width="1" />
<circle cx="279.10" cy="186.08" r="0.42" fill="#6cc05a" stroke="none" stroke-width="1" />
<circle cx="277.80" cy="182.14" r="0.42" fill="#6cc05a" stroke="none" stroke-width="1" />
<circle cx="271.25" cy="191.86" r="0.42" fill="#6cc05a" stroke="none" stroke-width="1" />
<circle cx="273.17" cy="187.33" r="0.42" fill="#6cc05a" stroke="none" stroke-width="1" />
<circle cx="277.57" cy="182.09" r="0.42" fill="#6cc05a" stroke="none" stroke-width="1" />
<circle cx="263.24" cy="194.91" r="0.42" fill="#6cc05a" stroke="none" stroke-width="1" />
<circle cx="266.73" cy="195.41" r="0.42" fill="#6cc05a" stroke="none" stroke-width="1" />
<circle cx="272.84" cy="185.38" r="0.42" fill="#6cc05a" stroke="none" stroke-width="1" />
<circle cx="273.76" cy="188.97" r="0.42" fill="#6cc05a" stroke="none" stroke-width="1" />
<circle cx="274.84" cy="189.50" r="0.42" fill="#6cc05a" stroke="none" stroke-width="1" />
<circle cx="273.88" cy="189.51" r="0.42" fill="#6cc05a" stroke="none" stroke-width="1" />
<circle cx="280.63" cy="185.04" r="0.42" fill="#6cc05a" stroke="none" stroke-width="1" />
<circle cx="271.32" cy="191.37" r="0.42" fill="#6cc05a" stroke="none" stroke-width="1" />
<circle cx="263.80" cy="192.25" r="0.42" fill="#6cc05a" stroke="none" stroke-width="1" />
<circle cx="266.69" cy="196.21" r="0.42" fill="#6cc05a" stroke="none" stroke-width="1" />
<circle cx="267.85" cy="191.82" r="0.42" fill="#6cc05a" stroke="none" stroke-width="1" />
<circle cx="271.78" cy="188.15" r="0.42" fill="#6cc05a" stroke="none" stroke-width="1" />
<circle cx="270.65" cy="189.99" r="0.42" fill="#6cc05a" stroke="none" stroke-width="1" />
<circle cx="279.42" cy="181.33" r="0.42" fill="#6cc05a" stroke="none" stroke-width="1" />
<circle cx="276.07" cy="187.37" r="0.42" fill="#6cc05a" stroke="none" stroke-width="1" />
<circle cx="269.91" cy="186.08" r="0.42" fill="#6cc05a" stroke="none" stroke-width="1" />
<circle cx="272.05" cy="191.29" r="0.42" fill="#6cc05a" stroke="none" stroke-width="1" />
<circle cx="265.40" cy="192.27" r="0.42" fill="#6cc05a" stroke="none" stroke-width="1" />
<circle cx="277.57" cy="185.35" r="0.42" fill="#6cc05a" stroke="none" stroke-width="1" />
<circle cx="273.79" cy="188.87" r="0.42" fill="#6cc05a" stroke="none" stroke-width="1" />
<circle cx="271.41" cy="184.94" r="0.42" fill="#6cc05a" stroke="none" stroke-width="1" />
<circle cx="265.65" cy="191.91" r="0.42" fill="#6cc05a" stroke="none" stroke-width="1" />
<circle cx="275.21" cy="183.33" r="0.42" fill="#6cc05a" stroke="none" stroke-width="1" />
<circle cx="267.96" cy="189.37" r="0.42" fill="#6cc05a" stroke="none" stroke-width="1" />
<circle cx="266.55" cy="192.69" r="0.42" fill="#6cc05a" stroke="none" stroke-width="1" />
<circle cx="268.61" cy="192.27" r="0.42" fill="#6cc05a" stroke="none" stroke-width="1" />
<circle cx="264.07" cy="196.34" r="0.42" fill="#6cc05a" stroke="none" stroke-width="1" />
<circle cx="267.20" cy="186.47" r="0.42" fill="#6cc05a" stroke="none" stroke-width="1" />
<circle cx="274.89" cy="184.52" r="0.42" fill="#6cc05a" stroke="none" stroke-width="1" />
<circle cx="262.76" cy="193.84" r="0.42" fill="#6cc05a" stroke="none" stroke-width="1" />
<circle cx="272.97" cy="185.73" r="0.42" fill="#6cc05a" stroke="none" stroke-width="1" />
<circle cx="276.64" cy="186.07" r="0.42" fill="#6cc05a" stroke="none" stroke-width="1" />
<circle cx="275.57" cy="185.75" r="0.42" fill="#6cc05a" stroke="none" stroke-width="1" />
<circle cx="278.61" cy="183.98" r="0.42" fill="#6cc05a" stroke="none" stroke-width="1" />
<circle cx="271.14" cy="182.40" r="0.42" fill="#6cc05a" stroke="none" stroke-width="1" />
<circle cx="277.92" cy="186.61" r="0.42" fill="#6cc05a" stroke="none" stroke-width="1" />
<circle cx="270.72" cy="187.77" r="0.42" fill="#6cc05a" stroke="none" stroke-width="1" />
<circle cx="277.29" cy="177.75" r="0.42" fill="#6cc05a" stroke="none" stroke-width="1" />
<circle cx="277.97" cy="190.00" r="0.42" fill="#6cc05a" stroke="none" stroke-width="1" />
<circle cx="270.06" cy="191.94" r="0.42" fill="#6cc05a" stroke="none" stroke-width="1" />
<circle cx="279.54" cy="180.72" r="0.42" fill="#6cc05a" stroke="none" stroke-width="1" />
<circle cx="276.04" cy="187.10" r="0.42" fill="#6cc05a" stroke="none" stroke-width="1" />
<circle cx="268.97" cy="190.54" r="0.42" fill="#6cc05a" stroke="none" stroke-width="1" />
<circle cx="274.90" cy="187.90" r="0.42" fill="#6cc05a" stroke="none" stroke-width="1" />
<circle cx="272.13" cy="187.31" r="0.42" fill="#6cc05a" stroke="none" stroke-width="1" />
<circle cx="268.15" cy="190.47" r="0.42" fill="#6cc05a" stroke="none" stroke-width="1" />
<circle cx="276.09" cy="184.58" r="0.42" fill="#6cc05a" stroke="none" stroke-width="1" />
<circle cx="268.05" cy="189.08" r="0.42" fill="#6cc05a" stroke="none" stroke-width="1" />
<circle cx="284.39" cy="180.13" r="0.42" fill="#6cc05a" stroke="none" stroke-width="1" />
<circle cx="271.08" cy="180.89" r="0.42" fill="#6cc05a" stroke="none" stroke-width="1" />
<circle cx="275.63" cy="186.17" r="0.42" fill="#6cc05a" stroke="none" stroke-width="1" />
<circle cx="279.59" cy="182.36" r="0.42" fill="#6cc05a" stroke="none" stroke-width="1" />
<circle cx="273.08" cy="188.65" r="0.42" fill="#6cc05a" stroke="none" stroke-width="1" />
<circle cx="266.71" cy="196.09" r="0.42" fill="#6cc05a" stroke="none" stroke-width="1" />
<circle cx="272.73" cy="185.19" r="0.42" fill="#6cc05a" stroke="none" stroke-width="1" />
<circle cx="280.30" cy="185.96" r="0.42" fill="#6cc05a" stroke="none" stroke-width="1" />
<circle cx="266.22" cy="191.30" r="0.42" fill="#6cc05a" stroke="none" stroke-width="1" />
<circle cx="273.93" cy="186.82" r="0.42" fill="#6cc05a" stroke="none" stroke-width="1" />
<circle cx="269.57" cy="187.26" r="0.42" fill="#6cc05a" stroke="none" stroke-width="1" />
<circle cx="282.16" cy="181.87" r="0.42" fill="#6cc05a" stroke="none" stroke-width="1" />
<circle cx="265.99" cy="189.42" r="0.42" fill="#6cc05a" stroke="none" stroke-width="1" />
<circle cx="280.51" cy="183.25" r="0.42" fill="#6cc05a" stroke="none" stroke-width="1" />
<circle cx="280.68" cy="182.53" r="0.42" fill="#6cc05a" stroke="none" stroke-width="1" />
<circle cx="269.63" cy="191.02" r="0.42" fill="#6cc05a" stroke="none" stroke-width="1" />
<circle cx="263.22" cy="193.81" r="0.42" fill="#6cc05a" stroke="none" stroke-width="1" />
<circle cx="273.11" cy="188.62" r="0.42" fill="#6cc05a" stroke="none" stroke-width="1" />
<circle cx="269.60" cy="189.86" r="0.42" fill="#6cc05a" stroke="none" stroke-width="1" />
<circle cx="274.86" cy="186.56" r="0.42" fill="#6cc05a" stroke="none" stroke-width="1" />
<circle cx="275.29" cy="185.65" r="0.42" fill="#6cc05a" stroke="none" stroke-width="1" />
<circle cx="272.50" cy="190.00" r="0.42" fill="#6cc05a" stroke="none" stroke-width="1" />
<circle cx="271.50" cy="185.95" r="0.42" fill="#6cc05a" stroke="none" stroke-width="1" />
<circle cx="270.17" cy="189.72" r="0.42" fill="#6cc05a" stroke="none" stroke-width="1" />
<circle cx="272.37" cy="188.18" r="0.42" fill="#6cc05a" stroke="none" stroke-width="1" />
<circle cx="272.81" cy="187.83" r="0.42" fill="#6cc05a" stroke="none" stroke-width="1" />
<circle cx="270.15" cy="185.86" r="0.42" fill="#6cc05a" stroke="none" stroke-width="1" />
<circle cx="275.73" cy="187.84" r="0.42" fill="#6cc05a" stroke="none" stroke-width="1" />
<circle cx="273.92" cy="185.68" r="0.42" fill="#6cc05a" stroke="none" stroke-width="1" />
<circle cx="272.80" cy="184.32" r="0.42" fill="#6cc05a" stroke="none" stroke-width="1" />
<circle cx="265.43" cy="194.26" r="0.42" fill="#6cc05a" stroke="none" stroke-width="1" />
<circle cx="270.12" cy="192.04" r="0.42" fill="#6cc05a" stroke="none" stroke-width="1" />
<circle cx="264.49" cy="186.85" r="0.42" fill="#6cc05a" stroke="none" stroke-width="1" />
<circle cx="270.97" cy="193.85" r="0.42" fill="#6cc05a" stroke="none" stroke-width="1" />
<circle cx="269.05" cy="186.53" r="0.42" fill="#6cc05a" stroke="none" stroke-width="1" />
<circle cx="270.43" cy="191.08" r="0.42" fill="#6cc05a" stroke="none" stroke-width="1" />
<circle cx="274.70" cy="186.09" r="0.42" fill="#6cc05a" stroke="none" stroke-width="1" />
<circle cx="279.25" cy="183.53" r="0.42" fill="#6cc05a" stroke="none" stroke-width="1" />
<circle cx="273.37" cy="188.61" r="0.42" fill="#6cc05a" stroke="none" stroke-width="1" />
<circle cx="280.29" cy="183.39" r="0.42" fill="#6cc05a" stroke="none" stroke-width="1" />
<circle cx="274.82" cy="182.10" r="0.42" fill="#6cc05a" stroke="none" stroke-width="1" />
<circle cx="273.08" cy="189.29" r="0.42" fill="#6cc05a" stroke="none" stroke-width="1" />
<circle cx="273.03" cy="190.38" r="0.42" fill="#6cc05a" stroke="none" stroke-width="1" />
<circle cx="276.18" cy="186.98" r="0.42" fill="#6cc05a" stroke="none" stroke-width="1" />
<circle cx="275.56" cy="192.60" r="0.42" fill="#6cc05a" stroke="none" stroke-width="1" />
<circle cx="276.94" cy="182.82" r="0.42" fill="#6cc05a" stroke="none" stroke-width="1" />
<circle cx="276.79" cy="191.62" r="0.42" fill="#6cc05a" stroke="none" stroke-width="1" />
<circle cx="272.56" cy="190.21" r="0.42" fill="#6cc05a" stroke="none" stroke-width="1" />
<circle cx="276.29" cy="184.10" r="0.42" fill="#6cc05a" stroke="none" stroke-width="1" />
<circle cx="268.40" cy="191.93" r="0.42" fill="#6cc05a" stroke="none" stroke-width="1" />
<circle cx="275.61" cy="188.19" r="0.42" fill="#6cc05a" stroke="none" stroke-width="1" />
<circle cx="275.56" cy="184.83" r="0.42" fill="#6cc05a" stroke="none" stroke-width="1" />
<circle cx="276.60" cy="185.46" r="0.42" fill="#6cc05a" stroke="none" stroke-width="1" />
<circle cx="273.42" cy="186.90" r="0.42" fill="#6cc05a" stroke="none" stroke-width="1" />
<circle cx="272.65" cy="189.54" r="0.42" fill="#6cc05a" stroke="none" stroke-width="1" />
<circle cx="267.60" cy="190.15" r="0.42" fill="#6cc05a" stroke="none" stroke-width="1" />
<circle cx="270.37" cy="185.02" r="0.42" fill="#6cc05a" stroke="none" stroke-width="1" />
<circle cx="267.88" cy="185.64" r="0.42" fill="#6cc05a" stroke="none" stroke-width="1" />
<circle cx="270.81" cy="190.88" r="0.42" fill="#6cc05a" stroke="none" stroke-width="1" />
<circle cx="274.62" cy="185.45" r="0.42" fill="#6cc05a" stroke="none" stroke-width="1" />
<circle cx="269.54" cy="185.93" r="0.42" fill="#6cc05a" stroke="none" stroke-width="1" />
<circle cx="280.27" cy="182.00" r="0.42" fill="#6cc05a" stroke="none" stroke-width="1" />
<circle cx="275.38" cy="182.20" r="0.42" fill="#6cc05a" stroke="none" stroke-width="1" />
<circle cx="269.12" cy="185.08" r="0.42" fill="#6cc05a" stroke="none" stroke-width="1" />
<circle cx="276.92" cy="186.38" r="0.42" fill="#6cc05a" stroke="none" stroke-width="1" />
<circle cx="265.26" cy="194.08" r="0.42" fill="#6cc05a" stroke="none" stroke-width="1" />
<circle cx="272.30" cy="182.32" r="0.42" fill="#6cc05a" stroke="none" stroke-width="1" />
<circle cx="264.02" cy="192.10" r="0.42" fill="#6cc05a" stroke="none" stroke-width="1" />
<circle cx="268.05" cy="187.34" r="0.42" fill="#6cc05a" stroke="none" stroke-width="1" />
<circle cx="273.04" cy="187.84" r="0.42" fill="#6cc05a" stroke="none" stroke-width="1" />
<circle cx="276.01" cy="186.50" r="0.42" fill="#6cc05a" stroke="none" stroke-width="1" />
<circle cx="280.01" cy="184.25" r="0.42" fill="#6cc05a" stroke="none" stroke-width="1" />
<circle cx="266.81" cy="191.26" r="0.42" fill="#6cc05a" stroke="none" stroke-width="1" />
<circle cx="266.91" cy="189.41" r="0.42" fill="#6cc05a" stroke="none" stroke-width="1" />
<circle cx="272.25" cy="187.82" r="0.42" fill="#6cc05a" stroke="none" stroke-width="1" />
<circle cx="272.03" cy="183.11" r="0.42" fill="#6cc05a" stroke="none" stroke-width="1" />
<circle cx="267.81" cy="191.82" r="0.42" fill="#6cc05a" stroke="none" stroke-width="1" />
<circle cx="271.33" cy="187.69" r="0.42" fill="#6cc05a" stroke="none" stroke-width="1" />
<circle cx="271.17" cy="186.45" r="0.42" fill="#6cc05a" stroke="none" stroke-width="1" />
<circle cx="275.75" cy="185.67" r="0.42" fill="#6cc05a" stroke="none" stroke-width="1" />
<circle cx="271.21" cy="186.69" r="0.42" fill="#6cc05a" stroke="none" stroke-width="1" />
<circle cx="267.81" cy="183.51" r="0.42" fill="#6cc05a" stroke="none" stroke-width="1" />
<circle cx="268.88" cy="191.02" r="0.42" fill="#6cc05a" stroke="none" stroke-width="1" />
<circle cx="267.13" cy="193.13" r="0.42" fill="#6cc05a" stroke="none" stroke-width="1" />
<circle cx="271.04" cy="184.67" r="0.42" fill="#6cc05a" stroke="none" stroke-width="1" />
<circle cx="271.13" cy="187.87" r="0.42" fill="#6cc05a" stroke="none" stroke-width="1" />
<circle cx="275.22" cy="186.96" r="0.42" fill="#6cc05a" stroke="none" stroke-width="1" />
<circle cx="271.14" cy="186.20" r="0.42" fill="#6cc05a" stroke="none" stroke-width="1" />
<circle cx="271.90" cy="187.92" r="0.42" fill="#6cc05a" stroke="none" stroke-width="1" />
<circle cx="275.78" cy="185.45" r="0.42" fill="#6cc05a" stroke="none" stroke-width="1" />
<circle cx="267.77" cy="187.75" r="0.42" fill="#6cc05a" stroke="none" stroke-width="1" />
<circle cx="270.02" cy="187.57" r="0.42" fill="#6cc05a" stroke="none" stroke-width="1" />
<circle cx="268.15" cy="191.22" r="0.42" fill="#6cc05a" stroke="none" stroke-width="1" />
<circle cx="270.84" cy="189.42" r="0.42" fill="#6cc05a" stroke="none" stroke-width="1" />
<circle cx="273.92" cy="184.99" r="0.42" fill="#6cc05a" stroke="none" stroke-width="1" />
<circle cx="280.90" cy="178.84" r="0.42" fill="#6cc05a" stroke="none" stroke-width="1" />
<circle cx="276.92" cy="183.88" r="0.42" fill="#6cc05a" stroke="none" stroke-width="1" />
<circle cx="273.23" cy="179.58" r="0.42" fill="#6cc05a" stroke="none" stroke-width="1" />
<circle cx="270.06" cy="190.58" r="0.42" fill="#6cc05a" stroke="none" stroke-width="1" />
<circle cx="278.34" cy="189.39" r="0.42" fill="#6cc05a" stroke="none" stroke-width="1" />
<circle cx="275.70" cy="188.57" r="0.42" fill="#6cc05a" stroke="none" stroke-width="1" />
<circle cx="276.88" cy="186.45" r="0.42" fill="#6cc05a" stroke="none" stroke-width="1" />
<circle cx="274.25" cy="185.47" r="0.42" fill="#6cc05a" stroke="none" stroke-width="1" />
<circle cx="272.87" cy="183.91" r="0.42" fill="#6cc05a" stroke="none" stroke-width="1" />
<circle cx="275.51" cy="181.66" r="0.42" fill="#6cc05a" stroke="none" stroke-width="1" />
<circle cx="276.68" cy="190.26" r="0.42" fill="#6cc05a" stroke="none" stroke-width="1" />
<circle cx="271.73" cy="188.34" r="0.42" fill="#6cc05a" stroke="none" stroke-width="1" />
<circle cx="277.01" cy="183.50" r="0.42" fill="#6cc05a" stroke="none" stroke-width="1" />
<circle cx="269.87" cy="190.79" r="0.42" fill="#6cc05a" stroke="none" stroke-width="1" />
<circle cx="275.83" cy="186.69" r="0.42" fill="#6cc05a" stroke="none" stroke-width="1" />
<circle cx="272.24" cy="193.21" r="0.42" fill="#6cc05a" stroke="none" stroke-width="1" />
<circle cx="278.91" cy="181.72" r="0.42" fill="#6cc05a" stroke="none" stroke-width="1" />
<circle cx="272.93" cy="185.86" r="0.42" fill="#6cc05a" stroke="none" stroke-width="1" />
<circle cx="276.87" cy="181.38" r="0.42" fill="#6cc05a" stroke="none" stroke-width="1" />
<circle cx="274.39" cy="184.35" r="0.42" fill="#6cc05a" stroke="none" stroke-width="1" />
<circle cx="270.99" cy="191.18" r="0.42" fill="#6cc05a" stroke="none" stroke-width="1" />
<circle cx="277.60" cy="182.84" r="0.42" fill="#6cc05a" stroke="none" stroke-width="1" />
<circle cx="271.19" cy="191.28" r="0.42" fill="#6cc05a" stroke="none" stroke-width="1" />
<circle cx="272.83" cy="188.23" r="0.42" fill="#6cc05a" stroke="none" stroke-width="1" />
<circle cx="280.03" cy="184.12" r="0.42" fill="#6cc05a" stroke="none" stroke-width="1" />
<circle cx="274.00" cy="193.23" r="0.42" fill="#6cc05a" stroke="none" stroke-width="1" />
<circle cx="273.74" cy="188.85" r="0.42" fill="#6cc05a" stroke="none" stroke-width="1" />
<circle cx="270.02" cy="189.71" r="0.42" fill="#6cc05a" stroke="none" stroke-width="1" />
<circle cx="268.58" cy="196.69" r="0.42" fill="#6cc05a" stroke="none" stroke-width="1" />
<circle cx="275.92" cy="180.68" r="0.42" fill="#6cc05a" stroke="none" stroke-width="1" />
<circle cx="264.40" cy="190.04" r="0.42" fill="#6cc05a" stroke="none" stroke-width="1" />
<circle cx="276.33" cy="182.63" r="0.42" fill="#6cc05a" stroke="none" stroke-width="1" />
<circle cx="271.85" cy="187.21" r="0.42" fill="#6cc05a" stroke="none" stroke-width="1" />
<circle cx="270.46" cy="186.10" r="0.42" fill="#6cc05a" stroke="none" stroke-width="1" />
<circle cx="270.48" cy="185.00" r="0.42" fill="#6cc05a" stroke="none" stroke-width="1" />
<circle cx="272.74" cy="188.30" r="0.42" fill="#6cc05a" stroke="none" stroke-width="1" />
<circle cx="273.98" cy="185.49" r="0.42" fill="#6cc05a" stroke="none" stroke-width="1" />
<circle cx="269.36" cy="190.96" r="0.42" fill="#6cc05a" stroke="none" stroke-width="1" />
<circle cx="273.06" cy="191.88" r="0.42" fill="#6cc05a" stroke="none" stroke-width="1" />
<circle cx="275.29" cy="184.64" r="0.42" fill="#6cc05a" stroke="none" stroke-width="1" />
<circle cx="269.71" cy="187.98" r="0.42" fill="#6cc05a" stroke="none" stroke-width="1" />
<circle cx="268.46" cy="190.21" r="0.42" fill="#6cc05a" stroke="none" stroke-width="1" />
<circle cx="274.44" cy="187.37" r="0.42" fill="#6cc05a" stroke="none" stroke-width="1" />
<circle cx="277.86" cy="189.10" r="0.42" fill="#6cc05a" stroke="none" stroke-width="1" />
<circle cx="269.89" cy="190.01" r="0.42" fill="#6cc05a" stroke="none" stroke-width="1" />
<circle cx="280.37" cy="174.57" r="0.42" fill="#6cc05a" stroke="none" stroke-width="1" />
<circle cx="270.82" cy="189.64" r="0.42" fill="#6cc05a" stroke="none" stroke-width="1" />
<circle cx="273.75" cy="187.68" r="0.42" fill="#6cc05a" stroke="none" stroke-width="1" />
<circle cx="272.19" cy="188.98" r="0.42" fill="#6cc05a" stroke="none" stroke-width="1" />
<circle cx="273.91" cy="188.65" r="0.42" fill="#6cc05a" stroke="none" stroke-width="1" />
<circle cx="264.03" cy="192.64" r="0.42" fill="#6cc05a" stroke="none" stroke-width="1" />
<circle cx="270.99" cy="185.78" r="0.42" fill="#6cc05a" stroke="none" stroke-width="1" />
<circle cx="269.52" cy="192.25" r="0.42" fill="#6cc05a" stroke="none" stroke-width="1" />
<circle cx="271.03" cy="190.88" r="0.42" fill="#6cc05a" stroke="none" stroke-width="1" />
<circle cx="275.84" cy="185.44" r="0.42" fill="#6cc05a" stroke="none" stroke-width="1" />
<circle cx="274.32" cy="185.57" r="0.42" fill="#6cc05a" stroke="none" stroke-width="1" />
<circle cx="267.15" cy="192.41" r="0.42" fill="#6cc05a" stroke="none" stroke-width="1" />
<circle cx="273.48" cy="185.04" r="0.42" fill="#6cc05a" stroke="none" stroke-width="1" />
<circle cx="273.30" cy="189.15" r="0.42" fill="#6cc05a" stroke="none" stroke-width="1" />
<circle cx="270.17" cy="191.69" r="0.42" fill="#6cc05a" stroke="none" stroke-width="1" />
<circle cx="278.80" cy="180.06" r="0.42" fill="#6cc05a" stroke="none" stroke-width="1" />
<circle cx="272.88" cy="186.76" r="0.42" fill="#6cc05a" stroke="none" stroke-width="1" />
<circle cx="278.88" cy="182.67" r="0.42" fill="#6cc05a" stroke="none" stroke-width="1" />
<circle cx="274.93" cy="183.21" r="0.42" fill="#6cc05a" stroke="none" stroke-width="1" />
<circle cx="272.47" cy="187.56" r="0.42" fill="#6cc05a" stroke="none" stroke-width="1" />
<circle cx="267.96" cy="196.19" r="0.42" fill="#6cc05a" stroke="none" stroke-width="1" />
<circle cx="273.34" cy="181.40" r="0.42" fill="#6cc05a" stroke="none" stroke-width="1" />
<circle cx="275.18" cy="184.70" r="0.42" fill="#6cc05a" stroke="none" stroke-width="1" />
<circle cx="274.80" cy="186.58" r="0.42" fill="#6cc05a" stroke="none" stroke-width="1" />
<circle cx="266.54" cy="192.41" r="0.42" fill="#6cc05a" stroke="none" stroke-width="1" />
<circle cx="277.36" cy="181.32" r="0.42" fill="#6cc05a" stroke="none" stroke-width="1" />
<circle cx="266.62" cy="188.79" r="0.42" fill="#6cc05a" stroke="none" stroke-width="1" />
<text x="276.3" y="213" text-anchor="middle" fill="#000" style='font-family:"Liberation Serif",serif;font-size:5.85px;font-weight:bold;' >Flow cytometry</text>
<text x="199.3" y="213" text-anchor="middle" fill="#000" style='font-family:"Liberation Serif",serif;font-size:5.85px;font-weight:bold;' >IF staining</text>
<text x="56.5" y="161.3" text-anchor="middle" fill="#000" style='font-family:"Liberation Serif",serif;font-size:5.85px;font-weight:bold;' >Naive pluripotency</text>
<line x1="22" y1="183.2" x2="89.5" y2="183.2" stroke="#222" stroke-width="1.1" />
<rect x="25.8" y="179.4" width="3.6" height="7.6" fill="#fff" stroke="#111" stroke-width="0.8" />
<rect x="42.6" y="179.4" width="3.6" height="7.6" fill="#fff" stroke="#111" stroke-width="0.8" />
<path d="M42.6 179.4 L46.2 187 M46.2 179.4 L42.6 187" stroke="#222" stroke-width="0.5"/>
<rect x="50.6" y="179.4" width="3.6" height="7.6" fill="#fff" stroke="#111" stroke-width="0.8" />
<rect x="57" y="178.0" width="27.7" height="10.8" fill="#22e61a" stroke="none" stroke-width="1" />
<text x="70.8" y="185.6" text-anchor="middle" fill="#000" style='font-family:"Liberation Serif",serif;font-size:6.2px;font-weight:bold;font-style:italic;' >GFP</text>
<path d="M27.3 177.3 C28.5 166.5 48 166 54.3 174.2" fill="none" stroke="#000" stroke-width="1.6"/>
<polygon points="57.3,177.6 51.6,175.6 55.6,171.9" fill="#000"/>
<path d="M70.3 178.0 L70.3 171.4 L81 171.4" fill="none" stroke="#000" stroke-width="0.8"/>
<polygon points="84.6,171.4 80.5,169.6 80.5,173.2" fill="#000"/>
<circle cx="76.70" cy="171.40" r="2.10" fill="none" stroke="#e02020" stroke-width="0.85" />
<text x="85.8" y="173.2" text-anchor="start" fill="#000" style='font-family:"Liberation Serif",serif;font-size:5.85px;font-weight:bold;' >on</text>
<text x="28" y="196.1" text-anchor="middle" fill="#000" style='font-family:"Liberation Serif",serif;font-size:5.85px;font-weight:bold;' >DE</text>
<text x="48.3" y="196.1" text-anchor="middle" fill="#000" style='font-family:"Liberation Serif",serif;font-size:5.85px;font-weight:bold;' >PE PP</text>
<text x="55.8" y="213" text-anchor="middle" fill="#000" style='font-family:"Liberation Serif",serif;font-size:5.85px;font-weight:bold;' >gcOct4 mESC</text>
<line x1="100" y1="183.2" x2="109.5" y2="183.2" stroke="#000" stroke-width="1.5"/>
<polygon points="113.8,183.2 109.0,180.79999999999998 109.0,185.6" fill="#000"/>
<circle cx="122.85" cy="185.20" r="1.75" fill="#d9d9d9" stroke="#3a4a3a" stroke-width="0.45" />
<circle cx="125.55" cy="175.60" r="1.75" fill="#c4c4c4" stroke="#3a4a3a" stroke-width="0.45" />
<circle cx="124.20" cy="178.00" r="1.75" fill="#d9d9d9" stroke="#3a4a3a" stroke-width="0.45" />
<circle cx="125.55" cy="180.40" r="1.75" fill="#d9d9d9" stroke="#3a4a3a" stroke-width="0.45" />
<circle cx="124.20" cy="182.80" r="1.75" fill="#c4c4c4" stroke="#3a4a3a" stroke-width="0.45" />
<circle cx="125.55" cy="185.20" r="1.75" fill="#c4c4c4" stroke="#3a4a3a" stroke-width="0.45" />
<circle cx="124.20" cy="187.60" r="1.75" fill="#6fdc5a" stroke="#3a4a3a" stroke-width="0.45" />
<circle cx="125.55" cy="190.00" r="1.75" fill="#6fdc5a" stroke="#3a4a3a" stroke-width="0.45" />
<circle cx="126.90" cy="173.20" r="1.75" fill="#c4c4c4" stroke="#3a4a3a" stroke-width="0.45" />
<circle cx="128.25" cy="175.60" r="1.75" fill="#d9d9d9" stroke="#3a4a3a" stroke-width="0.45" />
<circle cx="126.90" cy="178.00" r="1.75" fill="#8ee07a" stroke="#3a4a3a" stroke-width="0.45" />
<circle cx="128.25" cy="180.40" r="1.75" fill="#c4c4c4" stroke="#3a4a3a" stroke-width="0.45" />
<circle cx="126.90" cy="182.80" r="1.75" fill="#6fdc5a" stroke="#3a4a3a" stroke-width="0.45" />
<circle cx="128.25" cy="185.20" r="1.75" fill="#6fdc5a" stroke="#3a4a3a" stroke-width="0.45" />
<circle cx="126.90" cy="187.60" r="1.75" fill="#d9d9d9" stroke="#3a4a3a" stroke-width="0.45" />
<circle cx="128.25" cy="190.00" r="1.75" fill="#58c848" stroke="#3a4a3a" stroke-width="0.45" />
<circle cx="126.90" cy="192.40" r="1.75" fill="#6fdc5a" stroke="#3a4a3a" stroke-width="0.45" />
<circle cx="129.60" cy="173.20" r="1.75" fill="#6fdc5a" stroke="#3a4a3a" stroke-width="0.45" />
<circle cx="130.95" cy="175.60" r="1.75" fill="#c4c4c4" stroke="#3a4a3a" stroke-width="0.45" />
<circle cx="129.60" cy="178.00" r="1.75" fill="#8ee07a" stroke="#3a4a3a" stroke-width="0.45" />
<circle cx="130.95" cy="180.40" r="1.75" fill="#8ee07a" stroke="#3a4a3a" stroke-width="0.45" />
<circle cx="129.60" cy="182.80" r="1.75" fill="#6fdc5a" stroke="#3a4a3a" stroke-width="0.45" />
<circle cx="130.95" cy="185.20" r="1.75" fill="#c4c4c4" stroke="#3a4a3a" stroke-width="0.45" />
<circle cx="129.60" cy="187.60" r="1.75" fill="#d9d9d9" stroke="#3a4a3a" stroke-width="0.45" />
<circle cx="130.95" cy="190.00" r="1.75" fill="#d9d9d9" stroke="#3a4a3a" stroke-width="0.45" />
<circle cx="129.60" cy="192.40" r="1.75" fill="#8ee07a" stroke="#3a4a3a" stroke-width="0.45" />
<circle cx="132.30" cy="173.20" r="1.75" fill="#8ee07a" stroke="#3a4a3a" stroke-width="0.45" />
<circle cx="133.65" cy="175.60" r="1.75" fill="#c4c4c4" stroke="#3a4a3a" stroke-width="0.45" />
<circle cx="132.30" cy="178.00" r="1.75" fill="#8ee07a" stroke="#3a4a3a" stroke-width="0.45" />
<circle cx="133.65" cy="180.40" r="1.75" fill="#6fdc5a" stroke="#3a4a3a" stroke-width="0.45" />
<circle cx="132.30" cy="182.80" r="1.75" fill="#c4c4c4" stroke="#3a4a3a" stroke-width="0.45" />
<circle cx="133.65" cy="185.20" r="1.75" fill="#6fdc5a" stroke="#3a4a3a" stroke-width="0.45" />
<circle cx="132.30" cy="187.60" r="1.75" fill="#c4c4c4" stroke="#3a4a3a" stroke-width="0.45" />
<circle cx="133.65" cy="190.00" r="1.75" fill="#6fdc5a" stroke="#3a4a3a" stroke-width="0.45" />
<circle cx="132.30" cy="192.40" r="1.75" fill="#6fdc5a" stroke="#3a4a3a" stroke-width="0.45" />
<circle cx="135.00" cy="173.20" r="1.75" fill="#6fdc5a" stroke="#3a4a3a" stroke-width="0.45" />
<circle cx="136.35" cy="175.60" r="1.75" fill="#6fdc5a" stroke="#3a4a3a" stroke-width="0.45" />
<circle cx="135.00" cy="178.00" r="1.75" fill="#6fdc5a" stroke="#3a4a3a" stroke-width="0.45" />
<circle cx="136.35" cy="180.40" r="1.75" fill="#c4c4c4" stroke="#3a4a3a" stroke-width="0.45" />
<circle cx="135.00" cy="182.80" r="1.75" fill="#6fdc5a" stroke="#3a4a3a" stroke-width="0.45" />
<circle cx="136.35" cy="185.20" r="1.75" fill="#d9d9d9" stroke="#3a4a3a" stroke-width="0.45" />
<circle cx="135.00" cy="187.60" r="1.75" fill="#58c848" stroke="#3a4a3a" stroke-width="0.45" />
<circle cx="136.35" cy="190.00" r="1.75" fill="#d9d9d9" stroke="#3a4a3a" stroke-width="0.45" />
<circle cx="137.70" cy="178.00" r="1.75" fill="#c4c4c4" stroke="#3a4a3a" stroke-width="0.45" />
<circle cx="139.05" cy="180.40" r="1.75" fill="#6fdc5a" stroke="#3a4a3a" stroke-width="0.45" />
<circle cx="137.70" cy="182.80" r="1.75" fill="#c4c4c4" stroke="#3a4a3a" stroke-width="0.45" />
<circle cx="139.05" cy="185.20" r="1.75" fill="#6fdc5a" stroke="#3a4a3a" stroke-width="0.45" />
<circle cx="137.70" cy="187.60" r="1.75" fill="#8ee07a" stroke="#3a4a3a" stroke-width="0.45" />
<circle cx="139.05" cy="190.00" r="1.75" fill="#58c848" stroke="#3a4a3a" stroke-width="0.45" />
<circle cx="140.40" cy="178.00" r="1.75" fill="#d9d9d9" stroke="#3a4a3a" stroke-width="0.45" />
<circle cx="141.75" cy="180.40" r="1.75" fill="#6fdc5a" stroke="#3a4a3a" stroke-width="0.45" />
<circle cx="140.40" cy="182.80" r="1.75" fill="#8ee07a" stroke="#3a4a3a" stroke-width="0.45" />
<circle cx="141.75" cy="185.20" r="1.75" fill="#6fdc5a" stroke="#3a4a3a" stroke-width="0.45" />
<circle cx="140.40" cy="187.60" r="1.75" fill="#d9d9d9" stroke="#3a4a3a" stroke-width="0.45" />
<circle cx="143.10" cy="182.80" r="1.75" fill="#8ee07a" stroke="#3a4a3a" stroke-width="0.45" />
<text x="132.5" y="209.8" text-anchor="middle" fill="#000" style='font-family:"Liberation Serif",serif;font-size:5.85px;font-weight:bold;' >EB formation</text>
<text x="132.5" y="216.8" text-anchor="middle" fill="#000" style='font-family:"Liberation Serif",serif;font-size:5.85px;font-weight:bold;' >(4K/drop)</text>
<line x1="157.5" y1="183.2" x2="167.5" y2="183.2" stroke="#000" stroke-width="1.5"/>
<polygon points="171.8,183.2 167.0,180.79999999999998 167.0,185.6" fill="#000"/>
<text x="329.6" y="8.0" text-anchor="start" fill="#000" style='font-family:"Liberation Serif",serif;font-size:11.5px;font-weight:bold;' >b</text>
<text x="379" y="33.2" text-anchor="middle" fill="#000" style='font-family:"Liberation Serif",serif;font-size:5.85px;font-weight:bold;' >D3</text>
<text x="435.8" y="33.2" text-anchor="middle" fill="#000" style='font-family:"Liberation Serif",serif;font-size:5.85px;font-weight:bold;' >D5</text>
<text x="492.6" y="33.2" text-anchor="middle" fill="#000" style='font-family:"Liberation Serif",serif;font-size:5.85px;font-weight:bold;' >D7</text>
<text x="347.8" y="56.8" text-anchor="middle" fill="#000" style='font-family:"Liberation Serif",serif;font-size:5.85px;font-weight:bold;' transform="rotate(-90 347.8 56.8)" >ET</text>
<text x="347.8" y="99.1" text-anchor="middle" fill="#000" style='font-family:"Liberation Serif",serif;font-size:5.85px;font-weight:bold;' transform="rotate(-90 347.8 99.1)" >WT</text>
<text x="347.8" y="141.6" text-anchor="middle" fill="#000" style='font-family:"Liberation Serif",serif;font-size:5.85px;font-weight:bold;' transform="rotate(-90 347.8 141.6)" >K238R</text>
<text x="347.8" y="184.4" text-anchor="middle" fill="#000" style='font-family:"Liberation Serif",serif;font-size:5.85px;font-weight:bold;' transform="rotate(-90 347.8 184.4)" >K412R</text>
<text x="332.2" y="144.2" text-anchor="middle" fill="#000" style='font-family:"Liberation Serif",serif;font-size:5.6px;font-weight:bold;font-style:italic;' transform="rotate(-90 332.2 144.2)" >Dnmt3L</text>
<line x1="337.5" y1="100.3" x2="337.5" y2="184.8" stroke="#333" stroke-width="0.6" />
<g clip-path="url(#bc00)">
<rect x="351.0" y="36.1" width="55.8" height="41.6" fill="#a7a7a7" stroke="none" stroke-width="1" />
<rect x="351.0" y="36.1" width="55.8" height="41.6" fill="url(#bgv)" stroke="none" stroke-width="1" />
<g filter="url(#bblur)">
<circle cx="363.90" cy="50.90" r="5.28" fill="url(#sphS)" stroke="none" stroke-width="1" />
<circle cx="369.60" cy="63.30" r="5.38" fill="url(#sphS)" stroke="none" stroke-width="1" />
<circle cx="390.70" cy="60.80" r="5.76" fill="url(#sphS)" stroke="none" stroke-width="1" />
<circle cx="394.40" cy="38.50" r="2.40" fill="url(#sphT)" stroke="none" stroke-width="1" />
<circle cx="377.80" cy="75.00" r="1.92" fill="url(#sphT)" stroke="none" stroke-width="1" />
<circle cx="351.60" cy="72.00" r="1.54" fill="url(#sphT)" stroke="none" stroke-width="1" />
<circle cx="391.50" cy="69.00" r="0.96" fill="url(#sphT)" stroke="none" stroke-width="1" />
<circle cx="388.50" cy="70.50" r="0.86" fill="url(#sphT)" stroke="none" stroke-width="1" />
<circle cx="398.50" cy="63.50" r="0.96" fill="url(#sphT)" stroke="none" stroke-width="1" />
</g>
</g>
<g clip-path="url(#bc01)">
<rect x="407.9" y="36.1" width="55.3" height="41.6" fill="#afafaf" stroke="none" stroke-width="1" />
<rect x="407.9" y="36.1" width="55.3" height="41.6" fill="url(#bgv)" stroke="none" stroke-width="1" />
<g filter="url(#bblur)">
<circle cx="440.80" cy="45.90" r="7.20" fill="url(#sphXL)" stroke="none" stroke-width="1" />
<circle cx="437.33" cy="42.52" r="0.98" fill="#4a4a4a" stroke="none" stroke-width="1" opacity="0.55"/>
<circle cx="443.46" cy="41.72" r="0.65" fill="#4a4a4a" stroke="none" stroke-width="1" opacity="0.55"/>
<circle cx="442.34" cy="44.80" r="0.78" fill="#1a1a1a" stroke="none" stroke-width="1" opacity="0.55"/>
<circle cx="439.48" cy="47.12" r="0.65" fill="#1a1a1a" stroke="none" stroke-width="1" opacity="0.55"/>
<circle cx="438.79" cy="47.21" r="1.02" fill="#111" stroke="none" stroke-width="1" opacity="0.55"/>
<circle cx="443.50" cy="50.13" r="0.58" fill="#111" stroke="none" stroke-width="1" opacity="0.55"/>
<circle cx="440.97" cy="46.07" r="1.02" fill="#1a1a1a" stroke="none" stroke-width="1" opacity="0.55"/>
<circle cx="441.61" cy="40.45" r="0.60" fill="#1a1a1a" stroke="none" stroke-width="1" opacity="0.55"/>
<circle cx="439.45" cy="51.25" r="0.82" fill="#1a1a1a" stroke="none" stroke-width="1" opacity="0.55"/>
<circle cx="443.10" cy="50.93" r="0.62" fill="#111" stroke="none" stroke-width="1" opacity="0.55"/>
<circle cx="439.78" cy="49.12" r="0.60" fill="#1a1a1a" stroke="none" stroke-width="1" opacity="0.55"/>
<circle cx="440.52" cy="49.13" r="0.99" fill="#4a4a4a" stroke="none" stroke-width="1" opacity="0.55"/>
<circle cx="436.90" cy="43.22" r="0.54" fill="#505050" stroke="none" stroke-width="1" opacity="0.55"/>
<circle cx="442.43" cy="42.36" r="0.69" fill="#111" stroke="none" stroke-width="1" opacity="0.55"/>
<circle cx="438.47" cy="46.31" r="0.65" fill="#4a4a4a" stroke="none" stroke-width="1" opacity="0.55"/>
<circle cx="443.99" cy="44.84" r="0.74" fill="#111" stroke="none" stroke-width="1" opacity="0.55"/>
<circle cx="449.80" cy="58.30" r="7.30" fill="url(#sphXL)" stroke="none" stroke-width="1" />
<circle cx="446.91" cy="61.53" r="0.51" fill="#4a4a4a" stroke="none" stroke-width="1" opacity="0.55"/>
<circle cx="448.62" cy="53.96" r="1.07" fill="#4a4a4a" stroke="none" stroke-width="1" opacity="0.55"/>
<circle cx="450.00" cy="52.81" r="1.07" fill="#505050" stroke="none" stroke-width="1" opacity="0.55"/>
<circle cx="444.43" cy="57.88" r="0.65" fill="#111" stroke="none" stroke-width="1" opacity="0.55"/>
<circle cx="453.64" cy="61.40" r="0.98" fill="#505050" stroke="none" stroke-width="1" opacity="0.55"/>
<circle cx="455.20" cy="59.56" r="0.55" fill="#505050" stroke="none" stroke-width="1" opacity="0.55"/>
<circle cx="446.38" cy="58.02" r="0.59" fill="#505050" stroke="none" stroke-width="1" opacity="0.55"/>
<circle cx="453.54" cy="56.37" r="0.69" fill="#505050" stroke="none" stroke-width="1" opacity="0.55"/>
<circle cx="448.04" cy="63.08" r="0.88" fill="#505050" stroke="none" stroke-width="1" opacity="0.55"/>
<circle cx="452.09" cy="58.25" r="0.53" fill="#111" stroke="none" stroke-width="1" opacity="0.55"/>
<circle cx="454.61" cy="59.27" r="0.71" fill="#505050" stroke="none" stroke-width="1" opacity="0.55"/>
<circle cx="446.24" cy="59.32" r="0.53" fill="#4a4a4a" stroke="none" stroke-width="1" opacity="0.55"/>
<circle cx="450.85" cy="55.18" r="0.62" fill="#1a1a1a" stroke="none" stroke-width="1" opacity="0.55"/>
<circle cx="446.35" cy="54.60" r="0.56" fill="#111" stroke="none" stroke-width="1" opacity="0.55"/>
<circle cx="448.84" cy="59.29" r="0.75" fill="#1a1a1a" stroke="none" stroke-width="1" opacity="0.55"/>
<circle cx="444.35" cy="59.95" r="1.01" fill="#111" stroke="none" stroke-width="1" opacity="0.55"/>
<circle cx="420.00" cy="68.30" r="6.91" fill="url(#sphXL)" stroke="none" stroke-width="1" />
<circle cx="424.34" cy="67.19" r="0.69" fill="#505050" stroke="none" stroke-width="1" opacity="0.55"/>
<circle cx="419.13" cy="71.62" r="0.59" fill="#111" stroke="none" stroke-width="1" opacity="0.55"/>
<circle cx="421.72" cy="64.76" r="0.61" fill="#111" stroke="none" stroke-width="1" opacity="0.55"/>
<circle cx="421.55" cy="66.61" r="0.80" fill="#505050" stroke="none" stroke-width="1" opacity="0.55"/>
<circle cx="424.44" cy="70.16" r="0.71" fill="#4a4a4a" stroke="none" stroke-width="1" opacity="0.55"/>
<circle cx="420.20" cy="65.05" r="0.92" fill="#505050" stroke="none" stroke-width="1" opacity="0.55"/>
<circle cx="421.42" cy="65.91" r="1.09" fill="#505050" stroke="none" stroke-width="1" opacity="0.55"/>
<circle cx="423.03" cy="67.46" r="0.61" fill="#4a4a4a" stroke="none" stroke-width="1" opacity="0.55"/>
<circle cx="415.31" cy="69.06" r="0.70" fill="#505050" stroke="none" stroke-width="1" opacity="0.55"/>
<circle cx="415.25" cy="69.43" r="0.89" fill="#505050" stroke="none" stroke-width="1" opacity="0.55"/>
<circle cx="417.50" cy="71.84" r="0.94" fill="#111" stroke="none" stroke-width="1" opacity="0.55"/>
<circle cx="417.08" cy="72.31" r="1.02" fill="#111" stroke="none" stroke-width="1" opacity="0.55"/>
<circle cx="425.22" cy="67.51" r="0.81" fill="#1a1a1a" stroke="none" stroke-width="1" opacity="0.55"/>
<circle cx="421.03" cy="71.38" r="1.01" fill="#505050" stroke="none" stroke-width="1" opacity="0.55"/>
<circle cx="418.35" cy="64.03" r="0.94" fill="#1a1a1a" stroke="none" stroke-width="1" opacity="0.55"/>
<circle cx="432.40" cy="49.60" r="2.50" fill="url(#sphT)" stroke="none" stroke-width="1" />
<circle cx="430.30" cy="63.00" r="1.44" fill="url(#sphT)" stroke="none" stroke-width="1" />
<circle cx="456.50" cy="54.00" r="1.54" fill="url(#sphT)" stroke="none" stroke-width="1" />
<circle cx="456.50" cy="62.00" r="1.44" fill="url(#sphT)" stroke="none" stroke-width="1" />
<circle cx="427.00" cy="73.00" r="2.11" fill="url(#sphT)" stroke="none" stroke-width="1" />
</g>
</g>
<g clip-path="url(#bc02)">
<rect x="464.3" y="36.1" width="55.5" height="41.6" fill="#bababa" stroke="none" stroke-width="1" />
<rect x="464.3" y="36.1" width="55.5" height="41.6" fill="url(#bgv)" stroke="none" stroke-width="1" />
<g filter="url(#bblur)">
<circle cx="486.20" cy="47.20" r="9.22" fill="url(#sphXL)" stroke="none" stroke-width="1" />
<circle cx="481.03" cy="42.53" r="0.81" fill="#111" stroke="none" stroke-width="1" opacity="0.55"/>
<circle cx="484.46" cy="52.26" r="1.02" fill="#505050" stroke="none" stroke-width="1" opacity="0.55"/>
<circle cx="485.98" cy="46.02" r="0.60" fill="#111" stroke="none" stroke-width="1" opacity="0.55"/>
<circle cx="484.02" cy="45.05" r="0.96" fill="#1a1a1a" stroke="none" stroke-width="1" opacity="0.55"/>
<circle cx="485.20" cy="46.12" r="0.78" fill="#1a1a1a" stroke="none" stroke-width="1" opacity="0.55"/>
<circle cx="489.63" cy="53.07" r="0.57" fill="#1a1a1a" stroke="none" stroke-width="1" opacity="0.55"/>
<circle cx="480.90" cy="47.78" r="0.75" fill="#505050" stroke="none" stroke-width="1" opacity="0.55"/>
<circle cx="482.09" cy="51.05" r="0.85" fill="#1a1a1a" stroke="none" stroke-width="1" opacity="0.55"/>
<circle cx="485.32" cy="42.89" r="0.71" fill="#505050" stroke="none" stroke-width="1" opacity="0.55"/>
<circle cx="490.34" cy="41.93" r="0.91" fill="#505050" stroke="none" stroke-width="1" opacity="0.55"/>
<circle cx="491.41" cy="46.01" r="0.68" fill="#505050" stroke="none" stroke-width="1" opacity="0.55"/>
<circle cx="482.17" cy="46.02" r="0.85" fill="#505050" stroke="none" stroke-width="1" opacity="0.55"/>
<circle cx="488.15" cy="42.96" r="0.99" fill="#505050" stroke="none" stroke-width="1" opacity="0.55"/>
<circle cx="483.41" cy="47.78" r="0.73" fill="#111" stroke="none" stroke-width="1" opacity="0.55"/>
<circle cx="493.03" cy="45.32" r="0.87" fill="#505050" stroke="none" stroke-width="1" opacity="0.55"/>
<circle cx="488.73" cy="41.92" r="0.73" fill="#505050" stroke="none" stroke-width="1" opacity="0.55"/>
<circle cx="481.03" cy="44.93" r="0.58" fill="#111" stroke="none" stroke-width="1" opacity="0.55"/>
<circle cx="479.78" cy="50.26" r="0.80" fill="#111" stroke="none" stroke-width="1" opacity="0.55"/>
<circle cx="490.57" cy="46.44" r="1.08" fill="#1a1a1a" stroke="none" stroke-width="1" opacity="0.55"/>
<circle cx="483.18" cy="45.12" r="1.09" fill="#111" stroke="none" stroke-width="1" opacity="0.55"/>
<circle cx="486.19" cy="48.21" r="1.07" fill="#505050" stroke="none" stroke-width="1" opacity="0.55"/>
<circle cx="503.60" cy="63.30" r="10.75" fill="url(#sphXL)" stroke="none" stroke-width="1" />
<circle cx="499.11" cy="63.53" r="0.79" fill="#4a4a4a" stroke="none" stroke-width="1" opacity="0.55"/>
<circle cx="499.19" cy="56.35" r="0.65" fill="#4a4a4a" stroke="none" stroke-width="1" opacity="0.55"/>
<circle cx="505.11" cy="55.81" r="0.51" fill="#505050" stroke="none" stroke-width="1" opacity="0.55"/>
<circle cx="503.84" cy="69.08" r="0.52" fill="#111" stroke="none" stroke-width="1" opacity="0.55"/>
<circle cx="503.23" cy="66.58" r="1.09" fill="#505050" stroke="none" stroke-width="1" opacity="0.55"/>
<circle cx="495.24" cy="63.71" r="0.81" fill="#4a4a4a" stroke="none" stroke-width="1" opacity="0.55"/>
<circle cx="506.57" cy="63.60" r="0.67" fill="#505050" stroke="none" stroke-width="1" opacity="0.55"/>
<circle cx="498.17" cy="58.60" r="0.52" fill="#505050" stroke="none" stroke-width="1" opacity="0.55"/>
<circle cx="498.94" cy="68.86" r="0.85" fill="#4a4a4a" stroke="none" stroke-width="1" opacity="0.55"/>
<circle cx="509.85" cy="63.41" r="0.91" fill="#4a4a4a" stroke="none" stroke-width="1" opacity="0.55"/>
<circle cx="508.33" cy="59.28" r="0.51" fill="#111" stroke="none" stroke-width="1" opacity="0.55"/>
<circle cx="497.83" cy="59.38" r="1.07" fill="#111" stroke="none" stroke-width="1" opacity="0.55"/>
<circle cx="508.46" cy="57.32" r="0.79" fill="#1a1a1a" stroke="none" stroke-width="1" opacity="0.55"/>
<circle cx="508.21" cy="59.90" r="0.95" fill="#505050" stroke="none" stroke-width="1" opacity="0.55"/>
<circle cx="507.21" cy="57.30" r="0.76" fill="#505050" stroke="none" stroke-width="1" opacity="0.55"/>
<circle cx="500.16" cy="58.66" r="0.69" fill="#1a1a1a" stroke="none" stroke-width="1" opacity="0.55"/>
<circle cx="497.43" cy="64.14" r="0.80" fill="#505050" stroke="none" stroke-width="1" opacity="0.55"/>
<circle cx="498.28" cy="62.01" r="0.82" fill="#4a4a4a" stroke="none" stroke-width="1" opacity="0.55"/>
<circle cx="507.26" cy="64.98" r="0.99" fill="#4a4a4a" stroke="none" stroke-width="1" opacity="0.55"/>
<circle cx="502.91" cy="62.15" r="0.93" fill="#4a4a4a" stroke="none" stroke-width="1" opacity="0.55"/>
<circle cx="510.63" cy="63.23" r="0.53" fill="#4a4a4a" stroke="none" stroke-width="1" opacity="0.55"/>
<circle cx="504.90" cy="69.92" r="1.07" fill="#1a1a1a" stroke="none" stroke-width="1" opacity="0.55"/>
<circle cx="510.65" cy="63.04" r="0.76" fill="#1a1a1a" stroke="none" stroke-width="1" opacity="0.55"/>
<circle cx="499.45" cy="59.84" r="0.60" fill="#1a1a1a" stroke="none" stroke-width="1" opacity="0.55"/>
<circle cx="514.80" cy="44.70" r="6.91" fill="url(#sphXL)" stroke="none" stroke-width="1" />
<circle cx="516.51" cy="45.18" r="0.73" fill="#4a4a4a" stroke="none" stroke-width="1" opacity="0.55"/>
<circle cx="514.04" cy="48.71" r="0.57" fill="#111" stroke="none" stroke-width="1" opacity="0.55"/>
<circle cx="516.23" cy="43.33" r="0.76" fill="#505050" stroke="none" stroke-width="1" opacity="0.55"/>
<circle cx="513.31" cy="41.23" r="0.71" fill="#505050" stroke="none" stroke-width="1" opacity="0.55"/>
<circle cx="516.53" cy="43.68" r="0.68" fill="#505050" stroke="none" stroke-width="1" opacity="0.55"/>
<circle cx="518.20" cy="42.55" r="0.87" fill="#505050" stroke="none" stroke-width="1" opacity="0.55"/>
<circle cx="517.22" cy="45.71" r="1.00" fill="#505050" stroke="none" stroke-width="1" opacity="0.55"/>
<circle cx="512.84" cy="44.49" r="0.64" fill="#505050" stroke="none" stroke-width="1" opacity="0.55"/>
<circle cx="511.58" cy="45.67" r="0.58" fill="#4a4a4a" stroke="none" stroke-width="1" opacity="0.55"/>
<circle cx="513.91" cy="43.40" r="0.90" fill="#4a4a4a" stroke="none" stroke-width="1" opacity="0.55"/>
<circle cx="517.31" cy="41.79" r="0.77" fill="#111" stroke="none" stroke-width="1" opacity="0.55"/>
<circle cx="517.48" cy="42.09" r="0.69" fill="#4a4a4a" stroke="none" stroke-width="1" opacity="0.55"/>
<circle cx="511.57" cy="43.82" r="1.01" fill="#111" stroke="none" stroke-width="1" opacity="0.55"/>
<circle cx="513.73" cy="42.38" r="0.57" fill="#111" stroke="none" stroke-width="1" opacity="0.55"/>
<circle cx="515.67" cy="42.88" r="0.87" fill="#505050" stroke="none" stroke-width="1" opacity="0.55"/>
<circle cx="468.90" cy="58.30" r="6.91" fill="url(#sphXL)" stroke="none" stroke-width="1" />
<circle cx="470.39" cy="55.81" r="1.06" fill="#505050" stroke="none" stroke-width="1" opacity="0.55"/>
<circle cx="469.85" cy="55.12" r="0.93" fill="#505050" stroke="none" stroke-width="1" opacity="0.55"/>
<circle cx="466.00" cy="54.42" r="0.76" fill="#505050" stroke="none" stroke-width="1" opacity="0.55"/>
<circle cx="464.77" cy="57.84" r="0.84" fill="#1a1a1a" stroke="none" stroke-width="1" opacity="0.55"/>
<circle cx="467.57" cy="59.33" r="0.52" fill="#1a1a1a" stroke="none" stroke-width="1" opacity="0.55"/>
<circle cx="470.17" cy="61.86" r="1.06" fill="#505050" stroke="none" stroke-width="1" opacity="0.55"/>
<circle cx="472.60" cy="58.31" r="1.03" fill="#111" stroke="none" stroke-width="1" opacity="0.55"/>
<circle cx="467.27" cy="61.59" r="0.61" fill="#1a1a1a" stroke="none" stroke-width="1" opacity="0.55"/>
<circle cx="473.44" cy="60.48" r="1.02" fill="#111" stroke="none" stroke-width="1" opacity="0.55"/>
<circle cx="470.47" cy="60.52" r="0.67" fill="#1a1a1a" stroke="none" stroke-width="1" opacity="0.55"/>
<circle cx="468.91" cy="53.87" r="0.52" fill="#4a4a4a" stroke="none" stroke-width="1" opacity="0.55"/>
<circle cx="466.28" cy="62.18" r="0.69" fill="#4a4a4a" stroke="none" stroke-width="1" opacity="0.55"/>
<circle cx="467.21" cy="54.20" r="0.78" fill="#1a1a1a" stroke="none" stroke-width="1" opacity="0.55"/>
<circle cx="472.16" cy="61.28" r="0.67" fill="#1a1a1a" stroke="none" stroke-width="1" opacity="0.55"/>
<circle cx="468.62" cy="56.14" r="0.62" fill="#4a4a4a" stroke="none" stroke-width="1" opacity="0.55"/>
<circle cx="480.00" cy="70.70" r="7.87" fill="url(#sphXL)" stroke="none" stroke-width="1" />
<circle cx="475.56" cy="68.45" r="0.87" fill="#505050" stroke="none" stroke-width="1" opacity="0.55"/>
<circle cx="478.88" cy="68.31" r="0.72" fill="#4a4a4a" stroke="none" stroke-width="1" opacity="0.55"/>
<circle cx="479.42" cy="65.52" r="0.60" fill="#1a1a1a" stroke="none" stroke-width="1" opacity="0.55"/>
<circle cx="481.27" cy="73.21" r="0.53" fill="#111" stroke="none" stroke-width="1" opacity="0.55"/>
<circle cx="479.53" cy="67.54" r="0.78" fill="#111" stroke="none" stroke-width="1" opacity="0.55"/>
<circle cx="480.72" cy="66.83" r="0.53" fill="#505050" stroke="none" stroke-width="1" opacity="0.55"/>
<circle cx="484.83" cy="68.77" r="0.64" fill="#111" stroke="none" stroke-width="1" opacity="0.55"/>
<circle cx="483.54" cy="73.01" r="0.91" fill="#4a4a4a" stroke="none" stroke-width="1" opacity="0.55"/>
<circle cx="474.56" cy="70.79" r="0.53" fill="#111" stroke="none" stroke-width="1" opacity="0.55"/>
<circle cx="475.36" cy="72.34" r="1.03" fill="#1a1a1a" stroke="none" stroke-width="1" opacity="0.55"/>
<circle cx="481.88" cy="74.66" r="0.74" fill="#1a1a1a" stroke="none" stroke-width="1" opacity="0.55"/>
<circle cx="482.97" cy="72.44" r="0.56" fill="#1a1a1a" stroke="none" stroke-width="1" opacity="0.55"/>
<circle cx="475.36" cy="67.40" r="0.63" fill="#4a4a4a" stroke="none" stroke-width="1" opacity="0.55"/>
<circle cx="476.57" cy="72.03" r="0.75" fill="#111" stroke="none" stroke-width="1" opacity="0.55"/>
<circle cx="477.78" cy="70.39" r="0.51" fill="#505050" stroke="none" stroke-width="1" opacity="0.55"/>
<circle cx="477.82" cy="65.32" r="1.10" fill="#4a4a4a" stroke="none" stroke-width="1" opacity="0.55"/>
<circle cx="482.75" cy="73.97" r="0.97" fill="#505050" stroke="none" stroke-width="1" opacity="0.55"/>
<circle cx="481.45" cy="67.58" r="0.58" fill="#4a4a4a" stroke="none" stroke-width="1" opacity="0.55"/>
<circle cx="502.40" cy="38.50" r="4.03" fill="url(#sphS)" stroke="none" stroke-width="1" />
<circle cx="516.00" cy="68.00" r="4.03" fill="url(#sphS)" stroke="none" stroke-width="1" />
<circle cx="494.00" cy="38.00" r="2.40" fill="url(#sphT)" stroke="none" stroke-width="1" />
<circle cx="489.00" cy="63.00" r="2.11" fill="url(#sphT)" stroke="none" stroke-width="1" />
<circle cx="511.50" cy="56.00" r="2.40" fill="url(#sphT)" stroke="none" stroke-width="1" />
<circle cx="467.00" cy="48.00" r="1.92" fill="url(#sphT)" stroke="none" stroke-width="1" />
</g>
</g>
<g clip-path="url(#bc10)">
<rect x="351.0" y="78.6" width="55.8" height="41.1" fill="#b5b5b5" stroke="none" stroke-width="1" />
<rect x="351.0" y="78.6" width="55.8" height="41.1" fill="url(#bgv)" stroke="none" stroke-width="1" />
<g filter="url(#bblur)">
<circle cx="360.90" cy="88.40" r="4.90" fill="url(#sphS)" stroke="none" stroke-width="1" />
<circle cx="399.90" cy="85.90" r="5.38" fill="url(#sphS)" stroke="none" stroke-width="1" />
<circle cx="363.40" cy="99.80" r="5.09" fill="url(#sphS)" stroke="none" stroke-width="1" />
<circle cx="372.80" cy="108.50" r="4.90" fill="url(#sphS)" stroke="none" stroke-width="1" />
<circle cx="384.00" cy="112.70" r="4.90" fill="url(#sphS)" stroke="none" stroke-width="1" />
<circle cx="395.20" cy="112.70" r="4.90" fill="url(#sphS)" stroke="none" stroke-width="1" />
</g>
</g>
<g clip-path="url(#bc11)">
<rect x="407.9" y="78.6" width="55.3" height="41.1" fill="#b9b9b9" stroke="none" stroke-width="1" />
<rect x="407.9" y="78.6" width="55.3" height="41.1" fill="url(#bgv)" stroke="none" stroke-width="1" />
<g filter="url(#bblur)">
<circle cx="413.00" cy="96.60" r="4.90" fill="url(#sphS)" stroke="none" stroke-width="1" />
<circle cx="429.90" cy="94.10" r="4.90" fill="url(#sphS)" stroke="none" stroke-width="1" />
<circle cx="448.30" cy="100.30" r="4.90" fill="url(#sphS)" stroke="none" stroke-width="1" />
<circle cx="457.20" cy="112.70" r="4.90" fill="url(#sphS)" stroke="none" stroke-width="1" />
<circle cx="418.00" cy="120.50" r="3.84" fill="url(#sphS)" stroke="none" stroke-width="1" />
<circle cx="432.50" cy="89.50" r="0.96" fill="url(#sphT)" stroke="none" stroke-width="1" />
<circle cx="419.50" cy="95.50" r="0.86" fill="url(#sphT)" stroke="none" stroke-width="1" />
</g>
</g>
<g clip-path="url(#bc12)">
<rect x="464.3" y="78.6" width="55.5" height="41.1" fill="#c6c6c6" stroke="none" stroke-width="1" />
<rect x="464.3" y="78.6" width="55.5" height="41.1" fill="url(#bgv)" stroke="none" stroke-width="1" />
<g filter="url(#bblur)">
<circle cx="481.80" cy="89.70" r="4.90" fill="url(#sphS)" stroke="none" stroke-width="1" />
<circle cx="494.90" cy="93.40" r="5.38" fill="url(#sphS)" stroke="none" stroke-width="1" />
<circle cx="504.30" cy="106.00" r="5.38" fill="url(#sphS)" stroke="none" stroke-width="1" />
<circle cx="513.50" cy="79.20" r="5.38" fill="url(#sphS)" stroke="none" stroke-width="1" />
<circle cx="467.00" cy="118.50" r="4.03" fill="url(#sphS)" stroke="none" stroke-width="1" />
<circle cx="481.00" cy="121.00" r="2.88" fill="url(#sphT)" stroke="none" stroke-width="1" />
</g>
</g>
<g clip-path="url(#bc20)">
<rect x="351.0" y="120.6" width="55.8" height="42.3" fill="#a9a9a9" stroke="none" stroke-width="1" />
<rect x="351.0" y="120.6" width="55.8" height="42.3" fill="url(#bgv)" stroke="none" stroke-width="1" />
<g filter="url(#bblur2)">
<circle cx="372.00" cy="127.40" r="5.38" fill="url(#sphS)" stroke="none" stroke-width="1" />
<circle cx="390.20" cy="129.40" r="5.38" fill="url(#sphS)" stroke="none" stroke-width="1" />
<circle cx="377.80" cy="137.90" r="5.47" fill="url(#sphS)" stroke="none" stroke-width="1" />
<circle cx="352.20" cy="142.30" r="4.42" fill="url(#sphS)" stroke="none" stroke-width="1" />
<circle cx="362.20" cy="150.30" r="5.86" fill="url(#sphS)" stroke="none" stroke-width="1" />
<circle cx="392.00" cy="154.20" r="5.86" fill="url(#sphS)" stroke="none" stroke-width="1" />
<circle cx="364.60" cy="141.00" r="1.92" fill="url(#sphT)" stroke="none" stroke-width="1" />
<circle cx="404.30" cy="123.00" r="3.36" fill="url(#sphS)" stroke="none" stroke-width="1" />
<circle cx="395.00" cy="147.50" r="0.96" fill="url(#sphT)" stroke="none" stroke-width="1" />
</g>
</g>
<g clip-path="url(#bc21)">
<rect x="407.9" y="120.6" width="55.3" height="42.3" fill="#bdbdbd" stroke="none" stroke-width="1" />
<rect x="407.9" y="120.6" width="55.3" height="42.3" fill="url(#bgv)" stroke="none" stroke-width="1" />
<g filter="url(#bblur)">
<circle cx="425.00" cy="132.40" r="6.34" fill="url(#sphL)" stroke="none" stroke-width="1" />
<circle cx="420.93" cy="133.13" r="0.98" fill="#1a1a1a" stroke="none" stroke-width="1" opacity="0.55"/>
<circle cx="424.44" cy="135.83" r="0.65" fill="#1a1a1a" stroke="none" stroke-width="1" opacity="0.55"/>
<circle cx="426.33" cy="127.94" r="1.03" fill="#4a4a4a" stroke="none" stroke-width="1" opacity="0.55"/>
<circle cx="422.56" cy="133.73" r="0.95" fill="#4a4a4a" stroke="none" stroke-width="1" opacity="0.55"/>
<circle cx="428.18" cy="129.97" r="0.96" fill="#4a4a4a" stroke="none" stroke-width="1" opacity="0.55"/>
<circle cx="420.82" cy="133.99" r="0.89" fill="#4a4a4a" stroke="none" stroke-width="1" opacity="0.55"/>
<circle cx="424.43" cy="128.29" r="0.66" fill="#111" stroke="none" stroke-width="1" opacity="0.55"/>
<circle cx="422.40" cy="131.34" r="0.68" fill="#1a1a1a" stroke="none" stroke-width="1" opacity="0.55"/>
<circle cx="424.68" cy="136.46" r="0.67" fill="#4a4a4a" stroke="none" stroke-width="1" opacity="0.55"/>
<circle cx="420.89" cy="131.28" r="0.52" fill="#4a4a4a" stroke="none" stroke-width="1" opacity="0.55"/>
<circle cx="426.70" cy="132.96" r="0.71" fill="#505050" stroke="none" stroke-width="1" opacity="0.55"/>
<circle cx="428.68" cy="131.19" r="0.64" fill="#111" stroke="none" stroke-width="1" opacity="0.55"/>
<circle cx="426.57" cy="133.97" r="0.71" fill="#1a1a1a" stroke="none" stroke-width="1" opacity="0.55"/>
<circle cx="421.12" cy="130.12" r="0.94" fill="#4a4a4a" stroke="none" stroke-width="1" opacity="0.55"/>
<circle cx="421.70" cy="148.50" r="7.30" fill="url(#sphXL)" stroke="none" stroke-width="1" />
<circle cx="421.19" cy="152.91" r="0.88" fill="#1a1a1a" stroke="none" stroke-width="1" opacity="0.55"/>
<circle cx="416.49" cy="150.33" r="0.98" fill="#4a4a4a" stroke="none" stroke-width="1" opacity="0.55"/>
<circle cx="419.79" cy="151.79" r="0.64" fill="#111" stroke="none" stroke-width="1" opacity="0.55"/>
<circle cx="422.29" cy="149.60" r="0.90" fill="#1a1a1a" stroke="none" stroke-width="1" opacity="0.55"/>
<circle cx="416.20" cy="147.36" r="0.86" fill="#4a4a4a" stroke="none" stroke-width="1" opacity="0.55"/>
<circle cx="425.37" cy="152.26" r="0.91" fill="#1a1a1a" stroke="none" stroke-width="1" opacity="0.55"/>
<circle cx="422.72" cy="148.36" r="0.85" fill="#111" stroke="none" stroke-width="1" opacity="0.55"/>
<circle cx="420.75" cy="145.24" r="0.78" fill="#1a1a1a" stroke="none" stroke-width="1" opacity="0.55"/>
<circle cx="421.27" cy="151.02" r="0.84" fill="#505050" stroke="none" stroke-width="1" opacity="0.55"/>
<circle cx="422.16" cy="143.47" r="0.72" fill="#1a1a1a" stroke="none" stroke-width="1" opacity="0.55"/>
<circle cx="423.52" cy="144.23" r="1.05" fill="#4a4a4a" stroke="none" stroke-width="1" opacity="0.55"/>
<circle cx="419.04" cy="146.06" r="0.59" fill="#1a1a1a" stroke="none" stroke-width="1" opacity="0.55"/>
<circle cx="420.59" cy="148.57" r="0.60" fill="#4a4a4a" stroke="none" stroke-width="1" opacity="0.55"/>
<circle cx="421.77" cy="145.48" r="1.05" fill="#505050" stroke="none" stroke-width="1" opacity="0.55"/>
<circle cx="417.83" cy="149.06" r="0.82" fill="#4a4a4a" stroke="none" stroke-width="1" opacity="0.55"/>
<circle cx="422.79" cy="145.18" r="0.51" fill="#1a1a1a" stroke="none" stroke-width="1" opacity="0.55"/>
<circle cx="439.80" cy="154.70" r="6.82" fill="url(#sphXL)" stroke="none" stroke-width="1" />
<circle cx="440.11" cy="153.97" r="0.91" fill="#505050" stroke="none" stroke-width="1" opacity="0.55"/>
<circle cx="436.04" cy="154.38" r="0.83" fill="#111" stroke="none" stroke-width="1" opacity="0.55"/>
<circle cx="435.31" cy="156.17" r="0.85" fill="#4a4a4a" stroke="none" stroke-width="1" opacity="0.55"/>
<circle cx="435.17" cy="153.61" r="0.72" fill="#4a4a4a" stroke="none" stroke-width="1" opacity="0.55"/>
<circle cx="438.15" cy="151.22" r="0.67" fill="#4a4a4a" stroke="none" stroke-width="1" opacity="0.55"/>
<circle cx="444.42" cy="155.50" r="0.87" fill="#111" stroke="none" stroke-width="1" opacity="0.55"/>
<circle cx="438.01" cy="159.51" r="0.66" fill="#1a1a1a" stroke="none" stroke-width="1" opacity="0.55"/>
<circle cx="443.96" cy="156.72" r="0.90" fill="#505050" stroke="none" stroke-width="1" opacity="0.55"/>
<circle cx="443.33" cy="152.04" r="1.00" fill="#1a1a1a" stroke="none" stroke-width="1" opacity="0.55"/>
<circle cx="438.19" cy="154.87" r="0.57" fill="#505050" stroke="none" stroke-width="1" opacity="0.55"/>
<circle cx="443.68" cy="154.08" r="0.74" fill="#4a4a4a" stroke="none" stroke-width="1" opacity="0.55"/>
<circle cx="438.24" cy="151.82" r="0.95" fill="#1a1a1a" stroke="none" stroke-width="1" opacity="0.55"/>
<circle cx="443.32" cy="152.47" r="0.73" fill="#4a4a4a" stroke="none" stroke-width="1" opacity="0.55"/>
<circle cx="442.57" cy="150.51" r="0.91" fill="#505050" stroke="none" stroke-width="1" opacity="0.55"/>
<circle cx="439.81" cy="156.38" r="0.68" fill="#505050" stroke="none" stroke-width="1" opacity="0.55"/>
<circle cx="450.80" cy="145.60" r="6.82" fill="url(#sphXL)" stroke="none" stroke-width="1" />
<circle cx="451.23" cy="144.18" r="1.07" fill="#4a4a4a" stroke="none" stroke-width="1" opacity="0.55"/>
<circle cx="447.67" cy="142.15" r="0.63" fill="#4a4a4a" stroke="none" stroke-width="1" opacity="0.55"/>
<circle cx="446.99" cy="143.81" r="0.88" fill="#111" stroke="none" stroke-width="1" opacity="0.55"/>
<circle cx="447.79" cy="147.33" r="0.82" fill="#1a1a1a" stroke="none" stroke-width="1" opacity="0.55"/>
<circle cx="449.89" cy="148.27" r="0.86" fill="#505050" stroke="none" stroke-width="1" opacity="0.55"/>
<circle cx="451.16" cy="146.46" r="0.57" fill="#1a1a1a" stroke="none" stroke-width="1" opacity="0.55"/>
<circle cx="448.02" cy="146.83" r="0.56" fill="#505050" stroke="none" stroke-width="1" opacity="0.55"/>
<circle cx="450.63" cy="144.29" r="0.79" fill="#4a4a4a" stroke="none" stroke-width="1" opacity="0.55"/>
<circle cx="448.75" cy="150.06" r="0.89" fill="#1a1a1a" stroke="none" stroke-width="1" opacity="0.55"/>
<circle cx="454.08" cy="143.01" r="0.98" fill="#4a4a4a" stroke="none" stroke-width="1" opacity="0.55"/>
<circle cx="455.17" cy="145.64" r="0.57" fill="#505050" stroke="none" stroke-width="1" opacity="0.55"/>
<circle cx="453.21" cy="149.01" r="0.56" fill="#111" stroke="none" stroke-width="1" opacity="0.55"/>
<circle cx="450.38" cy="140.81" r="0.98" fill="#4a4a4a" stroke="none" stroke-width="1" opacity="0.55"/>
<circle cx="447.61" cy="149.20" r="0.62" fill="#505050" stroke="none" stroke-width="1" opacity="0.55"/>
<circle cx="448.26" cy="148.16" r="0.91" fill="#4a4a4a" stroke="none" stroke-width="1" opacity="0.55"/>
<circle cx="436.60" cy="122.00" r="4.80" fill="url(#sphS)" stroke="none" stroke-width="1" />
<circle cx="454.00" cy="123.70" r="6.72" fill="url(#sphXL)" stroke="none" stroke-width="1" />
<circle cx="454.13" cy="128.79" r="0.78" fill="#4a4a4a" stroke="none" stroke-width="1" opacity="0.55"/>
<circle cx="457.00" cy="126.43" r="0.72" fill="#4a4a4a" stroke="none" stroke-width="1" opacity="0.55"/>
<circle cx="448.85" cy="123.85" r="1.07" fill="#4a4a4a" stroke="none" stroke-width="1" opacity="0.55"/>
<circle cx="448.93" cy="124.00" r="0.93" fill="#4a4a4a" stroke="none" stroke-width="1" opacity="0.55"/>
<circle cx="456.70" cy="126.13" r="0.71" fill="#1a1a1a" stroke="none" stroke-width="1" opacity="0.55"/>
<circle cx="456.83" cy="122.11" r="0.67" fill="#111" stroke="none" stroke-width="1" opacity="0.55"/>
<circle cx="451.13" cy="120.11" r="0.55" fill="#4a4a4a" stroke="none" stroke-width="1" opacity="0.55"/>
<circle cx="453.13" cy="126.62" r="1.01" fill="#111" stroke="none" stroke-width="1" opacity="0.55"/>
<circle cx="457.24" cy="124.76" r="0.64" fill="#4a4a4a" stroke="none" stroke-width="1" opacity="0.55"/>
<circle cx="457.14" cy="127.80" r="0.83" fill="#111" stroke="none" stroke-width="1" opacity="0.55"/>
<circle cx="457.84" cy="123.33" r="0.73" fill="#1a1a1a" stroke="none" stroke-width="1" opacity="0.55"/>
<circle cx="456.62" cy="125.41" r="0.99" fill="#4a4a4a" stroke="none" stroke-width="1" opacity="0.55"/>
<circle cx="454.82" cy="121.91" r="0.99" fill="#4a4a4a" stroke="none" stroke-width="1" opacity="0.55"/>
<circle cx="453.98" cy="127.25" r="0.73" fill="#4a4a4a" stroke="none" stroke-width="1" opacity="0.55"/>
<circle cx="456.32" cy="124.50" r="1.08" fill="#111" stroke="none" stroke-width="1" opacity="0.55"/>
<circle cx="460.70" cy="131.20" r="4.99" fill="url(#sphS)" stroke="none" stroke-width="1" />
<circle cx="434.00" cy="144.80" r="2.21" fill="url(#sphT)" stroke="none" stroke-width="1" />
<circle cx="421.70" cy="125.00" r="1.92" fill="url(#sphT)" stroke="none" stroke-width="1" />
<circle cx="429.00" cy="143.50" r="1.73" fill="url(#sphT)" stroke="none" stroke-width="1" />
<circle cx="427.00" cy="127.00" r="1.73" fill="url(#sphT)" stroke="none" stroke-width="1" />
<circle cx="452.50" cy="134.00" r="1.54" fill="url(#sphT)" stroke="none" stroke-width="1" />
<circle cx="421.00" cy="158.00" r="1.54" fill="url(#sphT)" stroke="none" stroke-width="1" />
</g>
</g>
<g clip-path="url(#bc22)">
<rect x="464.3" y="120.6" width="55.5" height="42.3" fill="#bbbbbb" stroke="none" stroke-width="1" />
<rect x="464.3" y="120.6" width="55.5" height="42.3" fill="url(#bgv)" stroke="none" stroke-width="1" />
<g filter="url(#bblur)">
<circle cx="476.30" cy="143.60" r="9.22" fill="url(#sphXL)" stroke="none" stroke-width="1" />
<circle cx="481.47" cy="144.00" r="1.07" fill="#111" stroke="none" stroke-width="1" opacity="0.55"/>
<circle cx="474.64" cy="143.52" r="0.74" fill="#111" stroke="none" stroke-width="1" opacity="0.55"/>
<circle cx="480.75" cy="138.23" r="0.90" fill="#4a4a4a" stroke="none" stroke-width="1" opacity="0.55"/>
<circle cx="477.30" cy="148.17" r="0.93" fill="#111" stroke="none" stroke-width="1" opacity="0.55"/>
<circle cx="480.12" cy="141.35" r="1.10" fill="#1a1a1a" stroke="none" stroke-width="1" opacity="0.55"/>
<circle cx="478.46" cy="141.86" r="0.97" fill="#111" stroke="none" stroke-width="1" opacity="0.55"/>
<circle cx="477.31" cy="141.88" r="0.72" fill="#111" stroke="none" stroke-width="1" opacity="0.55"/>
<circle cx="473.00" cy="145.38" r="0.78" fill="#505050" stroke="none" stroke-width="1" opacity="0.55"/>
<circle cx="482.03" cy="143.69" r="0.96" fill="#111" stroke="none" stroke-width="1" opacity="0.55"/>
<circle cx="481.59" cy="146.37" r="0.52" fill="#111" stroke="none" stroke-width="1" opacity="0.55"/>
<circle cx="478.70" cy="141.49" r="0.51" fill="#111" stroke="none" stroke-width="1" opacity="0.55"/>
<circle cx="481.70" cy="142.24" r="0.58" fill="#1a1a1a" stroke="none" stroke-width="1" opacity="0.55"/>
<circle cx="480.15" cy="145.63" r="0.87" fill="#4a4a4a" stroke="none" stroke-width="1" opacity="0.55"/>
<circle cx="478.18" cy="147.93" r="0.66" fill="#505050" stroke="none" stroke-width="1" opacity="0.55"/>
<circle cx="474.62" cy="146.48" r="0.68" fill="#4a4a4a" stroke="none" stroke-width="1" opacity="0.55"/>
<circle cx="475.81" cy="145.89" r="0.74" fill="#505050" stroke="none" stroke-width="1" opacity="0.55"/>
<circle cx="472.92" cy="147.26" r="0.85" fill="#1a1a1a" stroke="none" stroke-width="1" opacity="0.55"/>
<circle cx="478.93" cy="143.01" r="0.51" fill="#4a4a4a" stroke="none" stroke-width="1" opacity="0.55"/>
<circle cx="475.99" cy="140.99" r="0.79" fill="#4a4a4a" stroke="none" stroke-width="1" opacity="0.55"/>
<circle cx="482.61" cy="143.92" r="0.75" fill="#1a1a1a" stroke="none" stroke-width="1" opacity="0.55"/>
<circle cx="476.75" cy="141.96" r="0.80" fill="#4a4a4a" stroke="none" stroke-width="1" opacity="0.55"/>
<circle cx="499.10" cy="143.10" r="9.79" fill="url(#sphXL)" stroke="none" stroke-width="1" />
<circle cx="496.55" cy="136.38" r="0.97" fill="#505050" stroke="none" stroke-width="1" opacity="0.55"/>
<circle cx="496.82" cy="144.01" r="0.57" fill="#505050" stroke="none" stroke-width="1" opacity="0.55"/>
<circle cx="495.45" cy="141.42" r="0.85" fill="#111" stroke="none" stroke-width="1" opacity="0.55"/>
<circle cx="503.29" cy="142.78" r="0.60" fill="#4a4a4a" stroke="none" stroke-width="1" opacity="0.55"/>
<circle cx="498.00" cy="141.68" r="0.63" fill="#111" stroke="none" stroke-width="1" opacity="0.55"/>
<circle cx="503.57" cy="146.28" r="0.99" fill="#505050" stroke="none" stroke-width="1" opacity="0.55"/>
<circle cx="500.46" cy="140.61" r="0.71" fill="#111" stroke="none" stroke-width="1" opacity="0.55"/>
<circle cx="504.85" cy="143.24" r="0.84" fill="#4a4a4a" stroke="none" stroke-width="1" opacity="0.55"/>
<circle cx="501.21" cy="143.93" r="0.71" fill="#1a1a1a" stroke="none" stroke-width="1" opacity="0.55"/>
<circle cx="495.96" cy="146.27" r="0.99" fill="#111" stroke="none" stroke-width="1" opacity="0.55"/>
<circle cx="500.48" cy="136.66" r="0.66" fill="#4a4a4a" stroke="none" stroke-width="1" opacity="0.55"/>
<circle cx="495.74" cy="139.71" r="0.88" fill="#1a1a1a" stroke="none" stroke-width="1" opacity="0.55"/>
<circle cx="497.35" cy="137.48" r="1.03" fill="#1a1a1a" stroke="none" stroke-width="1" opacity="0.55"/>
<circle cx="494.32" cy="139.90" r="1.04" fill="#505050" stroke="none" stroke-width="1" opacity="0.55"/>
<circle cx="498.40" cy="142.82" r="0.53" fill="#111" stroke="none" stroke-width="1" opacity="0.55"/>
<circle cx="496.27" cy="137.62" r="0.52" fill="#111" stroke="none" stroke-width="1" opacity="0.55"/>
<circle cx="503.91" cy="147.47" r="0.87" fill="#1a1a1a" stroke="none" stroke-width="1" opacity="0.55"/>
<circle cx="492.88" cy="141.65" r="0.92" fill="#4a4a4a" stroke="none" stroke-width="1" opacity="0.55"/>
<circle cx="505.34" cy="144.81" r="0.68" fill="#4a4a4a" stroke="none" stroke-width="1" opacity="0.55"/>
<circle cx="505.17" cy="141.39" r="0.66" fill="#111" stroke="none" stroke-width="1" opacity="0.55"/>
<circle cx="499.21" cy="139.21" r="0.68" fill="#4a4a4a" stroke="none" stroke-width="1" opacity="0.55"/>
<circle cx="502.25" cy="140.10" r="0.89" fill="#111" stroke="none" stroke-width="1" opacity="0.55"/>
<circle cx="500.00" cy="121.50" r="7.20" fill="url(#sphXL)" stroke="none" stroke-width="1" />
<circle cx="497.83" cy="121.98" r="0.63" fill="#505050" stroke="none" stroke-width="1" opacity="0.55"/>
<circle cx="498.26" cy="125.54" r="0.77" fill="#1a1a1a" stroke="none" stroke-width="1" opacity="0.55"/>
<circle cx="499.05" cy="122.76" r="0.76" fill="#111" stroke="none" stroke-width="1" opacity="0.55"/>
<circle cx="500.95" cy="123.37" r="0.79" fill="#111" stroke="none" stroke-width="1" opacity="0.55"/>
<circle cx="503.03" cy="120.20" r="0.51" fill="#111" stroke="none" stroke-width="1" opacity="0.55"/>
<circle cx="499.56" cy="125.43" r="0.82" fill="#1a1a1a" stroke="none" stroke-width="1" opacity="0.55"/>
<circle cx="495.70" cy="119.94" r="0.75" fill="#505050" stroke="none" stroke-width="1" opacity="0.55"/>
<circle cx="501.57" cy="118.89" r="0.56" fill="#505050" stroke="none" stroke-width="1" opacity="0.55"/>
<circle cx="495.38" cy="123.84" r="0.81" fill="#111" stroke="none" stroke-width="1" opacity="0.55"/>
<circle cx="496.91" cy="118.23" r="1.07" fill="#4a4a4a" stroke="none" stroke-width="1" opacity="0.55"/>
<circle cx="499.31" cy="119.76" r="0.56" fill="#505050" stroke="none" stroke-width="1" opacity="0.55"/>
<circle cx="502.40" cy="117.94" r="0.53" fill="#111" stroke="none" stroke-width="1" opacity="0.55"/>
<circle cx="501.53" cy="124.37" r="0.96" fill="#4a4a4a" stroke="none" stroke-width="1" opacity="0.55"/>
<circle cx="497.29" cy="123.26" r="0.56" fill="#4a4a4a" stroke="none" stroke-width="1" opacity="0.55"/>
<circle cx="499.13" cy="124.65" r="1.10" fill="#111" stroke="none" stroke-width="1" opacity="0.55"/>
<circle cx="502.85" cy="122.69" r="0.61" fill="#4a4a4a" stroke="none" stroke-width="1" opacity="0.55"/>
<circle cx="477.60" cy="129.40" r="3.84" fill="url(#sphS)" stroke="none" stroke-width="1" />
<circle cx="485.70" cy="127.40" r="3.07" fill="url(#sphT)" stroke="none" stroke-width="1" />
<circle cx="512.30" cy="123.70" r="3.84" fill="url(#sphS)" stroke="none" stroke-width="1" />
<circle cx="513.50" cy="158.50" r="6.34" fill="url(#sphL)" stroke="none" stroke-width="1" />
<circle cx="514.68" cy="153.96" r="0.80" fill="#4a4a4a" stroke="none" stroke-width="1" opacity="0.55"/>
<circle cx="512.21" cy="158.82" r="0.75" fill="#505050" stroke="none" stroke-width="1" opacity="0.55"/>
<circle cx="511.13" cy="155.17" r="0.69" fill="#505050" stroke="none" stroke-width="1" opacity="0.55"/>
<circle cx="516.69" cy="157.37" r="0.56" fill="#1a1a1a" stroke="none" stroke-width="1" opacity="0.55"/>
<circle cx="516.22" cy="160.90" r="0.55" fill="#111" stroke="none" stroke-width="1" opacity="0.55"/>
<circle cx="511.11" cy="159.49" r="0.83" fill="#111" stroke="none" stroke-width="1" opacity="0.55"/>
<circle cx="518.01" cy="159.63" r="1.09" fill="#1a1a1a" stroke="none" stroke-width="1" opacity="0.55"/>
<circle cx="510.60" cy="161.17" r="1.05" fill="#505050" stroke="none" stroke-width="1" opacity="0.55"/>
<circle cx="516.57" cy="155.67" r="0.54" fill="#505050" stroke="none" stroke-width="1" opacity="0.55"/>
<circle cx="518.03" cy="160.08" r="0.78" fill="#111" stroke="none" stroke-width="1" opacity="0.55"/>
<circle cx="509.32" cy="157.06" r="0.88" fill="#505050" stroke="none" stroke-width="1" opacity="0.55"/>
<circle cx="512.59" cy="162.67" r="0.65" fill="#111" stroke="none" stroke-width="1" opacity="0.55"/>
<circle cx="510.07" cy="160.87" r="0.56" fill="#1a1a1a" stroke="none" stroke-width="1" opacity="0.55"/>
<circle cx="508.85" cy="159.78" r="0.96" fill="#111" stroke="none" stroke-width="1" opacity="0.55"/>
<circle cx="468.00" cy="123.70" r="3.84" fill="url(#sphS)" stroke="none" stroke-width="1" />
<circle cx="486.00" cy="151.00" r="1.92" fill="url(#sphT)" stroke="none" stroke-width="1" />
<circle cx="514.80" cy="151.00" r="2.50" fill="url(#sphT)" stroke="none" stroke-width="1" />
<circle cx="501.00" cy="131.00" r="2.11" fill="url(#sphT)" stroke="none" stroke-width="1" />
<circle cx="505.00" cy="133.50" r="1.92" fill="url(#sphT)" stroke="none" stroke-width="1" />
<circle cx="473.00" cy="131.50" r="2.11" fill="url(#sphT)" stroke="none" stroke-width="1" />
<circle cx="479.00" cy="123.00" r="2.11" fill="url(#sphT)" stroke="none" stroke-width="1" />
<circle cx="507.50" cy="151.50" r="1.92" fill="url(#sphT)" stroke="none" stroke-width="1" />
<circle cx="464.50" cy="131.00" r="2.11" fill="url(#sphT)" stroke="none" stroke-width="1" />
</g>
</g>
<g clip-path="url(#bc30)">
<rect x="351.0" y="163.8" width="55.8" height="41.3" fill="#b0b0b0" stroke="none" stroke-width="1" />
<rect x="351.0" y="163.8" width="55.8" height="41.3" fill="url(#bgv)" stroke="none" stroke-width="1" />
<g filter="url(#bblur)">
<circle cx="360.90" cy="188.00" r="5.66" fill="url(#sphS)" stroke="none" stroke-width="1" />
<circle cx="378.80" cy="179.40" r="5.86" fill="url(#sphS)" stroke="none" stroke-width="1" />
<circle cx="398.10" cy="174.40" r="5.86" fill="url(#sphS)" stroke="none" stroke-width="1" />
<circle cx="389.00" cy="199.50" r="0.67" fill="url(#sphT)" stroke="none" stroke-width="1" />
<circle cx="387.00" cy="186.00" r="0.77" fill="url(#sphT)" stroke="none" stroke-width="1" />
</g>
</g>
<g clip-path="url(#bc31)">
<rect x="407.9" y="163.8" width="55.3" height="41.3" fill="#bebebe" stroke="none" stroke-width="1" />
<rect x="407.9" y="163.8" width="55.3" height="41.3" fill="url(#bgv)" stroke="none" stroke-width="1" />
<g filter="url(#bblur)">
<circle cx="429.20" cy="183.10" r="8.26" fill="url(#sphXL)" stroke="none" stroke-width="1" />
<circle cx="431.56" cy="183.06" r="0.60" fill="#4a4a4a" stroke="none" stroke-width="1" opacity="0.55"/>
<circle cx="428.57" cy="179.89" r="0.78" fill="#1a1a1a" stroke="none" stroke-width="1" opacity="0.55"/>
<circle cx="430.63" cy="178.86" r="0.68" fill="#505050" stroke="none" stroke-width="1" opacity="0.55"/>
<circle cx="425.46" cy="179.23" r="0.83" fill="#4a4a4a" stroke="none" stroke-width="1" opacity="0.55"/>
<circle cx="429.47" cy="184.06" r="0.85" fill="#111" stroke="none" stroke-width="1" opacity="0.55"/>
<circle cx="426.31" cy="179.64" r="1.02" fill="#505050" stroke="none" stroke-width="1" opacity="0.55"/>
<circle cx="427.98" cy="182.15" r="0.67" fill="#111" stroke="none" stroke-width="1" opacity="0.55"/>
<circle cx="428.12" cy="186.88" r="0.96" fill="#505050" stroke="none" stroke-width="1" opacity="0.55"/>
<circle cx="426.05" cy="178.46" r="0.94" fill="#4a4a4a" stroke="none" stroke-width="1" opacity="0.55"/>
<circle cx="426.63" cy="183.30" r="1.08" fill="#111" stroke="none" stroke-width="1" opacity="0.55"/>
<circle cx="426.99" cy="179.55" r="1.00" fill="#111" stroke="none" stroke-width="1" opacity="0.55"/>
<circle cx="426.25" cy="187.76" r="0.80" fill="#4a4a4a" stroke="none" stroke-width="1" opacity="0.55"/>
<circle cx="431.65" cy="186.92" r="0.50" fill="#111" stroke="none" stroke-width="1" opacity="0.55"/>
<circle cx="430.00" cy="177.25" r="0.53" fill="#4a4a4a" stroke="none" stroke-width="1" opacity="0.55"/>
<circle cx="426.99" cy="183.40" r="0.62" fill="#1a1a1a" stroke="none" stroke-width="1" opacity="0.55"/>
<circle cx="431.09" cy="180.58" r="1.00" fill="#4a4a4a" stroke="none" stroke-width="1" opacity="0.55"/>
<circle cx="425.32" cy="186.53" r="0.64" fill="#505050" stroke="none" stroke-width="1" opacity="0.55"/>
<circle cx="431.76" cy="181.69" r="0.64" fill="#4a4a4a" stroke="none" stroke-width="1" opacity="0.55"/>
<circle cx="450.80" cy="183.10" r="8.26" fill="url(#sphXL)" stroke="none" stroke-width="1" />
<circle cx="450.61" cy="178.53" r="0.76" fill="#505050" stroke="none" stroke-width="1" opacity="0.55"/>
<circle cx="451.13" cy="185.05" r="0.83" fill="#111" stroke="none" stroke-width="1" opacity="0.55"/>
<circle cx="451.99" cy="177.73" r="1.04" fill="#4a4a4a" stroke="none" stroke-width="1" opacity="0.55"/>
<circle cx="451.72" cy="184.33" r="0.51" fill="#1a1a1a" stroke="none" stroke-width="1" opacity="0.55"/>
<circle cx="454.23" cy="185.80" r="0.76" fill="#111" stroke="none" stroke-width="1" opacity="0.55"/>
<circle cx="446.19" cy="183.78" r="0.51" fill="#111" stroke="none" stroke-width="1" opacity="0.55"/>
<circle cx="453.37" cy="178.75" r="0.93" fill="#1a1a1a" stroke="none" stroke-width="1" opacity="0.55"/>
<circle cx="456.82" cy="183.87" r="1.09" fill="#1a1a1a" stroke="none" stroke-width="1" opacity="0.55"/>
<circle cx="456.08" cy="182.04" r="0.62" fill="#505050" stroke="none" stroke-width="1" opacity="0.55"/>
<circle cx="452.84" cy="181.36" r="0.74" fill="#4a4a4a" stroke="none" stroke-width="1" opacity="0.55"/>
<circle cx="447.62" cy="184.63" r="0.94" fill="#111" stroke="none" stroke-width="1" opacity="0.55"/>
<circle cx="446.40" cy="186.67" r="0.57" fill="#111" stroke="none" stroke-width="1" opacity="0.55"/>
<circle cx="449.68" cy="180.31" r="0.74" fill="#111" stroke="none" stroke-width="1" opacity="0.55"/>
<circle cx="454.60" cy="188.15" r="0.66" fill="#1a1a1a" stroke="none" stroke-width="1" opacity="0.55"/>
<circle cx="448.72" cy="177.49" r="0.91" fill="#4a4a4a" stroke="none" stroke-width="1" opacity="0.55"/>
<circle cx="455.05" cy="178.62" r="0.98" fill="#111" stroke="none" stroke-width="1" opacity="0.55"/>
<circle cx="453.54" cy="177.63" r="0.84" fill="#111" stroke="none" stroke-width="1" opacity="0.55"/>
<circle cx="450.48" cy="180.21" r="0.85" fill="#4a4a4a" stroke="none" stroke-width="1" opacity="0.55"/>
<circle cx="414.30" cy="165.70" r="2.40" fill="url(#sphT)" stroke="none" stroke-width="1" />
<circle cx="416.00" cy="171.90" r="2.50" fill="url(#sphT)" stroke="none" stroke-width="1" />
<circle cx="410.00" cy="179.40" r="1.92" fill="url(#sphT)" stroke="none" stroke-width="1" />
<circle cx="417.50" cy="179.90" r="2.88" fill="url(#sphT)" stroke="none" stroke-width="1" />
<circle cx="425.40" cy="172.40" r="2.02" fill="url(#sphT)" stroke="none" stroke-width="1" />
<circle cx="444.80" cy="170.70" r="2.50" fill="url(#sphT)" stroke="none" stroke-width="1" />
<circle cx="448.30" cy="167.50" r="2.21" fill="url(#sphT)" stroke="none" stroke-width="1" />
<circle cx="452.20" cy="170.70" r="2.02" fill="url(#sphT)" stroke="none" stroke-width="1" />
<circle cx="416.80" cy="203.70" r="2.50" fill="url(#sphT)" stroke="none" stroke-width="1" />
<circle cx="409.30" cy="165.70" r="1.92" fill="url(#sphT)" stroke="none" stroke-width="1" />
<circle cx="420.00" cy="175.00" r="1.73" fill="url(#sphT)" stroke="none" stroke-width="1" />
<circle cx="442.50" cy="174.50" r="1.73" fill="url(#sphT)" stroke="none" stroke-width="1" />
<circle cx="415.50" cy="185.00" r="1.44" fill="url(#sphT)" stroke="none" stroke-width="1" />
<circle cx="433.00" cy="191.50" r="1.25" fill="url(#sphT)" stroke="none" stroke-width="1" />
</g>
</g>
<g clip-path="url(#bc32)">
<rect x="464.3" y="163.8" width="55.5" height="41.3" fill="#c4c4c4" stroke="none" stroke-width="1" />
<rect x="464.3" y="163.8" width="55.5" height="41.3" fill="url(#bgv)" stroke="none" stroke-width="1" />
<g filter="url(#bblur)">
<circle cx="478.80" cy="171.90" r="8.83" fill="url(#sphXL)" stroke="none" stroke-width="1" />
<circle cx="480.59" cy="176.61" r="1.00" fill="#505050" stroke="none" stroke-width="1" opacity="0.55"/>
<circle cx="474.91" cy="167.59" r="0.76" fill="#1a1a1a" stroke="none" stroke-width="1" opacity="0.55"/>
<circle cx="476.75" cy="169.79" r="0.83" fill="#111" stroke="none" stroke-width="1" opacity="0.55"/>
<circle cx="484.43" cy="170.00" r="0.92" fill="#111" stroke="none" stroke-width="1" opacity="0.55"/>
<circle cx="484.88" cy="170.25" r="0.70" fill="#4a4a4a" stroke="none" stroke-width="1" opacity="0.55"/>
<circle cx="474.63" cy="172.22" r="1.09" fill="#505050" stroke="none" stroke-width="1" opacity="0.55"/>
<circle cx="479.01" cy="167.14" r="0.98" fill="#111" stroke="none" stroke-width="1" opacity="0.55"/>
<circle cx="481.79" cy="169.30" r="1.08" fill="#111" stroke="none" stroke-width="1" opacity="0.55"/>
<circle cx="480.95" cy="175.86" r="0.76" fill="#4a4a4a" stroke="none" stroke-width="1" opacity="0.55"/>
<circle cx="479.28" cy="175.61" r="0.99" fill="#4a4a4a" stroke="none" stroke-width="1" opacity="0.55"/>
<circle cx="479.60" cy="167.17" r="0.55" fill="#505050" stroke="none" stroke-width="1" opacity="0.55"/>
<circle cx="483.69" cy="175.19" r="0.74" fill="#505050" stroke="none" stroke-width="1" opacity="0.55"/>
<circle cx="475.23" cy="176.79" r="0.53" fill="#4a4a4a" stroke="none" stroke-width="1" opacity="0.55"/>
<circle cx="484.64" cy="169.02" r="0.96" fill="#4a4a4a" stroke="none" stroke-width="1" opacity="0.55"/>
<circle cx="483.58" cy="173.15" r="0.78" fill="#111" stroke="none" stroke-width="1" opacity="0.55"/>
<circle cx="477.31" cy="176.14" r="0.87" fill="#4a4a4a" stroke="none" stroke-width="1" opacity="0.55"/>
<circle cx="483.67" cy="170.97" r="1.03" fill="#4a4a4a" stroke="none" stroke-width="1" opacity="0.55"/>
<circle cx="477.23" cy="170.90" r="0.73" fill="#111" stroke="none" stroke-width="1" opacity="0.55"/>
<circle cx="482.14" cy="174.20" r="1.07" fill="#4a4a4a" stroke="none" stroke-width="1" opacity="0.55"/>
<circle cx="485.22" cy="171.43" r="0.71" fill="#4a4a4a" stroke="none" stroke-width="1" opacity="0.55"/>
<circle cx="480.00" cy="194.30" r="10.75" fill="url(#sphXL)" stroke="none" stroke-width="1" />
<circle cx="477.44" cy="194.93" r="1.02" fill="#505050" stroke="none" stroke-width="1" opacity="0.55"/>
<circle cx="488.05" cy="196.12" r="0.92" fill="#4a4a4a" stroke="none" stroke-width="1" opacity="0.55"/>
<circle cx="473.45" cy="189.85" r="0.69" fill="#111" stroke="none" stroke-width="1" opacity="0.55"/>
<circle cx="482.60" cy="188.94" r="0.71" fill="#4a4a4a" stroke="none" stroke-width="1" opacity="0.55"/>
<circle cx="483.59" cy="189.07" r="0.77" fill="#1a1a1a" stroke="none" stroke-width="1" opacity="0.55"/>
<circle cx="475.99" cy="190.76" r="0.76" fill="#1a1a1a" stroke="none" stroke-width="1" opacity="0.55"/>
<circle cx="484.40" cy="196.15" r="0.52" fill="#505050" stroke="none" stroke-width="1" opacity="0.55"/>
<circle cx="472.84" cy="198.18" r="0.56" fill="#4a4a4a" stroke="none" stroke-width="1" opacity="0.55"/>
<circle cx="473.22" cy="196.70" r="0.52" fill="#4a4a4a" stroke="none" stroke-width="1" opacity="0.55"/>
<circle cx="474.06" cy="190.54" r="0.53" fill="#4a4a4a" stroke="none" stroke-width="1" opacity="0.55"/>
<circle cx="478.74" cy="198.66" r="0.76" fill="#1a1a1a" stroke="none" stroke-width="1" opacity="0.55"/>
<circle cx="485.55" cy="195.51" r="0.60" fill="#505050" stroke="none" stroke-width="1" opacity="0.55"/>
<circle cx="471.74" cy="192.83" r="0.84" fill="#111" stroke="none" stroke-width="1" opacity="0.55"/>
<circle cx="483.60" cy="188.76" r="1.01" fill="#1a1a1a" stroke="none" stroke-width="1" opacity="0.55"/>
<circle cx="474.43" cy="200.57" r="1.01" fill="#4a4a4a" stroke="none" stroke-width="1" opacity="0.55"/>
<circle cx="486.05" cy="199.39" r="0.72" fill="#505050" stroke="none" stroke-width="1" opacity="0.55"/>
<circle cx="487.62" cy="191.44" r="0.73" fill="#111" stroke="none" stroke-width="1" opacity="0.55"/>
<circle cx="483.03" cy="194.24" r="0.95" fill="#111" stroke="none" stroke-width="1" opacity="0.55"/>
<circle cx="477.77" cy="197.09" r="1.09" fill="#4a4a4a" stroke="none" stroke-width="1" opacity="0.55"/>
<circle cx="484.85" cy="192.09" r="0.65" fill="#1a1a1a" stroke="none" stroke-width="1" opacity="0.55"/>
<circle cx="473.92" cy="196.82" r="0.77" fill="#505050" stroke="none" stroke-width="1" opacity="0.55"/>
<circle cx="477.33" cy="196.86" r="0.62" fill="#111" stroke="none" stroke-width="1" opacity="0.55"/>
<circle cx="480.24" cy="200.23" r="0.85" fill="#4a4a4a" stroke="none" stroke-width="1" opacity="0.55"/>
<circle cx="486.02" cy="189.98" r="0.68" fill="#505050" stroke="none" stroke-width="1" opacity="0.55"/>
<circle cx="509.00" cy="186.30" r="8.83" fill="url(#sphXL)" stroke="none" stroke-width="1" />
<circle cx="506.89" cy="189.78" r="1.01" fill="#4a4a4a" stroke="none" stroke-width="1" opacity="0.55"/>
<circle cx="513.68" cy="187.67" r="0.66" fill="#1a1a1a" stroke="none" stroke-width="1" opacity="0.55"/>
<circle cx="512.13" cy="187.22" r="1.09" fill="#505050" stroke="none" stroke-width="1" opacity="0.55"/>
<circle cx="509.84" cy="190.88" r="0.52" fill="#4a4a4a" stroke="none" stroke-width="1" opacity="0.55"/>
<circle cx="509.13" cy="184.03" r="0.92" fill="#4a4a4a" stroke="none" stroke-width="1" opacity="0.55"/>
<circle cx="509.03" cy="188.06" r="0.57" fill="#505050" stroke="none" stroke-width="1" opacity="0.55"/>
<circle cx="509.71" cy="182.89" r="0.60" fill="#505050" stroke="none" stroke-width="1" opacity="0.55"/>
<circle cx="507.51" cy="190.35" r="0.64" fill="#111" stroke="none" stroke-width="1" opacity="0.55"/>
<circle cx="512.18" cy="181.16" r="0.78" fill="#1a1a1a" stroke="none" stroke-width="1" opacity="0.55"/>
<circle cx="512.49" cy="181.55" r="0.94" fill="#1a1a1a" stroke="none" stroke-width="1" opacity="0.55"/>
<circle cx="505.12" cy="189.80" r="0.67" fill="#4a4a4a" stroke="none" stroke-width="1" opacity="0.55"/>
<circle cx="508.84" cy="185.92" r="0.59" fill="#4a4a4a" stroke="none" stroke-width="1" opacity="0.55"/>
<circle cx="512.47" cy="184.51" r="0.64" fill="#111" stroke="none" stroke-width="1" opacity="0.55"/>
<circle cx="514.75" cy="186.54" r="0.50" fill="#505050" stroke="none" stroke-width="1" opacity="0.55"/>
<circle cx="504.94" cy="185.74" r="0.66" fill="#1a1a1a" stroke="none" stroke-width="1" opacity="0.55"/>
<circle cx="512.76" cy="181.45" r="0.68" fill="#1a1a1a" stroke="none" stroke-width="1" opacity="0.55"/>
<circle cx="506.91" cy="181.42" r="0.62" fill="#4a4a4a" stroke="none" stroke-width="1" opacity="0.55"/>
<circle cx="507.11" cy="185.49" r="0.64" fill="#111" stroke="none" stroke-width="1" opacity="0.55"/>
<circle cx="506.30" cy="181.77" r="0.67" fill="#1a1a1a" stroke="none" stroke-width="1" opacity="0.55"/>
<circle cx="510.79" cy="192.68" r="0.57" fill="#111" stroke="none" stroke-width="1" opacity="0.55"/>
<circle cx="497.90" cy="194.80" r="4.80" fill="url(#sphS)" stroke="none" stroke-width="1" />
<circle cx="487.50" cy="179.90" r="2.88" fill="url(#sphT)" stroke="none" stroke-width="1" />
<circle cx="465.60" cy="183.00" r="2.88" fill="url(#sphT)" stroke="none" stroke-width="1" />
<circle cx="466.40" cy="165.70" r="3.46" fill="url(#sphS)" stroke="none" stroke-width="1" />
<circle cx="512.80" cy="175.60" r="1.82" fill="url(#sphT)" stroke="none" stroke-width="1" />
<circle cx="512.00" cy="164.00" r="4.32" fill="url(#sphS)" stroke="none" stroke-width="1" />
<circle cx="471.00" cy="187.00" r="1.44" fill="url(#sphT)" stroke="none" stroke-width="1" />
<circle cx="470.00" cy="200.00" r="1.92" fill="url(#sphT)" stroke="none" stroke-width="1" />
<circle cx="506.00" cy="198.00" r="1.73" fill="url(#sphT)" stroke="none" stroke-width="1" />
</g>
</g>
<rect x="507.2" y="201.7" width="10" height="1.2" fill="#fff" stroke="none" stroke-width="1" />
<text x="512.2" y="200.6" text-anchor="middle" fill="#fff" style='font-family:"Liberation Serif",serif;font-size:2.6px;font-weight:bold;' >200 μM</text>
<text x="537.5" y="8.0" text-anchor="start" fill="#000" style='font-family:"Liberation Serif",serif;font-size:11.5px;font-weight:bold;' >c</text>
<text x="629.2" y="57.7" text-anchor="middle" fill="#000" style='font-family:"Liberation Serif",serif;font-size:6.1px;font-weight:bold;' >Spontaneous differentiation</text>
<line x1="570.9" y1="66.7" x2="570.9" y2="178.7" stroke="#000" stroke-width="1.0" />
<line x1="570.4" y1="178.2" x2="685" y2="178.2" stroke="#000" stroke-width="1.0" />
<line x1="567.9" y1="162.8" x2="570.9" y2="162.8" stroke="#000" stroke-width="0.9" />
<text x="566.9" y="164.70000000000002" text-anchor="end" fill="#000" style='font-family:"Liberation Serif",serif;font-size:5.6px;font-weight:bold;' >400</text>
<line x1="567.9" y1="130.92000000000002" x2="570.9" y2="130.92000000000002" stroke="#000" stroke-width="0.9" />
<text x="566.9" y="132.82000000000002" text-anchor="end" fill="#000" style='font-family:"Liberation Serif",serif;font-size:5.6px;font-weight:bold;' >600</text>
<line x1="567.9" y1="99.04000000000002" x2="570.9" y2="99.04000000000002" stroke="#000" stroke-width="0.9" />
<text x="566.9" y="100.94000000000003" text-anchor="end" fill="#000" style='font-family:"Liberation Serif",serif;font-size:5.6px;font-weight:bold;' >800</text>
<line x1="567.9" y1="67.16000000000003" x2="570.9" y2="67.16000000000003" stroke="#000" stroke-width="0.9" />
<text x="566.9" y="69.06000000000003" text-anchor="end" fill="#000" style='font-family:"Liberation Serif",serif;font-size:5.6px;font-weight:bold;' >1000</text>
<line x1="593.8" y1="178.2" x2="593.8" y2="181.2" stroke="#000" stroke-width="0.9" />
<text x="593.8" y="187.0" text-anchor="middle" fill="#000" style='font-family:"Liberation Serif",serif;font-size:5.6px;font-weight:bold;' >3</text>
<line x1="629.5" y1="178.2" x2="629.5" y2="181.2" stroke="#000" stroke-width="0.9" />
<text x="629.5" y="187.0" text-anchor="middle" fill="#000" style='font-family:"Liberation Serif",serif;font-size:5.6px;font-weight:bold;' >5</text>
<line x1="664.9" y1="178.2" x2="664.9" y2="181.2" stroke="#000" stroke-width="0.9" />
<text x="664.9" y="187.0" text-anchor="middle" fill="#000" style='font-family:"Liberation Serif",serif;font-size:5.6px;font-weight:bold;' >7</text>
<text x="629.5" y="197.5" text-anchor="middle" fill="#000" style='font-family:"Liberation Serif",serif;font-size:6.0px;font-weight:bold;' >Days</text>
<text x="549.8" y="123" text-anchor="middle" fill="#000" style='font-family:"Liberation Serif",serif;font-size:5.7px;font-weight:bold;' transform="rotate(-90 549.8 123)" >Size of EB (μm)</text>
<polyline points="593.80,150.37 629.50,139.53 664.90,103.66" fill="none" stroke="#000" stroke-width="0.9" stroke-linejoin="round" />
<circle cx="593.80" cy="150.37" r="1.47" fill="#000" stroke="none" stroke-width="1" />
<circle cx="629.50" cy="139.53" r="1.47" fill="#000" stroke="none" stroke-width="1" />
<path d="M664.90 101.46 L664.90 105.86 M663.60 101.46 L666.20 101.46 M663.60 105.86 L666.20 105.86" stroke="#000" stroke-width="0.6" fill="none"/>
<circle cx="664.90" cy="103.66" r="1.47" fill="#000" stroke="none" stroke-width="1" />
<polyline points="593.80,154.83 629.50,153.87 664.90,153.87" fill="none" stroke="#ff1a1a" stroke-width="0.9" stroke-linejoin="round" />
<rect x="592.38" y="153.41" width="2.85" height="2.85" fill="#ff1a1a"/>
<rect x="628.08" y="152.45" width="2.85" height="2.85" fill="#ff1a1a"/>
<rect x="663.48" y="152.45" width="2.85" height="2.85" fill="#ff1a1a"/>
<polyline points="593.80,139.53 629.50,124.23 664.90,107.97" fill="none" stroke="#1a1aff" stroke-width="0.9" stroke-linejoin="round" />
<polygon points="593.80,137.72 592.09,140.86 595.51,140.86" fill="#1a1aff"/>
<polygon points="629.50,122.42 627.79,125.56 631.21,125.56" fill="#1a1aff"/>
<path d="M664.90 106.37 L664.90 109.57 M663.60 106.37 L666.20 106.37 M663.60 109.57 L666.20 109.57" stroke="#1a1aff" stroke-width="0.6" fill="none"/>
<polygon points="664.90,106.16 663.19,109.30 666.61,109.30" fill="#1a1aff"/>
<polyline points="593.80,136.34 629.50,123.59 664.90,71.94" fill="none" stroke="#2e8b2e" stroke-width="0.9" stroke-linejoin="round" />
<polygon points="593.80,138.14 592.09,135.01 595.51,135.01" fill="#2e8b2e"/>
<polygon points="629.50,125.39 627.79,122.26 631.21,122.26" fill="#2e8b2e"/>
<path d="M664.90 70.74 L664.90 73.14 M663.60 70.74 L666.20 70.74 M663.60 73.14 L666.20 73.14" stroke="#2e8b2e" stroke-width="0.6" fill="none"/>
<polygon points="664.90,73.75 663.19,70.61 666.61,70.61" fill="#2e8b2e"/>
<line x1="576.4" y1="72.9" x2="584.2" y2="72.9" stroke="#000" stroke-width="0.8" />
<circle cx="580.30" cy="72.90" r="1.24" fill="#000" stroke="none" stroke-width="1" />
<text x="588.7" y="74.60000000000001" text-anchor="start" fill="#000" style='font-family:"Liberation Serif",serif;font-size:4.9px;font-weight:bold;' >ET</text>
<line x1="576.4" y1="78.9" x2="584.2" y2="78.9" stroke="#ff1a1a" stroke-width="0.8" />
<rect x="579.10" y="77.70" width="2.40" height="2.40" fill="#ff1a1a"/>
<text x="588.7" y="80.60000000000001" text-anchor="start" fill="#000" style='font-family:"Liberation Serif",serif;font-size:4.9px;font-weight:bold;' >WT</text>
<line x1="576.4" y1="85.0" x2="584.2" y2="85.0" stroke="#1a1aff" stroke-width="0.8" />
<polygon points="580.30,83.48 578.86,86.12 581.74,86.12" fill="#1a1aff"/>
<text x="588.7" y="86.7" text-anchor="start" fill="#000" style='font-family:"Liberation Serif",serif;font-size:4.9px;font-weight:bold;' >K238R</text>
<line x1="576.4" y1="90.9" x2="584.2" y2="90.9" stroke="#2e8b2e" stroke-width="0.8" />
<polygon points="580.30,92.42 578.86,89.78 581.74,89.78" fill="#2e8b2e"/>
<text x="588.7" y="92.60000000000001" text-anchor="start" fill="#000" style='font-family:"Liberation Serif",serif;font-size:4.9px;font-weight:bold;' >K412R</text>
<line x1="606.3" y1="77.8" x2="606.3" y2="92.6" stroke="#222" stroke-width="0.6" />
<text x="609.5" y="85.2" text-anchor="middle" fill="#000" style='font-family:"Liberation Serif",serif;font-size:5.8px;font-weight:bold;font-style:italic;' transform="rotate(90 609.5 85.2)" >Dnmt3L</text>
<text x="594.2" y="113.28399999999999" text-anchor="middle" fill="#2e8b2e" style='font-family:"Liberation Serif",serif;font-size:6.2px;font-weight:bold;font-style:italic;' >###</text>
<text x="594.2" y="119.58399999999999" text-anchor="middle" fill="#1a1aff" style='font-family:"Liberation Serif",serif;font-size:6.2px;font-weight:bold;font-style:italic;' >###</text>
<text x="594.2" y="127.56" text-anchor="middle" fill="#2e8b2e" style='font-family:"Liberation Serif",serif;font-size:6.0px;font-weight:bold;' >***</text>
<text x="594.2" y="132.86" text-anchor="middle" fill="#1a1aff" style='font-family:"Liberation Serif",serif;font-size:6.0px;font-weight:bold;' >***</text>
<text x="629.5" y="97.384" text-anchor="middle" fill="#2e8b2e" style='font-family:"Liberation Serif",serif;font-size:6.2px;font-weight:bold;font-style:italic;' >###</text>
<text x="629.5" y="103.484" text-anchor="middle" fill="#1a1aff" style='font-family:"Liberation Serif",serif;font-size:6.2px;font-weight:bold;font-style:italic;' >###</text>
<text x="629.5" y="111.26" text-anchor="middle" fill="#2e8b2e" style='font-family:"Liberation Serif",serif;font-size:6.0px;font-weight:bold;' >***</text>
<text x="629.5" y="116.76" text-anchor="middle" fill="#1a1aff" style='font-family:"Liberation Serif",serif;font-size:6.0px;font-weight:bold;' >***</text>
<text x="665" y="86.184" text-anchor="middle" fill="#2e8b2e" style='font-family:"Liberation Serif",serif;font-size:6.2px;font-weight:bold;font-style:italic;' >###</text>
<text x="665" y="92.984" text-anchor="middle" fill="#1a1aff" style='font-family:"Liberation Serif",serif;font-size:6.2px;font-weight:bold;font-style:italic;' >###</text>
<text x="665" y="100.26" text-anchor="middle" fill="#2e8b2e" style='font-family:"Liberation Serif",serif;font-size:6.0px;font-weight:bold;' >***</text>
<text x="593.8" y="165.36" text-anchor="middle" fill="#ff1a1a" style='font-family:"Liberation Serif",serif;font-size:6.0px;font-weight:bold;' >*</text>
<text x="629.5" y="165.36" text-anchor="middle" fill="#ff1a1a" style='font-family:"Liberation Serif",serif;font-size:6.0px;font-weight:bold;' >***</text>
<text x="665" y="165.96" text-anchor="middle" fill="#ff1a1a" style='font-family:"Liberation Serif",serif;font-size:6.0px;font-weight:bold;' >***</text>
<text x="-0.3" y="246.5" text-anchor="start" fill="#000" style='font-family:"Liberation Serif",serif;font-size:11.5px;font-weight:bold;' >d</text>
<text x="68.5" y="274.59999999999997" text-anchor="end" fill="#000" style='font-family:"Liberation Serif",serif;font-size:5.85px;font-weight:bold;' >ET</text>
<text x="68.5" y="305.4" text-anchor="end" fill="#000" style='font-family:"Liberation Serif",serif;font-size:5.85px;font-weight:bold;' >WT</text>
<text x="68.5" y="336.29999999999995" text-anchor="end" fill="#000" style='font-family:"Liberation Serif",serif;font-size:5.85px;font-weight:bold;' >K238R</text>
<text x="68.5" y="367.2" text-anchor="end" fill="#000" style='font-family:"Liberation Serif",serif;font-size:5.85px;font-weight:bold;' >K412R</text>
<text x="95.7" y="251.4" text-anchor="middle" fill="#000" style='font-family:"Liberation Serif",serif;font-size:5.9px;font-weight:bold;font-style:italic;' >Stra8</text>
<line x1="80.2" y1="254.5" x2="80.2" y2="377" stroke="#ebebeb" stroke-width="0.7" />
<line x1="95.7" y1="254.5" x2="95.7" y2="377" stroke="#ebebeb" stroke-width="0.7" />
<line x1="111.2" y1="254.5" x2="111.2" y2="377" stroke="#ebebeb" stroke-width="0.7" />
<line x1="70.7" y1="272.7" x2="120.7" y2="272.7" stroke="#ebebeb" stroke-width="0.7" />
<line x1="70.7" y1="303.5" x2="120.7" y2="303.5" stroke="#ebebeb" stroke-width="0.7" />
<line x1="70.7" y1="334.4" x2="120.7" y2="334.4" stroke="#ebebeb" stroke-width="0.7" />
<line x1="70.7" y1="365.3" x2="120.7" y2="365.3" stroke="#ebebeb" stroke-width="0.7" />
<circle cx="80.20" cy="272.70" r="4.70" fill="#1010ff" stroke="none" stroke-width="1" />
<circle cx="95.70" cy="272.70" r="1.60" fill="#1010ff" stroke="none" stroke-width="1" />
<circle cx="111.20" cy="272.70" r="1.40" fill="#1010ff" stroke="none" stroke-width="1" />
<circle cx="80.20" cy="303.50" r="3.40" fill="#ff2418" stroke="none" stroke-width="1" />
<circle cx="95.70" cy="303.50" r="1.50" fill="#1010ff" stroke="none" stroke-width="1" />
<circle cx="111.20" cy="303.50" r="1.30" fill="#1010ff" stroke="none" stroke-width="1" />
<circle cx="80.20" cy="334.40" r="5.60" fill="#ff2418" stroke="none" stroke-width="1" />
<circle cx="95.70" cy="334.40" r="1.70" fill="#1010ff" stroke="none" stroke-width="1" />
<circle cx="111.20" cy="334.40" r="1.40" fill="#1010ff" stroke="none" stroke-width="1" />
<circle cx="80.20" cy="365.30" r="5.50" fill="#cc33e0" stroke="none" stroke-width="1" />
<circle cx="95.70" cy="365.30" r="1.70" fill="#1010ff" stroke="none" stroke-width="1" />
<circle cx="111.20" cy="365.30" r="1.40" fill="#1010ff" stroke="none" stroke-width="1" />
<text x="80.2" y="389.2" text-anchor="middle" fill="#222" style='font-family:"Liberation Serif",serif;font-size:3.6px;font-weight:bold;' >0</text>
<text x="95.7" y="389.2" text-anchor="middle" fill="#222" style='font-family:"Liberation Serif",serif;font-size:3.6px;font-weight:bold;' >3</text>
<text x="111.2" y="389.2" text-anchor="middle" fill="#222" style='font-family:"Liberation Serif",serif;font-size:3.6px;font-weight:bold;' >5</text>
<text x="159.0" y="251.4" text-anchor="middle" fill="#000" style='font-family:"Liberation Serif",serif;font-size:5.9px;font-weight:bold;font-style:italic;' >Sohlh2</text>
<line x1="143.5" y1="254.5" x2="143.5" y2="377" stroke="#ebebeb" stroke-width="0.7" />
<line x1="159.0" y1="254.5" x2="159.0" y2="377" stroke="#ebebeb" stroke-width="0.7" />
<line x1="174.5" y1="254.5" x2="174.5" y2="377" stroke="#ebebeb" stroke-width="0.7" />
<line x1="134.0" y1="272.7" x2="184.0" y2="272.7" stroke="#ebebeb" stroke-width="0.7" />
<line x1="134.0" y1="303.5" x2="184.0" y2="303.5" stroke="#ebebeb" stroke-width="0.7" />
<line x1="134.0" y1="334.4" x2="184.0" y2="334.4" stroke="#ebebeb" stroke-width="0.7" />
<line x1="134.0" y1="365.3" x2="184.0" y2="365.3" stroke="#ebebeb" stroke-width="0.7" />
<circle cx="143.50" cy="272.70" r="4.90" fill="#1010ff" stroke="none" stroke-width="1" />
<circle cx="159.00" cy="272.70" r="3.30" fill="#1010ff" stroke="none" stroke-width="1" />
<circle cx="174.50" cy="272.70" r="3.00" fill="#1010ff" stroke="none" stroke-width="1" />
<circle cx="143.50" cy="303.50" r="4.50" fill="#5a14ff" stroke="none" stroke-width="1" />
<circle cx="159.00" cy="303.50" r="2.80" fill="#4a10ff" stroke="none" stroke-width="1" />
<circle cx="174.50" cy="303.50" r="3.00" fill="#1010ff" stroke="none" stroke-width="1" />
<circle cx="143.50" cy="334.40" r="5.40" fill="#8a1aff" stroke="none" stroke-width="1" />
<circle cx="159.00" cy="334.40" r="3.30" fill="#1010ff" stroke="none" stroke-width="1" />
<circle cx="174.50" cy="334.40" r="3.20" fill="#1010ff" stroke="none" stroke-width="1" />
<circle cx="143.50" cy="365.30" r="4.90" fill="#1010ff" stroke="none" stroke-width="1" />
<circle cx="159.00" cy="365.30" r="3.50" fill="#1010ff" stroke="none" stroke-width="1" />
<circle cx="174.50" cy="365.30" r="3.10" fill="#1010ff" stroke="none" stroke-width="1" />
<text x="143.5" y="389.2" text-anchor="middle" fill="#222" style='font-family:"Liberation Serif",serif;font-size:3.6px;font-weight:bold;' >0</text>
<text x="159.0" y="389.2" text-anchor="middle" fill="#222" style='font-family:"Liberation Serif",serif;font-size:3.6px;font-weight:bold;' >3</text>
<text x="174.5" y="389.2" text-anchor="middle" fill="#222" style='font-family:"Liberation Serif",serif;font-size:3.6px;font-weight:bold;' >5</text>
<text x="127.6" y="394.6" text-anchor="middle" fill="#000" style='font-family:"Liberation Serif",serif;font-size:6.0px;font-weight:bold;' >Days</text>
<text x="29.5" y="409.6" text-anchor="middle" fill="#000" style='font-family:"Liberation Serif",serif;font-size:5.85px;font-weight:bold;' >Expression</text>
<text x="29.5" y="416.0" text-anchor="middle" fill="#000" style='font-family:"Liberation Serif",serif;font-size:5.85px;font-weight:bold;' >(ΔΔCt)</text>
<circle cx="53.40" cy="411.00" r="5.40" fill="#000" stroke="none" stroke-width="1" />
<circle cx="77.60" cy="411.00" r="2.70" fill="#000" stroke="none" stroke-width="1" />
<circle cx="97.40" cy="411.00" r="1.45" fill="#000" stroke="none" stroke-width="1" />
<text x="62.8" y="412.7" text-anchor="start" fill="#000" style='font-family:"Liberation Serif",serif;font-size:5.0px;font-weight:bold;' >-0.3</text>
<text x="84.0" y="412.7" text-anchor="start" fill="#000" style='font-family:"Liberation Serif",serif;font-size:5.0px;font-weight:bold;' >4.0</text>
<text x="104.8" y="412.7" text-anchor="start" fill="#000" style='font-family:"Liberation Serif",serif;font-size:5.0px;font-weight:bold;' >8.5</text>
<text x="145.4" y="409.6" text-anchor="middle" fill="#000" style='font-family:"Liberation Serif",serif;font-size:5.85px;font-weight:bold;' >-log10 (p-value)</text>
<text x="145.4" y="416.0" text-anchor="middle" style='font-family:"Liberation Serif",serif;font-size:5.85px;font-weight:bold;'>(% of <tspan font-style="italic">Gapdh</tspan>)</text>
<rect x="171.3" y="404.0" width="34.5" height="5.8" fill="url(#pgrad)" stroke="none" stroke-width="1" />
<text x="171.9" y="416.4" text-anchor="middle" fill="#000" style='font-family:"Liberation Serif",serif;font-size:4.4px;font-weight:bold;' >0</text>
<text x="180.225" y="416.4" text-anchor="middle" fill="#000" style='font-family:"Liberation Serif",serif;font-size:4.4px;font-weight:bold;' >1</text>
<text x="188.55" y="416.4" text-anchor="middle" fill="#000" style='font-family:"Liberation Serif",serif;font-size:4.4px;font-weight:bold;' >2</text>
<text x="196.875" y="416.4" text-anchor="middle" fill="#000" style='font-family:"Liberation Serif",serif;font-size:4.4px;font-weight:bold;' >3</text>
<text x="205.2" y="416.4" text-anchor="middle" fill="#000" style='font-family:"Liberation Serif",serif;font-size:4.4px;font-weight:bold;' >4</text>
<text x="269.7" y="274.59999999999997" text-anchor="end" fill="#000" style='font-family:"Liberation Serif",serif;font-size:5.85px;font-weight:bold;' >ET</text>
<text x="269.7" y="305.4" text-anchor="end" fill="#000" style='font-family:"Liberation Serif",serif;font-size:5.85px;font-weight:bold;' >WT</text>
<text x="269.7" y="336.29999999999995" text-anchor="end" fill="#000" style='font-family:"Liberation Serif",serif;font-size:5.85px;font-weight:bold;' >K238R</text>
<text x="269.7" y="367.2" text-anchor="end" fill="#000" style='font-family:"Liberation Serif",serif;font-size:5.85px;font-weight:bold;' >K412R</text>
<text x="297.2" y="251.4" text-anchor="middle" fill="#000" style='font-family:"Liberation Serif",serif;font-size:5.9px;font-weight:bold;font-style:italic;' >Foxa1</text>
<line x1="281.7" y1="254.5" x2="281.7" y2="377" stroke="#ebebeb" stroke-width="0.7" />
<line x1="297.2" y1="254.5" x2="297.2" y2="377" stroke="#ebebeb" stroke-width="0.7" />
<line x1="312.6" y1="254.5" x2="312.6" y2="377" stroke="#ebebeb" stroke-width="0.7" />
<line x1="272.2" y1="272.7" x2="322.1" y2="272.7" stroke="#ebebeb" stroke-width="0.7" />
<line x1="272.2" y1="303.5" x2="322.1" y2="303.5" stroke="#ebebeb" stroke-width="0.7" />
<line x1="272.2" y1="334.4" x2="322.1" y2="334.4" stroke="#ebebeb" stroke-width="0.7" />
<line x1="272.2" y1="365.3" x2="322.1" y2="365.3" stroke="#ebebeb" stroke-width="0.7" />
<circle cx="281.70" cy="272.70" r="2.50" fill="#1010ff" stroke="none" stroke-width="1" />
<circle cx="297.20" cy="272.70" r="2.80" fill="#1010ff" stroke="none" stroke-width="1" />
<circle cx="312.60" cy="272.70" r="4.50" fill="#1010ff" stroke="none" stroke-width="1" />
<circle cx="281.70" cy="303.50" r="2.40" fill="#1010ff" stroke="none" stroke-width="1" />
<circle cx="297.20" cy="303.50" r="2.50" fill="#1010ff" stroke="none" stroke-width="1" />
<circle cx="312.60" cy="303.50" r="3.20" fill="#ff2418" stroke="none" stroke-width="1" />
<circle cx="281.70" cy="334.40" r="2.40" fill="#1010ff" stroke="none" stroke-width="1" />
<circle cx="297.20" cy="334.40" r="4.40" fill="#ff2418" stroke="none" stroke-width="1" />
<circle cx="312.60" cy="334.40" r="4.70" fill="#c030f0" stroke="none" stroke-width="1" />
<circle cx="281.70" cy="365.30" r="2.60" fill="#1010ff" stroke="none" stroke-width="1" />
<circle cx="297.20" cy="365.30" r="5.20" fill="#ff2418" stroke="none" stroke-width="1" />
<circle cx="312.60" cy="365.30" r="4.90" fill="#ff2418" stroke="none" stroke-width="1" />
<text x="281.7" y="389.2" text-anchor="middle" fill="#222" style='font-family:"Liberation Serif",serif;font-size:3.6px;font-weight:bold;' >0</text>
<text x="297.2" y="389.2" text-anchor="middle" fill="#222" style='font-family:"Liberation Serif",serif;font-size:3.6px;font-weight:bold;' >3</text>
<text x="312.6" y="389.2" text-anchor="middle" fill="#222" style='font-family:"Liberation Serif",serif;font-size:3.6px;font-weight:bold;' >5</text>
<text x="360.7" y="251.4" text-anchor="middle" fill="#000" style='font-family:"Liberation Serif",serif;font-size:5.9px;font-weight:bold;font-style:italic;' >Nts1</text>
<line x1="345.2" y1="254.5" x2="345.2" y2="377" stroke="#ebebeb" stroke-width="0.7" />
<line x1="360.7" y1="254.5" x2="360.7" y2="377" stroke="#ebebeb" stroke-width="0.7" />
<line x1="376.1" y1="254.5" x2="376.1" y2="377" stroke="#ebebeb" stroke-width="0.7" />
<line x1="335.7" y1="272.7" x2="385.6" y2="272.7" stroke="#ebebeb" stroke-width="0.7" />
<line x1="335.7" y1="303.5" x2="385.6" y2="303.5" stroke="#ebebeb" stroke-width="0.7" />
<line x1="335.7" y1="334.4" x2="385.6" y2="334.4" stroke="#ebebeb" stroke-width="0.7" />
<line x1="335.7" y1="365.3" x2="385.6" y2="365.3" stroke="#ebebeb" stroke-width="0.7" />
<circle cx="345.20" cy="272.70" r="2.50" fill="#1010ff" stroke="none" stroke-width="1" />
<circle cx="360.70" cy="272.70" r="3.30" fill="#1010ff" stroke="none" stroke-width="1" />
<circle cx="376.10" cy="272.70" r="4.90" fill="#1010ff" stroke="none" stroke-width="1" />
<circle cx="345.20" cy="303.50" r="3.40" fill="#7a20f0" stroke="none" stroke-width="1" />
<circle cx="360.70" cy="303.50" r="3.40" fill="#1010ff" stroke="none" stroke-width="1" />
<circle cx="376.10" cy="303.50" r="4.00" fill="#ff2418" stroke="none" stroke-width="1" />
<circle cx="345.20" cy="334.40" r="2.10" fill="#1010ff" stroke="none" stroke-width="1" />
<circle cx="360.70" cy="334.40" r="4.00" fill="#e0309a" stroke="none" stroke-width="1" />
<circle cx="376.10" cy="334.40" r="5.70" fill="#ff2418" stroke="none" stroke-width="1" />
<circle cx="345.20" cy="365.30" r="2.00" fill="#1010ff" stroke="none" stroke-width="1" />
<circle cx="360.70" cy="365.30" r="4.40" fill="#ff2418" stroke="none" stroke-width="1" />
<circle cx="376.10" cy="365.30" r="5.00" fill="#f02850" stroke="none" stroke-width="1" />
<text x="345.2" y="389.2" text-anchor="middle" fill="#222" style='font-family:"Liberation Serif",serif;font-size:3.6px;font-weight:bold;' >0</text>
<text x="360.7" y="389.2" text-anchor="middle" fill="#222" style='font-family:"Liberation Serif",serif;font-size:3.6px;font-weight:bold;' >3</text>
<text x="376.1" y="389.2" text-anchor="middle" fill="#222" style='font-family:"Liberation Serif",serif;font-size:3.6px;font-weight:bold;' >5</text>
<text x="424.0" y="251.4" text-anchor="middle" fill="#000" style='font-family:"Liberation Serif",serif;font-size:5.9px;font-weight:bold;font-style:italic;' >Slit2</text>
<line x1="408.3" y1="254.5" x2="408.3" y2="377" stroke="#ebebeb" stroke-width="0.7" />
<line x1="424.0" y1="254.5" x2="424.0" y2="377" stroke="#ebebeb" stroke-width="0.7" />
<line x1="439.6" y1="254.5" x2="439.6" y2="377" stroke="#ebebeb" stroke-width="0.7" />
<line x1="398.8" y1="272.7" x2="449.1" y2="272.7" stroke="#ebebeb" stroke-width="0.7" />
<line x1="398.8" y1="303.5" x2="449.1" y2="303.5" stroke="#ebebeb" stroke-width="0.7" />
<line x1="398.8" y1="334.4" x2="449.1" y2="334.4" stroke="#ebebeb" stroke-width="0.7" />
<line x1="398.8" y1="365.3" x2="449.1" y2="365.3" stroke="#ebebeb" stroke-width="0.7" />
<circle cx="408.30" cy="272.70" r="2.60" fill="#1010ff" stroke="none" stroke-width="1" />
<circle cx="424.00" cy="272.70" r="1.60" fill="#1010ff" stroke="none" stroke-width="1" />
<circle cx="439.60" cy="272.70" r="3.00" fill="#1010ff" stroke="none" stroke-width="1" />
<circle cx="408.30" cy="303.50" r="1.60" fill="#e030c0" stroke="none" stroke-width="1" />
<circle cx="424.00" cy="303.50" r="1.20" fill="#1010ff" stroke="none" stroke-width="1" />
<circle cx="439.60" cy="303.50" r="2.40" fill="#ff2418" stroke="none" stroke-width="1" />
<circle cx="408.30" cy="334.40" r="2.40" fill="#1010ff" stroke="none" stroke-width="1" />
<circle cx="424.00" cy="334.40" r="2.70" fill="#f02860" stroke="none" stroke-width="1" />
<circle cx="439.60" cy="334.40" r="3.20" fill="#e030a0" stroke="none" stroke-width="1" />
<circle cx="408.30" cy="365.30" r="2.60" fill="#1010ff" stroke="none" stroke-width="1" />
<circle cx="424.00" cy="365.30" r="3.00" fill="#ff2418" stroke="none" stroke-width="1" />
<circle cx="439.60" cy="365.30" r="3.30" fill="#d030e8" stroke="none" stroke-width="1" />
<text x="408.3" y="389.2" text-anchor="middle" fill="#222" style='font-family:"Liberation Serif",serif;font-size:3.6px;font-weight:bold;' >0</text>
<text x="424.0" y="389.2" text-anchor="middle" fill="#222" style='font-family:"Liberation Serif",serif;font-size:3.6px;font-weight:bold;' >3</text>
<text x="439.6" y="389.2" text-anchor="middle" fill="#222" style='font-family:"Liberation Serif",serif;font-size:3.6px;font-weight:bold;' >5</text>
<text x="360.7" y="394.6" text-anchor="middle" fill="#000" style='font-family:"Liberation Serif",serif;font-size:6.0px;font-weight:bold;' >Days</text>
<text x="269.7" y="409.6" text-anchor="middle" fill="#000" style='font-family:"Liberation Serif",serif;font-size:5.85px;font-weight:bold;' >Expression</text>
<text x="269.7" y="416.0" text-anchor="middle" fill="#000" style='font-family:"Liberation Serif",serif;font-size:5.85px;font-weight:bold;' >(ΔΔCt)</text>
<circle cx="294.20" cy="411.00" r="5.40" fill="#000" stroke="none" stroke-width="1" />
<circle cx="317.30" cy="411.00" r="2.70" fill="#000" stroke="none" stroke-width="1" />
<circle cx="337.80" cy="411.00" r="1.45" fill="#000" stroke="none" stroke-width="1" />
<text x="302.9" y="412.7" text-anchor="start" fill="#000" style='font-family:"Liberation Serif",serif;font-size:5.0px;font-weight:bold;' >-4.6</text>
<text x="323.4" y="412.7" text-anchor="start" fill="#000" style='font-family:"Liberation Serif",serif;font-size:5.0px;font-weight:bold;' >0.0</text>
<text x="344.9" y="412.7" text-anchor="start" fill="#000" style='font-family:"Liberation Serif",serif;font-size:5.0px;font-weight:bold;' >4.2</text>
<text x="385.5" y="409.6" text-anchor="middle" fill="#000" style='font-family:"Liberation Serif",serif;font-size:5.85px;font-weight:bold;' >-log10 (p-value)</text>
<text x="385.5" y="416.0" text-anchor="middle" style='font-family:"Liberation Serif",serif;font-size:5.85px;font-weight:bold;'>(% of <tspan font-style="italic">Gapdh</tspan>)</text>
<rect x="411.0" y="404.0" width="35.0" height="5.8" fill="url(#pgrad)" stroke="none" stroke-width="1" />
<text x="411.6" y="416.4" text-anchor="middle" fill="#000" style='font-family:"Liberation Serif",serif;font-size:4.4px;font-weight:bold;' >0</text>
<text x="420.05" y="416.4" text-anchor="middle" fill="#000" style='font-family:"Liberation Serif",serif;font-size:4.4px;font-weight:bold;' >1</text>
<text x="428.5" y="416.4" text-anchor="middle" fill="#000" style='font-family:"Liberation Serif",serif;font-size:4.4px;font-weight:bold;' >2</text>
<text x="436.95000000000005" y="416.4" text-anchor="middle" fill="#000" style='font-family:"Liberation Serif",serif;font-size:4.4px;font-weight:bold;' >3</text>
<text x="445.40000000000003" y="416.4" text-anchor="middle" fill="#000" style='font-family:"Liberation Serif",serif;font-size:4.4px;font-weight:bold;' >4</text>
<text x="541.6" y="274.59999999999997" text-anchor="end" fill="#000" style='font-family:"Liberation Serif",serif;font-size:5.85px;font-weight:bold;' >ET</text>
<text x="541.6" y="305.4" text-anchor="end" fill="#000" style='font-family:"Liberation Serif",serif;font-size:5.85px;font-weight:bold;' >WT</text>
<text x="541.6" y="336.29999999999995" text-anchor="end" fill="#000" style='font-family:"Liberation Serif",serif;font-size:5.85px;font-weight:bold;' >K238R</text>
<text x="541.6" y="367.2" text-anchor="end" fill="#000" style='font-family:"Liberation Serif",serif;font-size:5.85px;font-weight:bold;' >K412R</text>
<text x="568.8" y="251.4" text-anchor="middle" fill="#000" style='font-family:"Liberation Serif",serif;font-size:5.9px;font-weight:bold;font-style:italic;' >Cer1</text>
<line x1="553.4" y1="254.5" x2="553.4" y2="377" stroke="#ebebeb" stroke-width="0.7" />
<line x1="568.8" y1="254.5" x2="568.8" y2="377" stroke="#ebebeb" stroke-width="0.7" />
<line x1="584.3" y1="254.5" x2="584.3" y2="377" stroke="#ebebeb" stroke-width="0.7" />
<line x1="543.9" y1="272.7" x2="593.8" y2="272.7" stroke="#ebebeb" stroke-width="0.7" />
<line x1="543.9" y1="303.5" x2="593.8" y2="303.5" stroke="#ebebeb" stroke-width="0.7" />
<line x1="543.9" y1="334.4" x2="593.8" y2="334.4" stroke="#ebebeb" stroke-width="0.7" />
<line x1="543.9" y1="365.3" x2="593.8" y2="365.3" stroke="#ebebeb" stroke-width="0.7" />
<circle cx="553.40" cy="272.70" r="1.60" fill="#1010ff" stroke="none" stroke-width="1" />
<circle cx="568.80" cy="272.70" r="2.20" fill="#1010ff" stroke="none" stroke-width="1" />
<circle cx="584.30" cy="272.70" r="4.40" fill="#1010ff" stroke="none" stroke-width="1" />
<circle cx="553.40" cy="303.50" r="1.60" fill="#1010ff" stroke="none" stroke-width="1" />
<circle cx="568.80" cy="303.50" r="2.10" fill="#1010ff" stroke="none" stroke-width="1" />
<circle cx="584.30" cy="303.50" r="3.60" fill="#ff2418" stroke="none" stroke-width="1" />
<circle cx="553.40" cy="334.40" r="1.60" fill="#1010ff" stroke="none" stroke-width="1" />
<circle cx="568.80" cy="334.40" r="2.80" fill="#1010ff" stroke="none" stroke-width="1" />
<circle cx="584.30" cy="334.40" r="4.50" fill="#3a10ff" stroke="none" stroke-width="1" />
<circle cx="553.40" cy="365.30" r="1.60" fill="#1010ff" stroke="none" stroke-width="1" />
<circle cx="568.80" cy="365.30" r="2.90" fill="#7020f0" stroke="none" stroke-width="1" />
<circle cx="584.30" cy="365.30" r="4.50" fill="#1010ff" stroke="none" stroke-width="1" />
<text x="553.4" y="389.2" text-anchor="middle" fill="#222" style='font-family:"Liberation Serif",serif;font-size:3.6px;font-weight:bold;' >0</text>
<text x="568.8" y="389.2" text-anchor="middle" fill="#222" style='font-family:"Liberation Serif",serif;font-size:3.6px;font-weight:bold;' >3</text>
<text x="584.3" y="389.2" text-anchor="middle" fill="#222" style='font-family:"Liberation Serif",serif;font-size:3.6px;font-weight:bold;' >5</text>
<text x="632.3" y="251.4" text-anchor="middle" fill="#000" style='font-family:"Liberation Serif",serif;font-size:5.9px;font-weight:bold;font-style:italic;' >Pkd1l1</text>
<line x1="616.9" y1="254.5" x2="616.9" y2="377" stroke="#ebebeb" stroke-width="0.7" />
<line x1="632.3" y1="254.5" x2="632.3" y2="377" stroke="#ebebeb" stroke-width="0.7" />
<line x1="647.7" y1="254.5" x2="647.7" y2="377" stroke="#ebebeb" stroke-width="0.7" />
<line x1="607.4" y1="272.7" x2="657.2" y2="272.7" stroke="#ebebeb" stroke-width="0.7" />
<line x1="607.4" y1="303.5" x2="657.2" y2="303.5" stroke="#ebebeb" stroke-width="0.7" />
<line x1="607.4" y1="334.4" x2="657.2" y2="334.4" stroke="#ebebeb" stroke-width="0.7" />
<line x1="607.4" y1="365.3" x2="657.2" y2="365.3" stroke="#ebebeb" stroke-width="0.7" />
<circle cx="616.90" cy="272.70" r="1.70" fill="#1010ff" stroke="none" stroke-width="1" />
<circle cx="632.30" cy="272.70" r="2.70" fill="#1010ff" stroke="none" stroke-width="1" />
<circle cx="647.70" cy="272.70" r="5.70" fill="#1010ff" stroke="none" stroke-width="1" />
<circle cx="616.90" cy="303.50" r="1.30" fill="#1010ff" stroke="none" stroke-width="1" />
<circle cx="632.30" cy="303.50" r="2.50" fill="#1010ff" stroke="none" stroke-width="1" />
<circle cx="647.70" cy="303.50" r="3.60" fill="#ff2418" stroke="none" stroke-width="1" />
<circle cx="616.90" cy="334.40" r="1.60" fill="#1010ff" stroke="none" stroke-width="1" />
<circle cx="632.30" cy="334.40" r="2.80" fill="#1010ff" stroke="none" stroke-width="1" />
<circle cx="647.70" cy="334.40" r="4.70" fill="#ff2418" stroke="none" stroke-width="1" />
<circle cx="616.90" cy="365.30" r="1.60" fill="#1010ff" stroke="none" stroke-width="1" />
<circle cx="632.30" cy="365.30" r="2.70" fill="#1010ff" stroke="none" stroke-width="1" />
<circle cx="647.70" cy="365.30" r="4.80" fill="#ff2418" stroke="none" stroke-width="1" />
<text x="616.9" y="389.2" text-anchor="middle" fill="#222" style='font-family:"Liberation Serif",serif;font-size:3.6px;font-weight:bold;' >0</text>
<text x="632.3" y="389.2" text-anchor="middle" fill="#222" style='font-family:"Liberation Serif",serif;font-size:3.6px;font-weight:bold;' >3</text>
<text x="647.7" y="389.2" text-anchor="middle" fill="#222" style='font-family:"Liberation Serif",serif;font-size:3.6px;font-weight:bold;' >5</text>
<text x="600.4" y="394.6" text-anchor="middle" fill="#000" style='font-family:"Liberation Serif",serif;font-size:6.0px;font-weight:bold;' >Days</text>
<text x="501.3" y="409.6" text-anchor="middle" fill="#000" style='font-family:"Liberation Serif",serif;font-size:5.85px;font-weight:bold;' >Expression</text>
<text x="501.3" y="416.0" text-anchor="middle" fill="#000" style='font-family:"Liberation Serif",serif;font-size:5.85px;font-weight:bold;' >(ΔΔCt)</text>
<circle cx="525.50" cy="411.00" r="5.40" fill="#000" stroke="none" stroke-width="1" />
<circle cx="549.70" cy="411.00" r="2.70" fill="#000" stroke="none" stroke-width="1" />
<circle cx="571.50" cy="411.00" r="1.45" fill="#000" stroke="none" stroke-width="1" />
<text x="534.6" y="412.7" text-anchor="start" fill="#000" style='font-family:"Liberation Serif",serif;font-size:5.0px;font-weight:bold;' >-8.3</text>
<text x="555.7" y="412.7" text-anchor="start" fill="#000" style='font-family:"Liberation Serif",serif;font-size:5.0px;font-weight:bold;' >-4.3</text>
<text x="577.9" y="412.7" text-anchor="start" fill="#000" style='font-family:"Liberation Serif",serif;font-size:5.0px;font-weight:bold;' >0.3</text>
<text x="618.9" y="409.6" text-anchor="middle" fill="#000" style='font-family:"Liberation Serif",serif;font-size:5.85px;font-weight:bold;' >-log10 (p-value)</text>
<text x="618.9" y="416.0" text-anchor="middle" style='font-family:"Liberation Serif",serif;font-size:5.85px;font-weight:bold;'>(% of <tspan font-style="italic">Gapdh</tspan>)</text>
<rect x="644.7" y="404.0" width="34.59999999999991" height="5.8" fill="url(#pgrad)" stroke="none" stroke-width="1" />
<text x="645.3000000000001" y="416.4" text-anchor="middle" fill="#000" style='font-family:"Liberation Serif",serif;font-size:4.4px;font-weight:bold;' >0</text>
<text x="653.6500000000001" y="416.4" text-anchor="middle" fill="#000" style='font-family:"Liberation Serif",serif;font-size:4.4px;font-weight:bold;' >1</text>
<text x="662.0" y="416.4" text-anchor="middle" fill="#000" style='font-family:"Liberation Serif",serif;font-size:4.4px;font-weight:bold;' >2</text>
<text x="670.35" y="416.4" text-anchor="middle" fill="#000" style='font-family:"Liberation Serif",serif;font-size:4.4px;font-weight:bold;' >3</text>
<text x="678.6999999999999" y="416.4" text-anchor="middle" fill="#000" style='font-family:"Liberation Serif",serif;font-size:4.4px;font-weight:bold;' >4</text>
<text x="0.6" y="448.4" text-anchor="start" fill="#000" style='font-family:"Liberation Serif",serif;font-size:11.5px;font-weight:bold;' >e</text>
<text x="82.3" y="460.09999999999997" text-anchor="middle" fill="#000" style='font-family:"Liberation Serif",serif;font-size:6.3px;font-weight:bold;font-style:italic;' >Stra8</text>
<line x1="30.2" y1="475.95" x2="30.2" y2="560.5" stroke="#000" stroke-width="1.0" />
<line x1="29.7" y1="560.0" x2="134.9" y2="560.0" stroke="#000" stroke-width="1.0" />
<line x1="27.2" y1="560.0" x2="30.2" y2="560.0" stroke="#000" stroke-width="1.0" />
<text x="26.599999999999998" y="561.9" text-anchor="end" fill="#000" style='font-family:"Liberation Serif",serif;font-size:5.6px;font-weight:bold;' >0</text>
<line x1="27.2" y1="532.15" x2="30.2" y2="532.15" stroke="#000" stroke-width="1.0" />
<text x="26.599999999999998" y="534.05" text-anchor="end" fill="#000" style='font-family:"Liberation Serif",serif;font-size:5.6px;font-weight:bold;' >1</text>
<line x1="27.2" y1="504.3" x2="30.2" y2="504.3" stroke="#000" stroke-width="1.0" />
<text x="26.599999999999998" y="506.2" text-anchor="end" fill="#000" style='font-family:"Liberation Serif",serif;font-size:5.6px;font-weight:bold;' >2</text>
<line x1="27.2" y1="476.45" x2="30.2" y2="476.45" stroke="#000" stroke-width="1.0" />
<text x="26.599999999999998" y="478.34999999999997" text-anchor="end" fill="#000" style='font-family:"Liberation Serif",serif;font-size:5.6px;font-weight:bold;' >3</text>
<line x1="51.1" y1="560.0" x2="51.1" y2="563.0" stroke="#000" stroke-width="1.0" />
<text x="51.1" y="568.9" text-anchor="middle" fill="#000" style='font-family:"Liberation Serif",serif;font-size:5.6px;font-weight:bold;' >0</text>
<line x1="82.3" y1="560.0" x2="82.3" y2="563.0" stroke="#000" stroke-width="1.0" />
<text x="82.3" y="568.9" text-anchor="middle" fill="#000" style='font-family:"Liberation Serif",serif;font-size:5.6px;font-weight:bold;' >3</text>
<line x1="113.4" y1="560.0" x2="113.4" y2="563.0" stroke="#000" stroke-width="1.0" />
<text x="113.4" y="568.9" text-anchor="middle" fill="#000" style='font-family:"Liberation Serif",serif;font-size:5.6px;font-weight:bold;' >5</text>
<text x="82.3" y="578.8000000000001" text-anchor="middle" fill="#000" style='font-family:"Liberation Serif",serif;font-size:6.0px;font-weight:bold;' >Days</text>
<text x="10.9" y="517.7" text-anchor="middle" fill="#000" style='font-family:"Liberation Serif",serif;font-size:6.0px;font-weight:bold;' transform="rotate(-90 10.9 517.7)" >Expression of mRNA</text>
<text x="17.0" y="517.7" text-anchor="middle" transform="rotate(-90 17.0 517.7)" style='font-family:"Liberation Serif",serif;font-size:6.0px;font-weight:bold;'>(% of <tspan font-style="italic">Gapdh</tspan>)</text>
<polyline points="51.10,504.30 82.30,559.72 113.40,559.72" fill="none" stroke="#000" stroke-width="0.9" stroke-linejoin="round" />
<path d="M51.10 501.70 L51.10 506.90 M49.80 501.70 L52.40 501.70 M49.80 506.90 L52.40 506.90" stroke="#000" stroke-width="0.6" fill="none"/>
<circle cx="51.10" cy="504.30" r="1.47" fill="#000" stroke="none" stroke-width="1" />
<circle cx="82.30" cy="559.72" r="1.47" fill="#000" stroke="none" stroke-width="1" />
<circle cx="113.40" cy="559.72" r="1.47" fill="#000" stroke="none" stroke-width="1" />
<polyline points="51.10,548.30 82.30,559.72 113.40,559.72" fill="none" stroke="#ff1a1a" stroke-width="0.9" stroke-linejoin="round" />
<path d="M51.10 546.70 L51.10 549.90 M49.80 546.70 L52.40 546.70 M49.80 549.90 L52.40 549.90" stroke="#ff1a1a" stroke-width="0.6" fill="none"/>
<rect x="49.68" y="546.88" width="2.85" height="2.85" fill="#ff1a1a"/>
<rect x="80.88" y="558.30" width="2.85" height="2.85" fill="#ff1a1a"/>
<rect x="111.98" y="558.30" width="2.85" height="2.85" fill="#ff1a1a"/>
<polyline points="51.10,488.98 82.30,559.58 113.40,560.00" fill="none" stroke="#1a1aff" stroke-width="0.9" stroke-linejoin="round" />
<path d="M51.10 488.18 L51.10 489.78 M49.80 488.18 L52.40 488.18 M49.80 489.78 L52.40 489.78" stroke="#1a1aff" stroke-width="0.6" fill="none"/>
<polygon points="51.10,487.18 49.39,490.31 52.81,490.31" fill="#1a1aff"/>
<polygon points="82.30,557.78 80.59,560.91 84.01,560.91" fill="#1a1aff"/>
<polygon points="113.40,558.20 111.69,561.33 115.11,561.33" fill="#1a1aff"/>
<polyline points="51.10,494.27 82.30,559.44 113.40,559.44" fill="none" stroke="#2e8b2e" stroke-width="0.9" stroke-linejoin="round" />
<path d="M51.10 492.27 L51.10 496.27 M49.80 492.27 L52.40 492.27 M49.80 496.27 L52.40 496.27" stroke="#2e8b2e" stroke-width="0.6" fill="none"/>
<polygon points="51.10,496.08 49.39,492.94 52.81,492.94" fill="#2e8b2e"/>
<polygon points="82.30,561.25 80.59,558.11 84.01,558.11" fill="#2e8b2e"/>
<polygon points="113.40,561.25 111.69,558.11 115.11,558.11" fill="#2e8b2e"/>
<line x1="89.9" y1="480.9" x2="97.1" y2="480.9" stroke="#000" stroke-width="0.8" />
<circle cx="93.50" cy="480.90" r="1.24" fill="#000" stroke="none" stroke-width="1" />
<text x="101.8" y="482.84999999999997" text-anchor="start" fill="#000" style='font-family:"Liberation Serif",serif;font-size:6.0px;font-weight:bold;' >ET</text>
<line x1="89.9" y1="488.6" x2="97.1" y2="488.6" stroke="#ff1a1a" stroke-width="0.8" />
<rect x="92.30" y="487.40" width="2.40" height="2.40" fill="#ff1a1a"/>
<text x="101.8" y="490.55" text-anchor="start" fill="#000" style='font-family:"Liberation Serif",serif;font-size:6.0px;font-weight:bold;' >WT</text>
<line x1="89.9" y1="496.4" x2="97.1" y2="496.4" stroke="#1a1aff" stroke-width="0.8" />
<polygon points="93.50,494.88 92.06,497.52 94.94,497.52" fill="#1a1aff"/>
<text x="101.8" y="498.34999999999997" text-anchor="start" fill="#000" style='font-family:"Liberation Serif",serif;font-size:6.0px;font-weight:bold;' >K238R</text>
<line x1="89.9" y1="504.2" x2="97.1" y2="504.2" stroke="#2e8b2e" stroke-width="0.8" />
<polygon points="93.50,505.72 92.06,503.08 94.94,503.08" fill="#2e8b2e"/>
<text x="101.8" y="506.15" text-anchor="start" fill="#000" style='font-family:"Liberation Serif",serif;font-size:6.0px;font-weight:bold;' >K412R</text>
<line x1="123.6" y1="487.4" x2="123.6" y2="505.8" stroke="#222" stroke-width="0.6" />
<text x="127.9" y="496.5" text-anchor="middle" fill="#000" style='font-family:"Liberation Serif",serif;font-size:5.9px;font-weight:bold;font-style:italic;' transform="rotate(90 127.9 496.5)" >Dnmt3L</text>
<text x="48" y="477.984" text-anchor="middle" fill="#2e8b2e" style='font-family:"Liberation Serif",serif;font-size:6.2px;font-weight:bold;font-style:italic;' >###</text>
<text x="48" y="485.26" text-anchor="middle" fill="#2e8b2e" style='font-family:"Liberation Serif",serif;font-size:6.0px;font-weight:bold;' >**</text>
<text x="48" y="516.5840000000001" text-anchor="middle" fill="#1a1aff" style='font-family:"Liberation Serif",serif;font-size:6.2px;font-weight:bold;font-style:italic;' >###</text>
<text x="48" y="523.46" text-anchor="middle" fill="#1a1aff" style='font-family:"Liberation Serif",serif;font-size:6.0px;font-weight:bold;' >***</text>
<text x="48" y="544.5600000000001" text-anchor="middle" fill="#ff1a1a" style='font-family:"Liberation Serif",serif;font-size:6.0px;font-weight:bold;' >***</text>
<text x="82.3" y="596.5" text-anchor="middle" fill="#000" style='font-family:"Liberation Serif",serif;font-size:6.3px;font-weight:bold;font-style:italic;' >Cer1</text>
<line x1="30.2" y1="612.5699999999999" x2="30.2" y2="696.8" stroke="#000" stroke-width="1.0" />
<line x1="29.7" y1="696.3" x2="134.9" y2="696.3" stroke="#000" stroke-width="1.0" />
<line x1="27.2" y1="696.3" x2="30.2" y2="696.3" stroke="#000" stroke-width="1.0" />
<text x="26.599999999999998" y="698.1999999999999" text-anchor="end" fill="#000" style='font-family:"Liberation Serif",serif;font-size:5.6px;font-weight:bold;' >0</text>
<line x1="27.2" y1="684.41" x2="30.2" y2="684.41" stroke="#000" stroke-width="1.0" />
<text x="26.599999999999998" y="686.31" text-anchor="end" fill="#000" style='font-family:"Liberation Serif",serif;font-size:5.6px;font-weight:bold;' >1</text>
<line x1="27.2" y1="672.52" x2="30.2" y2="672.52" stroke="#000" stroke-width="1.0" />
<text x="26.599999999999998" y="674.42" text-anchor="end" fill="#000" style='font-family:"Liberation Serif",serif;font-size:5.6px;font-weight:bold;' >2</text>
<line x1="27.2" y1="660.63" x2="30.2" y2="660.63" stroke="#000" stroke-width="1.0" />
<text x="26.599999999999998" y="662.53" text-anchor="end" fill="#000" style='font-family:"Liberation Serif",serif;font-size:5.6px;font-weight:bold;' >3</text>
<line x1="27.2" y1="648.74" x2="30.2" y2="648.74" stroke="#000" stroke-width="1.0" />
<text x="26.599999999999998" y="650.64" text-anchor="end" fill="#000" style='font-family:"Liberation Serif",serif;font-size:5.6px;font-weight:bold;' >4</text>
<line x1="27.2" y1="636.8499999999999" x2="30.2" y2="636.8499999999999" stroke="#000" stroke-width="1.0" />
<text x="26.599999999999998" y="638.7499999999999" text-anchor="end" fill="#000" style='font-family:"Liberation Serif",serif;font-size:5.6px;font-weight:bold;' >5</text>
<line x1="27.2" y1="624.9599999999999" x2="30.2" y2="624.9599999999999" stroke="#000" stroke-width="1.0" />
<text x="26.599999999999998" y="626.8599999999999" text-anchor="end" fill="#000" style='font-family:"Liberation Serif",serif;font-size:5.6px;font-weight:bold;' >6</text>
<line x1="27.2" y1="613.0699999999999" x2="30.2" y2="613.0699999999999" stroke="#000" stroke-width="1.0" />
<text x="26.599999999999998" y="614.9699999999999" text-anchor="end" fill="#000" style='font-family:"Liberation Serif",serif;font-size:5.6px;font-weight:bold;' >7</text>
<line x1="51.1" y1="696.3" x2="51.1" y2="699.3" stroke="#000" stroke-width="1.0" />
<text x="51.1" y="704.8" text-anchor="middle" fill="#000" style='font-family:"Liberation Serif",serif;font-size:5.6px;font-weight:bold;' >0</text>
<line x1="82.3" y1="696.3" x2="82.3" y2="699.3" stroke="#000" stroke-width="1.0" />
<text x="82.3" y="704.8" text-anchor="middle" fill="#000" style='font-family:"Liberation Serif",serif;font-size:5.6px;font-weight:bold;' >3</text>
<line x1="113.4" y1="696.3" x2="113.4" y2="699.3" stroke="#000" stroke-width="1.0" />
<text x="113.4" y="704.8" text-anchor="middle" fill="#000" style='font-family:"Liberation Serif",serif;font-size:5.6px;font-weight:bold;' >5</text>
<text x="82.3" y="715.3000000000001" text-anchor="middle" fill="#000" style='font-family:"Liberation Serif",serif;font-size:6.0px;font-weight:bold;' >Days</text>
<text x="10.9" y="654.3" text-anchor="middle" fill="#000" style='font-family:"Liberation Serif",serif;font-size:6.0px;font-weight:bold;' transform="rotate(-90 10.9 654.3)" >Expression of mRNA</text>
<text x="17.0" y="654.3" text-anchor="middle" transform="rotate(-90 17.0 654.3)" style='font-family:"Liberation Serif",serif;font-size:6.0px;font-weight:bold;'>(% of <tspan font-style="italic">Gapdh</tspan>)</text>
<polyline points="51.10,696.30 82.30,695.11 113.40,634.47" fill="none" stroke="#000" stroke-width="0.9" stroke-linejoin="round" />
<circle cx="51.10" cy="696.30" r="1.47" fill="#000" stroke="none" stroke-width="1" />
<circle cx="82.30" cy="695.11" r="1.47" fill="#000" stroke="none" stroke-width="1" />
<path d="M113.40 633.27 L113.40 635.67 M112.10 633.27 L114.70 633.27 M112.10 635.67 L114.70 635.67" stroke="#000" stroke-width="0.6" fill="none"/>
<circle cx="113.40" cy="634.47" r="1.47" fill="#000" stroke="none" stroke-width="1" />
<polyline points="51.10,696.30 82.30,695.35 113.40,674.90" fill="none" stroke="#ff1a1a" stroke-width="0.9" stroke-linejoin="round" />
<rect x="49.68" y="694.88" width="2.85" height="2.85" fill="#ff1a1a"/>
<rect x="80.88" y="693.92" width="2.85" height="2.85" fill="#ff1a1a"/>
<path d="M113.40 674.10 L113.40 675.70 M112.10 674.10 L114.70 674.10 M112.10 675.70 L114.70 675.70" stroke="#ff1a1a" stroke-width="0.6" fill="none"/>
<rect x="111.98" y="673.47" width="2.85" height="2.85" fill="#ff1a1a"/>
<polyline points="51.10,696.66 82.30,692.14 113.40,639.23" fill="none" stroke="#1a1aff" stroke-width="0.9" stroke-linejoin="round" />
<polygon points="51.10,694.85 49.39,697.99 52.81,697.99" fill="#1a1aff"/>
<polygon points="82.30,690.33 80.59,693.47 84.01,693.47" fill="#1a1aff"/>
<path d="M113.40 638.03 L113.40 640.43 M112.10 638.03 L114.70 638.03 M112.10 640.43 L114.70 640.43" stroke="#1a1aff" stroke-width="0.6" fill="none"/>
<polygon points="113.40,637.42 111.69,640.56 115.11,640.56" fill="#1a1aff"/>
<polyline points="51.10,695.71 82.30,689.17 113.40,630.31" fill="none" stroke="#2e8b2e" stroke-width="0.9" stroke-linejoin="round" />
<polygon points="51.10,697.51 49.39,694.38 52.81,694.38" fill="#2e8b2e"/>
<polygon points="82.30,690.97 80.59,687.84 84.01,687.84" fill="#2e8b2e"/>
<path d="M113.40 624.31 L113.40 636.31 M112.10 624.31 L114.70 624.31 M112.10 636.31 L114.70 636.31" stroke="#2e8b2e" stroke-width="0.6" fill="none"/>
<polygon points="113.40,632.12 111.69,628.98 115.11,628.98" fill="#2e8b2e"/>
<text x="113.9" y="613.5840000000001" text-anchor="middle" fill="#2e8b2e" style='font-family:"Liberation Serif",serif;font-size:6.2px;font-weight:bold;font-style:italic;' >###</text>
<text x="113.9" y="620.5840000000001" text-anchor="middle" fill="#1a1aff" style='font-family:"Liberation Serif",serif;font-size:6.2px;font-weight:bold;font-style:italic;' >###</text>
<text x="113.9" y="672.5600000000001" text-anchor="middle" fill="#ff1a1a" style='font-family:"Liberation Serif",serif;font-size:6.0px;font-weight:bold;' >***</text>
<text x="82.3" y="733.1" text-anchor="middle" fill="#000" style='font-family:"Liberation Serif",serif;font-size:6.3px;font-weight:bold;font-style:italic;' >Foxa1</text>
<line x1="30.2" y1="749.35" x2="30.2" y2="833.6" stroke="#000" stroke-width="1.0" />
<line x1="29.7" y1="833.1" x2="134.9" y2="833.1" stroke="#000" stroke-width="1.0" />
<line x1="27.2" y1="833.1" x2="30.2" y2="833.1" stroke="#000" stroke-width="1.0" />
<text x="26.599999999999998" y="835.0" text-anchor="end" fill="#000" style='font-family:"Liberation Serif",serif;font-size:5.6px;font-weight:bold;' >0.0</text>
<line x1="27.2" y1="805.35" x2="30.2" y2="805.35" stroke="#000" stroke-width="1.0" />
<text x="26.599999999999998" y="807.25" text-anchor="end" fill="#000" style='font-family:"Liberation Serif",serif;font-size:5.6px;font-weight:bold;' >0.2</text>
<line x1="27.2" y1="777.6" x2="30.2" y2="777.6" stroke="#000" stroke-width="1.0" />
<text x="26.599999999999998" y="779.5" text-anchor="end" fill="#000" style='font-family:"Liberation Serif",serif;font-size:5.6px;font-weight:bold;' >0.4</text>
<line x1="27.2" y1="749.85" x2="30.2" y2="749.85" stroke="#000" stroke-width="1.0" />
<text x="26.599999999999998" y="751.75" text-anchor="end" fill="#000" style='font-family:"Liberation Serif",serif;font-size:5.6px;font-weight:bold;' >0.6</text>
<line x1="51.1" y1="833.1" x2="51.1" y2="836.1" stroke="#000" stroke-width="1.0" />
<text x="51.1" y="841.4" text-anchor="middle" fill="#000" style='font-family:"Liberation Serif",serif;font-size:5.6px;font-weight:bold;' >0</text>
<line x1="82.3" y1="833.1" x2="82.3" y2="836.1" stroke="#000" stroke-width="1.0" />
<text x="82.3" y="841.4" text-anchor="middle" fill="#000" style='font-family:"Liberation Serif",serif;font-size:5.6px;font-weight:bold;' >3</text>
<line x1="113.4" y1="833.1" x2="113.4" y2="836.1" stroke="#000" stroke-width="1.0" />
<text x="113.4" y="841.4" text-anchor="middle" fill="#000" style='font-family:"Liberation Serif",serif;font-size:5.6px;font-weight:bold;' >5</text>
<text x="82.3" y="852.1" text-anchor="middle" fill="#000" style='font-family:"Liberation Serif",serif;font-size:6.0px;font-weight:bold;' >Days</text>
<text x="10.9" y="791.5" text-anchor="middle" fill="#000" style='font-family:"Liberation Serif",serif;font-size:6.0px;font-weight:bold;' transform="rotate(-90 10.9 791.5)" >Expression of mRNA</text>
<text x="17.0" y="791.5" text-anchor="middle" transform="rotate(-90 17.0 791.5)" style='font-family:"Liberation Serif",serif;font-size:6.0px;font-weight:bold;'>(% of <tspan font-style="italic">Gapdh</tspan>)</text>
<polyline points="51.10,830.05 82.30,827.55 113.40,787.31" fill="none" stroke="#000" stroke-width="0.9" stroke-linejoin="round" />
<circle cx="51.10" cy="830.05" r="1.47" fill="#000" stroke="none" stroke-width="1" />
<circle cx="82.30" cy="827.55" r="1.47" fill="#000" stroke="none" stroke-width="1" />
<path d="M113.40 781.81 L113.40 792.81 M112.10 781.81 L114.70 781.81 M112.10 792.81 L114.70 792.81" stroke="#000" stroke-width="0.6" fill="none"/>
<circle cx="113.40" cy="787.31" r="1.47" fill="#000" stroke="none" stroke-width="1" />
<polyline points="51.10,830.60 82.30,830.33 113.40,823.11" fill="none" stroke="#ff1a1a" stroke-width="0.9" stroke-linejoin="round" />
<rect x="49.68" y="829.18" width="2.85" height="2.85" fill="#ff1a1a"/>
<path d="M82.30 829.53 L82.30 831.12 M81.00 829.53 L83.60 829.53 M81.00 831.12 L83.60 831.12" stroke="#ff1a1a" stroke-width="0.6" fill="none"/>
<rect x="80.88" y="828.90" width="2.85" height="2.85" fill="#ff1a1a"/>
<path d="M113.40 821.71 L113.40 824.51 M112.10 821.71 L114.70 821.71 M112.10 824.51 L114.70 824.51" stroke="#ff1a1a" stroke-width="0.6" fill="none"/>
<rect x="111.98" y="821.69" width="2.85" height="2.85" fill="#ff1a1a"/>
<polyline points="51.10,830.05 82.30,790.78 113.40,773.85" fill="none" stroke="#1a1aff" stroke-width="0.9" stroke-linejoin="round" />
<polygon points="51.10,828.24 49.39,831.38 52.81,831.38" fill="#1a1aff"/>
<path d="M82.30 789.18 L82.30 792.38 M81.00 789.18 L83.60 789.18 M81.00 792.38 L83.60 792.38" stroke="#1a1aff" stroke-width="0.6" fill="none"/>
<polygon points="82.30,788.98 80.59,792.11 84.01,792.11" fill="#1a1aff"/>
<path d="M113.40 769.25 L113.40 778.45 M112.10 769.25 L114.70 769.25 M112.10 778.45 L114.70 778.45" stroke="#1a1aff" stroke-width="0.6" fill="none"/>
<polygon points="113.40,772.05 111.69,775.18 115.11,775.18" fill="#1a1aff"/>
<polyline points="51.10,829.49 82.30,762.34 113.40,765.81" fill="none" stroke="#2e8b2e" stroke-width="0.9" stroke-linejoin="round" />
<polygon points="51.10,831.30 49.39,828.16 52.81,828.16" fill="#2e8b2e"/>
<path d="M82.30 758.14 L82.30 766.54 M81.00 758.14 L83.60 758.14 M81.00 766.54 L83.60 766.54" stroke="#2e8b2e" stroke-width="0.6" fill="none"/>
<polygon points="82.30,764.14 80.59,761.01 84.01,761.01" fill="#2e8b2e"/>
<path d="M113.40 765.01 L113.40 766.61 M112.10 765.01 L114.70 765.01 M112.10 766.61 L114.70 766.61" stroke="#2e8b2e" stroke-width="0.6" fill="none"/>
<polygon points="113.40,767.61 111.69,764.48 115.11,764.48" fill="#2e8b2e"/>
<text x="82.5" y="747.884" text-anchor="middle" fill="#2e8b2e" style='font-family:"Liberation Serif",serif;font-size:6.2px;font-weight:bold;font-style:italic;' >###</text>
<text x="82.5" y="755.86" text-anchor="middle" fill="#2e8b2e" style='font-family:"Liberation Serif",serif;font-size:6.0px;font-weight:bold;' >***</text>
<text x="82.5" y="778.784" text-anchor="middle" fill="#1a1aff" style='font-family:"Liberation Serif",serif;font-size:6.2px;font-weight:bold;font-style:italic;' >###</text>
<text x="82.5" y="786.76" text-anchor="middle" fill="#1a1aff" style='font-family:"Liberation Serif",serif;font-size:6.0px;font-weight:bold;' >***</text>
<text x="122.6" y="759.784" text-anchor="middle" fill="#2e8b2e" style='font-family:"Liberation Serif",serif;font-size:6.2px;font-weight:bold;font-style:italic;' >###</text>
<text x="122.6" y="767.0600000000001" text-anchor="middle" fill="#2e8b2e" style='font-family:"Liberation Serif",serif;font-size:6.0px;font-weight:bold;' >***</text>
<text x="122.6" y="772.6840000000001" text-anchor="middle" fill="#1a1aff" style='font-family:"Liberation Serif",serif;font-size:6.2px;font-weight:bold;font-style:italic;' >###</text>
<text x="122.6" y="779.5600000000001" text-anchor="middle" fill="#1a1aff" style='font-family:"Liberation Serif",serif;font-size:6.0px;font-weight:bold;' >**</text>
<text x="122.6" y="824.36" text-anchor="middle" fill="#ff1a1a" style='font-family:"Liberation Serif",serif;font-size:6.0px;font-weight:bold;' >***</text>
<text x="143.0" y="448.4" text-anchor="start" fill="#000" style='font-family:"Liberation Serif",serif;font-size:11.5px;font-weight:bold;' >f</text>
<rect x="152.0" y="455.3" width="105.6" height="105.40000000000003" fill="#fff" stroke="#555" stroke-width="0.8" />
<path d="M152.60 558.80 L152.60 555.74 L153.40 554.87 L154.20 555.06 L155.00 554.17 L155.80 553.29 L156.60 553.17 L157.40 552.62 L158.20 550.57 L159.00 550.70 L159.80 548.44 L160.60 546.82 L161.40 547.66 L162.20 545.65 L163.00 546.94 L163.80 543.22 L164.60 545.45 L165.40 542.32 L166.20 543.17 L167.00 540.98 L167.80 541.04 L168.60 540.45 L169.40 540.78 L170.20 540.41 L171.00 536.01 L171.80 536.33 L172.60 537.46 L173.40 536.52 L174.20 534.91 L175.00 536.28 L175.80 536.71 L176.60 537.14 L177.40 537.22 L178.20 542.99 L179.00 540.78 L179.80 543.07 L180.60 543.92 L181.40 548.43 L182.20 549.90 L183.00 550.61 L183.80 552.72 L184.60 553.64 L185.40 555.06 L186.20 556.67 L187.00 557.54 L187.80 557.51 L188.60 558.28 L188.80 558.80 Z" fill="#e7eeee" stroke="none"/>
<path d="M152.60 558.80 L152.60 555.74 L153.40 554.87 L154.20 555.06 L155.00 554.17 L155.80 553.29 L156.60 553.17 L157.40 552.62 L158.20 550.57 L159.00 550.70 L159.80 548.44 L160.60 546.82 L161.40 547.66 L162.20 545.65 L163.00 546.94 L163.80 543.22 L164.60 545.45 L165.40 542.32 L166.20 543.17 L167.00 540.98 L167.80 541.04 L168.60 540.45 L169.40 540.78 L170.20 540.41 L171.00 536.01 L171.80 536.33 L172.60 537.46 L173.40 536.52 L174.20 534.91 L175.00 536.28 L175.80 536.71 L176.60 537.14 L177.40 537.22 L178.20 542.99 L179.00 540.78 L179.80 543.07 L180.60 543.92 L181.40 548.43 L182.20 549.90 L183.00 550.61 L183.80 552.72 L184.60 553.64 L185.40 555.06 L186.20 556.67 L187.00 557.54 L187.80 557.51 L188.60 558.28 L188.80 558.80" fill="none" stroke="#808080" stroke-width="0.55"/>
<line x1="188.8" y1="558.8" x2="257.6" y2="558.8" stroke="#d0d4d4" stroke-width="0.8" />
<polyline points="152.60,488.03 153.30,487.43 154.00,486.72 154.70,486.58 155.40,486.33 156.10,486.69 156.80,485.81 157.50,485.95 158.20,486.43 158.90,485.31 159.60,485.79 160.30,483.59 161.00,483.31 161.70,484.34 162.40,483.93 163.10,482.22 163.80,483.07 164.50,482.60 165.20,482.10 165.90,481.29 166.60,480.10 167.30,478.48 168.00,480.25 168.70,477.02 169.40,477.72 170.10,475.83 170.80,475.67 171.50,477.81 172.20,475.23 172.90,476.64 173.60,476.37 174.30,473.80 175.00,471.25 175.70,471.65 176.40,473.12 177.10,469.28 177.80,468.14 178.50,470.98 179.20,469.07 179.90,467.28 180.60,465.15 181.30,469.61 182.00,467.39 182.70,465.41 183.40,467.93 184.10,467.73 184.80,467.72 185.50,469.63 186.20,471.51 186.90,470.86 187.60,472.19 188.30,474.08 189.00,472.76 189.70,475.72 190.40,475.81 191.10,474.93 191.80,475.04 192.50,475.13 193.20,476.49 193.90,478.41 194.60,477.54 195.30,477.88 196.00,478.43 196.70,478.64 197.40,479.06 198.10,479.24 198.80,479.34 199.50,479.99 200.20,479.73 200.90,479.83 201.60,480.75 202.30,480.49 203.00,480.82 203.70,481.59 204.40,481.90 205.10,481.67 205.80,482.17 206.50,482.26 207.20,482.13 207.90,482.21 208.60,482.28 209.30,482.59 210.00,482.95 210.70,483.38 211.40,483.50 212.10,483.63 212.80,483.57 213.50,483.59 214.20,484.09 214.90,484.06 215.60,483.78 216.30,484.27 217.00,484.21 217.70,484.44 218.40,484.60 219.10,484.90 219.80,485.06 220.50,485.15 221.20,485.66 221.90,485.46 222.60,485.72 223.30,485.98 224.00,486.05 224.70,486.12 225.40,486.24 226.10,486.35 226.80,486.41 227.50,486.63 228.20,486.79 228.90,486.81 229.60,487.04 230.30,487.16 231.00,487.30 231.70,487.42 232.40,487.49 233.10,487.58 233.80,487.60 234.50,487.73 235.20,487.85 235.90,487.95 236.60,488.04 237.30,488.10 238.00,488.26 238.70,488.33 239.40,488.51 240.10,488.63 240.80,488.66 241.50,488.79 242.20,488.75 242.90,488.85 243.60,488.89 244.30,488.93 245.00,488.97 245.70,488.95 246.40,489.00 247.10,489.10 247.80,489.19 248.50,489.27 249.20,489.32 249.90,489.35 250.60,489.38 251.30,489.44 252.00,489.47 252.70,489.53 253.40,489.62 254.10,489.64 254.80,489.70 255.50,489.72 256.20,489.80 256.90,489.75" fill="none" stroke="#1a1a1a" stroke-width="0.7" stroke-linejoin="round" />
<polyline points="152.60,504.97 153.30,505.42 154.00,504.03 154.70,503.85 155.40,504.39 156.10,503.93 156.80,504.47 157.50,504.16 158.20,503.69 158.90,502.53 159.60,503.13 160.30,501.24 161.00,502.95 161.70,502.38 162.40,502.19 163.10,500.01 163.80,500.43 164.50,499.60 165.20,499.53 165.90,498.30 166.60,498.64 167.30,498.74 168.00,497.44 168.70,497.21 169.40,497.26 170.10,494.15 170.80,494.23 171.50,493.88 172.20,492.39 172.90,493.57 173.60,492.82 174.30,491.82 175.00,491.19 175.70,489.38 176.40,492.20 177.10,489.46 177.80,488.42 178.50,488.68 179.20,489.72 179.90,485.30 180.60,488.71 181.30,485.42 182.00,488.05 182.70,489.08 183.40,488.65 184.10,489.63 184.80,489.43 185.50,487.01 186.20,487.52 186.90,490.23 187.60,489.81 188.30,491.62 189.00,492.45 189.70,491.69 190.40,494.55 191.10,492.59 191.80,493.59 192.50,493.99 193.20,496.90 193.90,496.98 194.60,496.38 195.30,496.43 196.00,496.15 196.70,496.48 197.40,496.67 198.10,497.52 198.80,497.14 199.50,497.30 200.20,497.51 200.90,497.78 201.60,498.64 202.30,498.86 203.00,498.60 203.70,498.91 204.40,499.02 205.10,499.61 205.80,499.45 206.50,500.20 207.20,499.67 207.90,499.83 208.60,500.39 209.30,500.75 210.00,500.57 210.70,500.65 211.40,501.08 212.10,501.47 212.80,501.49 213.50,501.27 214.20,501.90 214.90,501.43 215.60,501.97 216.30,502.12 217.00,502.32 217.70,501.92 218.40,502.15 219.10,502.70 219.80,503.01 220.50,502.87 221.20,502.91 221.90,503.57 222.60,503.42 223.30,503.50 224.00,503.66 224.70,503.71 225.40,503.77 226.10,503.98 226.80,504.10 227.50,504.18 228.20,504.34 228.90,504.49 229.60,504.66 230.30,504.71 231.00,504.92 231.70,504.97 232.40,505.02 233.10,505.14 233.80,505.26 234.50,505.32 235.20,505.44 235.90,505.53 236.60,505.65 237.30,505.74 238.00,505.85 238.70,505.95 239.40,506.03 240.10,506.13 240.80,506.21 241.50,506.32 242.20,506.33 242.90,506.37 243.60,506.45 244.30,506.44 245.00,506.51 245.70,506.51 246.40,506.56 247.10,506.66 247.80,506.69 248.50,506.74 249.20,506.82 249.90,506.90 250.60,506.95 251.30,506.91 252.00,506.99 252.70,507.07 253.40,507.10 254.10,507.18 254.80,507.18 255.50,507.20 256.20,507.25 256.90,507.30" fill="none" stroke="#f03030" stroke-width="0.7" stroke-linejoin="round" />
<polyline points="152.60,522.73 153.30,521.88 154.00,522.37 154.70,521.27 155.40,521.24 156.10,521.47 156.80,520.83 157.50,520.59 158.20,521.20 158.90,519.86 159.60,519.29 160.30,519.18 161.00,518.16 161.70,518.12 162.40,518.47 163.10,518.29 163.80,517.97 164.50,515.54 165.20,515.35 165.90,515.21 166.60,515.36 167.30,514.64 168.00,514.92 168.70,513.19 169.40,513.90 170.10,511.58 170.80,511.09 171.50,510.51 172.20,511.57 172.90,511.47 173.60,509.62 174.30,507.15 175.00,507.21 175.70,505.46 176.40,506.62 177.10,506.25 177.80,502.87 178.50,506.07 179.20,505.12 179.90,502.26 180.60,501.45 181.30,502.49 182.00,502.07 182.70,503.16 183.40,502.29 184.10,501.47 184.80,502.15 185.50,503.62 186.20,505.26 186.90,503.75 187.60,507.28 188.30,507.48 189.00,507.40 189.70,509.07 190.40,510.89 191.10,509.70 191.80,510.59 192.50,509.74 193.20,511.30 193.90,512.07 194.60,512.10 195.30,512.98 196.00,513.46 196.70,513.17 197.40,513.32 198.10,514.26 198.80,514.55 199.50,514.00 200.20,514.23 200.90,514.97 201.60,515.37 202.30,515.25 203.00,515.31 203.70,516.21 204.40,516.26 205.10,516.31 205.80,516.87 206.50,516.88 207.20,517.21 207.90,517.05 208.60,517.39 209.30,517.66 210.00,517.61 210.70,517.98 211.40,518.19 212.10,518.36 212.80,518.34 213.50,518.58 214.20,518.43 214.90,518.75 215.60,518.95 216.30,519.11 217.00,519.18 217.70,519.06 218.40,519.59 219.10,519.61 219.80,519.60 220.50,519.78 221.20,520.18 221.90,520.13 222.60,520.46 223.30,520.65 224.00,520.77 224.70,520.83 225.40,520.83 226.10,521.01 226.80,521.08 227.50,521.20 228.20,521.36 228.90,521.58 229.60,521.80 230.30,521.90 231.00,522.03 231.70,522.08 232.40,522.15 233.10,522.18 233.80,522.28 234.50,522.34 235.20,522.48 235.90,522.62 236.60,522.69 237.30,522.88 238.00,522.94 238.70,523.06 239.40,523.16 240.10,523.35 240.80,523.42 241.50,523.41 242.20,523.55 242.90,523.54 243.60,523.56 244.30,523.61 245.00,523.61 245.70,523.65 246.40,523.77 247.10,523.84 247.80,523.82 248.50,523.92 249.20,524.00 249.90,524.07 250.60,524.14 251.30,524.14 252.00,524.22 252.70,524.25 253.40,524.27 254.10,524.36 254.80,524.36 255.50,524.48 256.20,524.45 256.90,524.47" fill="none" stroke="#3030f0" stroke-width="0.7" stroke-linejoin="round" />
<polyline points="152.60,538.78 153.30,539.43 154.00,538.80 154.70,538.54 155.40,539.20 156.10,539.30 156.80,538.16 157.50,538.70 158.20,537.85 158.90,536.44 159.60,536.06 160.30,537.35 161.00,537.22 161.70,536.60 162.40,534.69 163.10,536.10 163.80,535.02 164.50,534.80 165.20,534.28 165.90,532.77 166.60,533.45 167.30,532.23 168.00,530.52 168.70,529.83 169.40,530.23 170.10,528.26 170.80,528.61 171.50,527.19 172.20,528.86 172.90,527.60 173.60,525.82 174.30,523.26 175.00,523.99 175.70,524.10 176.40,524.83 177.10,524.15 177.80,523.83 178.50,518.90 179.20,518.60 179.90,517.79 180.60,519.35 181.30,518.16 182.00,520.90 182.70,520.22 183.40,522.56 184.10,521.39 184.80,522.61 185.50,523.84 186.20,520.20 186.90,525.36 187.60,522.81 188.30,524.43 189.00,528.13 189.70,527.20 190.40,525.71 191.10,526.02 191.80,528.03 192.50,527.60 193.20,528.27 193.90,530.26 194.60,529.86 195.30,530.21 196.00,530.76 196.70,530.59 197.40,531.13 198.10,530.98 198.80,531.85 199.50,531.70 200.20,532.33 200.90,532.03 201.60,532.10 202.30,532.68 203.00,532.94 203.70,533.16 204.40,533.75 205.10,533.84 205.80,533.88 206.50,533.99 207.20,534.32 207.90,534.35 208.60,534.61 209.30,534.60 210.00,534.69 210.70,535.14 211.40,535.08 212.10,535.15 212.80,535.56 213.50,535.41 214.20,536.02 214.90,535.70 215.60,536.29 216.30,536.29 217.00,536.14 217.70,536.82 218.40,536.63 219.10,536.66 219.80,536.81 220.50,537.17 221.20,537.55 221.90,537.73 222.60,537.76 223.30,537.98 224.00,538.08 224.70,538.01 225.40,538.15 226.10,538.35 226.80,538.44 227.50,538.61 228.20,538.67 228.90,538.91 229.60,539.00 230.30,539.13 231.00,539.32 231.70,539.43 232.40,539.48 233.10,539.55 233.80,539.60 234.50,539.72 235.20,539.76 235.90,539.92 236.60,540.08 237.30,540.12 238.00,540.22 238.70,540.37 239.40,540.49 240.10,540.56 240.80,540.64 241.50,540.81 242.20,540.81 242.90,540.89 243.60,540.89 244.30,540.94 245.00,540.96 245.70,540.98 246.40,541.01 247.10,541.13 247.80,541.21 248.50,541.17 249.20,541.25 249.90,541.33 250.60,541.43 251.30,541.49 252.00,541.46 252.70,541.55 253.40,541.57 254.10,541.63 254.80,541.67 255.50,541.71 256.20,541.79 256.90,541.80" fill="none" stroke="#30e030" stroke-width="0.7" stroke-linejoin="round" />
<line x1="152.5" y1="455.8" x2="152.5" y2="473.6" stroke="#111" stroke-width="1.0" />
<line x1="152.5" y1="473.6" x2="152.5" y2="490.3" stroke="#d02020" stroke-width="1.0" />
<line x1="152.5" y1="490.3" x2="152.5" y2="507.8" stroke="#2020d0" stroke-width="1.0" />
<line x1="152.5" y1="507.8" x2="152.5" y2="525.3" stroke="#30a040" stroke-width="1.0" />
<line x1="152.5" y1="525.3" x2="152.5" y2="558" stroke="#888" stroke-width="0.8" />
<line x1="190.5" y1="459.8" x2="190.5" y2="558.6" stroke="#666" stroke-width="0.75" stroke-dasharray="2.8 1.5"/>
<line x1="195.5" y1="554.6" x2="254.10000000000002" y2="554.6" stroke="#000" stroke-width="1.2" />
<polygon points="192.70,554.6 196.70,552.7 196.70,556.5" fill="#000"/>
<polygon points="257.30,554.6 253.30,552.7 253.30,556.5" fill="#000"/>
<text x="254.60000000000002" y="462.8" text-anchor="end" fill="#000" style='font-family:"Liberation Serif",serif;font-size:5.9px;font-weight:bold;' >Day 3</text>
<text x="256.80" y="478.0" text-anchor="end" style='font-family:"Liberation Serif",serif;font-size:5.8px;font-weight:bold;'>FITC<tspan font-size="3.6px" dy="-2.0">+</tspan><tspan dy="2.0"> (%)</tspan></text>
<text x="255.20000000000002" y="487.8" text-anchor="end" fill="#000" style='font-family:"Liberation Serif",serif;font-size:5.9px;font-weight:bold;' >29.3</text>
<text x="255.20000000000002" y="504.8" text-anchor="end" fill="#000" style='font-family:"Liberation Serif",serif;font-size:5.9px;font-weight:bold;' >29.5</text>
<text x="255.20000000000002" y="522.3" text-anchor="end" fill="#000" style='font-family:"Liberation Serif",serif;font-size:5.9px;font-weight:bold;' >19.4</text>
<text x="255.20000000000002" y="540.7" text-anchor="end" fill="#000" style='font-family:"Liberation Serif",serif;font-size:5.9px;font-weight:bold;' >17.4</text>
<line x1="152.4" y1="560.7" x2="152.4" y2="563.3000000000001" stroke="#222" stroke-width="0.55" />
<line x1="162.99625584737214" y1="560.7" x2="162.99625584737214" y2="562.1" stroke="#222" stroke-width="0.55" />
<line x1="169.19466816613212" y1="560.7" x2="169.19466816613212" y2="562.1" stroke="#222" stroke-width="0.55" />
<line x1="173.59251169474427" y1="560.7" x2="173.59251169474427" y2="562.1" stroke="#222" stroke-width="0.55" />
<line x1="177.00374415262786" y1="560.7" x2="177.00374415262786" y2="562.1" stroke="#222" stroke-width="0.55" />
<line x1="179.79092401350425" y1="560.7" x2="179.79092401350425" y2="562.1" stroke="#222" stroke-width="0.55" />
<line x1="182.14745100850183" y1="560.7" x2="182.14745100850183" y2="562.1" stroke="#222" stroke-width="0.55" />
<line x1="184.1887675421164" y1="560.7" x2="184.1887675421164" y2="562.1" stroke="#222" stroke-width="0.55" />
<line x1="185.98933633226423" y1="560.7" x2="185.98933633226423" y2="562.1" stroke="#222" stroke-width="0.55" />
<line x1="187.6" y1="560.7" x2="187.6" y2="563.3000000000001" stroke="#222" stroke-width="0.55" />
<line x1="198.22635884693852" y1="560.7" x2="198.22635884693852" y2="562.1" stroke="#222" stroke-width="0.55" />
<line x1="204.44238029160408" y1="560.7" x2="204.44238029160408" y2="562.1" stroke="#222" stroke-width="0.55" />
<line x1="208.85271769387708" y1="560.7" x2="208.85271769387708" y2="562.1" stroke="#222" stroke-width="0.55" />
<line x1="212.27364115306148" y1="560.7" x2="212.27364115306148" y2="562.1" stroke="#222" stroke-width="0.55" />
<line x1="215.0687391385426" y1="560.7" x2="215.0687391385426" y2="562.1" stroke="#222" stroke-width="0.55" />
<line x1="217.43196081250326" y1="560.7" x2="217.43196081250326" y2="562.1" stroke="#222" stroke-width="0.55" />
<line x1="219.4790765408156" y1="560.7" x2="219.4790765408156" y2="562.1" stroke="#222" stroke-width="0.55" />
<line x1="221.28476058320817" y1="560.7" x2="221.28476058320817" y2="562.1" stroke="#222" stroke-width="0.55" />
<line x1="222.9" y1="560.7" x2="222.9" y2="563.3000000000001" stroke="#222" stroke-width="0.55" />
<line x1="233.22532885127455" y1="560.7" x2="233.22532885127455" y2="562.1" stroke="#222" stroke-width="0.55" />
<line x1="239.26525903688443" y1="560.7" x2="239.26525903688443" y2="562.1" stroke="#222" stroke-width="0.55" />
<line x1="243.5506577025491" y1="560.7" x2="243.5506577025491" y2="562.1" stroke="#222" stroke-width="0.55" />
<line x1="246.87467114872544" y1="560.7" x2="246.87467114872544" y2="562.1" stroke="#222" stroke-width="0.55" />
<line x1="249.59058788815898" y1="560.7" x2="249.59058788815898" y2="562.1" stroke="#222" stroke-width="0.55" />
<line x1="251.886862772489" y1="560.7" x2="251.886862772489" y2="562.1" stroke="#222" stroke-width="0.55" />
<line x1="253.87598655382365" y1="560.7" x2="253.87598655382365" y2="562.1" stroke="#222" stroke-width="0.55" />
<line x1="255.63051807376883" y1="560.7" x2="255.63051807376883" y2="562.1" stroke="#222" stroke-width="0.55" />
<line x1="257.2" y1="560.7" x2="257.2" y2="563.3000000000001" stroke="#222" stroke-width="0.55" />
<line x1="151.6" y1="560.7" x2="258.0" y2="560.7" stroke="#333" stroke-width="0.9" />
<text x="157.00" y="571.8" text-anchor="middle" fill="#1a1a1a" style='font-family:"Liberation Sans",sans-serif;font-size:5.6px;'>10<tspan font-size="4.2px" dy="-2.6">1</tspan></text>
<text x="186.20" y="571.8" text-anchor="middle" fill="#1a1a1a" style='font-family:"Liberation Sans",sans-serif;font-size:5.6px;'>10<tspan font-size="4.2px" dy="-2.6">2</tspan></text>
<text x="220.00" y="571.8" text-anchor="middle" fill="#1a1a1a" style='font-family:"Liberation Sans",sans-serif;font-size:5.6px;'>10<tspan font-size="4.2px" dy="-2.6">3</tspan></text>
<text x="249.40" y="571.8" text-anchor="middle" fill="#1a1a1a" style='font-family:"Liberation Sans",sans-serif;font-size:5.6px;'>10<tspan font-size="4.2px" dy="-2.6">4</tspan></text>
<text x="204.7" y="582.6" text-anchor="middle" fill="#000" style='font-family:"Liberation Serif",serif;font-size:5.9px;font-weight:bold;' >FITC</text>
<rect x="270.6" y="455.3" width="105.6" height="105.40000000000003" fill="#fff" stroke="#555" stroke-width="0.8" />
<path d="M271.20 558.80 L271.20 556.36 L272.00 554.82 L272.80 554.40 L273.60 554.62 L274.40 554.17 L275.20 553.01 L276.00 552.45 L276.80 551.46 L277.60 550.50 L278.40 547.85 L279.20 548.24 L280.00 547.34 L280.80 547.12 L281.60 543.94 L282.40 543.27 L283.20 545.37 L284.00 542.37 L284.80 543.43 L285.60 544.06 L286.40 541.93 L287.20 541.67 L288.00 538.61 L288.80 536.50 L289.60 537.94 L290.40 536.92 L291.20 534.92 L292.00 535.89 L292.80 535.16 L293.60 537.11 L294.40 538.40 L295.20 535.18 L296.00 539.14 L296.80 539.03 L297.60 541.26 L298.40 544.18 L299.20 544.58 L300.00 548.19 L300.80 547.58 L301.60 549.16 L302.40 551.38 L303.20 553.73 L304.00 554.09 L304.80 555.37 L305.60 557.58 L306.40 558.01 L307.20 558.63 L307.40 558.80 Z" fill="#e7eeee" stroke="none"/>
<path d="M271.20 558.80 L271.20 556.36 L272.00 554.82 L272.80 554.40 L273.60 554.62 L274.40 554.17 L275.20 553.01 L276.00 552.45 L276.80 551.46 L277.60 550.50 L278.40 547.85 L279.20 548.24 L280.00 547.34 L280.80 547.12 L281.60 543.94 L282.40 543.27 L283.20 545.37 L284.00 542.37 L284.80 543.43 L285.60 544.06 L286.40 541.93 L287.20 541.67 L288.00 538.61 L288.80 536.50 L289.60 537.94 L290.40 536.92 L291.20 534.92 L292.00 535.89 L292.80 535.16 L293.60 537.11 L294.40 538.40 L295.20 535.18 L296.00 539.14 L296.80 539.03 L297.60 541.26 L298.40 544.18 L299.20 544.58 L300.00 548.19 L300.80 547.58 L301.60 549.16 L302.40 551.38 L303.20 553.73 L304.00 554.09 L304.80 555.37 L305.60 557.58 L306.40 558.01 L307.20 558.63 L307.40 558.80" fill="none" stroke="#808080" stroke-width="0.55"/>
<line x1="307.40000000000003" y1="558.8" x2="376.20000000000005" y2="558.8" stroke="#d0d4d4" stroke-width="0.8" />
<polyline points="271.20,487.10 271.90,486.60 272.60,485.32 273.30,486.04 274.00,484.25 274.70,485.26 275.40,485.57 276.10,484.29 276.80,484.51 277.50,484.48 278.20,483.45 278.90,482.65 279.60,483.11 280.30,481.05 281.00,482.15 281.70,480.51 282.40,481.03 283.10,481.33 283.80,479.85 284.50,478.72 285.20,478.98 285.90,477.84 286.60,479.00 287.30,478.21 288.00,477.55 288.70,475.43 289.40,473.36 290.10,474.99 290.80,472.39 291.50,474.86 292.20,473.51 292.90,470.44 293.60,469.07 294.30,468.40 295.00,471.53 295.70,468.86 296.40,469.94 297.10,466.29 297.80,466.60 298.50,465.37 299.20,464.50 299.90,463.91 300.60,467.88 301.30,465.77 302.00,470.51 302.70,467.83 303.40,472.83 304.10,470.99 304.80,471.63 305.50,474.57 306.20,476.45 306.90,475.27 307.60,476.29 308.30,477.83 309.00,480.11 309.70,480.18 310.40,482.00 311.10,480.74 311.80,481.79 312.50,481.20 313.20,482.52 313.90,482.60 314.60,483.21 315.30,483.32 316.00,483.03 316.70,483.37 317.40,483.68 318.10,484.14 318.80,484.59 319.50,484.92 320.20,484.86 320.90,484.86 321.60,485.23 322.30,485.71 323.00,485.39 323.70,485.94 324.40,486.21 325.10,486.14 325.80,486.38 326.50,486.79 327.20,486.58 327.90,487.10 328.60,487.24 329.30,487.58 330.00,487.73 330.70,487.41 331.40,487.48 332.10,487.73 332.80,488.09 333.50,488.18 334.20,488.32 334.90,488.51 335.60,488.34 336.30,488.60 337.00,488.88 337.70,488.89 338.40,488.90 339.10,488.92 339.80,488.96 340.50,489.14 341.20,489.04 341.90,489.18 342.60,489.21 343.30,489.24 344.00,489.37 344.70,489.43 345.40,489.39 346.10,489.46 346.80,489.53 347.50,489.49 348.20,489.55 348.90,489.48 349.60,489.56 350.30,489.56 351.00,489.56 351.70,489.53 352.40,489.51 353.10,489.58 353.80,489.53 354.50,489.58 355.20,489.58 355.90,489.57 356.60,489.62 357.30,489.58 358.00,489.62 358.70,489.65 359.40,489.61 360.10,489.64 360.80,489.69 361.50,489.61 362.20,489.64 362.90,489.68 363.60,489.65 364.30,489.67 365.00,489.74 365.70,489.75 366.40,489.72 367.10,489.73 367.80,489.72 368.50,489.77 369.20,489.78 369.90,489.77 370.60,489.72 371.30,489.80 372.00,489.73 372.70,489.77 373.40,489.80 374.10,489.80 374.80,489.80 375.50,489.80" fill="none" stroke="#1a1a1a" stroke-width="0.7" stroke-linejoin="round" />
<polyline points="271.20,504.72 271.90,504.06 272.60,504.34 273.30,503.48 274.00,502.23 274.70,502.13 275.40,502.34 276.10,501.38 276.80,501.65 277.50,500.27 278.20,500.47 278.90,501.31 279.60,500.00 280.30,499.96 281.00,499.41 281.70,499.84 282.40,497.97 283.10,499.00 283.80,498.28 284.50,498.19 285.20,497.75 285.90,497.49 286.60,494.82 287.30,494.36 288.00,496.07 288.70,493.31 289.40,494.88 290.10,492.14 290.80,492.54 291.50,491.21 292.20,489.33 292.90,488.39 293.60,488.10 294.30,489.53 295.00,490.23 295.70,487.18 296.40,486.83 297.10,484.15 297.80,483.53 298.50,487.02 299.20,485.46 299.90,484.28 300.60,486.74 301.30,484.60 302.00,490.44 302.70,488.83 303.40,487.53 304.10,488.32 304.80,491.75 305.50,494.08 306.20,493.72 306.90,495.40 307.60,494.87 308.30,497.16 309.00,498.58 309.70,497.94 310.40,497.65 311.10,498.81 311.80,498.91 312.50,499.40 313.20,500.00 313.90,500.79 314.60,500.86 315.30,500.77 316.00,501.19 316.70,501.17 317.40,501.28 318.10,502.14 318.80,501.95 319.50,502.38 320.20,502.94 320.90,503.05 321.60,503.10 322.30,503.28 323.00,503.16 323.70,503.57 324.40,503.49 325.10,503.87 325.80,503.80 326.50,503.99 327.20,504.60 327.90,504.49 328.60,505.00 329.30,505.06 330.00,504.95 330.70,505.25 331.40,505.50 332.10,505.59 332.80,505.29 333.50,505.47 334.20,505.56 334.90,505.95 335.60,506.09 336.30,506.07 337.00,506.42 337.70,506.32 338.40,506.55 339.10,506.58 339.80,506.41 340.50,506.64 341.20,506.56 341.90,506.65 342.60,506.72 343.30,506.78 344.00,506.88 344.70,506.86 345.40,507.00 346.10,506.95 346.80,507.01 347.50,507.01 348.20,507.02 348.90,507.04 349.60,507.07 350.30,507.05 351.00,507.03 351.70,507.07 352.40,507.03 353.10,507.05 353.80,507.12 354.50,507.12 355.20,507.05 355.90,507.09 356.60,507.14 357.30,507.11 358.00,507.12 358.70,507.11 359.40,507.14 360.10,507.11 360.80,507.20 361.50,507.13 362.20,507.15 362.90,507.19 363.60,507.22 364.30,507.23 365.00,507.19 365.70,507.20 366.40,507.22 367.10,507.27 367.80,507.27 368.50,507.24 369.20,507.29 369.90,507.28 370.60,507.30 371.30,507.30 372.00,507.27 372.70,507.25 373.40,507.30 374.10,507.30 374.80,507.30 375.50,507.30" fill="none" stroke="#f03030" stroke-width="0.7" stroke-linejoin="round" />
<polyline points="271.20,520.61 271.90,520.58 272.60,520.67 273.30,520.71 274.00,519.43 274.70,518.60 275.40,519.47 276.10,518.19 276.80,519.63 277.50,518.06 278.20,518.47 278.90,517.40 279.60,516.86 280.30,515.91 281.00,516.39 281.70,514.91 282.40,515.98 283.10,516.12 283.80,514.66 284.50,513.54 285.20,513.16 285.90,514.88 286.60,513.46 287.30,512.72 288.00,511.15 288.70,508.90 289.40,510.86 290.10,511.44 290.80,507.09 291.50,506.37 292.20,505.93 292.90,508.69 293.60,506.88 294.30,506.78 295.00,502.48 295.70,506.25 296.40,505.66 297.10,504.50 297.80,500.52 298.50,503.51 299.20,498.49 299.90,503.15 300.60,501.96 301.30,505.41 302.00,505.58 302.70,503.05 303.40,503.33 304.10,508.35 304.80,509.16 305.50,511.68 306.20,512.08 306.90,511.96 307.60,512.33 308.30,513.25 309.00,514.99 309.70,516.17 310.40,515.20 311.10,516.15 311.80,516.55 312.50,515.25 313.20,516.92 313.90,517.78 314.60,517.42 315.30,517.70 316.00,518.28 316.70,518.04 317.40,518.88 318.10,518.58 318.80,519.35 319.50,519.19 320.20,519.58 320.90,519.67 321.60,520.28 322.30,520.24 323.00,520.19 323.70,520.78 324.40,520.90 325.10,520.89 325.80,521.31 326.50,521.56 327.20,521.79 327.90,521.83 328.60,521.88 329.30,522.13 330.00,522.21 330.70,522.56 331.40,522.60 332.10,522.49 332.80,522.78 333.50,522.97 334.20,523.08 334.90,522.98 335.60,523.00 336.30,523.31 337.00,523.61 337.70,523.64 338.40,523.54 339.10,523.54 339.80,523.78 340.50,523.74 341.20,523.83 341.90,523.84 342.60,523.89 343.30,523.98 344.00,524.01 344.70,524.12 345.40,524.13 346.10,524.19 346.80,524.20 347.50,524.25 348.20,524.22 348.90,524.21 349.60,524.25 350.30,524.23 351.00,524.28 351.70,524.25 352.40,524.21 353.10,524.24 353.80,524.26 354.50,524.24 355.20,524.26 355.90,524.29 356.60,524.31 357.30,524.27 358.00,524.31 358.70,524.32 359.40,524.34 360.10,524.37 360.80,524.38 361.50,524.35 362.20,524.36 362.90,524.35 363.60,524.39 364.30,524.40 365.00,524.40 365.70,524.43 366.40,524.38 367.10,524.41 367.80,524.45 368.50,524.44 369.20,524.42 369.90,524.42 370.60,524.44 371.30,524.44 372.00,524.45 372.70,524.49 373.40,524.49 374.10,524.49 374.80,524.50 375.50,524.49" fill="none" stroke="#3030f0" stroke-width="0.7" stroke-linejoin="round" />
<polyline points="271.20,539.12 271.90,537.56 272.60,537.65 273.30,538.03 274.00,536.57 274.70,536.73 275.40,535.97 276.10,536.08 276.80,535.41 277.50,534.84 278.20,535.48 278.90,535.79 279.60,533.49 280.30,535.26 281.00,533.68 281.70,531.96 282.40,533.30 283.10,533.10 283.80,532.32 284.50,532.61 285.20,530.44 285.90,531.38 286.60,531.51 287.30,528.85 288.00,529.42 288.70,529.14 289.40,529.37 290.10,525.49 290.80,526.85 291.50,525.09 292.20,524.80 292.90,522.05 293.60,525.35 294.30,521.87 295.00,520.45 295.70,522.89 296.40,521.46 297.10,521.34 297.80,520.80 298.50,516.57 299.20,520.60 299.90,518.14 300.60,522.95 301.30,519.65 302.00,524.21 302.70,520.97 303.40,525.55 304.10,525.94 304.80,527.01 305.50,528.17 306.20,527.20 306.90,528.93 307.60,531.48 308.30,531.99 309.00,532.17 309.70,531.87 310.40,532.34 311.10,533.16 311.80,532.63 312.50,532.71 313.20,534.01 313.90,534.40 314.60,534.82 315.30,535.06 316.00,535.42 316.70,535.61 317.40,535.91 318.10,536.29 318.80,536.27 319.50,536.84 320.20,536.79 320.90,537.32 321.60,537.78 322.30,537.47 323.00,537.79 323.70,538.19 324.40,537.90 325.10,538.10 325.80,538.26 326.50,538.68 327.20,539.04 327.90,539.22 328.60,539.25 329.30,539.36 330.00,539.55 330.70,539.79 331.40,539.90 332.10,539.64 332.80,539.75 333.50,539.90 334.20,540.21 334.90,540.52 335.60,540.60 336.30,540.60 337.00,540.60 337.70,540.76 338.40,541.05 339.10,540.80 339.80,540.94 340.50,541.06 341.20,541.07 341.90,541.16 342.60,541.21 343.30,541.33 344.00,541.38 344.70,541.36 345.40,541.46 346.10,541.46 346.80,541.52 347.50,541.52 348.20,541.56 348.90,541.49 349.60,541.55 350.30,541.51 351.00,541.57 351.70,541.57 352.40,541.59 353.10,541.54 353.80,541.53 354.50,541.56 355.20,541.57 355.90,541.61 356.60,541.56 357.30,541.64 358.00,541.64 358.70,541.62 359.40,541.62 360.10,541.66 360.80,541.64 361.50,541.70 362.20,541.71 362.90,541.68 363.60,541.68 364.30,541.66 365.00,541.71 365.70,541.67 366.40,541.69 367.10,541.68 367.80,541.72 368.50,541.75 369.20,541.74 369.90,541.74 370.60,541.79 371.30,541.80 372.00,541.79 372.70,541.78 373.40,541.80 374.10,541.80 374.80,541.80 375.50,541.76" fill="none" stroke="#30e030" stroke-width="0.7" stroke-linejoin="round" />
<line x1="271.1" y1="455.8" x2="271.1" y2="473.6" stroke="#111" stroke-width="1.0" />
<line x1="271.1" y1="473.6" x2="271.1" y2="490.3" stroke="#d02020" stroke-width="1.0" />
<line x1="271.1" y1="490.3" x2="271.1" y2="507.8" stroke="#2020d0" stroke-width="1.0" />
<line x1="271.1" y1="507.8" x2="271.1" y2="525.3" stroke="#30a040" stroke-width="1.0" />
<line x1="271.1" y1="525.3" x2="271.1" y2="558" stroke="#888" stroke-width="0.8" />
<line x1="309.5" y1="459.8" x2="309.5" y2="558.6" stroke="#666" stroke-width="0.75" stroke-dasharray="2.8 1.5"/>
<line x1="314.5" y1="554.6" x2="372.70000000000005" y2="554.6" stroke="#000" stroke-width="1.2" />
<polygon points="311.70,554.6 315.70,552.7 315.70,556.5" fill="#000"/>
<polygon points="375.90,554.6 371.90,552.7 371.90,556.5" fill="#000"/>
<text x="373.20000000000005" y="462.8" text-anchor="end" fill="#000" style='font-family:"Liberation Serif",serif;font-size:5.9px;font-weight:bold;' >Day 5</text>
<text x="375.40" y="478.0" text-anchor="end" style='font-family:"Liberation Serif",serif;font-size:5.8px;font-weight:bold;'>FITC<tspan font-size="3.6px" dy="-2.0">+</tspan><tspan dy="2.0"> (%)</tspan></text>
<text x="373.80000000000007" y="487.8" text-anchor="end" fill="#000" style='font-family:"Liberation Serif",serif;font-size:5.9px;font-weight:bold;' >11.7</text>
<text x="373.80000000000007" y="504.8" text-anchor="end" fill="#000" style='font-family:"Liberation Serif",serif;font-size:5.9px;font-weight:bold;' >11.5</text>
<text x="373.80000000000007" y="522.3" text-anchor="end" fill="#000" style='font-family:"Liberation Serif",serif;font-size:5.9px;font-weight:bold;' >10.2</text>
<text x="373.80000000000007" y="540.7" text-anchor="end" fill="#000" style='font-family:"Liberation Serif",serif;font-size:5.9px;font-weight:bold;' >8.84</text>
<line x1="271.0" y1="560.7" x2="271.0" y2="563.3000000000001" stroke="#222" stroke-width="0.55" />
<line x1="281.59625584737216" y1="560.7" x2="281.59625584737216" y2="562.1" stroke="#222" stroke-width="0.55" />
<line x1="287.79466816613217" y1="560.7" x2="287.79466816613217" y2="562.1" stroke="#222" stroke-width="0.55" />
<line x1="292.1925116947443" y1="560.7" x2="292.1925116947443" y2="562.1" stroke="#222" stroke-width="0.55" />
<line x1="295.6037441526279" y1="560.7" x2="295.6037441526279" y2="562.1" stroke="#222" stroke-width="0.55" />
<line x1="298.3909240135043" y1="560.7" x2="298.3909240135043" y2="562.1" stroke="#222" stroke-width="0.55" />
<line x1="300.74745100850186" y1="560.7" x2="300.74745100850186" y2="562.1" stroke="#222" stroke-width="0.55" />
<line x1="302.78876754211643" y1="560.7" x2="302.78876754211643" y2="562.1" stroke="#222" stroke-width="0.55" />
<line x1="304.5893363322643" y1="560.7" x2="304.5893363322643" y2="562.1" stroke="#222" stroke-width="0.55" />
<line x1="306.20000000000005" y1="560.7" x2="306.20000000000005" y2="563.3000000000001" stroke="#222" stroke-width="0.55" />
<line x1="316.82635884693855" y1="560.7" x2="316.82635884693855" y2="562.1" stroke="#222" stroke-width="0.55" />
<line x1="323.0423802916041" y1="560.7" x2="323.0423802916041" y2="562.1" stroke="#222" stroke-width="0.55" />
<line x1="327.4527176938771" y1="560.7" x2="327.4527176938771" y2="562.1" stroke="#222" stroke-width="0.55" />
<line x1="330.8736411530615" y1="560.7" x2="330.8736411530615" y2="562.1" stroke="#222" stroke-width="0.55" />
<line x1="333.6687391385426" y1="560.7" x2="333.6687391385426" y2="562.1" stroke="#222" stroke-width="0.55" />
<line x1="336.03196081250326" y1="560.7" x2="336.03196081250326" y2="562.1" stroke="#222" stroke-width="0.55" />
<line x1="338.0790765408156" y1="560.7" x2="338.0790765408156" y2="562.1" stroke="#222" stroke-width="0.55" />
<line x1="339.88476058320816" y1="560.7" x2="339.88476058320816" y2="562.1" stroke="#222" stroke-width="0.55" />
<line x1="341.5" y1="560.7" x2="341.5" y2="563.3000000000001" stroke="#222" stroke-width="0.55" />
<line x1="351.82532885127455" y1="560.7" x2="351.82532885127455" y2="562.1" stroke="#222" stroke-width="0.55" />
<line x1="357.8652590368844" y1="560.7" x2="357.8652590368844" y2="562.1" stroke="#222" stroke-width="0.55" />
<line x1="362.1506577025491" y1="560.7" x2="362.1506577025491" y2="562.1" stroke="#222" stroke-width="0.55" />
<line x1="365.47467114872546" y1="560.7" x2="365.47467114872546" y2="562.1" stroke="#222" stroke-width="0.55" />
<line x1="368.190587888159" y1="560.7" x2="368.190587888159" y2="562.1" stroke="#222" stroke-width="0.55" />
<line x1="370.486862772489" y1="560.7" x2="370.486862772489" y2="562.1" stroke="#222" stroke-width="0.55" />
<line x1="372.47598655382365" y1="560.7" x2="372.47598655382365" y2="562.1" stroke="#222" stroke-width="0.55" />
<line x1="374.23051807376885" y1="560.7" x2="374.23051807376885" y2="562.1" stroke="#222" stroke-width="0.55" />
<line x1="375.8" y1="560.7" x2="375.8" y2="563.3000000000001" stroke="#222" stroke-width="0.55" />
<line x1="270.20000000000005" y1="560.7" x2="376.6" y2="560.7" stroke="#333" stroke-width="0.9" />
<text x="275.60" y="571.8" text-anchor="middle" fill="#1a1a1a" style='font-family:"Liberation Sans",sans-serif;font-size:5.6px;'>10<tspan font-size="4.2px" dy="-2.6">1</tspan></text>
<text x="304.80" y="571.8" text-anchor="middle" fill="#1a1a1a" style='font-family:"Liberation Sans",sans-serif;font-size:5.6px;'>10<tspan font-size="4.2px" dy="-2.6">2</tspan></text>
<text x="338.60" y="571.8" text-anchor="middle" fill="#1a1a1a" style='font-family:"Liberation Sans",sans-serif;font-size:5.6px;'>10<tspan font-size="4.2px" dy="-2.6">3</tspan></text>
<text x="368.00" y="571.8" text-anchor="middle" fill="#1a1a1a" style='font-family:"Liberation Sans",sans-serif;font-size:5.6px;'>10<tspan font-size="4.2px" dy="-2.6">4</tspan></text>
<text x="323.3" y="582.6" text-anchor="middle" fill="#000" style='font-family:"Liberation Serif",serif;font-size:5.9px;font-weight:bold;' >FITC</text>
<rect x="389.9" y="455.3" width="105.6" height="105.40000000000003" fill="#fff" stroke="#555" stroke-width="0.8" />
<path d="M390.50 558.80 L390.50 555.65 L391.30 555.02 L392.10 554.68 L392.90 553.48 L393.70 552.94 L394.50 551.42 L395.30 551.09 L396.10 551.94 L396.90 550.03 L397.70 548.53 L398.50 546.71 L399.30 547.53 L400.10 547.37 L400.90 544.42 L401.70 545.22 L402.50 544.51 L403.30 542.10 L404.10 541.44 L404.90 542.87 L405.70 541.70 L406.50 540.52 L407.30 538.11 L408.10 538.55 L408.90 536.42 L409.70 536.47 L410.50 537.02 L411.30 537.07 L412.10 533.40 L412.90 537.31 L413.70 535.36 L414.50 538.08 L415.30 538.03 L416.10 539.39 L416.90 540.48 L417.70 544.84 L418.50 546.66 L419.30 546.71 L420.10 547.12 L420.90 551.25 L421.70 551.69 L422.50 552.87 L423.30 554.66 L424.10 556.15 L424.90 557.85 L425.70 558.06 L426.50 558.46 L426.70 558.80 Z" fill="#e7eeee" stroke="none"/>
<path d="M390.50 558.80 L390.50 555.65 L391.30 555.02 L392.10 554.68 L392.90 553.48 L393.70 552.94 L394.50 551.42 L395.30 551.09 L396.10 551.94 L396.90 550.03 L397.70 548.53 L398.50 546.71 L399.30 547.53 L400.10 547.37 L400.90 544.42 L401.70 545.22 L402.50 544.51 L403.30 542.10 L404.10 541.44 L404.90 542.87 L405.70 541.70 L406.50 540.52 L407.30 538.11 L408.10 538.55 L408.90 536.42 L409.70 536.47 L410.50 537.02 L411.30 537.07 L412.10 533.40 L412.90 537.31 L413.70 535.36 L414.50 538.08 L415.30 538.03 L416.10 539.39 L416.90 540.48 L417.70 544.84 L418.50 546.66 L419.30 546.71 L420.10 547.12 L420.90 551.25 L421.70 551.69 L422.50 552.87 L423.30 554.66 L424.10 556.15 L424.90 557.85 L425.70 558.06 L426.50 558.46 L426.70 558.80" fill="none" stroke="#808080" stroke-width="0.55"/>
<line x1="426.7" y1="558.8" x2="495.5" y2="558.8" stroke="#d0d4d4" stroke-width="0.8" />
<polyline points="390.50,486.13 391.20,486.41 391.90,486.80 392.60,485.89 393.30,484.70 394.00,485.33 394.70,484.76 395.40,485.31 396.10,484.34 396.80,484.07 397.50,484.24 398.20,483.66 398.90,483.83 399.60,481.55 400.30,482.09 401.00,481.56 401.70,480.28 402.40,480.00 403.10,480.78 403.80,478.60 404.50,479.25 405.20,477.28 405.90,478.91 406.60,477.89 407.30,478.26 408.00,474.66 408.70,474.88 409.40,473.66 410.10,474.88 410.80,471.62 411.50,471.48 412.20,470.26 412.90,473.44 413.60,468.78 414.30,467.71 415.00,468.45 415.70,469.48 416.40,467.92 417.10,469.36 417.80,469.36 418.50,465.01 419.20,467.02 419.90,466.40 420.60,470.72 421.30,470.41 422.00,468.69 422.70,473.04 423.40,472.27 424.10,473.88 424.80,476.03 425.50,474.89 426.20,476.00 426.90,478.16 427.60,478.09 428.30,477.96 429.00,481.36 429.70,479.29 430.40,482.20 431.10,482.51 431.80,483.75 432.50,483.90 433.20,483.84 433.90,484.42 434.60,484.45 435.30,484.66 436.00,485.18 436.70,485.98 437.40,486.36 438.10,486.34 438.80,486.77 439.50,486.66 440.20,487.14 440.90,487.24 441.60,487.54 442.30,487.91 443.00,487.96 443.70,488.15 444.40,488.37 445.10,488.22 445.80,488.40 446.50,488.68 447.20,488.85 447.90,488.92 448.60,489.01 449.30,489.13 450.00,489.25 450.70,489.09 451.40,489.33 452.10,489.35 452.80,489.36 453.50,489.38 454.20,489.45 454.90,489.43 455.60,489.46 456.30,489.59 457.00,489.57 457.70,489.72 458.40,489.74 459.10,489.73 459.80,489.75 460.50,489.72 461.20,489.70 461.90,489.69 462.60,489.70 463.30,489.74 464.00,489.75 464.70,489.74 465.40,489.74 466.10,489.69 466.80,489.69 467.50,489.75 468.20,489.69 468.90,489.69 469.60,489.71 470.30,489.72 471.00,489.74 471.70,489.72 472.40,489.75 473.10,489.75 473.80,489.72 474.50,489.76 475.20,489.70 475.90,489.76 476.60,489.78 477.30,489.74 478.00,489.77 478.70,489.76 479.40,489.75 480.10,489.79 480.80,489.79 481.50,489.75 482.20,489.73 482.90,489.80 483.60,489.80 484.30,489.80 485.00,489.80 485.70,489.80 486.40,489.77 487.10,489.78 487.80,489.80 488.50,489.80 489.20,489.80 489.90,489.80 490.60,489.77 491.30,489.80 492.00,489.80 492.70,489.80 493.40,489.80 494.10,489.80 494.80,489.80" fill="none" stroke="#1a1a1a" stroke-width="0.7" stroke-linejoin="round" />
<polyline points="390.50,503.98 391.20,503.08 391.90,503.38 392.60,503.17 393.30,503.37 394.00,502.33 394.70,502.93 395.40,501.07 396.10,502.25 396.80,500.19 397.50,501.84 398.20,500.67 398.90,500.17 399.60,498.84 400.30,498.67 401.00,499.63 401.70,498.19 402.40,496.99 403.10,498.66 403.80,496.32 404.50,495.92 405.20,494.75 405.90,496.61 406.60,493.93 407.30,494.23 408.00,491.55 408.70,491.77 409.40,494.54 410.10,489.89 410.80,489.56 411.50,491.21 412.20,487.02 412.90,490.29 413.60,485.66 414.30,487.12 415.00,489.79 415.70,484.95 416.40,487.13 417.10,488.01 417.80,487.05 418.50,487.30 419.20,485.62 419.90,487.24 420.60,484.47 421.30,488.05 422.00,489.95 422.70,491.24 423.40,488.88 424.10,492.96 424.80,490.46 425.50,492.40 426.20,493.85 426.90,495.04 427.60,497.23 428.30,495.71 429.00,498.17 429.70,499.34 430.40,498.83 431.10,498.86 431.80,499.36 432.50,501.16 433.20,501.57 433.90,501.69 434.60,502.27 435.30,502.37 436.00,503.03 436.70,503.41 437.40,503.54 438.10,503.80 438.80,504.21 439.50,504.51 440.20,504.35 440.90,504.73 441.60,504.98 442.30,505.27 443.00,505.32 443.70,505.73 444.40,505.95 445.10,505.97 445.80,506.05 446.50,506.19 447.20,506.30 447.90,506.20 448.60,506.47 449.30,506.36 450.00,506.54 450.70,506.57 451.40,506.70 452.10,506.95 452.80,506.73 453.50,507.02 454.20,506.93 454.90,506.83 455.60,506.97 456.30,506.89 457.00,507.06 457.70,507.02 458.40,507.18 459.10,507.22 459.80,507.16 460.50,507.20 461.20,507.22 461.90,507.18 462.60,507.21 463.30,507.17 464.00,507.21 464.70,507.22 465.40,507.17 466.10,507.21 466.80,507.23 467.50,507.21 468.20,507.22 468.90,507.26 469.60,507.25 470.30,507.24 471.00,507.22 471.70,507.23 472.40,507.24 473.10,507.25 473.80,507.21 474.50,507.25 475.20,507.27 475.90,507.27 476.60,507.22 477.30,507.27 478.00,507.27 478.70,507.29 479.40,507.30 480.10,507.22 480.80,507.30 481.50,507.29 482.20,507.29 482.90,507.29 483.60,507.24 484.30,507.30 485.00,507.24 485.70,507.28 486.40,507.28 487.10,507.28 487.80,507.25 488.50,507.30 489.20,507.29 489.90,507.30 490.60,507.27 491.30,507.30 492.00,507.26 492.70,507.29 493.40,507.25 494.10,507.26 494.80,507.29" fill="none" stroke="#f03030" stroke-width="0.7" stroke-linejoin="round" />
<polyline points="390.50,520.06 391.20,520.64 391.90,520.35 392.60,520.21 393.30,520.53 394.00,520.68 394.70,519.69 395.40,519.12 396.10,518.09 396.80,518.66 397.50,516.72 398.20,518.51 398.90,516.88 399.60,518.24 400.30,517.33 401.00,517.12 401.70,514.09 402.40,514.44 403.10,514.38 403.80,513.05 404.50,512.32 405.20,513.64 405.90,511.14 406.60,512.45 407.30,510.05 408.00,508.82 408.70,510.19 409.40,508.56 410.10,507.54 410.80,509.68 411.50,505.58 412.20,507.52 412.90,506.30 413.60,505.99 414.30,505.42 415.00,501.34 415.70,503.63 416.40,500.59 417.10,504.24 417.80,503.13 418.50,504.35 419.20,502.04 419.90,499.97 420.60,503.25 421.30,502.82 422.00,506.31 422.70,507.65 423.40,507.92 424.10,505.78 424.80,508.31 425.50,508.42 426.20,509.82 426.90,513.03 427.60,514.42 428.30,513.54 429.00,515.63 429.70,515.25 430.40,515.89 431.10,517.47 431.80,516.33 432.50,518.41 433.20,518.11 433.90,519.01 434.60,518.75 435.30,519.54 436.00,520.14 436.70,520.30 437.40,520.67 438.10,521.18 438.80,521.40 439.50,521.43 440.20,521.80 440.90,521.99 441.60,522.04 442.30,522.39 443.00,522.46 443.70,522.83 444.40,522.88 445.10,523.05 445.80,523.24 446.50,523.28 447.20,523.31 447.90,523.45 448.60,523.48 449.30,523.61 450.00,523.71 450.70,523.96 451.40,523.82 452.10,523.85 452.80,524.06 453.50,523.92 454.20,524.09 454.90,524.20 455.60,524.31 456.30,524.16 457.00,524.20 457.70,524.25 458.40,524.36 459.10,524.50 459.80,524.50 460.50,524.39 461.20,524.38 461.90,524.36 462.60,524.37 463.30,524.40 464.00,524.36 464.70,524.45 465.40,524.37 466.10,524.41 466.80,524.42 467.50,524.40 468.20,524.43 468.90,524.42 469.60,524.39 470.30,524.41 471.00,524.39 471.70,524.43 472.40,524.46 473.10,524.43 473.80,524.41 474.50,524.45 475.20,524.43 475.90,524.43 476.60,524.46 477.30,524.49 478.00,524.43 478.70,524.47 479.40,524.41 480.10,524.50 480.80,524.44 481.50,524.46 482.20,524.43 482.90,524.44 483.60,524.44 484.30,524.45 485.00,524.46 485.70,524.46 486.40,524.46 487.10,524.48 487.80,524.50 488.50,524.50 489.20,524.50 489.90,524.49 490.60,524.46 491.30,524.50 492.00,524.46 492.70,524.47 493.40,524.50 494.10,524.48 494.80,524.46" fill="none" stroke="#3030f0" stroke-width="0.7" stroke-linejoin="round" />
<polyline points="390.50,539.29 391.20,537.48 391.90,538.62 392.60,536.87 393.30,536.70 394.00,537.88 394.70,537.14 395.40,537.05 396.10,536.66 396.80,535.41 397.50,534.92 398.20,535.96 398.90,535.04 399.60,534.41 400.30,534.23 401.00,535.04 401.70,533.82 402.40,533.06 403.10,531.35 403.80,531.34 404.50,531.41 405.20,532.11 405.90,529.18 406.60,530.93 407.30,529.84 408.00,529.93 408.70,527.76 409.40,526.51 410.10,526.26 410.80,524.92 411.50,524.60 412.20,523.99 412.90,525.22 413.60,521.13 414.30,520.61 415.00,521.50 415.70,519.56 416.40,519.57 417.10,519.03 417.80,519.23 418.50,518.69 419.20,519.87 419.90,523.62 420.60,520.52 421.30,523.68 422.00,522.62 422.70,522.19 423.40,525.28 424.10,527.48 424.80,527.44 425.50,527.14 426.20,528.00 426.90,528.67 427.60,530.19 428.30,531.08 429.00,532.61 429.70,534.14 430.40,532.78 431.10,535.88 431.80,534.28 432.50,535.79 433.20,536.36 433.90,536.66 434.60,536.65 435.30,537.43 436.00,537.62 436.70,538.21 437.40,538.56 438.10,538.82 438.80,538.85 439.50,539.28 440.20,539.04 440.90,539.34 441.60,539.72 442.30,539.74 443.00,540.23 443.70,540.34 444.40,540.39 445.10,540.35 445.80,540.48 446.50,540.80 447.20,540.55 447.90,540.95 448.60,541.04 449.30,541.01 450.00,541.28 450.70,541.25 451.40,541.38 452.10,541.35 452.80,541.40 453.50,541.41 454.20,541.47 454.90,541.46 455.60,541.45 456.30,541.56 457.00,541.57 457.70,541.68 458.40,541.68 459.10,541.80 459.80,541.72 460.50,541.71 461.20,541.74 461.90,541.72 462.60,541.70 463.30,541.71 464.00,541.70 464.70,541.74 465.40,541.69 466.10,541.75 466.80,541.68 467.50,541.74 468.20,541.74 468.90,541.74 469.60,541.69 470.30,541.71 471.00,541.69 471.70,541.69 472.40,541.74 473.10,541.71 473.80,541.78 474.50,541.71 475.20,541.77 475.90,541.76 476.60,541.73 477.30,541.75 478.00,541.75 478.70,541.77 479.40,541.77 480.10,541.72 480.80,541.80 481.50,541.80 482.20,541.76 482.90,541.80 483.60,541.80 484.30,541.80 485.00,541.80 485.70,541.79 486.40,541.74 487.10,541.75 487.80,541.80 488.50,541.74 489.20,541.75 489.90,541.76 490.60,541.80 491.30,541.80 492.00,541.80 492.70,541.78 493.40,541.78 494.10,541.80 494.80,541.76" fill="none" stroke="#30e030" stroke-width="0.7" stroke-linejoin="round" />
<line x1="390.4" y1="455.8" x2="390.4" y2="473.6" stroke="#111" stroke-width="1.0" />
<line x1="390.4" y1="473.6" x2="390.4" y2="490.3" stroke="#d02020" stroke-width="1.0" />
<line x1="390.4" y1="490.3" x2="390.4" y2="507.8" stroke="#2020d0" stroke-width="1.0" />
<line x1="390.4" y1="507.8" x2="390.4" y2="525.3" stroke="#30a040" stroke-width="1.0" />
<line x1="390.4" y1="525.3" x2="390.4" y2="558" stroke="#888" stroke-width="0.8" />
<line x1="427.59999999999997" y1="459.8" x2="427.59999999999997" y2="558.6" stroke="#666" stroke-width="0.75" stroke-dasharray="2.8 1.5"/>
<line x1="432.59999999999997" y1="554.6" x2="492.0" y2="554.6" stroke="#000" stroke-width="1.2" />
<polygon points="429.80,554.6 433.80,552.7 433.80,556.5" fill="#000"/>
<polygon points="495.20,554.6 491.20,552.7 491.20,556.5" fill="#000"/>
<text x="492.5" y="462.8" text-anchor="end" fill="#000" style='font-family:"Liberation Serif",serif;font-size:5.9px;font-weight:bold;' >Day 7</text>
<text x="494.70" y="478.0" text-anchor="end" style='font-family:"Liberation Serif",serif;font-size:5.8px;font-weight:bold;'>FITC<tspan font-size="3.6px" dy="-2.0">+</tspan><tspan dy="2.0"> (%)</tspan></text>
<text x="493.1" y="487.8" text-anchor="end" fill="#000" style='font-family:"Liberation Serif",serif;font-size:5.9px;font-weight:bold;' >10.5</text>
<text x="493.1" y="504.8" text-anchor="end" fill="#000" style='font-family:"Liberation Serif",serif;font-size:5.9px;font-weight:bold;' >3.08</text>
<text x="493.1" y="522.3" text-anchor="end" fill="#000" style='font-family:"Liberation Serif",serif;font-size:5.9px;font-weight:bold;' >6.52</text>
<text x="493.1" y="540.7" text-anchor="end" fill="#000" style='font-family:"Liberation Serif",serif;font-size:5.9px;font-weight:bold;' >8.43</text>
<line x1="390.29999999999995" y1="560.7" x2="390.29999999999995" y2="563.3000000000001" stroke="#222" stroke-width="0.55" />
<line x1="400.8962558473721" y1="560.7" x2="400.8962558473721" y2="562.1" stroke="#222" stroke-width="0.55" />
<line x1="407.0946681661321" y1="560.7" x2="407.0946681661321" y2="562.1" stroke="#222" stroke-width="0.55" />
<line x1="411.4925116947443" y1="560.7" x2="411.4925116947443" y2="562.1" stroke="#222" stroke-width="0.55" />
<line x1="414.90374415262784" y1="560.7" x2="414.90374415262784" y2="562.1" stroke="#222" stroke-width="0.55" />
<line x1="417.69092401350423" y1="560.7" x2="417.69092401350423" y2="562.1" stroke="#222" stroke-width="0.55" />
<line x1="420.0474510085018" y1="560.7" x2="420.0474510085018" y2="562.1" stroke="#222" stroke-width="0.55" />
<line x1="422.0887675421164" y1="560.7" x2="422.0887675421164" y2="562.1" stroke="#222" stroke-width="0.55" />
<line x1="423.88933633226424" y1="560.7" x2="423.88933633226424" y2="562.1" stroke="#222" stroke-width="0.55" />
<line x1="425.5" y1="560.7" x2="425.5" y2="563.3000000000001" stroke="#222" stroke-width="0.55" />
<line x1="436.1263588469385" y1="560.7" x2="436.1263588469385" y2="562.1" stroke="#222" stroke-width="0.55" />
<line x1="442.34238029160406" y1="560.7" x2="442.34238029160406" y2="562.1" stroke="#222" stroke-width="0.55" />
<line x1="446.75271769387706" y1="560.7" x2="446.75271769387706" y2="562.1" stroke="#222" stroke-width="0.55" />
<line x1="450.17364115306145" y1="560.7" x2="450.17364115306145" y2="562.1" stroke="#222" stroke-width="0.55" />
<line x1="452.96873913854256" y1="560.7" x2="452.96873913854256" y2="562.1" stroke="#222" stroke-width="0.55" />
<line x1="455.3319608125032" y1="560.7" x2="455.3319608125032" y2="562.1" stroke="#222" stroke-width="0.55" />
<line x1="457.37907654081556" y1="560.7" x2="457.37907654081556" y2="562.1" stroke="#222" stroke-width="0.55" />
<line x1="459.1847605832081" y1="560.7" x2="459.1847605832081" y2="562.1" stroke="#222" stroke-width="0.55" />
<line x1="460.79999999999995" y1="560.7" x2="460.79999999999995" y2="563.3000000000001" stroke="#222" stroke-width="0.55" />
<line x1="471.1253288512745" y1="560.7" x2="471.1253288512745" y2="562.1" stroke="#222" stroke-width="0.55" />
<line x1="477.1652590368844" y1="560.7" x2="477.1652590368844" y2="562.1" stroke="#222" stroke-width="0.55" />
<line x1="481.45065770254905" y1="560.7" x2="481.45065770254905" y2="562.1" stroke="#222" stroke-width="0.55" />
<line x1="484.7746711487254" y1="560.7" x2="484.7746711487254" y2="562.1" stroke="#222" stroke-width="0.55" />
<line x1="487.4905878881589" y1="560.7" x2="487.4905878881589" y2="562.1" stroke="#222" stroke-width="0.55" />
<line x1="489.786862772489" y1="560.7" x2="489.786862772489" y2="562.1" stroke="#222" stroke-width="0.55" />
<line x1="491.7759865538236" y1="560.7" x2="491.7759865538236" y2="562.1" stroke="#222" stroke-width="0.55" />
<line x1="493.5305180737688" y1="560.7" x2="493.5305180737688" y2="562.1" stroke="#222" stroke-width="0.55" />
<line x1="495.09999999999997" y1="560.7" x2="495.09999999999997" y2="563.3000000000001" stroke="#222" stroke-width="0.55" />
<line x1="389.5" y1="560.7" x2="495.9" y2="560.7" stroke="#333" stroke-width="0.9" />
<text x="394.90" y="571.8" text-anchor="middle" fill="#1a1a1a" style='font-family:"Liberation Sans",sans-serif;font-size:5.6px;'>10<tspan font-size="4.2px" dy="-2.6">1</tspan></text>
<text x="424.10" y="571.8" text-anchor="middle" fill="#1a1a1a" style='font-family:"Liberation Sans",sans-serif;font-size:5.6px;'>10<tspan font-size="4.2px" dy="-2.6">2</tspan></text>
<text x="457.90" y="571.8" text-anchor="middle" fill="#1a1a1a" style='font-family:"Liberation Sans",sans-serif;font-size:5.6px;'>10<tspan font-size="4.2px" dy="-2.6">3</tspan></text>
<text x="487.30" y="571.8" text-anchor="middle" fill="#1a1a1a" style='font-family:"Liberation Sans",sans-serif;font-size:5.6px;'>10<tspan font-size="4.2px" dy="-2.6">4</tspan></text>
<text x="442.59999999999997" y="582.6" text-anchor="middle" fill="#000" style='font-family:"Liberation Serif",serif;font-size:5.9px;font-weight:bold;' >FITC</text>
<line x1="501.8" y1="459.0" x2="512.5" y2="459.0" stroke="#333" stroke-width="1.2" />
<text x="515.0" y="460.9" text-anchor="start" fill="#000" style='font-family:"Liberation Serif",serif;font-size:5.65px;font-weight:bold;' >ET</text>
<line x1="501.8" y1="465.5" x2="512.5" y2="465.5" stroke="#f02020" stroke-width="1.2" />
<text x="515.0" y="467.4" text-anchor="start" fill="#000" style='font-family:"Liberation Serif",serif;font-size:5.65px;font-weight:bold;' >WT</text>
<line x1="501.8" y1="471.5" x2="512.5" y2="471.5" stroke="#2020f0" stroke-width="1.2" />
<text x="515.0" y="473.4" text-anchor="start" fill="#000" style='font-family:"Liberation Serif",serif;font-size:5.65px;font-weight:bold;' >K238R</text>
<line x1="501.8" y1="478.0" x2="512.5" y2="478.0" stroke="#6cd080" stroke-width="1.2" />
<text x="515.0" y="479.9" text-anchor="start" fill="#000" style='font-family:"Liberation Serif",serif;font-size:5.65px;font-weight:bold;' >K412R</text>
<line x1="501.8" y1="484.4" x2="512.5" y2="484.4" stroke="#888" stroke-width="0.5" />
<text x="515.0" y="486.29999999999995" text-anchor="start" fill="#000" style='font-family:"Liberation Serif",serif;font-size:5.65px;font-weight:bold;' >IgG</text>
<line x1="535.5" y1="463.4" x2="535.5" y2="480.0" stroke="#222" stroke-width="0.6" />
<text x="539.3" y="471.3" text-anchor="middle" fill="#000" style='font-family:"Liberation Serif",serif;font-size:5.65px;font-weight:bold;font-style:italic;' transform="rotate(90 539.3 471.3)" >Dnmt3L</text>
<text x="553.8" y="447.8" text-anchor="start" fill="#000" style='font-family:"Liberation Serif",serif;font-size:11.5px;font-weight:bold;' >g</text>
<text x="630.4" y="453.5" text-anchor="middle" fill="#000" style='font-family:"Liberation Serif",serif;font-size:6.2px;font-weight:bold;' >Germline specificaion (Day 7)</text>
<line x1="577.7" y1="469.68000000000006" x2="577.7" y2="554.2" stroke="#000" stroke-width="1.0" />
<line x1="577.2" y1="553.7" x2="677.8" y2="553.7" stroke="#000" stroke-width="1.0" />
<line x1="574.7" y1="553.7" x2="577.7" y2="553.7" stroke="#000" stroke-width="1.0" />
<text x="574.1" y="555.6" text-anchor="end" fill="#000" style='font-family:"Liberation Serif",serif;font-size:5.6px;font-weight:bold;' >0</text>
<line x1="574.7" y1="532.82" x2="577.7" y2="532.82" stroke="#000" stroke-width="1.0" />
<text x="574.1" y="534.72" text-anchor="end" fill="#000" style='font-family:"Liberation Serif",serif;font-size:5.6px;font-weight:bold;' >3</text>
<line x1="574.7" y1="511.94000000000005" x2="577.7" y2="511.94000000000005" stroke="#000" stroke-width="1.0" />
<text x="574.1" y="513.84" text-anchor="end" fill="#000" style='font-family:"Liberation Serif",serif;font-size:5.6px;font-weight:bold;' >6</text>
<line x1="574.7" y1="491.06000000000006" x2="577.7" y2="491.06000000000006" stroke="#000" stroke-width="1.0" />
<text x="574.1" y="492.96000000000004" text-anchor="end" fill="#000" style='font-family:"Liberation Serif",serif;font-size:5.6px;font-weight:bold;' >9</text>
<line x1="574.7" y1="470.18000000000006" x2="577.7" y2="470.18000000000006" stroke="#000" stroke-width="1.0" />
<text x="574.1" y="472.08000000000004" text-anchor="end" fill="#000" style='font-family:"Liberation Serif",serif;font-size:5.6px;font-weight:bold;' >12</text>
<path d="M595.60 487.58 L595.60 482.85 M591.70 482.85 L599.50 482.85" stroke="#000" stroke-width="0.8" fill="none"/>
<rect x="585.9" y="487.58" width="19.4" height="66.12" fill="#000000" stroke="none" stroke-width="1" />
<line x1="595.5999999999999" y1="553.7" x2="595.5999999999999" y2="556.3000000000001" stroke="#000" stroke-width="1.0" />
<text x="595.5999999999999" y="561.8" text-anchor="middle" fill="#000" style='font-family:"Liberation Serif",serif;font-size:5.7px;font-weight:bold;' >ET</text>
<path d="M618.90 525.86 L618.90 522.03 M615.00 522.03 L622.80 522.03" stroke="#000" stroke-width="0.8" fill="none"/>
<rect x="609.4" y="525.86" width="19.0" height="27.84" fill="#ff2010" stroke="none" stroke-width="1" />
<line x1="618.9" y1="553.7" x2="618.9" y2="556.3000000000001" stroke="#000" stroke-width="1.0" />
<text x="618.9" y="561.8" text-anchor="middle" fill="#000" style='font-family:"Liberation Serif",serif;font-size:5.7px;font-weight:bold;' >WT</text>
<path d="M642.40 505.68 L642.40 503.03 M638.50 503.03 L646.30 503.03" stroke="#000" stroke-width="0.8" fill="none"/>
<rect x="632.9" y="505.68" width="19.0" height="48.02" fill="#1010ff" stroke="none" stroke-width="1" />
<line x1="642.4" y1="553.7" x2="642.4" y2="556.3000000000001" stroke="#000" stroke-width="1.0" />
<text x="642.4" y="561.8" text-anchor="middle" fill="#000" style='font-family:"Liberation Serif",serif;font-size:5.7px;font-weight:bold;' >K238R</text>
<path d="M665.80 482.01 L665.80 474.22 M661.90 474.22 L669.70 474.22" stroke="#000" stroke-width="0.8" fill="none"/>
<rect x="656.4" y="482.01" width="18.8" height="71.69" fill="#2e8b2e" stroke="none" stroke-width="1" />
<line x1="665.8" y1="553.7" x2="665.8" y2="556.3000000000001" stroke="#000" stroke-width="1.0" />
<text x="665.8" y="561.8" text-anchor="middle" fill="#000" style='font-family:"Liberation Serif",serif;font-size:5.7px;font-weight:bold;' >K412R</text>
<line x1="612.4" y1="566.2" x2="675.8" y2="566.2" stroke="#222" stroke-width="0.6" />
<text x="645.1" y="573.8" text-anchor="middle" fill="#000" style='font-family:"Liberation Serif",serif;font-size:5.75px;font-weight:bold;font-style:italic;' >Dnmt3L</text>
<text x="595.6" y="478.484" text-anchor="middle" fill="#000" style='font-family:"Liberation Serif",serif;font-size:6.2px;font-weight:bold;font-style:italic;' >##</text>
<text x="619" y="519.66" text-anchor="middle" fill="#ff1a1a" style='font-family:"Liberation Serif",serif;font-size:6.0px;font-weight:bold;' >**</text>
<text x="665.8" y="470.284" text-anchor="middle" fill="#2e8b2e" style='font-family:"Liberation Serif",serif;font-size:6.2px;font-weight:bold;font-style:italic;' >###</text>
<text x="565.2" y="511.6" text-anchor="middle" transform="rotate(-90 565.2 511.6)" style='font-family:"Liberation Serif",serif;font-size:5.9px;font-weight:bold;'>% of GFP<tspan font-size="3.6px" dy="-2.0">+</tspan><tspan dy="2.0"> cells</tspan></text>
<text x="168.6" y="612.6" text-anchor="start" fill="#000" style='font-family:"Liberation Sans",serif;font-size:10.2px;font-weight:bold;' >h</text>
<text x="242.4" y="615.3" text-anchor="middle" fill="#000" style='font-family:"Liberation Serif",serif;font-size:5.8px;font-weight:bold;' >B.F.</text>
<text x="313.3" y="615.3" text-anchor="middle" fill="#f01818" style='font-family:"Liberation Serif",serif;font-size:5.8px;font-weight:bold;' >βIII-tubulin</text>
<text x="384.0" y="615.3" text-anchor="middle" fill="#2a50d8" style='font-family:"Liberation Serif",serif;font-size:5.8px;font-weight:bold;' >DAPI</text>
<text x="454.3" y="615.3" text-anchor="middle" style='font-family:"Liberation Serif",serif;font-size:5.8px;font-weight:bold;'><tspan fill="#f01818">Me</tspan><tspan fill="#2a50d8">rge</tspan></text>
<text x="202.8" y="645.8" text-anchor="middle" fill="#000" style='font-family:"Liberation Serif",serif;font-size:5.8px;font-weight:bold;' transform="rotate(-90 202.8 645.8)" >ET</text>
<text x="202.8" y="699.0" text-anchor="middle" fill="#000" style='font-family:"Liberation Serif",serif;font-size:5.8px;font-weight:bold;' transform="rotate(-90 202.8 699.0)" >WT</text>
<text x="202.8" y="751.6999999999999" text-anchor="middle" fill="#000" style='font-family:"Liberation Serif",serif;font-size:5.8px;font-weight:bold;' transform="rotate(-90 202.8 751.6999999999999)" >K238R</text>
<text x="202.8" y="804.5" text-anchor="middle" fill="#000" style='font-family:"Liberation Serif",serif;font-size:5.8px;font-weight:bold;' transform="rotate(-90 202.8 804.5)" >K412R</text>
<line x1="192.0" y1="699.8" x2="192.0" y2="805.0" stroke="#222" stroke-width="0.6" />
<text x="185.4" y="756.0" text-anchor="middle" fill="#000" style='font-family:"Liberation Serif",serif;font-size:5.6px;font-weight:bold;font-style:italic;' transform="rotate(-90 185.4 756.0)" >Dnmt3L</text>
<g transform="translate(207.4 619.9)" clip-path="url(#hclip)"><rect width="69.6" height="51.8" fill="#888888"/><rect width="69.6" height="51.8" filter="url(#grain)" opacity="0.22"/><circle cx="35.8" cy="9.8" r="0.68" fill="rgb(225,225,225)"/><circle cx="65.5" cy="4.7" r="0.43" fill="rgb(205,205,205)"/><circle cx="22.4" cy="38.3" r="0.72" fill="rgb(209,209,209)"/><circle cx="48.9" cy="11.2" r="0.37" fill="rgb(202,202,202)"/><circle cx="64.1" cy="9.9" r="0.53" fill="rgb(238,238,238)"/><circle cx="50.6" cy="18.4" r="0.72" fill="rgb(195,195,195)"/><circle cx="60.4" cy="13.4" r="0.38" fill="rgb(215,215,215)"/><circle cx="56.7" cy="6.2" r="0.90" fill="rgb(212,212,212)"/><circle cx="65.5" cy="12.2" r="0.63" fill="rgb(204,204,204)"/><circle cx="23.0" cy="27.3" r="0.39" fill="rgb(240,240,240)"/><circle cx="64.3" cy="4.2" r="0.44" fill="rgb(195,195,195)"/><circle cx="57.3" cy="13.4" r="0.84" fill="rgb(248,248,248)"/><circle cx="32.5" cy="5.6" r="0.39" fill="rgb(211,211,211)"/><circle cx="61.8" cy="12.1" r="0.67" fill="rgb(234,234,234)"/><circle cx="24.1" cy="9.4" r="0.68" fill="rgb(215,215,215)"/><circle cx="56.2" cy="6.6" r="0.31" fill="rgb(217,217,217)"/><circle cx="16.2" cy="38.7" r="0.60" fill="rgb(194,194,194)"/><circle cx="47.3" cy="24.1" r="0.78" fill="rgb(198,198,198)"/><circle cx="34.9" cy="15.8" r="0.33" fill="rgb(204,204,204)"/><circle cx="9.3" cy="46.8" r="0.75" fill="rgb(239,239,239)"/><circle cx="44.2" cy="1.8" r="0.47" fill="rgb(212,212,212)"/><circle cx="53.2" cy="6.6" r="0.79" fill="rgb(210,210,210)"/><circle cx="14.9" cy="20.1" r="0.69" fill="rgb(206,206,206)"/><circle cx="40.9" cy="9.5" r="0.78" fill="rgb(198,198,198)"/><circle cx="18.6" cy="46.7" r="0.30" fill="rgb(222,222,222)"/><circle cx="67.9" cy="26.6" r="0.79" fill="rgb(198,198,198)"/><circle cx="56.5" cy="8.8" r="0.76" fill="rgb(215,215,215)"/><circle cx="38.9" cy="28.1" r="0.82" fill="rgb(248,248,248)"/><circle cx="58.1" cy="13.1" r="0.33" fill="rgb(206,206,206)"/><circle cx="56.1" cy="4.8" r="0.63" fill="rgb(192,192,192)"/><circle cx="8.9" cy="3.9" r="0.54" fill="rgb(236,236,236)"/><circle cx="48.1" cy="21.8" r="0.62" fill="rgb(227,227,227)"/><circle cx="55.5" cy="8.5" r="0.52" fill="rgb(220,220,220)"/><circle cx="69.1" cy="2.6" r="0.38" fill="rgb(236,236,236)"/><circle cx="56.9" cy="20.0" r="0.75" fill="rgb(236,236,236)"/><circle cx="15.3" cy="39.6" r="0.40" fill="rgb(218,218,218)"/><circle cx="33.1" cy="22.7" r="0.36" fill="rgb(242,242,242)"/><circle cx="48.0" cy="8.6" r="0.56" fill="rgb(216,216,216)"/><circle cx="42.3" cy="17.4" r="0.64" fill="rgb(247,247,247)"/><circle cx="57.4" cy="10.7" r="0.37" fill="rgb(203,203,203)"/><circle cx="2.8" cy="21.4" r="0.35" fill="rgb(228,228,228)"/><circle cx="54.5" cy="5.4" r="0.59" fill="rgb(213,213,213)"/><circle cx="48.1" cy="36.4" r="0.73" fill="rgb(217,217,217)"/><circle cx="38.0" cy="12.1" r="0.50" fill="rgb(245,245,245)"/><circle cx="61.4" cy="17.5" r="0.68" fill="rgb(208,208,208)"/><circle cx="51.1" cy="13.6" r="0.72" fill="rgb(244,244,244)"/><circle cx="65.1" cy="42.5" r="0.57" fill="rgb(212,212,212)"/><circle cx="50.6" cy="7.5" r="0.42" fill="rgb(230,230,230)"/><circle cx="53.4" cy="9.2" r="0.88" fill="rgb(196,196,196)"/><circle cx="53.9" cy="21.5" r="0.63" fill="rgb(196,196,196)"/><circle cx="59.8" cy="4.9" r="0.39" fill="rgb(243,243,243)"/><circle cx="38.4" cy="10.4" r="0.75" fill="rgb(245,245,245)"/><circle cx="64.3" cy="23.7" r="0.31" fill="rgb(226,226,226)"/><circle cx="21.1" cy="21.1" r="0.63" fill="rgb(216,216,216)"/><circle cx="40.6" cy="2.3" r="0.64" fill="rgb(237,237,237)"/><circle cx="2.7" cy="28.4" r="0.88" fill="rgb(205,205,205)"/><circle cx="58.0" cy="21.7" r="0.86" fill="rgb(212,212,212)"/><circle cx="31.9" cy="8.4" r="0.85" fill="rgb(209,209,209)"/><circle cx="47.6" cy="27.2" r="0.83" fill="rgb(202,202,202)"/><circle cx="65.4" cy="21.1" r="0.90" fill="rgb(205,205,205)"/><circle cx="30.7" cy="0.6" r="0.71" fill="rgb(230,230,230)"/><circle cx="66.4" cy="4.9" r="0.66" fill="rgb(220,220,220)"/><circle cx="58.8" cy="6.9" r="0.58" fill="rgb(213,213,213)"/><circle cx="32.9" cy="6.4" r="0.75" fill="rgb(196,196,196)"/><circle cx="60.1" cy="6.9" r="0.87" fill="rgb(208,208,208)"/><circle cx="50.9" cy="31.1" r="0.73" fill="rgb(191,191,191)"/><circle cx="57.1" cy="41.3" r="0.84" fill="rgb(231,231,231)"/><circle cx="67.4" cy="5.4" r="0.55" fill="rgb(190,190,190)"/><circle cx="31.0" cy="0.8" r="0.62" fill="rgb(213,213,213)"/><circle cx="50.2" cy="49.1" r="0.81" fill="rgb(199,199,199)"/><circle cx="66.1" cy="17.8" r="0.40" fill="rgb(198,198,198)"/><circle cx="19.5" cy="40.3" r="0.86" fill="rgb(200,200,200)"/><circle cx="45.5" cy="25.7" r="0.53" fill="rgb(204,204,204)"/><circle cx="1.6" cy="11.2" r="0.83" fill="rgb(221,221,221)"/><circle cx="36.7" cy="15.5" r="0.75" fill="rgb(204,204,204)"/><circle cx="31.9" cy="14.7" r="0.50" fill="rgb(249,249,249)"/><circle cx="60.0" cy="20.0" r="0.34" fill="rgb(190,190,190)"/><circle cx="68.8" cy="2.5" r="0.32" fill="rgb(219,219,219)"/><circle cx="34.7" cy="4.5" r="0.48" fill="rgb(211,211,211)"/><circle cx="40.5" cy="20.5" r="0.74" fill="rgb(206,206,206)"/><circle cx="30.7" cy="5.9" r="0.61" fill="rgb(230,230,230)"/><circle cx="18.4" cy="45.8" r="0.49" fill="rgb(246,246,246)"/><circle cx="31.7" cy="3.6" r="0.75" fill="rgb(210,210,210)"/><circle cx="14.0" cy="35.8" r="0.52" fill="rgb(205,205,205)"/><circle cx="29.0" cy="1.9" r="0.68" fill="rgb(228,228,228)"/><circle cx="68.6" cy="6.0" r="0.80" fill="rgb(191,191,191)"/><circle cx="54.9" cy="5.0" r="0.86" fill="rgb(229,229,229)"/><circle cx="46.1" cy="18.2" r="0.42" fill="rgb(228,228,228)"/><circle cx="0.5" cy="11.2" r="0.72" fill="rgb(191,191,191)"/><circle cx="36.4" cy="34.5" r="0.72" fill="rgb(190,190,190)"/><circle cx="49.9" cy="4.7" r="0.72" fill="rgb(226,226,226)"/><circle cx="39.9" cy="4.1" r="0.36" fill="rgb(247,247,247)"/><circle cx="49.8" cy="11.0" r="0.44" fill="rgb(218,218,218)"/><circle cx="42.8" cy="3.4" r="0.87" fill="rgb(199,199,199)"/><circle cx="52.8" cy="47.3" r="0.53" fill="rgb(199,199,199)"/><circle cx="43.2" cy="21.3" r="0.31" fill="rgb(209,209,209)"/><circle cx="54.6" cy="10.0" r="0.46" fill="rgb(210,210,210)"/><circle cx="64.7" cy="23.6" r="0.46" fill="rgb(190,190,190)"/><circle cx="67.8" cy="44.3" r="0.47" fill="rgb(205,205,205)"/><circle cx="32.9" cy="17.4" r="0.56" fill="rgb(208,208,208)"/><circle cx="56.0" cy="33.0" r="0.87" fill="rgb(243,243,243)"/><circle cx="34.6" cy="2.6" r="0.34" fill="rgb(213,213,213)"/><circle cx="38.3" cy="20.4" r="0.38" fill="rgb(239,239,239)"/><circle cx="52.8" cy="21.4" r="0.68" fill="rgb(230,230,230)"/><circle cx="42.1" cy="19.3" r="0.61" fill="rgb(225,225,225)"/><circle cx="59.5" cy="0.0" r="0.77" fill="rgb(194,194,194)"/><circle cx="25.0" cy="21.8" r="0.75" fill="rgb(224,224,224)"/><circle cx="47.6" cy="14.7" r="0.84" fill="rgb(242,242,242)"/><circle cx="23.6" cy="36.2" r="0.43" fill="rgb(210,210,210)"/><circle cx="62.3" cy="0.1" r="0.73" fill="rgb(212,212,212)"/><circle cx="69.1" cy="11.5" r="0.57" fill="rgb(248,248,248)"/><circle cx="5.7" cy="32.0" r="0.76" fill="rgb(215,215,215)"/><circle cx="59.2" cy="9.5" r="0.54" fill="rgb(230,230,230)"/><circle cx="56.8" cy="17.1" r="0.40" fill="rgb(238,238,238)"/><circle cx="22.0" cy="42.6" r="0.86" fill="rgb(235,235,235)"/><circle cx="66.1" cy="47.4" r="0.63" fill="rgb(249,249,249)"/><circle cx="32.9" cy="3.9" r="0.48" fill="rgb(242,242,242)"/><circle cx="46.8" cy="4.4" r="0.64" fill="rgb(214,214,214)"/><circle cx="36.2" cy="2.6" r="0.90" fill="rgb(233,233,233)"/><circle cx="21.0" cy="26.1" r="0.85" fill="rgb(225,225,225)"/><circle cx="68.2" cy="14.6" r="0.43" fill="rgb(247,247,247)"/><circle cx="8.8" cy="0.3" r="0.69" fill="rgb(197,197,197)"/><circle cx="69.2" cy="9.9" r="0.55" fill="rgb(214,214,214)"/><circle cx="31.4" cy="15.7" r="0.89" fill="rgb(240,240,240)"/><circle cx="63.1" cy="42.9" r="0.81" fill="rgb(207,207,207)"/><circle cx="56.9" cy="32.2" r="0.78" fill="rgb(208,208,208)"/><circle cx="17.2" cy="31.3" r="0.52" fill="rgb(213,213,213)"/><circle cx="35.1" cy="9.5" r="0.30" fill="rgb(246,246,246)"/><circle cx="28.9" cy="7.7" r="0.41" fill="rgb(193,193,193)"/><circle cx="53.9" cy="8.9" r="0.40" fill="rgb(229,229,229)"/><circle cx="42.5" cy="42.8" r="0.63" fill="rgb(199,199,199)"/><circle cx="13.0" cy="16.3" r="0.69" fill="rgb(224,224,224)"/><circle cx="46.1" cy="20.4" r="0.87" fill="rgb(232,232,232)"/><circle cx="23.3" cy="7.0" r="0.64" fill="rgb(195,195,195)"/><circle cx="65.7" cy="11.2" r="0.64" fill="rgb(230,230,230)"/><circle cx="53.7" cy="7.9" r="0.63" fill="rgb(241,241,241)"/><circle cx="31.2" cy="3.8" r="0.47" fill="rgb(211,211,211)"/><circle cx="50.7" cy="0.4" r="0.41" fill="rgb(211,211,211)"/><circle cx="29.0" cy="12.9" r="0.89" fill="rgb(234,234,234)"/><circle cx="13.4" cy="43.2" r="0.69" fill="rgb(190,190,190)"/><circle cx="41.1" cy="42.7" r="0.70" fill="rgb(213,213,213)"/><circle cx="36.5" cy="9.3" r="0.32" fill="rgb(203,203,203)"/><circle cx="40.5" cy="16.6" r="0.65" fill="rgb(219,219,219)"/><circle cx="51.8" cy="7.2" r="0.66" fill="rgb(232,232,232)"/><circle cx="59.2" cy="48.1" r="0.84" fill="rgb(197,197,197)"/><circle cx="7.1" cy="35.9" r="0.61" fill="rgb(207,207,207)"/><circle cx="29.4" cy="40.7" r="0.82" fill="rgb(243,243,243)"/><circle cx="34.3" cy="44.8" r="0.65" fill="rgb(198,198,198)"/><circle cx="35.0" cy="11.1" r="0.81" fill="rgb(215,215,215)"/><circle cx="52.4" cy="18.0" r="0.32" fill="rgb(208,208,208)"/><line x1="33.2" y1="35.1" x2="0" y2="46" stroke="#dcdcdc" stroke-width="0.4" opacity="0.85"/><line x1="54.3" y1="34.6" x2="69.6" y2="12" stroke="#dcdcdc" stroke-width="0.4" opacity="0.85"/><line x1="54.3" y1="34.6" x2="69.6" y2="26" stroke="#dcdcdc" stroke-width="0.4" opacity="0.85"/><line x1="33.2" y1="35.1" x2="5" y2="11.5" stroke="#dcdcdc" stroke-width="0.4" opacity="0.85"/><circle cx="5.0" cy="11.5" r="2.5" fill="#f2f2f2" opacity="0.95" filter="url(#hblur1)"/><circle cx="33.2" cy="35.1" r="5" fill="#f2f2f2" opacity="0.95" filter="url(#hblur1)"/><circle cx="54.3" cy="34.6" r="4.5" fill="#f2f2f2" opacity="0.95" filter="url(#hblur1)"/><circle cx="12" cy="45.8" r="2" fill="#f2f2f2" opacity="0.95" filter="url(#hblur1)"/></g>
<g transform="translate(278.4 619.9)" clip-path="url(#hclip)"><rect width="69.6" height="51.8" fill="#280000"/><use href="#hred0"/></g>
<g transform="translate(348.9 619.9)" clip-path="url(#hclip)"><rect width="69.6" height="51.8" fill="#020716"/><use href="#hdapi0"/></g>
<g transform="translate(419.5 619.9)" clip-path="url(#hclip)"><rect width="69.6" height="51.8" fill="#180412"/><use href="#hdapi0"/><use href="#hred0" style="mix-blend-mode:screen"/></g>
<g transform="translate(207.4 673.1)" clip-path="url(#hclip)"><rect width="69.6" height="51.8" fill="#aeaeae"/><rect width="69.6" height="51.8" filter="url(#grain)" opacity="0.22"/><circle cx="43.9" cy="17.0" r="1.29" fill="rgb(207,207,207)"/><circle cx="59.1" cy="21.9" r="1.32" fill="rgb(238,238,238)"/><circle cx="31.0" cy="28.1" r="0.86" fill="rgb(203,203,203)"/><circle cx="46.4" cy="15.0" r="0.61" fill="rgb(209,209,209)"/><circle cx="18.8" cy="23.8" r="0.46" fill="rgb(198,198,198)"/><circle cx="26.2" cy="32.1" r="1.13" fill="rgb(232,232,232)"/><circle cx="18.1" cy="30.5" r="1.17" fill="rgb(200,200,200)"/><circle cx="47.6" cy="21.2" r="1.07" fill="rgb(237,237,237)"/><circle cx="60.0" cy="39.9" r="1.17" fill="rgb(209,209,209)"/><circle cx="20.5" cy="38.6" r="0.84" fill="rgb(219,219,219)"/><circle cx="21.7" cy="35.3" r="1.23" fill="rgb(192,192,192)"/><circle cx="46.9" cy="29.3" r="0.78" fill="rgb(208,208,208)"/><circle cx="31.1" cy="37.0" r="1.23" fill="rgb(194,194,194)"/><circle cx="66.5" cy="13.4" r="1.11" fill="rgb(247,247,247)"/><circle cx="53.6" cy="0.5" r="1.32" fill="rgb(237,237,237)"/><circle cx="12.8" cy="38.6" r="0.95" fill="rgb(235,235,235)"/><circle cx="39.5" cy="37.8" r="1.10" fill="rgb(190,190,190)"/><circle cx="46.0" cy="29.8" r="0.68" fill="rgb(198,198,198)"/><circle cx="36.6" cy="23.5" r="0.76" fill="rgb(195,195,195)"/><circle cx="19.0" cy="28.8" r="0.60" fill="rgb(213,213,213)"/><circle cx="26.1" cy="40.3" r="0.95" fill="rgb(191,191,191)"/><circle cx="43.3" cy="28.8" r="0.47" fill="rgb(198,198,198)"/><circle cx="40.6" cy="38.5" r="0.93" fill="rgb(242,242,242)"/><circle cx="29.0" cy="27.3" r="0.47" fill="rgb(244,244,244)"/><circle cx="20.9" cy="22.8" r="0.84" fill="rgb(245,245,245)"/><circle cx="46.7" cy="7.6" r="0.48" fill="rgb(231,231,231)"/><circle cx="27.7" cy="31.5" r="1.09" fill="rgb(239,239,239)"/><circle cx="10.3" cy="35.8" r="0.99" fill="rgb(202,202,202)"/><circle cx="27.7" cy="42.9" r="0.75" fill="rgb(223,223,223)"/><circle cx="36.1" cy="44.0" r="0.54" fill="rgb(195,195,195)"/><circle cx="16.0" cy="3.7" r="0.93" fill="rgb(245,245,245)"/><circle cx="14.3" cy="18.8" r="1.10" fill="rgb(203,203,203)"/><circle cx="7.1" cy="44.8" r="0.83" fill="rgb(217,217,217)"/><circle cx="56.6" cy="20.3" r="1.33" fill="rgb(242,242,242)"/><circle cx="1.7" cy="47.7" r="1.28" fill="rgb(229,229,229)"/><circle cx="59.5" cy="23.8" r="0.85" fill="rgb(208,208,208)"/><circle cx="61.6" cy="1.6" r="0.95" fill="rgb(242,242,242)"/><circle cx="24.0" cy="33.8" r="1.23" fill="rgb(193,193,193)"/><circle cx="38.4" cy="39.3" r="1.29" fill="rgb(197,197,197)"/><circle cx="22.9" cy="3.8" r="0.53" fill="rgb(234,234,234)"/><circle cx="48.3" cy="36.4" r="0.56" fill="rgb(249,249,249)"/><circle cx="11.9" cy="33.4" r="0.48" fill="rgb(210,210,210)"/><circle cx="11.4" cy="45.1" r="0.83" fill="rgb(192,192,192)"/><circle cx="54.2" cy="32.7" r="1.31" fill="rgb(219,219,219)"/><circle cx="8.8" cy="23.4" r="1.08" fill="rgb(243,243,243)"/><circle cx="53.6" cy="40.8" r="0.73" fill="rgb(204,204,204)"/><circle cx="61.3" cy="27.9" r="0.59" fill="rgb(222,222,222)"/><circle cx="38.3" cy="32.9" r="0.71" fill="rgb(245,245,245)"/><circle cx="13.3" cy="37.8" r="1.21" fill="rgb(225,225,225)"/><circle cx="39.2" cy="26.8" r="0.52" fill="rgb(236,236,236)"/><circle cx="13.9" cy="30.4" r="1.32" fill="rgb(247,247,247)"/><circle cx="65.4" cy="8.0" r="0.75" fill="rgb(197,197,197)"/><circle cx="27.2" cy="42.5" r="0.77" fill="rgb(248,248,248)"/><circle cx="66.5" cy="38.4" r="0.63" fill="rgb(240,240,240)"/><circle cx="39.8" cy="8.0" r="0.98" fill="rgb(213,213,213)"/><circle cx="10.7" cy="42.7" r="1.10" fill="rgb(216,216,216)"/><circle cx="32.4" cy="30.0" r="0.58" fill="rgb(241,241,241)"/><circle cx="4.5" cy="39.6" r="0.74" fill="rgb(246,246,246)"/><circle cx="49.4" cy="17.8" r="1.19" fill="rgb(194,194,194)"/><circle cx="8.7" cy="25.3" r="1.13" fill="rgb(249,249,249)"/><circle cx="62.2" cy="17.8" r="0.90" fill="rgb(228,228,228)"/><circle cx="66.3" cy="19.1" r="1.00" fill="rgb(195,195,195)"/><circle cx="20.8" cy="35.1" r="1.32" fill="rgb(225,225,225)"/><circle cx="29.9" cy="39.5" r="1.35" fill="rgb(213,213,213)"/><circle cx="35.2" cy="28.2" r="1.16" fill="rgb(222,222,222)"/><circle cx="6.3" cy="28.7" r="0.50" fill="rgb(234,234,234)"/><circle cx="37.6" cy="22.3" r="0.74" fill="rgb(222,222,222)"/><circle cx="44.1" cy="27.4" r="1.06" fill="rgb(215,215,215)"/><circle cx="26.9" cy="46.5" r="1.23" fill="rgb(199,199,199)"/><circle cx="37.2" cy="38.7" r="0.87" fill="rgb(196,196,196)"/><circle cx="25.5" cy="29.7" r="0.94" fill="rgb(249,249,249)"/><circle cx="36.6" cy="4.6" r="0.64" fill="rgb(224,224,224)"/><circle cx="12.8" cy="39.2" r="0.81" fill="rgb(223,223,223)"/><circle cx="49.0" cy="17.9" r="0.74" fill="rgb(218,218,218)"/><circle cx="23.4" cy="29.1" r="0.74" fill="rgb(241,241,241)"/><circle cx="33.1" cy="24.4" r="0.60" fill="rgb(247,247,247)"/><circle cx="4.9" cy="0.0" r="1.23" fill="rgb(212,212,212)"/><circle cx="0.5" cy="38.4" r="0.59" fill="rgb(223,223,223)"/><circle cx="0.4" cy="30.6" r="1.02" fill="rgb(241,241,241)"/><circle cx="3.1" cy="15.1" r="0.84" fill="rgb(212,212,212)"/><circle cx="48.6" cy="11.4" r="0.45" fill="rgb(225,225,225)"/><circle cx="31.4" cy="10.4" r="0.76" fill="rgb(221,221,221)"/><circle cx="28.2" cy="35.4" r="0.52" fill="rgb(212,212,212)"/><circle cx="30.1" cy="24.8" r="0.64" fill="rgb(210,210,210)"/><circle cx="27.5" cy="22.4" r="0.46" fill="rgb(231,231,231)"/><circle cx="13.2" cy="36.0" r="0.50" fill="rgb(243,243,243)"/><circle cx="60.0" cy="3.3" r="1.34" fill="rgb(248,248,248)"/><circle cx="57.9" cy="18.2" r="0.96" fill="rgb(215,215,215)"/><circle cx="64.5" cy="11.8" r="0.61" fill="rgb(200,200,200)"/><circle cx="20.3" cy="46.9" r="0.68" fill="rgb(232,232,232)"/><circle cx="39.7" cy="31.3" r="0.92" fill="rgb(190,190,190)"/><circle cx="21.2" cy="8.4" r="0.87" fill="rgb(234,234,234)"/><circle cx="16.6" cy="32.0" r="1.28" fill="rgb(239,239,239)"/><circle cx="22.4" cy="38.5" r="0.45" fill="rgb(205,205,205)"/><circle cx="16.9" cy="17.0" r="0.59" fill="rgb(244,244,244)"/><circle cx="62.5" cy="4.9" r="0.56" fill="rgb(219,219,219)"/><circle cx="11.0" cy="13.3" r="0.85" fill="rgb(210,210,210)"/><circle cx="12.0" cy="22.9" r="1.08" fill="rgb(235,235,235)"/><circle cx="11.1" cy="43.3" r="0.51" fill="rgb(204,204,204)"/><circle cx="34.2" cy="43.3" r="1.26" fill="rgb(239,239,239)"/><circle cx="28.9" cy="47.7" r="1.15" fill="rgb(209,209,209)"/><circle cx="26.1" cy="48.6" r="0.71" fill="rgb(203,203,203)"/><circle cx="20.4" cy="40.6" r="0.79" fill="rgb(208,208,208)"/><circle cx="16.0" cy="23.3" r="0.81" fill="rgb(237,237,237)"/><circle cx="8.9" cy="47.5" r="0.78" fill="rgb(208,208,208)"/><circle cx="19.9" cy="0.2" r="1.34" fill="rgb(222,222,222)"/><circle cx="2.9" cy="36.6" r="0.73" fill="rgb(206,206,206)"/><circle cx="31.1" cy="27.4" r="0.76" fill="rgb(218,218,218)"/><circle cx="29.7" cy="35.4" r="0.51" fill="rgb(227,227,227)"/><circle cx="2.7" cy="3.3" r="0.69" fill="rgb(216,216,216)"/><circle cx="51.9" cy="30.0" r="0.85" fill="rgb(233,233,233)"/><circle cx="18.3" cy="45.9" r="0.47" fill="rgb(224,224,224)"/><circle cx="57.0" cy="23.5" r="1.33" fill="rgb(197,197,197)"/><circle cx="42.1" cy="11.0" r="0.63" fill="rgb(212,212,212)"/><circle cx="45.9" cy="24.6" r="0.46" fill="rgb(190,190,190)"/><circle cx="39.0" cy="27.0" r="1.21" fill="rgb(246,246,246)"/><circle cx="26.6" cy="33.9" r="1.22" fill="rgb(212,212,212)"/><circle cx="46.6" cy="4.9" r="0.86" fill="rgb(201,201,201)"/><circle cx="18.3" cy="31.5" r="0.52" fill="rgb(191,191,191)"/><circle cx="57.9" cy="24.6" r="0.79" fill="rgb(235,235,235)"/><circle cx="6.4" cy="46.2" r="0.47" fill="rgb(210,210,210)"/><circle cx="61.8" cy="2.0" r="1.02" fill="rgb(240,240,240)"/><circle cx="36.7" cy="20.0" r="0.96" fill="rgb(230,230,230)"/><circle cx="13.9" cy="10.9" r="0.56" fill="rgb(213,213,213)"/><circle cx="53.7" cy="29.0" r="0.75" fill="rgb(215,215,215)"/><circle cx="46.1" cy="26.9" r="1.29" fill="rgb(213,213,213)"/><circle cx="1.7" cy="41.3" r="0.72" fill="rgb(237,237,237)"/><circle cx="9.5" cy="42.6" r="1.32" fill="rgb(232,232,232)"/><circle cx="4.2" cy="5.2" r="0.57" fill="rgb(200,200,200)"/><circle cx="27.8" cy="41.4" r="0.48" fill="rgb(207,207,207)"/><circle cx="6.5" cy="24.7" r="1.14" fill="rgb(235,235,235)"/><circle cx="62.3" cy="23.0" r="1.07" fill="rgb(233,233,233)"/><circle cx="3.1" cy="42.6" r="0.60" fill="rgb(240,240,240)"/><circle cx="60.2" cy="18.8" r="1.23" fill="rgb(198,198,198)"/><circle cx="31.7" cy="30.6" r="1.29" fill="rgb(217,217,217)"/><circle cx="62.1" cy="17.8" r="0.73" fill="rgb(243,243,243)"/><circle cx="69.5" cy="22.6" r="1.30" fill="rgb(201,201,201)"/><circle cx="13.0" cy="46.3" r="1.10" fill="rgb(212,212,212)"/><circle cx="40.8" cy="34.1" r="0.55" fill="rgb(214,214,214)"/><circle cx="50.3" cy="17.6" r="0.78" fill="rgb(197,197,197)"/><circle cx="32.6" cy="18.0" r="0.85" fill="rgb(226,226,226)"/><circle cx="67.7" cy="35.0" r="1.15" fill="rgb(247,247,247)"/><circle cx="54.1" cy="27.9" r="1.22" fill="rgb(216,216,216)"/><circle cx="62.9" cy="5.6" r="0.47" fill="rgb(219,219,219)"/><circle cx="46.2" cy="31.6" r="0.88" fill="rgb(236,236,236)"/><circle cx="41.7" cy="24.7" r="1.00" fill="rgb(211,211,211)"/><circle cx="37.9" cy="15.4" r="1.15" fill="rgb(200,200,200)"/><circle cx="16.6" cy="7.3" r="0.83" fill="rgb(228,228,228)"/><circle cx="58.2" cy="26.9" r="0.46" fill="rgb(212,212,212)"/><circle cx="29.6" cy="20.8" r="0.98" fill="rgb(216,216,216)"/><circle cx="21.5" cy="24.9" r="1.21" fill="rgb(249,249,249)"/><circle cx="48.6" cy="22.5" r="1.26" fill="rgb(249,249,249)"/><circle cx="45.1" cy="35.1" r="0.68" fill="rgb(217,217,217)"/><circle cx="49.2" cy="25.4" r="1.17" fill="rgb(211,211,211)"/><circle cx="55.9" cy="7.5" r="1.06" fill="rgb(217,217,217)"/><circle cx="19.5" cy="10.9" r="0.77" fill="rgb(219,219,219)"/><circle cx="56.1" cy="7.5" r="1.02" fill="rgb(230,230,230)"/><circle cx="42.1" cy="25.0" r="0.87" fill="rgb(244,244,244)"/><circle cx="31.1" cy="37.7" r="0.62" fill="rgb(236,236,236)"/><circle cx="18.9" cy="6.7" r="0.72" fill="rgb(232,232,232)"/><circle cx="28.6" cy="39.8" r="0.85" fill="rgb(209,209,209)"/><circle cx="48.9" cy="6.6" r="0.80" fill="rgb(238,238,238)"/><circle cx="7.3" cy="46.0" r="0.82" fill="rgb(215,215,215)"/><circle cx="30.8" cy="13.7" r="1.19" fill="rgb(224,224,224)"/><circle cx="13.1" cy="36.9" r="0.81" fill="rgb(210,210,210)"/><circle cx="25.7" cy="33.3" r="0.86" fill="rgb(224,224,224)"/><circle cx="7.8" cy="48.9" r="0.56" fill="rgb(192,192,192)"/><circle cx="39.8" cy="1.1" r="0.50" fill="rgb(205,205,205)"/><circle cx="35.8" cy="34.2" r="1.05" fill="rgb(229,229,229)"/><circle cx="29.1" cy="39.5" r="1.03" fill="rgb(242,242,242)"/><circle cx="36.1" cy="6.5" r="1.25" fill="rgb(224,224,224)"/><circle cx="21.2" cy="39.7" r="1.02" fill="rgb(196,196,196)"/><circle cx="12.8" cy="27.8" r="0.67" fill="rgb(209,209,209)"/><circle cx="39.2" cy="6.3" r="0.89" fill="rgb(190,190,190)"/><circle cx="44.3" cy="38.4" r="1.31" fill="rgb(229,229,229)"/><circle cx="25.4" cy="50.3" r="0.94" fill="rgb(218,218,218)"/><circle cx="41.7" cy="5.6" r="1.27" fill="rgb(216,216,216)"/><circle cx="63.2" cy="36.2" r="1.02" fill="rgb(249,249,249)"/><circle cx="37.0" cy="38.9" r="0.70" fill="rgb(225,225,225)"/><circle cx="15.6" cy="33.5" r="0.88" fill="rgb(243,243,243)"/><circle cx="48.4" cy="18.1" r="0.79" fill="rgb(191,191,191)"/><circle cx="16.9" cy="31.5" r="0.82" fill="rgb(247,247,247)"/><circle cx="22.8" cy="35.0" r="0.94" fill="rgb(198,198,198)"/><circle cx="45.8" cy="41.4" r="0.49" fill="rgb(198,198,198)"/><circle cx="65.7" cy="17.0" r="1.05" fill="rgb(214,214,214)"/><circle cx="50.1" cy="27.6" r="1.09" fill="rgb(208,208,208)"/><circle cx="53.1" cy="2.5" r="1.11" fill="rgb(197,197,197)"/><circle cx="23.7" cy="7.0" r="1.21" fill="rgb(246,246,246)"/><circle cx="54.9" cy="28.6" r="0.86" fill="rgb(221,221,221)"/><circle cx="41.5" cy="42.6" r="0.87" fill="rgb(243,243,243)"/><circle cx="13.0" cy="46.8" r="0.78" fill="rgb(201,201,201)"/><circle cx="14.3" cy="22.0" r="0.48" fill="rgb(217,217,217)"/><circle cx="34.7" cy="43.9" r="1.09" fill="rgb(227,227,227)"/><circle cx="61.9" cy="39.7" r="1.03" fill="rgb(233,233,233)"/><circle cx="15.9" cy="49.4" r="0.72" fill="rgb(249,249,249)"/><circle cx="13.4" cy="50.3" r="0.95" fill="rgb(205,205,205)"/><circle cx="41.1" cy="37.2" r="0.46" fill="rgb(222,222,222)"/><circle cx="67.2" cy="48.8" r="1.25" fill="rgb(212,212,212)"/><circle cx="0.7" cy="50.5" r="1.11" fill="rgb(194,194,194)"/><circle cx="19.1" cy="39.4" r="1.03" fill="rgb(231,231,231)"/><circle cx="12.0" cy="23.9" r="0.59" fill="rgb(190,190,190)"/><circle cx="4.5" cy="10.2" r="0.87" fill="rgb(196,196,196)"/><circle cx="22.6" cy="38.4" r="1.09" fill="rgb(221,221,221)"/><circle cx="25.6" cy="40.7" r="0.77" fill="rgb(200,200,200)"/><circle cx="37.9" cy="27.3" r="1.10" fill="rgb(209,209,209)"/><circle cx="10.4" cy="39.9" r="0.92" fill="rgb(224,224,224)"/><circle cx="41.4" cy="17.0" r="1.17" fill="rgb(234,234,234)"/><circle cx="20.8" cy="28.3" r="1.07" fill="rgb(233,233,233)"/><circle cx="48.6" cy="37.9" r="0.46" fill="rgb(229,229,229)"/><circle cx="50.8" cy="5.8" r="0.72" fill="rgb(202,202,202)"/><circle cx="52.7" cy="15.2" r="0.87" fill="rgb(208,208,208)"/><circle cx="44.5" cy="42.3" r="0.97" fill="rgb(237,237,237)"/><circle cx="10.9" cy="47.4" r="0.80" fill="rgb(207,207,207)"/><circle cx="61.2" cy="23.3" r="0.87" fill="rgb(225,225,225)"/><circle cx="30.1" cy="33.6" r="0.65" fill="rgb(230,230,230)"/><circle cx="41.3" cy="27.5" r="0.63" fill="rgb(205,205,205)"/><circle cx="45.6" cy="37.0" r="1.13" fill="rgb(243,243,243)"/><circle cx="69.4" cy="18.0" r="0.45" fill="rgb(219,219,219)"/><circle cx="18.9" cy="30.2" r="0.75" fill="rgb(200,200,200)"/><circle cx="49.1" cy="34.8" r="0.89" fill="rgb(201,201,201)"/><circle cx="44.6" cy="22.8" r="0.92" fill="rgb(236,236,236)"/><circle cx="12.5" cy="41.5" r="1.17" fill="rgb(234,234,234)"/><circle cx="36.2" cy="38.9" r="0.69" fill="rgb(236,236,236)"/><circle cx="28.6" cy="35.1" r="0.74" fill="rgb(228,228,228)"/><circle cx="60.7" cy="48.2" r="1.28" fill="rgb(218,218,218)"/><circle cx="56.2" cy="19.0" r="1.28" fill="rgb(247,247,247)"/><circle cx="43.2" cy="21.9" r="1.34" fill="rgb(238,238,238)"/><circle cx="42.2" cy="21.2" r="1.04" fill="rgb(211,211,211)"/><circle cx="43.7" cy="20.8" r="0.82" fill="rgb(239,239,239)"/><circle cx="0.5" cy="12.8" r="1.23" fill="rgb(197,197,197)"/><circle cx="5.1" cy="25.3" r="0.47" fill="rgb(234,234,234)"/><circle cx="9.4" cy="40.8" r="0.68" fill="rgb(240,240,240)"/><circle cx="46.4" cy="25.6" r="1.21" fill="rgb(193,193,193)"/><circle cx="35.4" cy="45.6" r="0.97" fill="rgb(214,214,214)"/><circle cx="30.6" cy="45.6" r="1.15" fill="rgb(235,235,235)"/><circle cx="68.7" cy="43.9" r="0.54" fill="rgb(218,218,218)"/><circle cx="20.5" cy="42.8" r="0.76" fill="rgb(199,199,199)"/><circle cx="25.5" cy="50.8" r="1.15" fill="rgb(245,245,245)"/><circle cx="27.5" cy="44.2" r="0.89" fill="rgb(248,248,248)"/><circle cx="13.9" cy="25.8" r="1.19" fill="rgb(244,244,244)"/><circle cx="22.3" cy="28.8" r="0.53" fill="rgb(229,229,229)"/><circle cx="19.3" cy="28.5" r="0.81" fill="rgb(226,226,226)"/><circle cx="20.2" cy="17.5" r="1.11" fill="rgb(212,212,212)"/><circle cx="14.3" cy="36.5" r="0.73" fill="rgb(191,191,191)"/><circle cx="36.7" cy="32.4" r="0.80" fill="rgb(241,241,241)"/><circle cx="27.3" cy="25.5" r="0.60" fill="rgb(239,239,239)"/><circle cx="57.4" cy="40.5" r="1.30" fill="rgb(237,237,237)"/><circle cx="32.1" cy="31.9" r="0.60" fill="rgb(221,221,221)"/><circle cx="37.1" cy="11.4" r="0.89" fill="rgb(242,242,242)"/><circle cx="60.2" cy="12.8" r="0.90" fill="rgb(221,221,221)"/><circle cx="43.4" cy="10.5" r="1.21" fill="rgb(230,230,230)"/><circle cx="55.8" cy="45.4" r="0.65" fill="rgb(226,226,226)"/><circle cx="58.8" cy="23.7" r="0.47" fill="rgb(242,242,242)"/><circle cx="43.1" cy="27.0" r="0.49" fill="rgb(238,238,238)"/><circle cx="36.1" cy="30.4" r="1.32" fill="rgb(228,228,228)"/><circle cx="3.7" cy="24.1" r="0.67" fill="rgb(236,236,236)"/><circle cx="40.6" cy="1.2" r="1.24" fill="rgb(192,192,192)"/><circle cx="19.1" cy="39.4" r="1.28" fill="rgb(220,220,220)"/><circle cx="21.2" cy="32.5" r="1.17" fill="rgb(219,219,219)"/><circle cx="21.1" cy="49.6" r="0.56" fill="rgb(226,226,226)"/><circle cx="30.9" cy="43.2" r="0.81" fill="rgb(234,234,234)"/><circle cx="43.6" cy="33.2" r="0.78" fill="rgb(247,247,247)"/><circle cx="19.5" cy="36.0" r="0.51" fill="rgb(197,197,197)"/><circle cx="19.2" cy="45.4" r="1.23" fill="rgb(211,211,211)"/><circle cx="7.3" cy="19.3" r="0.93" fill="rgb(233,233,233)"/><circle cx="34.1" cy="36.1" r="1.19" fill="rgb(192,192,192)"/><circle cx="20.2" cy="45.6" r="1.22" fill="rgb(248,248,248)"/><circle cx="33.6" cy="29.8" r="0.46" fill="rgb(201,201,201)"/><circle cx="0.6" cy="43.6" r="1.26" fill="rgb(200,200,200)"/><circle cx="20.4" cy="35.8" r="1.06" fill="rgb(249,249,249)"/><circle cx="45.7" cy="12.0" r="1.03" fill="rgb(242,242,242)"/><circle cx="62.0" cy="10.2" r="0.98" fill="rgb(234,234,234)"/><circle cx="55.8" cy="5.7" r="0.85" fill="rgb(211,211,211)"/><circle cx="32.4" cy="9.9" r="0.52" fill="rgb(201,201,201)"/><circle cx="64.3" cy="0.0" r="0.48" fill="rgb(196,196,196)"/><circle cx="44.4" cy="40.7" r="1.32" fill="rgb(242,242,242)"/><circle cx="35.7" cy="49.7" r="0.54" fill="rgb(207,207,207)"/><circle cx="35.6" cy="35.7" r="0.91" fill="rgb(192,192,192)"/><circle cx="37.9" cy="26.4" r="0.59" fill="rgb(229,229,229)"/><circle cx="45.5" cy="6.3" r="1.24" fill="rgb(239,239,239)"/><circle cx="25.3" cy="41.5" r="1.16" fill="rgb(239,239,239)"/><circle cx="49.0" cy="10.3" r="0.86" fill="rgb(220,220,220)"/><circle cx="1.1" cy="18.8" r="0.78" fill="rgb(214,214,214)"/><circle cx="14.1" cy="21.4" r="1.07" fill="rgb(201,201,201)"/><circle cx="41.5" cy="31.4" r="0.61" fill="rgb(238,238,238)"/><circle cx="43.0" cy="21.3" r="1.24" fill="rgb(190,190,190)"/><circle cx="9.3" cy="44.0" r="0.55" fill="rgb(192,192,192)"/><circle cx="33.8" cy="28.4" r="0.47" fill="rgb(228,228,228)"/><circle cx="20.3" cy="45.4" r="1.13" fill="rgb(209,209,209)"/><circle cx="22.2" cy="43.0" r="0.59" fill="rgb(221,221,221)"/><circle cx="37.5" cy="33.8" r="0.77" fill="rgb(228,228,228)"/><circle cx="28.0" cy="28.0" r="0.90" fill="rgb(193,193,193)"/><circle cx="55.3" cy="28.0" r="0.58" fill="rgb(194,194,194)"/><circle cx="7.4" cy="29.6" r="1.05" fill="rgb(194,194,194)"/><circle cx="15.6" cy="48.9" r="0.59" fill="rgb(204,204,204)"/><circle cx="44.0" cy="25.1" r="1.23" fill="rgb(220,220,220)"/><circle cx="11.9" cy="38.7" r="0.45" fill="rgb(192,192,192)"/><circle cx="56.7" cy="41.9" r="0.71" fill="rgb(226,226,226)"/><circle cx="44.0" cy="8.4" r="0.68" fill="rgb(221,221,221)"/><circle cx="34.4" cy="29.0" r="1.27" fill="rgb(214,214,214)"/><circle cx="11.9" cy="42.9" r="1.29" fill="rgb(239,239,239)"/><circle cx="9.3" cy="51.6" r="0.46" fill="rgb(243,243,243)"/><circle cx="56.2" cy="33.7" r="0.57" fill="rgb(222,222,222)"/><circle cx="51.4" cy="13.3" r="0.66" fill="rgb(213,213,213)"/><circle cx="40.3" cy="17.2" r="1.06" fill="rgb(243,243,243)"/><circle cx="49.4" cy="40.7" r="0.57" fill="rgb(241,241,241)"/><circle cx="29.8" cy="35.0" r="1.05" fill="rgb(240,240,240)"/><circle cx="12.0" cy="51.2" r="0.95" fill="rgb(209,209,209)"/><circle cx="7.4" cy="25.0" r="1.20" fill="rgb(190,190,190)"/><circle cx="11.1" cy="29.2" r="0.69" fill="rgb(227,227,227)"/><circle cx="50.6" cy="32.9" r="0.69" fill="rgb(241,241,241)"/><circle cx="9.9" cy="37.3" r="0.60" fill="rgb(216,216,216)"/><circle cx="19.4" cy="43.8" r="1.05" fill="rgb(193,193,193)"/><circle cx="15.5" cy="25.2" r="1.09" fill="rgb(228,228,228)"/><circle cx="30.0" cy="35.9" r="0.81" fill="rgb(244,244,244)"/><circle cx="48.2" cy="40.5" r="0.74" fill="rgb(221,221,221)"/><circle cx="33.6" cy="33.5" r="1.17" fill="rgb(202,202,202)"/><circle cx="8.9" cy="51.8" r="1.18" fill="rgb(243,243,243)"/><circle cx="37.3" cy="20.6" r="0.63" fill="rgb(243,243,243)"/><circle cx="20.2" cy="43.8" r="0.54" fill="rgb(242,242,242)"/><circle cx="19.8" cy="27.4" r="0.53" fill="rgb(206,206,206)"/><circle cx="23.3" cy="29.2" r="0.45" fill="rgb(201,201,201)"/><circle cx="11.0" cy="35.7" r="1.16" fill="rgb(214,214,214)"/><circle cx="35.3" cy="36.4" r="0.66" fill="rgb(219,219,219)"/><circle cx="8.9" cy="23.8" r="0.67" fill="rgb(204,204,204)"/><circle cx="7.5" cy="19.3" r="0.82" fill="rgb(196,196,196)"/><circle cx="12.5" cy="6.8" r="0.63" fill="rgb(203,203,203)"/><circle cx="40.9" cy="24.9" r="0.51" fill="rgb(197,197,197)"/><circle cx="43.5" cy="31.8" r="1.05" fill="rgb(222,222,222)"/><circle cx="55.3" cy="18.3" r="0.53" fill="rgb(249,249,249)"/><circle cx="61.0" cy="18.5" r="0.67" fill="rgb(234,234,234)"/><circle cx="21.1" cy="50.4" r="0.47" fill="rgb(199,199,199)"/><circle cx="50.0" cy="3.5" r="1.32" fill="rgb(215,215,215)"/><circle cx="31.4" cy="36.2" r="0.54" fill="rgb(191,191,191)"/><circle cx="13.1" cy="25.2" r="0.91" fill="rgb(237,237,237)"/><circle cx="43.7" cy="43.1" r="0.99" fill="rgb(191,191,191)"/><circle cx="53.8" cy="6.3" r="0.45" fill="rgb(226,226,226)"/><circle cx="44.6" cy="30.3" r="1.34" fill="rgb(196,196,196)"/><circle cx="29.1" cy="34.6" r="1.22" fill="rgb(228,228,228)"/><circle cx="54.4" cy="31.0" r="1.20" fill="rgb(216,216,216)"/><circle cx="45.8" cy="30.1" r="0.77" fill="rgb(225,225,225)"/><circle cx="27.4" cy="43.5" r="0.54" fill="rgb(217,217,217)"/><circle cx="16.6" cy="19.2" r="1.09" fill="rgb(216,216,216)"/><circle cx="21.5" cy="51.1" r="1.06" fill="rgb(196,196,196)"/><circle cx="31.7" cy="41.4" r="1.26" fill="rgb(233,233,233)"/><circle cx="54.5" cy="12.7" r="0.73" fill="rgb(192,192,192)"/><circle cx="1.1" cy="33.9" r="0.60" fill="rgb(213,213,213)"/><circle cx="45.6" cy="27.7" r="0.64" fill="rgb(212,212,212)"/><circle cx="34.4" cy="29.9" r="1.09" fill="rgb(221,221,221)"/><circle cx="42.2" cy="6.6" r="0.78" fill="rgb(214,214,214)"/><circle cx="33.8" cy="26.6" r="1.11" fill="rgb(202,202,202)"/><circle cx="2.3" cy="22.0" r="1.05" fill="rgb(195,195,195)"/><circle cx="1.3" cy="5.5" r="0.72" fill="rgb(206,206,206)"/><circle cx="21.9" cy="34.9" r="0.52" fill="rgb(232,232,232)"/><circle cx="43.8" cy="45.1" r="0.63" fill="rgb(216,216,216)"/><circle cx="13.9" cy="20.8" r="0.63" fill="rgb(208,208,208)"/><circle cx="51.0" cy="47.8" r="0.64" fill="rgb(222,222,222)"/><circle cx="27.7" cy="12.1" r="1.20" fill="rgb(232,232,232)"/><circle cx="30.0" cy="27.5" r="0.54" fill="rgb(209,209,209)"/><circle cx="31.2" cy="41.6" r="0.88" fill="rgb(247,247,247)"/><circle cx="43.8" cy="8.9" r="0.61" fill="rgb(193,193,193)"/><circle cx="28.1" cy="0.7" r="1.19" fill="rgb(231,231,231)"/><circle cx="59.4" cy="12.7" r="0.64" fill="rgb(204,204,204)"/><circle cx="37.7" cy="20.0" r="0.59" fill="rgb(209,209,209)"/><circle cx="47.2" cy="24.8" r="0.99" fill="rgb(232,232,232)"/><circle cx="43.1" cy="0.8" r="0.97" fill="rgb(235,235,235)"/><circle cx="60.1" cy="21.1" r="1.33" fill="rgb(219,219,219)"/><circle cx="60.7" cy="3.9" r="0.76" fill="rgb(236,236,236)"/><circle cx="33.2" cy="9.8" r="1.27" fill="rgb(207,207,207)"/><circle cx="12.9" cy="44.1" r="1.34" fill="rgb(210,210,210)"/><circle cx="19.1" cy="24.6" r="0.87" fill="rgb(231,231,231)"/><circle cx="67.1" cy="25.1" r="0.85" fill="rgb(195,195,195)"/><circle cx="67.1" cy="1.1" r="1.02" fill="rgb(194,194,194)"/><circle cx="2.2" cy="3.2" r="1.07" fill="rgb(244,244,244)"/><circle cx="30.9" cy="45.9" r="1.32" fill="rgb(224,224,224)"/><circle cx="10.6" cy="35.5" r="1.05" fill="rgb(190,190,190)"/><circle cx="33.2" cy="32.4" r="1.32" fill="rgb(205,205,205)"/><circle cx="4.8" cy="51.2" r="0.49" fill="rgb(210,210,210)"/><circle cx="18.5" cy="49.3" r="1.29" fill="rgb(222,222,222)"/><circle cx="55.4" cy="38.7" r="1.20" fill="rgb(206,206,206)"/><circle cx="44.1" cy="14.4" r="0.75" fill="rgb(223,223,223)"/><circle cx="45.3" cy="17.0" r="1.19" fill="rgb(248,248,248)"/><circle cx="2.2" cy="39.3" r="1.10" fill="rgb(221,221,221)"/><circle cx="37.3" cy="27.4" r="0.91" fill="rgb(198,198,198)"/><circle cx="20.7" cy="35.5" r="0.69" fill="rgb(194,194,194)"/><circle cx="39.4" cy="34.4" r="1.12" fill="rgb(200,200,200)"/><circle cx="53.2" cy="23.7" r="0.77" fill="rgb(220,220,220)"/><circle cx="59.2" cy="46.5" r="1.09" fill="rgb(191,191,191)"/><circle cx="68.0" cy="43.7" r="0.79" fill="rgb(202,202,202)"/><circle cx="22.6" cy="18.8" r="0.64" fill="rgb(203,203,203)"/><circle cx="2.5" cy="37.2" r="0.68" fill="rgb(247,247,247)"/><circle cx="15.3" cy="19.6" r="1.29" fill="rgb(238,238,238)"/><circle cx="51.1" cy="26.5" r="1.11" fill="rgb(215,215,215)"/><circle cx="8.2" cy="24.1" r="1.28" fill="rgb(222,222,222)"/><circle cx="11.6" cy="38.6" r="0.56" fill="rgb(248,248,248)"/><circle cx="23.7" cy="23.9" r="1.05" fill="rgb(236,236,236)"/><circle cx="16.1" cy="0.2" r="1.18" fill="rgb(246,246,246)"/><circle cx="27.4" cy="40.1" r="0.84" fill="rgb(200,200,200)"/><circle cx="13.3" cy="41.4" r="1.24" fill="rgb(197,197,197)"/><circle cx="4.4" cy="47.9" r="1.33" fill="rgb(235,235,235)"/><circle cx="29.6" cy="18.5" r="0.88" fill="rgb(233,233,233)"/><circle cx="11.2" cy="40.6" r="0.98" fill="rgb(215,215,215)"/><circle cx="32.6" cy="29.0" r="1.11" fill="rgb(212,212,212)"/><circle cx="36.1" cy="3.9" r="0.54" fill="rgb(191,191,191)"/><circle cx="32.6" cy="35.4" r="0.97" fill="rgb(248,248,248)"/><circle cx="55.2" cy="38.5" r="0.53" fill="rgb(224,224,224)"/><circle cx="17.6" cy="43.6" r="1.15" fill="rgb(239,239,239)"/><circle cx="46.7" cy="20.6" r="0.82" fill="rgb(190,190,190)"/><circle cx="33.7" cy="31.4" r="1.06" fill="rgb(196,196,196)"/><circle cx="43.2" cy="11.8" r="1.26" fill="rgb(248,248,248)"/><circle cx="58.5" cy="17.9" r="1.02" fill="rgb(213,213,213)"/><circle cx="45.1" cy="35.0" r="1.11" fill="rgb(249,249,249)"/><circle cx="47.3" cy="37.3" r="0.80" fill="rgb(226,226,226)"/><circle cx="56.4" cy="23.9" r="0.97" fill="rgb(217,217,217)"/><circle cx="25.3" cy="43.8" r="1.33" fill="rgb(203,203,203)"/><circle cx="2.9" cy="47.5" r="0.54" fill="rgb(229,229,229)"/><circle cx="18.4" cy="15.9" r="0.98" fill="rgb(207,207,207)"/><circle cx="10.3" cy="7.9" r="0.74" fill="rgb(240,240,240)"/><circle cx="59.6" cy="25.0" r="0.88" fill="rgb(213,213,213)"/><circle cx="11.5" cy="42.9" r="0.70" fill="rgb(219,219,219)"/><circle cx="2.6" cy="23.3" r="0.69" fill="rgb(211,211,211)"/><circle cx="40.0" cy="30.1" r="0.71" fill="rgb(231,231,231)"/><circle cx="41.1" cy="23.5" r="0.54" fill="rgb(215,215,215)"/><circle cx="40.0" cy="29.5" r="1.23" fill="rgb(191,191,191)"/><circle cx="43.3" cy="20.2" r="0.91" fill="rgb(203,203,203)"/><circle cx="26.8" cy="39.9" r="1.31" fill="rgb(248,248,248)"/><circle cx="41.2" cy="13.4" r="1.06" fill="rgb(246,246,246)"/><circle cx="42.3" cy="46.2" r="0.53" fill="rgb(229,229,229)"/><circle cx="43.4" cy="50.6" r="1.13" fill="rgb(191,191,191)"/><circle cx="25.7" cy="48.0" r="1.35" fill="rgb(224,224,224)"/><circle cx="39.7" cy="23.8" r="0.54" fill="rgb(201,201,201)"/><circle cx="16.3" cy="35.9" r="1.11" fill="rgb(195,195,195)"/><circle cx="13.4" cy="8.3" r="1.07" fill="rgb(239,239,239)"/><circle cx="19.1" cy="45.8" r="1.05" fill="rgb(219,219,219)"/><circle cx="40.3" cy="28.0" r="0.47" fill="rgb(241,241,241)"/><circle cx="19.6" cy="41.6" r="1.18" fill="rgb(205,205,205)"/><circle cx="10.2" cy="32.9" r="1.32" fill="rgb(231,231,231)"/><circle cx="30.3" cy="39.1" r="1.01" fill="rgb(237,237,237)"/><circle cx="46.7" cy="40.4" r="1.07" fill="rgb(239,239,239)"/><circle cx="22.4" cy="0.0" r="1.29" fill="rgb(193,193,193)"/><circle cx="4.2" cy="32.8" r="0.80" fill="rgb(195,195,195)"/><circle cx="24.2" cy="26.1" r="0.51" fill="rgb(226,226,226)"/><circle cx="40.0" cy="29.7" r="0.96" fill="rgb(191,191,191)"/><circle cx="35.9" cy="24.6" r="0.58" fill="rgb(225,225,225)"/><circle cx="69.5" cy="38.7" r="0.53" fill="rgb(228,228,228)"/><circle cx="36.8" cy="40.9" r="1.19" fill="rgb(193,193,193)"/><circle cx="45.8" cy="31.9" r="0.84" fill="rgb(217,217,217)"/><circle cx="30.9" cy="34.4" r="1.25" fill="rgb(191,191,191)"/><circle cx="19.9" cy="24.0" r="0.78" fill="rgb(240,240,240)"/><circle cx="45.4" cy="33.4" r="0.66" fill="rgb(239,239,239)"/><circle cx="45.5" cy="23.2" r="0.86" fill="rgb(199,199,199)"/><circle cx="29.6" cy="4.3" r="0.61" fill="rgb(198,198,198)"/><circle cx="8.0" cy="2.1" r="0.73" fill="rgb(218,218,218)"/><circle cx="51.2" cy="14.0" r="0.46" fill="rgb(223,223,223)"/><circle cx="61.1" cy="9.7" r="0.68" fill="rgb(231,231,231)"/><circle cx="47.8" cy="23.3" r="0.88" fill="rgb(229,229,229)"/><circle cx="26" cy="7" r="5" fill="#f2f2f2" opacity="0.55" filter="url(#hblur1)"/><circle cx="10" cy="30" r="6" fill="#f2f2f2" opacity="0.55" filter="url(#hblur1)"/><circle cx="30" cy="40" r="8" fill="#f2f2f2" opacity="0.55" filter="url(#hblur1)"/><circle cx="45" cy="33" r="6" fill="#f2f2f2" opacity="0.55" filter="url(#hblur1)"/><circle cx="16" cy="46" r="7" fill="#f2f2f2" opacity="0.55" filter="url(#hblur1)"/><circle cx="58" cy="10" r="4" fill="#f2f2f2" opacity="0.55" filter="url(#hblur1)"/><ellipse cx="47.3" cy="20.5" rx="2.6" ry="3.2" fill="#383838" filter="url(#hblur0)"/></g>
<g transform="translate(278.4 673.1)" clip-path="url(#hclip)"><rect width="69.6" height="51.8" fill="#560908"/><use href="#hred1"/></g>
<g transform="translate(348.9 673.1)" clip-path="url(#hclip)"><rect width="69.6" height="51.8" fill="#020818"/><use href="#hdapi1"/></g>
<g transform="translate(419.5 673.1)" clip-path="url(#hclip)"><rect width="69.6" height="51.8" fill="#0a0312"/><use href="#hdapi1"/><use href="#hred1" style="mix-blend-mode:screen"/></g>
<g transform="translate(207.4 725.8)" clip-path="url(#hclip)"><rect width="69.6" height="51.8" fill="#949494"/><rect width="69.6" height="51.8" filter="url(#grain)" opacity="0.22"/><circle cx="35.5" cy="30.9" r="0.48" fill="rgb(245,245,245)"/><circle cx="50.8" cy="39.4" r="0.57" fill="rgb(240,240,240)"/><circle cx="51.1" cy="30.7" r="0.36" fill="rgb(217,217,217)"/><circle cx="67.5" cy="28.9" r="0.53" fill="rgb(227,227,227)"/><circle cx="9.9" cy="17.0" r="0.77" fill="rgb(218,218,218)"/><circle cx="26.9" cy="50.4" r="0.61" fill="rgb(217,217,217)"/><circle cx="5.7" cy="30.9" r="0.60" fill="rgb(206,206,206)"/><circle cx="64.9" cy="32.3" r="0.62" fill="rgb(241,241,241)"/><circle cx="27.6" cy="50.6" r="0.71" fill="rgb(212,212,212)"/><circle cx="31.7" cy="50.2" r="0.66" fill="rgb(190,190,190)"/><circle cx="59.3" cy="21.5" r="0.48" fill="rgb(219,219,219)"/><circle cx="14.2" cy="34.5" r="0.67" fill="rgb(217,217,217)"/><circle cx="33.5" cy="17.3" r="0.72" fill="rgb(240,240,240)"/><circle cx="3.5" cy="32.7" r="0.78" fill="rgb(249,249,249)"/><circle cx="54.1" cy="49.4" r="0.68" fill="rgb(240,240,240)"/><circle cx="51.4" cy="13.0" r="0.73" fill="rgb(227,227,227)"/><circle cx="37.0" cy="12.4" r="0.87" fill="rgb(238,238,238)"/><circle cx="54.7" cy="12.6" r="0.40" fill="rgb(201,201,201)"/><circle cx="26.5" cy="17.6" r="0.75" fill="rgb(213,213,213)"/><circle cx="69.2" cy="2.8" r="0.54" fill="rgb(242,242,242)"/><circle cx="34.9" cy="34.8" r="0.81" fill="rgb(228,228,228)"/><circle cx="11.9" cy="2.6" r="0.89" fill="rgb(214,214,214)"/><circle cx="36.1" cy="5.7" r="0.60" fill="rgb(211,211,211)"/><circle cx="11.4" cy="35.1" r="0.71" fill="rgb(226,226,226)"/><circle cx="57.9" cy="50.1" r="0.81" fill="rgb(194,194,194)"/><circle cx="36.5" cy="34.5" r="0.83" fill="rgb(222,222,222)"/><circle cx="31.3" cy="15.0" r="0.44" fill="rgb(240,240,240)"/><circle cx="1.2" cy="38.3" r="0.88" fill="rgb(193,193,193)"/><circle cx="12.8" cy="14.6" r="0.79" fill="rgb(238,238,238)"/><circle cx="63.9" cy="31.5" r="0.61" fill="rgb(219,219,219)"/><circle cx="38.8" cy="38.0" r="0.48" fill="rgb(244,244,244)"/><circle cx="13.0" cy="50.7" r="0.58" fill="rgb(192,192,192)"/><circle cx="7.1" cy="34.5" r="0.85" fill="rgb(195,195,195)"/><circle cx="1.6" cy="17.3" r="0.77" fill="rgb(201,201,201)"/><circle cx="27.8" cy="13.9" r="0.30" fill="rgb(196,196,196)"/><circle cx="24.4" cy="32.5" r="0.72" fill="rgb(229,229,229)"/><circle cx="62.9" cy="30.5" r="0.68" fill="rgb(232,232,232)"/><circle cx="21.9" cy="51.4" r="0.38" fill="rgb(244,244,244)"/><circle cx="32.8" cy="11.8" r="0.51" fill="rgb(223,223,223)"/><circle cx="11.4" cy="4.0" r="0.46" fill="rgb(247,247,247)"/><circle cx="52.9" cy="18.2" r="0.72" fill="rgb(203,203,203)"/><circle cx="8.9" cy="23.1" r="0.51" fill="rgb(248,248,248)"/><circle cx="6.6" cy="39.9" r="0.36" fill="rgb(246,246,246)"/><circle cx="52.2" cy="49.6" r="0.69" fill="rgb(197,197,197)"/><circle cx="65.6" cy="48.8" r="0.72" fill="rgb(233,233,233)"/><circle cx="47.8" cy="22.3" r="0.47" fill="rgb(204,204,204)"/><circle cx="39.8" cy="15.3" r="0.68" fill="rgb(207,207,207)"/><circle cx="5.0" cy="43.9" r="0.67" fill="rgb(222,222,222)"/><circle cx="49.7" cy="48.8" r="0.63" fill="rgb(209,209,209)"/><circle cx="68.3" cy="4.9" r="0.59" fill="rgb(226,226,226)"/><circle cx="14.9" cy="15.3" r="0.89" fill="rgb(244,244,244)"/><circle cx="12.6" cy="40.1" r="0.86" fill="rgb(226,226,226)"/><circle cx="59.6" cy="8.7" r="0.48" fill="rgb(195,195,195)"/><circle cx="34.4" cy="34.9" r="0.49" fill="rgb(208,208,208)"/><circle cx="48.1" cy="44.5" r="0.81" fill="rgb(220,220,220)"/><circle cx="4.1" cy="24.6" r="0.37" fill="rgb(238,238,238)"/><circle cx="7.4" cy="45.2" r="0.35" fill="rgb(212,212,212)"/><circle cx="41.7" cy="30.0" r="0.52" fill="rgb(190,190,190)"/><circle cx="26.7" cy="34.3" r="0.56" fill="rgb(246,246,246)"/><circle cx="43.7" cy="22.9" r="0.32" fill="rgb(196,196,196)"/><circle cx="19.1" cy="46.0" r="0.85" fill="rgb(217,217,217)"/><circle cx="17.6" cy="11.1" r="0.63" fill="rgb(225,225,225)"/><circle cx="19.3" cy="38.9" r="0.55" fill="rgb(202,202,202)"/><circle cx="9.3" cy="35.6" r="0.74" fill="rgb(246,246,246)"/><circle cx="25.2" cy="14.8" r="0.82" fill="rgb(207,207,207)"/><circle cx="26.5" cy="36.0" r="0.38" fill="rgb(210,210,210)"/><circle cx="6.4" cy="49.5" r="0.66" fill="rgb(240,240,240)"/><circle cx="18.9" cy="35.7" r="0.64" fill="rgb(220,220,220)"/><circle cx="45.8" cy="11.6" r="0.68" fill="rgb(226,226,226)"/><circle cx="4.6" cy="15.7" r="0.48" fill="rgb(207,207,207)"/><circle cx="64.3" cy="0.8" r="0.58" fill="rgb(228,228,228)"/><circle cx="68.9" cy="23.1" r="0.36" fill="rgb(227,227,227)"/><circle cx="33.7" cy="1.6" r="0.33" fill="rgb(214,214,214)"/><circle cx="34.5" cy="51.8" r="0.36" fill="rgb(197,197,197)"/><circle cx="15.7" cy="35.6" r="0.73" fill="rgb(202,202,202)"/><circle cx="15.2" cy="48.0" r="0.32" fill="rgb(226,226,226)"/><circle cx="52.3" cy="15.9" r="0.85" fill="rgb(237,237,237)"/><circle cx="47.7" cy="3.7" r="0.47" fill="rgb(217,217,217)"/><circle cx="50.3" cy="45.8" r="0.32" fill="rgb(223,223,223)"/><circle cx="59.9" cy="32.5" r="0.84" fill="rgb(247,247,247)"/><circle cx="0.7" cy="51.7" r="0.49" fill="rgb(219,219,219)"/><circle cx="5.8" cy="23.0" r="0.36" fill="rgb(193,193,193)"/><circle cx="4.0" cy="20.1" r="0.81" fill="rgb(223,223,223)"/><circle cx="34.1" cy="14.0" r="0.55" fill="rgb(200,200,200)"/><circle cx="17.3" cy="39.8" r="0.42" fill="rgb(192,192,192)"/><circle cx="32.5" cy="11.9" r="0.36" fill="rgb(198,198,198)"/><circle cx="8.0" cy="15.2" r="0.72" fill="rgb(224,224,224)"/><circle cx="0.5" cy="42.7" r="0.89" fill="rgb(204,204,204)"/><circle cx="5.5" cy="24.2" r="0.88" fill="rgb(238,238,238)"/><circle cx="2.6" cy="27.7" r="0.89" fill="rgb(220,220,220)"/><circle cx="43.1" cy="21.2" r="0.43" fill="rgb(200,200,200)"/><circle cx="57.8" cy="20.4" r="0.83" fill="rgb(238,238,238)"/><circle cx="37.6" cy="42.7" r="0.57" fill="rgb(196,196,196)"/><circle cx="53.9" cy="12.4" r="0.79" fill="rgb(235,235,235)"/><circle cx="28.2" cy="51.2" r="0.68" fill="rgb(194,194,194)"/><circle cx="13.1" cy="37.2" r="0.85" fill="rgb(220,220,220)"/><circle cx="28.6" cy="17.5" r="0.52" fill="rgb(190,190,190)"/><circle cx="27.9" cy="34.7" r="0.81" fill="rgb(244,244,244)"/><circle cx="58.2" cy="18.9" r="0.81" fill="rgb(221,221,221)"/><circle cx="21.0" cy="36.1" r="0.59" fill="rgb(191,191,191)"/><circle cx="2.3" cy="35.4" r="0.87" fill="rgb(204,204,204)"/><circle cx="41.0" cy="51.7" r="0.55" fill="rgb(204,204,204)"/><circle cx="24.7" cy="34.4" r="0.73" fill="rgb(224,224,224)"/><circle cx="41.4" cy="0.9" r="0.41" fill="rgb(196,196,196)"/><circle cx="31.5" cy="14.1" r="0.89" fill="rgb(193,193,193)"/><circle cx="37.0" cy="10.8" r="0.61" fill="rgb(241,241,241)"/><circle cx="47.3" cy="3.0" r="0.68" fill="rgb(223,223,223)"/><circle cx="65.3" cy="27.7" r="0.59" fill="rgb(231,231,231)"/><circle cx="6.0" cy="34.8" r="0.44" fill="rgb(199,199,199)"/><circle cx="52.3" cy="39.1" r="0.58" fill="rgb(249,249,249)"/><line x1="13.5" y1="6.7" x2="28.3" y2="33.2" stroke="#dcdcdc" stroke-width="0.4" opacity="0.85"/><line x1="28.3" y1="33.2" x2="54.8" y2="17.3" stroke="#dcdcdc" stroke-width="0.4" opacity="0.85"/><line x1="28.3" y1="33.2" x2="0" y2="26" stroke="#dcdcdc" stroke-width="0.4" opacity="0.85"/><line x1="54.8" y1="17.3" x2="53.7" y2="4.6" stroke="#dcdcdc" stroke-width="0.4" opacity="0.85"/><line x1="28.3" y1="33.2" x2="30" y2="51.8" stroke="#dcdcdc" stroke-width="0.4" opacity="0.85"/><line x1="54.8" y1="17.3" x2="69.6" y2="22" stroke="#dcdcdc" stroke-width="0.4" opacity="0.85"/><circle cx="13.5" cy="6.7" r="3.6" fill="#b4b4b4" stroke="#f0f0f0" stroke-width="2.40" filter="url(#hblur3)"/><circle cx="54.8" cy="17.3" r="3.7" fill="#b4b4b4" stroke="#f0f0f0" stroke-width="2.50" filter="url(#hblur3)"/><circle cx="28.3" cy="33.2" r="4.4" fill="#b4b4b4" stroke="#f0f0f0" stroke-width="3.00" filter="url(#hblur3)"/><circle cx="53.7" cy="4.6" r="3.0" fill="#b4b4b4" stroke="#f0f0f0" stroke-width="2.00" filter="url(#hblur3)"/><circle cx="1.5" cy="18" r="1.5" fill="#f2f2f2" opacity="0.95" filter="url(#hblur1)"/></g>
<g transform="translate(278.4 725.8)" clip-path="url(#hclip)"><rect width="69.6" height="51.8" fill="#300000"/><use href="#hred2"/></g>
<g transform="translate(348.9 725.8)" clip-path="url(#hclip)"><rect width="69.6" height="51.8" fill="#030a1c"/><use href="#hdapi2"/></g>
<g transform="translate(419.5 725.8)" clip-path="url(#hclip)"><rect width="69.6" height="51.8" fill="#220610"/><use href="#hdapi2"/><use href="#hred2" style="mix-blend-mode:screen"/></g>
<g transform="translate(207.4 778.6)" clip-path="url(#hclip)"><rect width="69.6" height="51.8" fill="#949494"/><rect width="69.6" height="51.8" filter="url(#grain)" opacity="0.22"/><circle cx="3.6" cy="4.5" r="0.36" fill="rgb(244,244,244)"/><circle cx="8.1" cy="38.7" r="0.50" fill="rgb(210,210,210)"/><circle cx="17.1" cy="0.1" r="0.35" fill="rgb(225,225,225)"/><circle cx="4.9" cy="16.3" r="0.84" fill="rgb(195,195,195)"/><circle cx="12.6" cy="37.2" r="0.46" fill="rgb(240,240,240)"/><circle cx="53.5" cy="17.8" r="0.42" fill="rgb(226,226,226)"/><circle cx="35.7" cy="35.5" r="0.70" fill="rgb(243,243,243)"/><circle cx="33.8" cy="34.6" r="0.32" fill="rgb(235,235,235)"/><circle cx="12.6" cy="42.5" r="0.69" fill="rgb(200,200,200)"/><circle cx="5.3" cy="41.2" r="0.51" fill="rgb(203,203,203)"/><circle cx="37.0" cy="37.5" r="0.68" fill="rgb(249,249,249)"/><circle cx="2.3" cy="42.4" r="0.90" fill="rgb(216,216,216)"/><circle cx="7.6" cy="47.0" r="0.51" fill="rgb(206,206,206)"/><circle cx="11.2" cy="44.5" r="0.35" fill="rgb(215,215,215)"/><circle cx="3.9" cy="35.3" r="0.89" fill="rgb(205,205,205)"/><circle cx="1.0" cy="50.1" r="0.88" fill="rgb(243,243,243)"/><circle cx="29.2" cy="37.2" r="0.52" fill="rgb(204,204,204)"/><circle cx="10.2" cy="34.0" r="0.77" fill="rgb(213,213,213)"/><circle cx="8.8" cy="50.5" r="0.68" fill="rgb(238,238,238)"/><circle cx="3.3" cy="36.3" r="0.82" fill="rgb(234,234,234)"/><circle cx="6.4" cy="40.4" r="0.61" fill="rgb(242,242,242)"/><circle cx="35.8" cy="7.1" r="0.63" fill="rgb(212,212,212)"/><circle cx="2.0" cy="41.8" r="0.49" fill="rgb(213,213,213)"/><circle cx="62.0" cy="10.1" r="0.35" fill="rgb(209,209,209)"/><circle cx="23.7" cy="27.9" r="0.79" fill="rgb(222,222,222)"/><circle cx="54.7" cy="25.1" r="0.77" fill="rgb(205,205,205)"/><circle cx="58.0" cy="29.9" r="0.54" fill="rgb(203,203,203)"/><circle cx="34.9" cy="6.5" r="0.84" fill="rgb(237,237,237)"/><circle cx="42.4" cy="25.6" r="0.37" fill="rgb(193,193,193)"/><circle cx="60.0" cy="18.7" r="0.55" fill="rgb(211,211,211)"/><circle cx="53.6" cy="17.8" r="0.79" fill="rgb(200,200,200)"/><circle cx="68.0" cy="3.2" r="0.60" fill="rgb(239,239,239)"/><circle cx="12.2" cy="29.0" r="0.85" fill="rgb(197,197,197)"/><circle cx="7.8" cy="41.2" r="0.53" fill="rgb(196,196,196)"/><circle cx="3.2" cy="37.6" r="0.56" fill="rgb(224,224,224)"/><circle cx="17.3" cy="35.8" r="0.84" fill="rgb(206,206,206)"/><circle cx="0.8" cy="32.4" r="0.59" fill="rgb(192,192,192)"/><circle cx="69.5" cy="7.3" r="0.83" fill="rgb(203,203,203)"/><circle cx="60.1" cy="24.0" r="0.83" fill="rgb(236,236,236)"/><circle cx="20.1" cy="30.0" r="0.49" fill="rgb(213,213,213)"/><circle cx="9.1" cy="48.3" r="0.55" fill="rgb(226,226,226)"/><circle cx="10.5" cy="36.1" r="0.47" fill="rgb(195,195,195)"/><circle cx="4.7" cy="48.7" r="0.77" fill="rgb(196,196,196)"/><circle cx="39.7" cy="39.5" r="0.51" fill="rgb(219,219,219)"/><circle cx="18.8" cy="45.6" r="0.34" fill="rgb(245,245,245)"/><circle cx="0.8" cy="34.0" r="0.33" fill="rgb(246,246,246)"/><circle cx="50.9" cy="45.5" r="0.47" fill="rgb(201,201,201)"/><circle cx="7.8" cy="34.8" r="0.43" fill="rgb(191,191,191)"/><circle cx="30.2" cy="29.0" r="0.89" fill="rgb(219,219,219)"/><circle cx="3.0" cy="7.2" r="0.85" fill="rgb(197,197,197)"/><circle cx="32.0" cy="44.7" r="0.31" fill="rgb(221,221,221)"/><circle cx="20.1" cy="11.1" r="0.36" fill="rgb(239,239,239)"/><circle cx="13.7" cy="47.2" r="0.88" fill="rgb(200,200,200)"/><circle cx="8.8" cy="24.6" r="0.30" fill="rgb(237,237,237)"/><circle cx="3.5" cy="42.7" r="0.70" fill="rgb(211,211,211)"/><circle cx="66.5" cy="42.5" r="0.44" fill="rgb(215,215,215)"/><circle cx="3.2" cy="48.3" r="0.77" fill="rgb(238,238,238)"/><circle cx="4.0" cy="3.3" r="0.47" fill="rgb(197,197,197)"/><circle cx="55.2" cy="40.7" r="0.76" fill="rgb(241,241,241)"/><circle cx="59.4" cy="13.6" r="0.89" fill="rgb(212,212,212)"/><circle cx="43.6" cy="43.8" r="0.66" fill="rgb(210,210,210)"/><circle cx="48.0" cy="0.2" r="0.76" fill="rgb(228,228,228)"/><circle cx="5.6" cy="37.3" r="0.57" fill="rgb(196,196,196)"/><circle cx="4.5" cy="40.0" r="0.42" fill="rgb(211,211,211)"/><circle cx="54.2" cy="14.7" r="0.89" fill="rgb(199,199,199)"/><circle cx="1.9" cy="37.7" r="0.84" fill="rgb(230,230,230)"/><circle cx="14.2" cy="42.0" r="0.46" fill="rgb(243,243,243)"/><circle cx="10.2" cy="47.3" r="0.67" fill="rgb(221,221,221)"/><circle cx="38.5" cy="6.2" r="0.89" fill="rgb(209,209,209)"/><circle cx="55.6" cy="33.0" r="0.69" fill="rgb(216,216,216)"/><circle cx="14.3" cy="49.1" r="0.80" fill="rgb(239,239,239)"/><circle cx="61.6" cy="18.6" r="0.79" fill="rgb(197,197,197)"/><circle cx="0.0" cy="10.9" r="0.78" fill="rgb(197,197,197)"/><circle cx="7.5" cy="35.2" r="0.64" fill="rgb(228,228,228)"/><circle cx="29.7" cy="25.8" r="0.82" fill="rgb(238,238,238)"/><circle cx="10.7" cy="34.5" r="0.84" fill="rgb(193,193,193)"/><circle cx="40.2" cy="9.8" r="0.79" fill="rgb(216,216,216)"/><circle cx="37.2" cy="18.9" r="0.82" fill="rgb(195,195,195)"/><circle cx="14.8" cy="44.0" r="0.39" fill="rgb(228,228,228)"/><circle cx="6.9" cy="37.0" r="0.78" fill="rgb(242,242,242)"/><circle cx="9.5" cy="36.6" r="0.52" fill="rgb(215,215,215)"/><circle cx="38.3" cy="51.4" r="0.83" fill="rgb(226,226,226)"/><circle cx="10.0" cy="39.3" r="0.66" fill="rgb(217,217,217)"/><circle cx="45.6" cy="32.5" r="0.59" fill="rgb(212,212,212)"/><circle cx="56.2" cy="24.1" r="0.47" fill="rgb(222,222,222)"/><circle cx="39.2" cy="30.4" r="0.50" fill="rgb(200,200,200)"/><circle cx="26.1" cy="30.4" r="0.52" fill="rgb(215,215,215)"/><circle cx="12.3" cy="5.4" r="0.34" fill="rgb(224,224,224)"/><circle cx="67.9" cy="26.2" r="0.76" fill="rgb(219,219,219)"/><circle cx="36.6" cy="12.0" r="0.62" fill="rgb(210,210,210)"/><circle cx="65.3" cy="32.7" r="0.84" fill="rgb(235,235,235)"/><circle cx="67.5" cy="17.5" r="0.44" fill="rgb(233,233,233)"/><circle cx="58.5" cy="35.8" r="0.39" fill="rgb(245,245,245)"/><circle cx="2.1" cy="31.4" r="0.41" fill="rgb(223,223,223)"/><circle cx="13.0" cy="41.1" r="0.30" fill="rgb(199,199,199)"/><circle cx="24.4" cy="35.1" r="0.43" fill="rgb(215,215,215)"/><circle cx="48.5" cy="50.8" r="0.31" fill="rgb(192,192,192)"/><circle cx="67.6" cy="18.9" r="0.88" fill="rgb(222,222,222)"/><circle cx="46.9" cy="29.1" r="0.79" fill="rgb(231,231,231)"/><circle cx="58.2" cy="22.2" r="0.51" fill="rgb(228,228,228)"/><circle cx="8.7" cy="49.4" r="0.49" fill="rgb(194,194,194)"/><circle cx="14.3" cy="2.4" r="0.89" fill="rgb(190,190,190)"/><circle cx="33.8" cy="21.8" r="0.34" fill="rgb(201,201,201)"/><circle cx="24.3" cy="17.0" r="0.59" fill="rgb(213,213,213)"/><circle cx="25.6" cy="9.8" r="0.55" fill="rgb(228,228,228)"/><circle cx="64.1" cy="48.1" r="0.57" fill="rgb(192,192,192)"/><circle cx="3.6" cy="48.5" r="0.54" fill="rgb(239,239,239)"/><circle cx="3.6" cy="39.8" r="0.57" fill="rgb(220,220,220)"/><circle cx="5.0" cy="38.2" r="0.66" fill="rgb(211,211,211)"/><circle cx="37.2" cy="44.8" r="0.80" fill="rgb(202,202,202)"/><circle cx="1.3" cy="36.4" r="0.85" fill="rgb(216,216,216)"/><circle cx="63.6" cy="4.1" r="0.58" fill="rgb(195,195,195)"/><circle cx="60.7" cy="43.7" r="0.64" fill="rgb(221,221,221)"/><circle cx="16.2" cy="3.0" r="0.77" fill="rgb(216,216,216)"/><circle cx="42.4" cy="31.5" r="0.40" fill="rgb(221,221,221)"/><circle cx="63.2" cy="21.6" r="0.35" fill="rgb(213,213,213)"/><circle cx="4.4" cy="24.1" r="0.38" fill="rgb(200,200,200)"/><circle cx="48.7" cy="6.6" r="0.78" fill="rgb(214,214,214)"/><circle cx="8.0" cy="36.6" r="0.65" fill="rgb(192,192,192)"/><circle cx="60.4" cy="48.1" r="0.67" fill="rgb(191,191,191)"/><circle cx="11.0" cy="17.3" r="0.40" fill="rgb(192,192,192)"/><circle cx="11.5" cy="38.1" r="0.36" fill="rgb(223,223,223)"/><circle cx="3.5" cy="34.0" r="0.55" fill="rgb(199,199,199)"/><circle cx="46.8" cy="8.8" r="0.65" fill="rgb(234,234,234)"/><circle cx="5.6" cy="29.6" r="0.60" fill="rgb(249,249,249)"/><circle cx="1.7" cy="41.1" r="0.84" fill="rgb(197,197,197)"/><circle cx="4.4" cy="32.4" r="0.70" fill="rgb(203,203,203)"/><circle cx="44.4" cy="12.0" r="0.85" fill="rgb(249,249,249)"/><circle cx="5.4" cy="13.9" r="0.46" fill="rgb(247,247,247)"/><circle cx="5.4" cy="39.0" r="0.61" fill="rgb(248,248,248)"/><circle cx="4.9" cy="24.1" r="0.56" fill="rgb(208,208,208)"/><circle cx="2.7" cy="48.5" r="0.75" fill="rgb(218,218,218)"/><circle cx="21.0" cy="36.1" r="0.51" fill="rgb(241,241,241)"/><circle cx="16.1" cy="18.6" r="0.45" fill="rgb(224,224,224)"/><circle cx="6.4" cy="0.5" r="0.52" fill="rgb(217,217,217)"/><circle cx="4.1" cy="37.7" r="0.57" fill="rgb(198,198,198)"/><circle cx="54.2" cy="28.4" r="0.56" fill="rgb(212,212,212)"/><circle cx="18.0" cy="29.7" r="0.88" fill="rgb(213,213,213)"/><circle cx="21.1" cy="32.4" r="0.44" fill="rgb(225,225,225)"/><circle cx="10.8" cy="31.0" r="0.73" fill="rgb(209,209,209)"/><circle cx="8.0" cy="41.7" r="0.31" fill="rgb(197,197,197)"/><circle cx="18.9" cy="25.5" r="0.69" fill="rgb(199,199,199)"/><circle cx="0.5" cy="46.6" r="0.53" fill="rgb(215,215,215)"/><circle cx="8.9" cy="45.8" r="0.76" fill="rgb(249,249,249)"/><circle cx="21.0" cy="4.8" r="0.88" fill="rgb(206,206,206)"/><circle cx="53.3" cy="28.2" r="0.32" fill="rgb(204,204,204)"/><circle cx="43.2" cy="32.2" r="0.89" fill="rgb(197,197,197)"/><circle cx="13.4" cy="1.0" r="0.34" fill="rgb(222,222,222)"/><circle cx="10.8" cy="39.4" r="0.54" fill="rgb(227,227,227)"/><circle cx="13.8" cy="32.2" r="0.32" fill="rgb(230,230,230)"/><circle cx="9.2" cy="37.6" r="0.62" fill="rgb(213,213,213)"/><circle cx="8.8" cy="7.9" r="0.68" fill="rgb(247,247,247)"/><circle cx="6.0" cy="35.3" r="0.75" fill="rgb(223,223,223)"/><circle cx="45.1" cy="20.2" r="0.75" fill="rgb(229,229,229)"/><circle cx="11.9" cy="10.1" r="0.82" fill="rgb(208,208,208)"/><circle cx="28.7" cy="22.9" r="0.42" fill="rgb(209,209,209)"/><circle cx="64.2" cy="30.2" r="0.45" fill="rgb(227,227,227)"/><circle cx="3.8" cy="42.0" r="0.38" fill="rgb(228,228,228)"/><circle cx="51.5" cy="34.5" r="0.60" fill="rgb(202,202,202)"/><circle cx="8.2" cy="39.4" r="0.45" fill="rgb(198,198,198)"/><circle cx="40.5" cy="19.8" r="0.85" fill="rgb(193,193,193)"/><circle cx="67.5" cy="30.7" r="0.84" fill="rgb(247,247,247)"/><circle cx="46.5" cy="12.8" r="0.50" fill="rgb(202,202,202)"/><circle cx="27.3" cy="29.1" r="0.62" fill="rgb(208,208,208)"/><circle cx="53.9" cy="50.7" r="0.80" fill="rgb(215,215,215)"/><circle cx="22.8" cy="18.5" r="0.65" fill="rgb(192,192,192)"/><circle cx="52.8" cy="33.1" r="0.89" fill="rgb(232,232,232)"/><circle cx="1.3" cy="1.0" r="0.33" fill="rgb(193,193,193)"/><circle cx="7.7" cy="47.0" r="0.41" fill="rgb(204,204,204)"/><circle cx="4.4" cy="45.3" r="0.40" fill="rgb(247,247,247)"/><line x1="28.9" y1="21" x2="43.7" y2="21.7" stroke="#dcdcdc" stroke-width="0.4" opacity="0.85"/><line x1="43.7" y1="21.7" x2="69.6" y2="30" stroke="#dcdcdc" stroke-width="0.4" opacity="0.85"/><line x1="28.9" y1="21" x2="8" y2="36" stroke="#dcdcdc" stroke-width="0.4" opacity="0.85"/><line x1="39.9" y1="31.2" x2="43.7" y2="21.7" stroke="#dcdcdc" stroke-width="0.4" opacity="0.85"/><line x1="14.1" y1="7.9" x2="28.9" y2="21" stroke="#dcdcdc" stroke-width="0.4" opacity="0.85"/><circle cx="14.1" cy="7.9" r="3.0" fill="#b4b4b4" stroke="#f0f0f0" stroke-width="2.00" filter="url(#hblur3)"/><circle cx="28.9" cy="21" r="2.5" fill="#b4b4b4" stroke="#f0f0f0" stroke-width="1.70" filter="url(#hblur3)"/><circle cx="43.7" cy="21.7" r="2.5" fill="#b4b4b4" stroke="#f0f0f0" stroke-width="1.70" filter="url(#hblur3)"/><circle cx="39.9" cy="31.2" r="2.5" fill="#b4b4b4" stroke="#f0f0f0" stroke-width="1.70" filter="url(#hblur3)"/><circle cx="4" cy="23.8" r="1.8" fill="#b4b4b4" stroke="#f0f0f0" stroke-width="1.20" filter="url(#hblur3)"/><circle cx="1.8" cy="44.9" r="6" fill="#f2f2f2" opacity="0.55" filter="url(#hblur1)"/><circle cx="62" cy="38" r="1.9" fill="#b4b4b4" stroke="#f0f0f0" stroke-width="1.25" filter="url(#hblur3)"/><circle cx="54" cy="34" r="1.5" fill="#b4b4b4" stroke="#f0f0f0" stroke-width="1.00" filter="url(#hblur3)"/></g>
<g transform="translate(278.4 778.6)" clip-path="url(#hclip)"><rect width="69.6" height="51.8" fill="#380202"/><use href="#hred3"/></g>
<g transform="translate(348.9 778.6)" clip-path="url(#hclip)"><rect width="69.6" height="51.8" fill="#030a1c"/><use href="#hdapi3"/></g>
<g transform="translate(419.5 778.6)" clip-path="url(#hclip)"><rect width="69.6" height="51.8" fill="#160414"/><use href="#hdapi3"/><use href="#hred3" style="mix-blend-mode:screen"/></g>
<rect x="263.2" y="827.7" width="11.7" height="1.1" fill="#fff" stroke="none" stroke-width="1" />
<text x="269.0" y="826.6" text-anchor="middle" fill="#fff" style='font-family:"Liberation Serif",serif;font-size:2.8px;font-weight:bold;' >200 μM</text>
<rect x="473.7" y="827.7" width="12.7" height="1.1" fill="#fff" stroke="none" stroke-width="1" />
<text x="480.0" y="826.6" text-anchor="middle" fill="#fff" style='font-family:"Liberation Serif",serif;font-size:2.8px;font-weight:bold;' >50 μM</text>
<text x="521.8" y="612.4" text-anchor="start" fill="#000" style='font-family:"Liberation Serif",serif;font-size:11.5px;font-weight:bold;' >i</text>
<text x="613" y="630.4" text-anchor="middle" fill="#000" style='font-family:"Liberation Serif",serif;font-size:6.7px;font-weight:bold;' >Cardiac beating rate</text>
<line x1="554.0" y1="646.6" x2="554.0" y2="758.6" stroke="#000" stroke-width="1.0" />
<line x1="553.5" y1="758.1" x2="671.8" y2="758.1" stroke="#000" stroke-width="1.0" />
<line x1="551.0" y1="758.1" x2="554.0" y2="758.1" stroke="#000" stroke-width="1.0" />
<text x="550.6" y="760.0" text-anchor="end" fill="#000" style='font-family:"Liberation Serif",serif;font-size:5.6px;font-weight:bold;' >0</text>
<line x1="551.0" y1="730.35" x2="554.0" y2="730.35" stroke="#000" stroke-width="1.0" />
<text x="550.6" y="732.25" text-anchor="end" fill="#000" style='font-family:"Liberation Serif",serif;font-size:5.6px;font-weight:bold;' >25</text>
<line x1="551.0" y1="702.6" x2="554.0" y2="702.6" stroke="#000" stroke-width="1.0" />
<text x="550.6" y="704.5" text-anchor="end" fill="#000" style='font-family:"Liberation Serif",serif;font-size:5.6px;font-weight:bold;' >50</text>
<line x1="551.0" y1="674.85" x2="554.0" y2="674.85" stroke="#000" stroke-width="1.0" />
<text x="550.6" y="676.75" text-anchor="end" fill="#000" style='font-family:"Liberation Serif",serif;font-size:5.6px;font-weight:bold;' >75</text>
<line x1="551.0" y1="647.1" x2="554.0" y2="647.1" stroke="#000" stroke-width="1.0" />
<text x="550.6" y="649.0" text-anchor="end" fill="#000" style='font-family:"Liberation Serif",serif;font-size:5.6px;font-weight:bold;' >100</text>
<line x1="566.1" y1="758.1" x2="566.1" y2="761.1" stroke="#000" stroke-width="1.0" />
<text x="566.1" y="766.4" text-anchor="middle" fill="#000" style='font-family:"Liberation Serif",serif;font-size:5.6px;font-weight:bold;' >1</text>
<line x1="584.76" y1="758.1" x2="584.76" y2="761.1" stroke="#000" stroke-width="1.0" />
<text x="584.76" y="766.4" text-anchor="middle" fill="#000" style='font-family:"Liberation Serif",serif;font-size:5.6px;font-weight:bold;' >2</text>
<line x1="603.4200000000001" y1="758.1" x2="603.4200000000001" y2="761.1" stroke="#000" stroke-width="1.0" />
<text x="603.4200000000001" y="766.4" text-anchor="middle" fill="#000" style='font-family:"Liberation Serif",serif;font-size:5.6px;font-weight:bold;' >3</text>
<line x1="622.08" y1="758.1" x2="622.08" y2="761.1" stroke="#000" stroke-width="1.0" />
<text x="622.08" y="766.4" text-anchor="middle" fill="#000" style='font-family:"Liberation Serif",serif;font-size:5.6px;font-weight:bold;' >4</text>
<line x1="640.74" y1="758.1" x2="640.74" y2="761.1" stroke="#000" stroke-width="1.0" />
<text x="640.74" y="766.4" text-anchor="middle" fill="#000" style='font-family:"Liberation Serif",serif;font-size:5.6px;font-weight:bold;' >5</text>
<line x1="659.4" y1="758.1" x2="659.4" y2="761.1" stroke="#000" stroke-width="1.0" />
<text x="659.4" y="766.4" text-anchor="middle" fill="#000" style='font-family:"Liberation Serif",serif;font-size:5.6px;font-weight:bold;' >6</text>
<text x="613" y="776.8" text-anchor="middle" fill="#000" style='font-family:"Liberation Serif",serif;font-size:6.0px;font-weight:bold;' >Days</text>
<text x="538.7" y="702.2" text-anchor="middle" fill="#000" style='font-family:"Liberation Serif",serif;font-size:6.0px;font-weight:bold;' transform="rotate(-90 538.7 702.2)" >Frequency of beating EB (%)</text>
<polyline points="566.10,758.10 584.76,758.10 603.42,758.10 622.08,677.07 640.74,650.43 659.40,649.88" fill="none" stroke="#222" stroke-width="0.9" stroke-linejoin="round" />
<path d="M622.08 670.41 L622.08 683.73 M620.78 670.41 L623.38 670.41 M620.78 683.73 L623.38 683.73" stroke="#222" stroke-width="0.7" fill="none"/>
<path d="M640.74 649.10 L640.74 651.76 M639.44 649.10 L642.04 649.10 M639.44 651.76 L642.04 651.76" stroke="#222" stroke-width="0.7" fill="none"/>
<path d="M659.40 648.21 L659.40 651.54 M658.10 648.21 L660.70 648.21 M658.10 651.54 L660.70 651.54" stroke="#222" stroke-width="0.7" fill="none"/>
<polyline points="566.10,758.10 584.76,758.10 603.42,758.10 622.08,748.67 640.74,697.05 659.40,649.32" fill="none" stroke="#ff2020" stroke-width="0.9" stroke-linejoin="round" />
<path d="M622.08 745.89 L622.08 751.44 M620.78 745.89 L623.38 745.89 M620.78 751.44 L623.38 751.44" stroke="#ff2020" stroke-width="0.7" fill="none"/>
<path d="M640.74 694.83 L640.74 699.27 M639.44 694.83 L642.04 694.83 M639.44 699.27 L642.04 699.27" stroke="#ff2020" stroke-width="0.7" fill="none"/>
<path d="M659.40 647.66 L659.40 650.99 M658.10 647.66 L660.70 647.66 M658.10 650.99 L660.70 650.99" stroke="#ff2020" stroke-width="0.7" fill="none"/>
<polyline points="566.10,758.10 584.76,758.10 603.42,758.10 622.08,720.91 640.74,670.41 659.40,648.76" fill="none" stroke="#2020ff" stroke-width="0.9" stroke-linejoin="round" />
<path d="M622.08 718.14 L622.08 723.69 M620.78 718.14 L623.38 718.14 M620.78 723.69 L623.38 723.69" stroke="#2020ff" stroke-width="0.7" fill="none"/>
<path d="M640.74 664.86 L640.74 675.96 M639.44 664.86 L642.04 664.86 M639.44 675.96 L642.04 675.96" stroke="#2020ff" stroke-width="0.7" fill="none"/>
<path d="M659.40 647.10 L659.40 650.43 M658.10 647.10 L660.70 647.10 M658.10 650.43 L660.70 650.43" stroke="#2020ff" stroke-width="0.7" fill="none"/>
<polyline points="566.10,758.10 584.76,758.10 603.42,758.10 622.08,665.97 640.74,647.65 659.40,647.65" fill="none" stroke="#48e048" stroke-width="0.9" stroke-linejoin="round" />
<line x1="557.7" y1="652.9" x2="565.4" y2="652.9" stroke="#222" stroke-width="0.9" />
<text x="570.1" y="654.8" text-anchor="start" fill="#000" style='font-family:"Liberation Serif",serif;font-size:5.7px;font-weight:bold;' >ET</text>
<line x1="557.7" y1="660.5" x2="565.4" y2="660.5" stroke="#ff2020" stroke-width="0.9" />
<text x="570.1" y="662.4" text-anchor="start" fill="#000" style='font-family:"Liberation Serif",serif;font-size:5.7px;font-weight:bold;' >WT</text>
<line x1="557.7" y1="668.2" x2="565.4" y2="668.2" stroke="#2020ff" stroke-width="0.9" />
<text x="570.1" y="670.1" text-anchor="start" fill="#000" style='font-family:"Liberation Serif",serif;font-size:5.7px;font-weight:bold;' >K238R</text>
<line x1="557.7" y1="675.9" x2="565.4" y2="675.9" stroke="#48e048" stroke-width="0.9" />
<text x="570.1" y="677.8" text-anchor="start" fill="#000" style='font-family:"Liberation Serif",serif;font-size:5.7px;font-weight:bold;' >K412R</text>
<line x1="589.9" y1="659.6" x2="589.9" y2="678.2" stroke="#222" stroke-width="0.6" />
<text x="593.8" y="668.3" text-anchor="middle" fill="#000" style='font-family:"Liberation Serif",serif;font-size:5.6px;font-weight:bold;font-style:italic;' transform="rotate(90 593.8 668.3)" >Dnmt3L</text>
<text x="651" y="695.484" text-anchor="middle" fill="#2e8b2e" style='font-family:"Liberation Serif",serif;font-size:6.2px;font-weight:bold;font-style:italic;' >###</text>
<text x="651" y="701.484" text-anchor="middle" fill="#1a1aff" style='font-family:"Liberation Serif",serif;font-size:6.2px;font-weight:bold;font-style:italic;' >###</text>
<text x="651" y="708.86" text-anchor="middle" fill="#1a1aff" style='font-family:"Liberation Serif",serif;font-size:6.0px;font-weight:bold;' >***</text>
<text x="651" y="713.5600000000001" text-anchor="middle" fill="#ff1a1a" style='font-family:"Liberation Serif",serif;font-size:6.0px;font-weight:bold;' >***</text>
<text x="637.6" y="731.284" text-anchor="middle" fill="#2e8b2e" style='font-family:"Liberation Serif",serif;font-size:6.2px;font-weight:bold;font-style:italic;' >###</text>
<text x="637.6" y="737.484" text-anchor="middle" fill="#1a1aff" style='font-family:"Liberation Serif",serif;font-size:6.2px;font-weight:bold;font-style:italic;' >###</text>
<text x="637.6" y="744.76" text-anchor="middle" fill="#2e8b2e" style='font-family:"Liberation Serif",serif;font-size:6.0px;font-weight:bold;' >*</text>
<text x="637.6" y="749.76" text-anchor="middle" fill="#1a1aff" style='font-family:"Liberation Serif",serif;font-size:6.0px;font-weight:bold;' >***</text>
<text x="637.6" y="755.46" text-anchor="middle" fill="#ff1a1a" style='font-family:"Liberation Serif",serif;font-size:6.0px;font-weight:bold;' >***</text>
</g>
</svg>
</body></html>
